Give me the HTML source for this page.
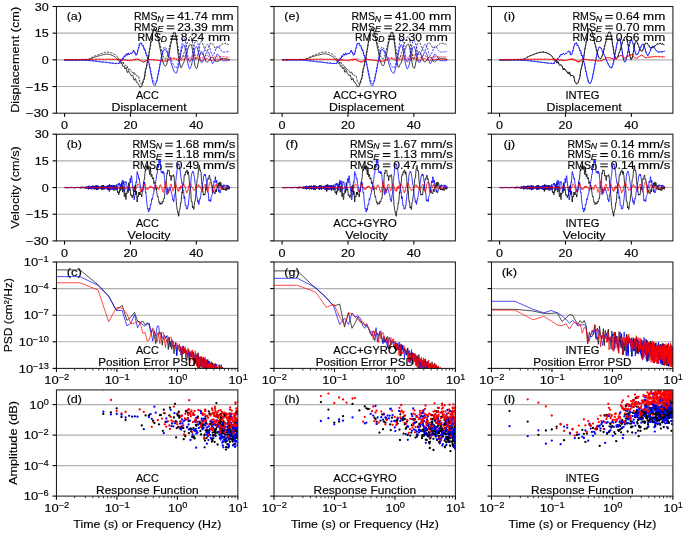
<!DOCTYPE html><html><head><meta charset="utf-8"><title>figure</title><style>html,body{margin:0;padding:0;background:#fff;}svg{display:block;filter:blur(0.3px);}text{font-family:"Liberation Sans",sans-serif;fill:#000;stroke:#000;stroke-width:0.15px;}</style></head><body>
<svg width="685" height="533" viewBox="0 0 685 533">
<rect width="685" height="533" fill="#fff"/>
<defs>
<clipPath id="clip00"><rect x="56.45" y="6.5" width="181.4" height="106.7"/></clipPath>
<clipPath id="clip01"><rect x="56.45" y="134.2" width="181.4" height="106.7"/></clipPath>
<clipPath id="clip02"><rect x="56.45" y="262" width="181.4" height="106.4"/></clipPath>
<clipPath id="clip03"><rect x="56.45" y="389.9" width="181.4" height="106.2"/></clipPath>
<clipPath id="clip10"><rect x="274" y="6.5" width="181.4" height="106.7"/></clipPath>
<clipPath id="clip11"><rect x="274" y="134.2" width="181.4" height="106.7"/></clipPath>
<clipPath id="clip12"><rect x="274" y="262" width="181.4" height="106.4"/></clipPath>
<clipPath id="clip13"><rect x="274" y="389.9" width="181.4" height="106.2"/></clipPath>
<clipPath id="clip20"><rect x="491.5" y="6.5" width="181.4" height="106.7"/></clipPath>
<clipPath id="clip21"><rect x="491.5" y="134.2" width="181.4" height="106.7"/></clipPath>
<clipPath id="clip22"><rect x="491.5" y="262" width="181.4" height="106.4"/></clipPath>
<clipPath id="clip23"><rect x="491.5" y="389.9" width="181.4" height="106.2"/></clipPath>
</defs>
<line x1="52.55" y1="6.5" x2="56.45" y2="6.5" stroke="#000" stroke-width="1.1"/>
<text x="48.7" y="10.6" text-anchor="end" font-size="11.5" textLength="14" lengthAdjust="spacingAndGlyphs">30</text>
<line x1="56.45" y1="33.17" x2="237.85" y2="33.17" stroke="#b0b0b0" stroke-width="1.1"/>
<line x1="52.55" y1="33.17" x2="56.45" y2="33.17" stroke="#000" stroke-width="1.1"/>
<text x="48.7" y="37.27" text-anchor="end" font-size="11.5" textLength="14" lengthAdjust="spacingAndGlyphs">15</text>
<line x1="56.45" y1="59.85" x2="237.85" y2="59.85" stroke="#b0b0b0" stroke-width="1.1"/>
<line x1="52.55" y1="59.85" x2="56.45" y2="59.85" stroke="#000" stroke-width="1.1"/>
<text x="48.7" y="63.95" text-anchor="end" font-size="11.5" textLength="7" lengthAdjust="spacingAndGlyphs">0</text>
<line x1="56.45" y1="86.53" x2="237.85" y2="86.53" stroke="#b0b0b0" stroke-width="1.1"/>
<line x1="52.55" y1="86.53" x2="56.45" y2="86.53" stroke="#000" stroke-width="1.1"/>
<text x="48.7" y="90.62" text-anchor="end" font-size="11.5" textLength="23.2" lengthAdjust="spacingAndGlyphs">−15</text>
<line x1="52.55" y1="113.2" x2="56.45" y2="113.2" stroke="#000" stroke-width="1.1"/>
<text x="48.7" y="117.3" text-anchor="end" font-size="11.5" textLength="23.2" lengthAdjust="spacingAndGlyphs">−30</text>
<line x1="64.55" y1="113.2" x2="64.55" y2="116.8" stroke="#000" stroke-width="1.1"/>
<text x="64.55" y="128.9" text-anchor="middle" font-size="11.5" textLength="7" lengthAdjust="spacingAndGlyphs">0</text>
<line x1="130.43" y1="113.2" x2="130.43" y2="116.8" stroke="#000" stroke-width="1.1"/>
<text x="130.43" y="128.9" text-anchor="middle" font-size="11.5" textLength="14" lengthAdjust="spacingAndGlyphs">20</text>
<line x1="196.31" y1="113.2" x2="196.31" y2="116.8" stroke="#000" stroke-width="1.1"/>
<text x="196.31" y="128.9" text-anchor="middle" font-size="11.5" textLength="14" lengthAdjust="spacingAndGlyphs">40</text>
<g clip-path="url(#clip00)">
<path d="M64.5,59.9 64.9,59.9 65.2,59.9 65.6,59.9 65.9,59.9 66.3,59.9 66.6,59.9 67.0,59.9 67.3,59.9 67.7,59.9 68.0,59.9 68.3,59.9 68.7,59.9 69.0,59.9 69.4,59.9 69.7,59.9 70.1,59.9 70.4,59.9 70.8,59.9 71.1,59.9 71.4,59.9 71.8,59.9 72.1,59.9 72.5,59.9 72.8,59.9 73.2,59.9 73.5,59.9 73.9,59.9 74.2,59.9 74.5,59.9 74.9,59.9 75.2,59.9 75.6,59.9 75.9,59.9 76.3,59.9 76.6,59.9 77.0,59.9 77.3,59.9 77.6,59.9 78.0,59.9 78.3,59.9 78.7,59.9 79.0,59.9 79.4,59.9 79.7,59.9 80.1,59.9 80.4,59.9 80.7,59.9 81.1,59.8 81.4,59.8 81.8,59.8 82.1,59.8 82.5,59.8 82.8,59.8 83.2,59.8 83.5,59.8 83.9,59.8 84.2,59.8 84.5,59.8 84.9,59.8 85.2,59.8 85.6,59.8 85.9,59.8 86.3,59.8 86.6,59.8 87.0,59.7 87.3,59.7 87.6,59.7 88.0,59.6 88.3,59.5 88.7,59.4 89.0,59.3 89.4,59.2 89.7,59.0 90.1,58.9 90.4,58.8 90.7,58.6 91.1,58.5 91.4,58.3 91.8,58.2 92.1,58.0 92.5,57.9 92.8,57.7 93.2,57.6 93.5,57.5 93.8,57.3 94.2,57.2 94.5,57.1 94.9,57.0 95.2,56.9 95.6,56.8 95.9,56.7 96.3,56.6 96.6,56.5 96.9,56.4 97.3,56.3 97.6,56.2 98.0,56.1 98.3,56.0 98.7,55.9 99.0,55.8 99.4,55.7 99.7,55.6 100.1,55.5 100.4,55.4 100.7,55.3 101.1,55.2 101.4,55.1 101.8,55.0 102.1,54.9 102.5,54.9 102.8,54.8 103.2,54.7 103.5,54.6 103.8,54.6 104.2,54.5 104.5,54.4 104.9,54.4 105.2,54.3 105.6,54.3 105.9,54.3 106.3,54.2 106.6,54.2 106.9,54.2 107.3,54.2 107.6,54.2 108.0,54.2 108.3,54.2 108.7,54.2 109.0,54.3 109.4,54.4 109.7,54.4 110.0,54.5 110.4,54.6 110.7,54.8 111.1,54.9 111.4,55.0 111.8,55.2 112.1,55.3 112.5,55.5 112.8,55.7 113.1,55.9 113.5,56.0 113.8,56.2 114.2,56.4 114.5,56.6 114.9,56.8 115.2,57.1 115.6,57.4 115.9,57.7 116.2,58.1 116.6,58.5 116.9,58.8 117.3,59.0 117.6,59.3 118.0,59.7 118.3,60.4 118.7,60.9 119.0,61.1 119.4,61.2 119.7,61.6 120.0,62.3 120.4,63.0 120.7,63.4 121.1,63.4 121.4,63.2 121.8,63.2 122.1,63.9 122.5,65.0 122.8,66.1 123.1,66.6 123.5,66.3 123.8,66.0 124.2,66.4 124.5,67.6 124.9,68.8 125.2,68.8 125.6,68.0 125.9,67.3 126.2,67.8 126.6,69.5 126.9,71.4 127.3,72.5 127.6,72.4 128.0,71.7 128.3,70.9 128.7,70.8 129.0,71.5 129.3,72.6 129.7,73.4 130.0,73.8 130.4,74.0 130.7,74.5 131.1,75.3 131.4,75.9 131.8,75.9 132.1,75.4 132.4,75.0 132.8,75.4 133.1,76.6 133.5,78.1 133.8,79.5 134.2,80.2 134.5,80.1 134.9,79.3 135.2,78.6 135.6,78.8 135.9,80.1 136.2,81.7 136.6,82.4 136.9,82.3 137.3,82.1 137.6,82.6 138.0,83.6 138.3,84.3 138.7,84.4 139.0,84.6 139.3,85.5 139.7,86.7 140.0,87.4 140.4,87.2 140.7,86.6 141.1,86.5 141.4,86.6 141.8,86.4 142.1,85.4 142.4,83.9 142.8,82.3 143.1,80.9 143.5,79.9 143.8,79.2 144.2,78.2 144.5,76.5 144.9,73.9 145.2,71.1 145.5,69.2 145.9,68.4 146.2,67.7 146.6,65.9 146.9,63.3 147.3,61.1 147.6,60.1 148.0,59.6 148.3,58.2 148.6,55.6 149.0,52.9 149.3,51.0 149.7,49.6 150.0,47.7 150.4,45.1 150.7,42.4 151.1,40.5 151.4,39.2 151.8,37.9 152.1,36.1 152.4,34.2 152.8,32.7 153.1,31.4 153.5,30.1 153.8,28.9 154.2,28.3 154.5,28.8 154.9,29.8 155.2,30.5 155.5,30.7 155.9,30.8 156.2,31.4 156.6,32.5 156.9,33.8 157.3,35.0 157.6,36.4 158.0,38.1 158.3,39.9 158.6,41.8 159.0,43.4 159.3,45.0 159.7,46.7 160.0,48.4 160.4,50.1 160.7,51.6 161.1,53.2 161.4,55.0 161.7,57.0 162.1,58.8 162.4,60.3 162.8,61.3 163.1,62.3 163.5,63.2 163.8,64.2 164.2,64.9 164.5,65.5 164.8,65.8 165.2,65.9 165.5,65.9 165.9,65.7 166.2,65.3 166.6,64.6 166.9,63.5 167.3,62.1 167.6,60.5 167.9,58.8 168.3,57.2 168.6,55.9 169.0,54.6 169.3,53.1 169.7,51.1 170.0,48.8 170.4,46.5 170.7,44.6 171.1,43.1 171.4,41.9 171.7,40.4 172.1,38.7 172.4,37.0 172.8,35.6 173.1,34.6 173.5,33.9 173.8,33.4 174.2,33.0 174.5,32.8 174.8,33.0 175.2,33.6 175.5,34.7 175.9,36.4 176.2,38.6 176.6,41.0 176.9,43.5 177.3,46.0 177.6,48.9 177.9,52.1 178.3,55.3 178.6,57.9 179.0,59.9 179.3,61.6 179.7,63.3 180.0,65.0 180.4,66.6 180.7,67.6 181.0,67.8 181.4,67.4 181.7,66.7 182.1,65.8 182.4,65.0 182.8,64.4 183.1,63.9 183.5,63.2 183.8,62.4 184.1,61.4 184.5,60.3 184.8,59.1 185.2,57.7 185.5,56.2 185.9,54.9 186.2,53.9 186.6,53.0 186.9,51.9 187.3,50.7 187.6,49.7 187.9,48.8 188.3,47.9 188.6,46.9 189.0,45.8 189.3,45.1 189.7,44.7 190.0,44.6 190.4,44.5 190.7,44.3 191.0,44.4 191.4,45.1 191.7,46.3 192.1,47.8 192.4,49.6 192.8,51.7 193.1,54.0 193.5,56.2 193.8,58.2 194.1,60.3 194.5,62.6 194.8,64.8 195.2,66.5 195.5,67.5 195.9,67.9 196.2,68.3 196.6,68.6 196.9,68.5 197.2,67.6 197.6,66.0 197.9,64.2 198.3,62.6 198.6,61.1 199.0,59.5 199.3,57.6 199.7,55.7 200.0,54.3 200.3,53.4 200.7,52.7 201.0,52.2 201.4,52.0 201.7,51.9 202.1,52.2 202.4,52.7 202.8,53.3 203.1,54.1 203.5,55.1 203.8,56.3 204.1,57.2 204.5,57.9 204.8,58.4 205.2,59.0 205.5,59.9 205.9,60.9 206.2,61.6 206.6,62.0 206.9,62.1 207.2,62.1 207.6,62.1 207.9,61.9 208.3,61.5 208.6,61.1 209.0,60.7 209.3,60.3 209.7,59.8 210.0,59.1 210.3,58.5 210.7,58.1 211.0,57.9 211.4,57.6 211.7,57.3 212.1,57.1 212.4,57.0 212.8,57.4 213.1,57.9 213.4,58.4 213.8,58.7 214.1,58.9 214.5,59.2 214.8,59.6 215.2,60.2 215.5,60.9 215.9,61.6 216.2,61.9 216.5,61.8 216.9,61.4 217.2,61.2 217.6,61.3 217.9,61.5 218.3,61.5 218.6,60.9 219.0,60.2 219.3,59.7 219.6,59.8 220.0,60.2 220.3,60.3 220.7,59.9 221.0,59.0 221.4,58.3 221.7,57.9 222.1,58.1 222.4,58.5 222.8,58.8 223.1,58.9 223.4,58.6 223.8,58.3 224.1,58.2 224.5,58.3 224.8,58.6 225.2,58.7 225.5,58.6 225.9,58.4 226.2,58.4 226.5,58.5 226.9,58.8 227.2,59.0 227.6,59.1 227.9,59.2 228.3,59.2 228.6,59.3 229.0,59.4 229.3,59.5 229.6,59.7" fill="none" stroke="#000000" stroke-width="0.8" stroke-linejoin="round"/>
<path d="M64.5,59.9 64.9,59.9 65.2,59.9 65.6,59.9 65.9,59.9 66.3,59.9 66.6,59.9 67.0,59.9 67.3,59.9 67.7,59.9 68.0,59.9 68.3,59.9 68.7,59.9 69.0,59.9 69.4,59.9 69.7,59.9 70.1,59.9 70.4,59.9 70.8,59.9 71.1,59.9 71.4,59.9 71.8,59.9 72.1,59.9 72.5,59.9 72.8,59.9 73.2,59.9 73.5,59.9 73.9,59.9 74.2,59.9 74.5,59.9 74.9,59.9 75.2,59.9 75.6,59.9 75.9,59.9 76.3,59.9 76.6,59.9 77.0,59.9 77.3,59.9 77.6,59.9 78.0,59.9 78.3,59.9 78.7,59.9 79.0,59.9 79.4,59.9 79.7,59.9 80.1,59.9 80.4,59.9 80.7,59.9 81.1,59.8 81.4,59.8 81.8,59.8 82.1,59.8 82.5,59.8 82.8,59.8 83.2,59.8 83.5,59.8 83.9,59.8 84.2,59.8 84.5,59.8 84.9,59.8 85.2,59.8 85.6,59.8 85.9,59.8 86.3,59.8 86.6,59.8 87.0,59.7 87.3,59.7 87.6,59.6 88.0,59.5 88.3,59.4 88.7,59.3 89.0,59.1 89.4,59.0 89.7,58.8 90.1,58.6 90.4,58.4 90.7,58.2 91.1,58.0 91.4,57.8 91.8,57.6 92.1,57.3 92.5,57.1 92.8,56.9 93.2,56.7 93.5,56.6 93.8,56.4 94.2,56.2 94.5,56.1 94.9,55.9 95.2,55.8 95.6,55.7 95.9,55.5 96.3,55.4 96.6,55.3 96.9,55.1 97.3,55.0 97.6,54.9 98.0,54.7 98.3,54.6 98.7,54.5 99.0,54.3 99.4,54.2 99.7,54.1 100.1,53.9 100.4,53.8 100.7,53.7 101.1,53.6 101.4,53.4 101.8,53.3 102.1,53.2 102.5,53.1 102.8,53.0 103.2,52.9 103.5,52.8 103.8,52.7 104.2,52.6 104.5,52.6 104.9,52.5 105.2,52.4 105.6,52.4 105.9,52.3 106.3,52.3 106.6,52.2 106.9,52.2 107.3,52.2 107.6,52.2 108.0,52.2 108.3,52.2 108.7,52.3 109.0,52.3 109.4,52.4 109.7,52.4 110.0,52.5 110.4,52.6 110.7,52.7 111.1,52.8 111.4,52.9 111.8,53.0 112.1,53.2 112.5,53.3 112.8,53.5 113.1,53.6 113.5,53.8 113.8,54.0 114.2,54.1 114.5,54.3 114.9,54.5 115.2,54.7 115.6,54.9 115.9,55.3 116.2,55.7 116.6,56.0 116.9,56.3 117.3,56.7 117.6,57.4 118.0,58.3 118.3,58.8 118.7,58.7 119.0,58.6 119.4,59.2 119.7,60.3 120.0,61.0 120.4,60.9 120.7,60.4 121.1,60.6 121.4,61.7 121.8,62.9 122.1,63.1 122.5,62.4 122.8,61.6 123.1,61.7 123.5,62.7 123.8,64.0 124.2,65.0 124.5,65.4 124.9,65.2 125.2,65.1 125.6,65.1 125.9,65.4 126.2,65.4 126.6,65.3 126.9,65.5 127.3,66.6 127.6,68.4 128.0,69.6 128.3,69.6 128.7,68.7 129.0,68.2 129.3,68.7 129.7,69.6 130.0,70.1 130.4,70.0 130.7,70.0 131.1,70.7 131.4,71.6 131.8,72.1 132.1,72.1 132.4,72.4 132.8,73.2 133.1,74.0 133.5,73.8 133.8,72.8 134.2,72.0 134.5,72.2 134.9,73.5 135.2,75.0 135.6,75.9 135.9,76.1 136.2,75.9 136.6,75.6 136.9,75.5 137.3,75.6 137.6,75.8 138.0,75.8 138.3,75.8 138.7,76.3 139.0,77.6 139.3,79.6 139.7,81.3 140.0,82.2 140.4,82.5 140.7,82.8 141.1,83.4 141.4,84.0 141.8,84.1 142.1,83.9 142.4,83.6 142.8,83.3 143.1,82.6 143.5,81.5 143.8,80.2 144.2,79.3 144.5,78.3 144.9,76.7 145.2,74.2 145.5,71.5 145.9,69.5 146.2,68.3 146.6,67.3 146.9,65.8 147.3,63.8 147.6,62.0 148.0,60.9 148.3,59.9 148.6,58.2 149.0,55.6 149.3,52.8 149.7,50.3 150.0,48.4 150.4,46.6 150.7,44.6 151.1,42.4 151.4,40.4 151.8,38.7 152.1,37.1 152.4,35.0 152.8,32.5 153.1,30.4 153.5,29.1 153.8,28.7 154.2,28.8 154.5,28.9 154.9,28.9 155.2,29.1 155.5,29.6 155.9,30.3 156.2,30.9 156.6,31.4 156.9,32.1 157.3,33.3 157.6,34.7 158.0,36.1 158.3,37.4 158.6,38.6 159.0,40.1 159.3,41.6 159.7,43.1 160.0,44.4 160.4,45.6 160.7,47.1 161.1,48.7 161.4,50.1 161.7,51.3 162.1,52.2 162.4,53.3 162.8,54.6 163.1,56.0 163.5,57.1 163.8,57.6 164.2,57.8 164.5,58.0 164.8,58.4 165.2,58.8 165.5,58.8 165.9,58.5 166.2,57.9 166.6,57.3 166.9,56.5 167.3,55.6 167.6,54.5 167.9,53.3 168.3,52.1 168.6,50.8 169.0,49.3 169.3,47.6 169.7,46.0 170.0,44.6 170.4,43.4 170.7,42.1 171.1,40.5 171.4,39.0 171.7,37.6 172.1,36.5 172.4,35.5 172.8,34.4 173.1,33.4 173.5,32.7 173.8,32.2 174.2,32.0 174.5,31.8 174.8,32.0 175.2,32.6 175.5,33.6 175.9,34.8 176.2,36.1 176.6,38.0 176.9,40.3 177.3,42.7 177.6,44.8 177.9,46.6 178.3,48.7 178.6,51.2 179.0,53.6 179.3,55.3 179.7,56.2 180.0,56.9 180.4,57.9 180.7,58.9 181.0,59.2 181.4,58.8 181.7,58.0 182.1,57.5 182.4,57.4 182.8,57.1 183.1,56.0 183.5,54.5 183.8,53.4 184.1,52.7 184.5,52.2 184.8,51.2 185.2,49.8 185.5,48.5 185.9,47.5 186.2,46.5 186.6,45.3 186.9,43.8 187.3,42.4 187.6,41.4 187.9,40.9 188.3,40.5 188.6,39.8 189.0,38.9 189.3,38.0 189.7,37.3 190.0,36.9 190.4,36.6 190.7,36.5 191.0,36.7 191.4,37.6 191.7,38.9 192.1,40.4 192.4,42.0 192.8,43.7 193.1,45.6 193.5,47.8 193.8,49.9 194.1,51.7 194.5,53.5 194.8,55.2 195.2,56.9 195.5,58.5 195.9,59.4 196.2,59.7 196.6,59.2 196.9,58.4 197.2,57.3 197.6,55.9 197.9,54.2 198.3,52.4 198.6,50.5 199.0,48.5 199.3,46.4 199.7,44.4 200.0,42.9 200.3,42.1 200.7,41.9 201.0,41.8 201.4,41.7 201.7,41.6 202.1,42.0 202.4,42.9 202.8,44.0 203.1,44.9 203.5,45.7 203.8,46.6 204.1,47.6 204.5,48.6 204.8,49.5 205.2,50.2 205.5,50.6 205.9,50.8 206.2,51.0 206.6,51.2 206.9,51.3 207.2,51.2 207.6,50.7 207.9,49.8 208.3,48.7 208.6,47.7 209.0,46.8 209.3,45.9 209.7,44.9 210.0,44.0 210.3,43.4 210.7,43.3 211.0,43.3 211.4,43.3 211.7,43.2 212.1,43.2 212.4,43.6 212.8,44.2 213.1,44.7 213.4,45.1 213.8,45.4 214.1,46.1 214.5,46.9 214.8,47.6 215.2,47.8 215.5,47.7 215.9,47.7 216.2,47.9 216.5,48.2 216.9,48.2 217.2,47.9 217.6,47.5 217.9,47.4 218.3,47.5 218.6,47.4 219.0,46.8 219.3,46.2 219.6,45.8 220.0,45.7 220.3,45.8 220.7,45.6 221.0,45.1 221.4,44.6 221.7,44.2 222.1,44.0 222.4,43.9 222.8,43.8 223.1,43.8 223.4,43.8 223.8,43.9 224.1,43.9 224.5,43.8 224.8,43.5 225.2,43.4 225.5,43.4 225.9,43.6 226.2,44.1 226.5,44.4 226.9,44.5 227.2,44.2 227.6,44.0 227.9,44.0 228.3,44.3 228.6,44.6 229.0,44.7 229.3,44.9 229.6,45.2" fill="none" stroke="#000000" stroke-width="0.8" stroke-linejoin="round" stroke-dasharray="2.2,1.2"/>
<path d="M64.5,59.9 64.9,59.9 65.2,59.9 65.6,59.9 65.9,59.9 66.3,59.9 66.6,59.9 67.0,59.9 67.3,59.9 67.7,59.9 68.0,59.9 68.3,59.9 68.7,59.9 69.0,59.9 69.4,59.9 69.7,59.9 70.1,59.9 70.4,59.9 70.8,59.9 71.1,59.9 71.4,59.9 71.8,59.9 72.1,59.9 72.5,59.9 72.8,59.9 73.2,59.9 73.5,59.9 73.9,59.9 74.2,59.9 74.5,59.9 74.9,59.9 75.2,59.9 75.6,59.9 75.9,59.9 76.3,59.9 76.6,59.9 77.0,59.9 77.3,59.9 77.6,59.9 78.0,59.9 78.3,59.9 78.7,59.9 79.0,59.9 79.4,59.9 79.7,59.9 80.1,59.9 80.4,59.9 80.7,59.9 81.1,59.9 81.4,59.9 81.8,59.9 82.1,59.9 82.5,59.9 82.8,59.9 83.2,59.9 83.5,59.9 83.9,60.0 84.2,60.0 84.5,60.0 84.9,60.1 85.2,60.1 85.6,60.1 85.9,60.2 86.3,60.2 86.6,60.2 87.0,60.3 87.3,60.3 87.6,60.4 88.0,60.4 88.3,60.5 88.7,60.5 89.0,60.5 89.4,60.6 89.7,60.6 90.1,60.7 90.4,60.7 90.7,60.7 91.1,60.8 91.4,60.8 91.8,60.8 92.1,60.9 92.5,60.9 92.8,60.9 93.2,61.0 93.5,61.0 93.8,61.1 94.2,61.1 94.5,61.1 94.9,61.2 95.2,61.2 95.6,61.2 95.9,61.3 96.3,61.3 96.6,61.4 96.9,61.4 97.3,61.4 97.6,61.5 98.0,61.5 98.3,61.6 98.7,61.6 99.0,61.7 99.4,61.7 99.7,61.7 100.1,61.8 100.4,61.8 100.7,61.9 101.1,61.9 101.4,61.9 101.8,62.0 102.1,62.0 102.5,62.1 102.8,62.1 103.2,62.1 103.5,62.2 103.8,62.2 104.2,62.2 104.5,62.3 104.9,62.3 105.2,62.4 105.6,62.4 105.9,62.4 106.3,62.5 106.6,62.5 106.9,62.6 107.3,62.6 107.6,62.6 108.0,62.7 108.3,62.7 108.7,62.8 109.0,62.8 109.4,62.9 109.7,62.9 110.0,63.0 110.4,63.0 110.7,63.0 111.1,63.1 111.4,63.1 111.8,63.2 112.1,63.2 112.5,63.2 112.8,63.3 113.1,63.3 113.5,63.3 113.8,63.4 114.2,63.4 114.5,63.4 114.9,63.5 115.2,63.5 115.6,63.5 115.9,63.5 116.2,63.6 116.6,63.7 116.9,63.6 117.3,63.5 117.6,63.5 118.0,63.5 118.3,63.4 118.7,63.3 119.0,63.3 119.4,63.1 119.7,62.4 120.0,61.9 120.4,61.7 120.7,61.1 121.1,60.3 121.4,60.1 121.8,60.7 122.1,60.3 122.5,58.7 122.8,57.8 123.1,58.5 123.5,58.8 123.8,57.4 124.2,55.8 124.5,55.8 124.9,56.6 125.2,56.4 125.6,55.3 125.9,54.2 126.2,53.8 126.6,54.2 126.9,55.1 127.3,55.4 127.6,54.3 128.0,52.9 128.3,53.0 128.7,54.3 129.0,54.9 129.3,54.3 129.7,53.9 130.0,53.9 130.4,53.5 130.7,53.1 131.1,53.4 131.4,54.0 131.8,53.5 132.1,52.5 132.4,52.3 132.8,52.5 133.1,51.5 133.5,50.1 133.8,50.3 134.2,51.9 134.5,52.6 134.9,52.2 135.2,52.7 135.6,54.4 135.9,55.4 136.2,54.8 136.6,54.2 136.9,54.2 137.3,53.4 137.6,51.1 138.0,49.2 138.3,48.7 138.7,48.3 139.0,46.6 139.3,44.6 139.7,43.7 140.0,43.6 140.4,43.3 140.7,42.9 141.1,43.0 141.4,43.6 141.8,44.3 142.1,45.1 142.4,45.7 142.8,45.8 143.1,45.4 143.5,46.0 143.8,47.9 144.2,49.7 144.5,50.1 144.9,49.5 145.2,49.8 145.5,51.5 145.9,53.7 146.2,54.8 146.6,54.9 146.9,55.3 147.3,57.1 147.6,59.4 148.0,60.8 148.3,61.1 148.6,61.7 149.0,63.4 149.3,65.5 149.7,67.3 150.0,68.9 150.4,70.8 150.7,72.9 151.1,74.6 151.4,76.0 151.8,77.7 152.1,79.5 152.4,81.2 152.8,82.6 153.1,83.8 153.5,84.7 153.8,85.1 154.2,85.3 154.5,85.6 154.9,86.0 155.2,85.7 155.5,84.7 155.9,83.5 156.2,82.6 156.6,81.9 156.9,80.9 157.3,79.3 157.6,77.4 158.0,75.7 158.3,74.3 158.6,72.7 159.0,70.9 159.3,68.9 159.7,67.0 160.0,65.2 160.4,63.4 160.7,61.7 161.1,60.0 161.4,58.3 161.7,56.7 162.1,55.2 162.4,53.9 162.8,52.7 163.1,51.5 163.5,50.7 163.8,50.4 164.2,50.0 164.5,49.3 164.8,49.0 165.2,49.3 165.5,50.1 165.9,50.6 166.2,51.0 166.6,51.6 166.9,52.5 167.3,53.2 167.6,53.8 167.9,54.5 168.3,55.5 168.6,56.3 169.0,56.9 169.3,57.5 169.7,58.6 170.0,59.8 170.4,60.8 170.7,61.7 171.1,62.8 171.4,64.0 171.7,65.1 172.1,66.0 172.4,67.1 172.8,68.1 173.1,69.0 173.5,69.9 173.8,70.8 174.2,71.6 174.5,72.0 174.8,72.4 175.2,72.7 175.5,73.0 175.9,73.3 176.2,73.3 176.6,72.9 176.9,71.9 177.3,70.6 177.6,69.4 177.9,68.3 178.3,67.0 178.6,65.5 179.0,63.7 179.3,61.8 179.7,59.8 180.0,57.8 180.4,56.0 180.7,54.4 181.0,52.8 181.4,51.0 181.7,49.5 182.1,48.2 182.4,47.1 182.8,46.0 183.1,45.2 183.5,44.8 183.8,44.6 184.1,44.9 184.5,45.8 184.8,47.0 185.2,48.3 185.5,49.6 185.9,51.3 186.2,53.4 186.6,55.6 186.9,57.7 187.3,59.8 187.6,61.8 187.9,63.6 188.3,65.1 188.6,66.4 189.0,67.6 189.3,68.5 189.7,68.9 190.0,68.7 190.4,68.1 190.7,67.3 191.0,66.4 191.4,65.3 191.7,64.0 192.1,62.4 192.4,60.6 192.8,58.6 193.1,56.8 193.5,55.3 193.8,54.1 194.1,52.6 194.5,50.8 194.8,49.0 195.2,47.9 195.5,47.4 195.9,47.0 196.2,46.5 196.6,46.5 196.9,47.2 197.2,48.0 197.6,48.9 197.9,50.0 198.3,51.5 198.6,53.1 199.0,54.6 199.3,56.2 199.7,57.8 200.0,59.2 200.3,60.3 200.7,61.4 201.0,62.1 201.4,62.3 201.7,62.1 202.1,62.3 202.4,62.4 202.8,61.9 203.1,60.7 203.5,59.9 203.8,59.5 204.1,58.9 204.5,57.7 204.8,56.6 205.2,56.0 205.5,55.3 205.9,54.5 206.2,53.7 206.6,53.0 206.9,52.4 207.2,51.9 207.6,51.8 207.9,52.1 208.3,52.3 208.6,52.6 209.0,53.3 209.3,54.3 209.7,55.2 210.0,56.4 210.3,57.9 210.7,59.4 211.0,60.3 211.4,60.8 211.7,61.6 212.1,62.8 212.4,63.6 212.8,63.5 213.1,63.2 213.4,62.8 213.8,62.3 214.1,61.5 214.5,60.7 214.8,59.9 215.2,58.7 215.5,57.4 215.9,56.7 216.2,56.4 216.5,55.7 216.9,54.6 217.2,54.1 217.6,54.3 217.9,54.8 218.3,55.2 218.6,55.5 219.0,55.8 219.3,56.0 219.6,56.4 220.0,57.2 220.3,58.2 220.7,58.7 221.0,58.9 221.4,59.3 221.7,60.0 222.1,60.3 222.4,60.4 222.8,60.6 223.1,60.8 223.4,60.9 223.8,60.7 224.1,60.7 224.5,60.8 224.8,60.7 225.2,60.6 225.5,60.6 225.9,60.7 226.2,60.8 226.5,60.8 226.9,60.8 227.2,60.5 227.6,60.1 227.9,60.0 228.3,60.4 228.6,60.7 229.0,60.6 229.3,60.1 229.6,59.6" fill="none" stroke="#0000ff" stroke-width="0.8" stroke-linejoin="round"/>
<path d="M64.5,59.9 64.9,59.9 65.2,59.9 65.6,59.9 65.9,59.9 66.3,59.9 66.6,59.9 67.0,59.9 67.3,59.9 67.7,59.9 68.0,59.9 68.3,59.9 68.7,59.9 69.0,59.9 69.4,59.9 69.7,59.9 70.1,59.9 70.4,59.9 70.8,59.9 71.1,59.9 71.4,59.9 71.8,59.9 72.1,59.9 72.5,59.9 72.8,59.9 73.2,59.9 73.5,59.9 73.9,59.9 74.2,59.9 74.5,59.9 74.9,59.9 75.2,59.9 75.6,59.9 75.9,59.9 76.3,59.9 76.6,59.9 77.0,59.9 77.3,59.9 77.6,59.9 78.0,59.9 78.3,59.9 78.7,59.9 79.0,59.9 79.4,59.9 79.7,59.9 80.1,59.9 80.4,59.9 80.7,59.9 81.1,59.9 81.4,59.9 81.8,59.9 82.1,59.9 82.5,59.9 82.8,59.9 83.2,59.9 83.5,59.9 83.9,59.9 84.2,60.0 84.5,60.0 84.9,60.0 85.2,60.0 85.6,60.1 85.9,60.1 86.3,60.1 86.6,60.2 87.0,60.2 87.3,60.2 87.6,60.3 88.0,60.3 88.3,60.3 88.7,60.4 89.0,60.4 89.4,60.4 89.7,60.5 90.1,60.5 90.4,60.5 90.7,60.5 91.1,60.6 91.4,60.6 91.8,60.6 92.1,60.7 92.5,60.7 92.8,60.7 93.2,60.8 93.5,60.8 93.8,60.8 94.2,60.9 94.5,60.9 94.9,61.0 95.2,61.0 95.6,61.0 95.9,61.1 96.3,61.1 96.6,61.2 96.9,61.2 97.3,61.2 97.6,61.3 98.0,61.3 98.3,61.4 98.7,61.4 99.0,61.4 99.4,61.5 99.7,61.5 100.1,61.6 100.4,61.6 100.7,61.7 101.1,61.7 101.4,61.7 101.8,61.8 102.1,61.8 102.5,61.9 102.8,61.9 103.2,61.9 103.5,62.0 103.8,62.0 104.2,62.1 104.5,62.1 104.9,62.1 105.2,62.2 105.6,62.2 105.9,62.3 106.3,62.3 106.6,62.3 106.9,62.4 107.3,62.4 107.6,62.5 108.0,62.5 108.3,62.6 108.7,62.6 109.0,62.7 109.4,62.7 109.7,62.8 110.0,62.8 110.4,62.9 110.7,62.9 111.1,62.9 111.4,63.0 111.8,63.0 112.1,63.1 112.5,63.1 112.8,63.2 113.1,63.2 113.5,63.2 113.8,63.3 114.2,63.3 114.5,63.3 114.9,63.4 115.2,63.4 115.6,63.4 115.9,63.5 116.2,63.4 116.6,63.4 116.9,63.5 117.3,63.7 117.6,63.5 118.0,63.1 118.3,63.1 118.7,63.6 119.0,63.7 119.4,63.0 119.7,62.1 120.0,61.4 120.4,61.1 120.7,61.1 121.1,61.3 121.4,61.1 121.8,60.3 122.1,59.1 122.5,58.5 122.8,58.6 123.1,58.4 123.5,57.8 123.8,57.3 124.2,57.2 124.5,56.9 124.9,56.1 125.2,55.2 125.6,54.6 125.9,54.4 126.2,54.6 126.6,54.9 126.9,55.0 127.3,54.5 127.6,53.8 128.0,53.5 128.3,53.6 128.7,54.0 129.0,54.4 129.3,54.5 129.7,54.1 130.0,53.5 130.4,53.3 130.7,53.7 131.1,54.0 131.4,53.6 131.8,53.0 132.1,52.7 132.4,52.4 132.8,51.8 133.1,51.4 133.5,51.4 133.8,51.5 134.2,51.1 134.5,51.1 134.9,52.1 135.2,53.8 135.6,54.8 135.9,54.9 136.2,54.8 136.6,54.7 136.9,53.9 137.3,52.5 137.6,51.4 138.0,50.4 138.3,48.9 138.7,47.2 139.0,46.0 139.3,45.3 139.7,44.3 140.0,43.2 140.4,43.1 140.7,43.5 141.1,43.4 141.4,42.9 141.8,43.7 142.1,45.3 142.4,46.1 142.8,45.7 143.1,45.7 143.5,46.6 143.8,47.5 144.2,48.2 144.5,49.7 144.9,51.0 145.2,50.8 145.5,50.2 145.9,51.8 146.2,54.8 146.6,56.0 146.9,55.3 147.3,55.5 147.6,57.8 148.0,60.0 148.3,60.6 148.6,61.1 149.0,62.5 149.3,64.0 149.7,65.2 150.0,66.9 150.4,69.3 150.7,71.0 151.1,71.8 151.4,73.3 151.8,75.6 152.1,77.3 152.4,77.9 152.8,78.8 153.1,80.8 153.5,82.4 153.8,82.8 154.2,82.6 154.5,83.1 154.9,83.6 155.2,83.5 155.5,82.8 155.9,82.2 156.2,81.5 156.6,80.5 156.9,79.3 157.3,77.9 157.6,76.2 158.0,74.5 158.3,73.0 158.6,71.5 159.0,69.7 159.3,67.6 159.7,65.5 160.0,63.6 160.4,61.8 160.7,60.0 161.1,58.3 161.4,56.6 161.7,54.8 162.1,53.0 162.4,51.7 162.8,50.8 163.1,49.7 163.5,48.6 163.8,47.7 164.2,47.1 164.5,46.9 164.8,47.2 165.2,47.6 165.5,47.8 165.9,47.9 166.2,48.5 166.6,49.5 166.9,50.4 167.3,51.1 167.6,51.8 167.9,52.7 168.3,53.3 168.6,53.7 169.0,54.5 169.3,55.5 169.7,56.2 170.0,56.7 170.4,57.4 170.7,58.6 171.1,59.7 171.4,60.3 171.7,61.0 172.1,61.8 172.4,62.6 172.8,63.3 173.1,64.2 173.5,65.2 173.8,65.8 174.2,65.9 174.5,66.3 174.8,67.1 175.2,67.6 175.5,67.6 175.9,67.6 176.2,67.9 176.6,67.9 176.9,67.2 177.3,66.2 177.6,65.3 177.9,64.3 178.3,63.0 178.6,61.4 179.0,59.6 179.3,57.8 179.7,55.9 180.0,53.9 180.4,52.1 180.7,50.3 181.0,48.5 181.4,46.7 181.7,44.9 182.1,43.2 182.4,41.9 182.8,40.8 183.1,39.8 183.5,39.1 183.8,38.8 184.1,38.7 184.5,38.8 184.8,39.4 185.2,40.5 185.5,42.2 185.9,44.1 186.2,46.1 186.6,48.2 186.9,50.2 187.3,52.2 187.6,54.3 187.9,56.5 188.3,58.5 188.6,59.9 189.0,61.0 189.3,61.8 189.7,62.1 190.0,61.9 190.4,61.5 190.7,61.0 191.0,60.0 191.4,58.5 191.7,57.1 192.1,55.9 192.4,54.5 192.8,52.5 193.1,50.4 193.5,48.7 193.8,47.4 194.1,46.1 194.5,44.6 194.8,43.1 195.2,41.8 195.5,41.0 195.9,40.6 196.2,40.4 196.6,40.4 196.9,40.7 197.2,41.5 197.6,42.6 197.9,43.6 198.3,44.8 198.6,46.2 199.0,47.7 199.3,49.1 199.7,50.4 200.0,51.7 200.3,52.8 200.7,53.8 201.0,54.5 201.4,55.0 201.7,54.8 202.1,54.4 202.4,54.2 202.8,54.1 203.1,53.5 203.5,52.5 203.8,51.7 204.1,51.1 204.5,50.2 204.8,49.0 205.2,48.1 205.5,47.6 205.9,47.0 206.2,46.0 206.6,45.2 206.9,44.9 207.2,44.7 207.6,44.2 207.9,43.9 208.3,44.3 208.6,45.1 209.0,45.8 209.3,46.7 209.7,47.7 210.0,48.7 210.3,49.6 210.7,51.0 211.0,52.5 211.4,53.4 211.7,53.9 212.1,54.5 212.4,55.3 212.8,55.7 213.1,55.4 213.4,54.7 213.8,54.1 214.1,53.4 214.5,52.5 214.8,51.8 215.2,51.0 215.5,49.9 215.9,48.4 216.2,47.4 216.5,47.1 216.9,46.8 217.2,46.5 217.6,46.3 217.9,46.5 218.3,46.8 218.6,47.0 219.0,47.3 219.3,47.8 219.6,48.3 220.0,48.8 220.3,49.5 220.7,50.1 221.0,50.6 221.4,50.8 221.7,51.1 222.1,51.5 222.4,51.8 222.8,52.0 223.1,52.2 223.4,52.2 223.8,52.0 224.1,51.9 224.5,52.0 224.8,52.0 225.2,51.9 225.5,51.9 225.9,52.1 226.2,52.1 226.5,51.9 226.9,51.8 227.2,51.9 227.6,51.8 227.9,51.5 228.3,51.4 228.6,51.6 229.0,51.7 229.3,51.4 229.6,51.0" fill="none" stroke="#0000ff" stroke-width="0.8" stroke-linejoin="round" stroke-dasharray="2.2,1.2"/>
<path d="M64.5,59.9 64.9,59.8 65.2,59.8 65.6,59.8 65.9,59.8 66.3,59.8 66.6,59.8 67.0,59.8 67.3,59.8 67.7,59.7 68.0,59.7 68.3,59.7 68.7,59.7 69.0,59.7 69.4,59.7 69.7,59.7 70.1,59.7 70.4,59.7 70.8,59.7 71.1,59.7 71.4,59.6 71.8,59.6 72.1,59.6 72.5,59.6 72.8,59.6 73.2,59.6 73.5,59.6 73.9,59.6 74.2,59.6 74.5,59.6 74.9,59.6 75.2,59.6 75.6,59.6 75.9,59.5 76.3,59.5 76.6,59.5 77.0,59.5 77.3,59.5 77.6,59.5 78.0,59.5 78.3,59.5 78.7,59.5 79.0,59.5 79.4,59.5 79.7,59.5 80.1,59.5 80.4,59.5 80.7,59.5 81.1,59.5 81.4,59.5 81.8,59.4 82.1,59.4 82.5,59.4 82.8,59.4 83.2,59.4 83.5,59.4 83.9,59.4 84.2,59.4 84.5,59.4 84.9,59.4 85.2,59.4 85.6,59.4 85.9,59.4 86.3,59.4 86.6,59.4 87.0,59.4 87.3,59.4 87.6,59.4 88.0,59.4 88.3,59.4 88.7,59.4 89.0,59.4 89.4,59.4 89.7,59.4 90.1,59.4 90.4,59.4 90.7,59.4 91.1,59.4 91.4,59.4 91.8,59.4 92.1,59.4 92.5,59.3 92.8,59.3 93.2,59.3 93.5,59.3 93.8,59.3 94.2,59.3 94.5,59.3 94.9,59.3 95.2,59.3 95.6,59.3 95.9,59.3 96.3,59.3 96.6,59.3 96.9,59.3 97.3,59.3 97.6,59.3 98.0,59.3 98.3,59.3 98.7,59.3 99.0,59.3 99.4,59.3 99.7,59.3 100.1,59.3 100.4,59.3 100.7,59.3 101.1,59.3 101.4,59.3 101.8,59.3 102.1,59.3 102.5,59.3 102.8,59.3 103.2,59.3 103.5,59.3 103.8,59.3 104.2,59.3 104.5,59.3 104.9,59.3 105.2,59.3 105.6,59.3 105.9,59.3 106.3,59.3 106.6,59.3 106.9,59.3 107.3,59.3 107.6,59.3 108.0,59.3 108.3,59.3 108.7,59.3 109.0,59.3 109.4,59.3 109.7,59.3 110.0,59.3 110.4,59.3 110.7,59.3 111.1,59.3 111.4,59.3 111.8,59.3 112.1,59.3 112.5,59.3 112.8,59.3 113.1,59.4 113.5,59.4 113.8,59.4 114.2,59.4 114.5,59.4 114.9,59.4 115.2,59.4 115.6,59.4 115.9,59.4 116.2,59.4 116.6,59.5 116.9,59.6 117.3,59.4 117.6,59.2 118.0,59.3 118.3,59.8 118.7,60.0 119.0,59.6 119.4,59.5 119.7,59.7 120.0,59.4 120.4,59.1 120.7,59.9 121.1,60.3 121.4,59.7 121.8,59.6 122.1,60.2 122.5,60.0 122.8,59.6 123.1,59.8 123.5,59.7 123.8,59.7 124.2,60.4 124.5,60.6 124.9,60.0 125.2,59.9 125.6,60.2 125.9,60.0 126.2,60.0 126.6,60.5 126.9,60.5 127.3,60.2 127.6,60.3 128.0,60.3 128.3,60.0 128.7,60.2 129.0,60.6 129.3,60.7 129.7,60.7 130.0,60.6 130.4,60.0 130.7,59.8 131.1,60.0 131.4,60.4 131.8,60.6 132.1,60.8 132.4,60.5 132.8,59.8 133.1,59.6 133.5,59.5 133.8,59.2 134.2,59.4 134.5,60.3 134.9,60.5 135.2,59.5 135.6,58.8 135.9,58.9 136.2,58.9 136.6,58.8 136.9,59.2 137.3,59.7 137.6,59.8 138.0,59.6 138.3,59.1 138.7,58.7 139.0,59.4 139.3,60.6 139.7,60.8 140.0,60.3 140.4,60.3 140.7,60.6 141.1,60.8 141.4,61.5 141.8,61.9 142.1,61.6 142.4,61.6 142.8,61.7 143.1,61.7 143.5,62.0 143.8,62.3 144.2,62.0 144.5,61.6 144.9,61.5 145.2,61.3 145.5,61.1 145.9,61.1 146.2,60.8 146.6,60.3 146.9,59.9 147.3,59.9 147.6,59.8 148.0,59.6 148.3,59.3 148.6,59.3 149.0,60.0 149.3,60.1 149.7,59.2 150.0,59.0 150.4,59.5 150.7,59.6 151.1,59.6 151.4,60.1 151.8,60.0 152.1,59.5 152.4,59.6 152.8,59.9 153.1,59.8 153.5,59.9 153.8,60.0 154.2,60.0 154.5,60.2 154.9,60.5 155.2,60.2 155.5,60.0 155.9,60.2 156.2,60.3 156.6,60.3 156.9,60.4 157.3,60.6 157.6,60.5 158.0,60.6 158.3,60.6 158.6,60.5 159.0,60.5 159.3,60.7 159.7,60.8 160.0,60.9 160.4,61.0 160.7,60.9 161.1,60.9 161.4,61.1 161.7,61.1 162.1,61.0 162.4,61.1 162.8,61.1 163.1,61.1 163.5,61.3 163.8,61.5 164.2,61.2 164.5,61.1 164.8,61.4 165.2,61.3 165.5,61.1 165.9,61.1 166.2,61.1 166.6,61.1 166.9,61.1 167.3,60.8 167.6,60.4 167.9,60.4 168.3,60.3 168.6,59.9 169.0,59.8 169.3,60.1 169.7,59.8 170.0,59.3 170.4,59.1 170.7,58.9 171.1,58.7 171.4,58.9 171.7,59.0 172.1,58.8 172.4,58.5 172.8,58.4 173.1,58.2 173.5,58.2 173.8,58.5 174.2,58.7 174.5,58.9 174.8,59.0 175.2,58.8 175.5,58.7 175.9,59.1 176.2,59.5 176.6,59.6 176.9,59.8 177.3,60.2 177.6,60.3 177.9,60.3 178.3,60.2 178.6,60.3 179.0,60.5 179.3,60.7 179.7,60.8 180.0,61.0 180.4,60.9 180.7,60.5 181.0,60.4 181.4,60.3 181.7,60.1 182.1,59.9 182.4,59.9 182.8,59.8 183.1,59.4 183.5,59.2 183.8,59.0 184.1,58.7 184.5,58.6 184.8,58.5 185.2,58.2 185.5,58.3 185.9,58.4 186.2,58.0 186.6,57.8 186.9,58.3 187.3,58.8 187.6,59.1 187.9,59.6 188.3,60.2 188.6,60.3 189.0,60.3 189.3,60.5 189.7,60.6 190.0,60.4 190.4,60.4 190.7,60.3 191.0,60.0 191.4,59.7 191.7,59.6 192.1,59.6 192.4,59.3 192.8,59.2 193.1,58.9 193.5,58.6 193.8,58.5 194.1,58.5 194.5,58.2 194.8,57.8 195.2,57.8 195.5,58.1 195.9,57.9 196.2,57.5 196.6,57.6 196.9,57.9 197.2,58.1 197.6,58.4 197.9,58.7 198.3,58.8 198.6,59.1 199.0,59.5 199.3,59.8 199.7,60.3 200.0,60.7 200.3,60.6 200.7,60.5 201.0,60.7 201.4,60.8 201.7,60.6 202.1,60.3 202.4,60.4 202.8,60.3 203.1,59.9 203.5,59.6 203.8,59.3 204.1,59.2 204.5,59.1 204.8,58.9 205.2,58.6 205.5,58.3 205.9,58.2 206.2,58.3 206.6,58.4 206.9,58.3 207.2,58.3 207.6,58.5 207.9,58.8 208.3,59.0 208.6,59.3 209.0,59.6 209.3,59.8 209.7,60.1 210.0,60.3 210.3,60.2 210.7,60.3 211.0,60.4 211.4,60.4 211.7,60.2 212.1,60.3 212.4,60.5 212.8,60.3 213.1,60.1 213.4,60.0 213.8,60.0 214.1,60.0 214.5,59.9 214.8,59.9 215.2,59.8 215.5,59.6 215.9,59.4 216.2,59.6 216.5,59.8 216.9,59.3 217.2,59.1 217.6,59.4 217.9,59.4 218.3,59.0 218.6,59.0 219.0,59.3 219.3,59.2 219.6,59.2 220.0,59.2 220.3,59.1 220.7,59.1 221.0,59.0 221.4,58.9 221.7,59.1 222.1,59.5 222.4,59.4 222.8,59.1 223.1,59.2 223.4,59.1 223.8,58.8 224.1,59.1 224.5,59.6 224.8,59.5 225.2,59.2 225.5,59.3 225.9,59.4 226.2,59.3 226.5,59.2 226.9,59.3 227.2,59.5 227.6,59.7 227.9,59.7 228.3,59.6 228.6,59.5 229.0,59.5 229.3,59.6 229.6,59.9" fill="none" stroke="#ff0000" stroke-width="0.8" stroke-linejoin="round"/>
<path d="M64.5,59.9 64.9,59.8 65.2,59.8 65.6,59.8 65.9,59.8 66.3,59.8 66.6,59.8 67.0,59.8 67.3,59.8 67.7,59.7 68.0,59.7 68.3,59.7 68.7,59.7 69.0,59.7 69.4,59.7 69.7,59.7 70.1,59.7 70.4,59.7 70.8,59.7 71.1,59.7 71.4,59.6 71.8,59.6 72.1,59.6 72.5,59.6 72.8,59.6 73.2,59.6 73.5,59.6 73.9,59.6 74.2,59.6 74.5,59.6 74.9,59.6 75.2,59.6 75.6,59.6 75.9,59.5 76.3,59.5 76.6,59.5 77.0,59.5 77.3,59.5 77.6,59.5 78.0,59.5 78.3,59.5 78.7,59.5 79.0,59.5 79.4,59.5 79.7,59.5 80.1,59.5 80.4,59.5 80.7,59.5 81.1,59.5 81.4,59.5 81.8,59.4 82.1,59.4 82.5,59.4 82.8,59.4 83.2,59.4 83.5,59.4 83.9,59.4 84.2,59.4 84.5,59.4 84.9,59.4 85.2,59.4 85.6,59.4 85.9,59.4 86.3,59.4 86.6,59.4 87.0,59.4 87.3,59.4 87.6,59.4 88.0,59.4 88.3,59.4 88.7,59.4 89.0,59.4 89.4,59.4 89.7,59.4 90.1,59.4 90.4,59.4 90.7,59.4 91.1,59.4 91.4,59.4 91.8,59.4 92.1,59.4 92.5,59.3 92.8,59.3 93.2,59.3 93.5,59.3 93.8,59.3 94.2,59.3 94.5,59.3 94.9,59.3 95.2,59.3 95.6,59.3 95.9,59.3 96.3,59.3 96.6,59.3 96.9,59.3 97.3,59.3 97.6,59.3 98.0,59.3 98.3,59.3 98.7,59.3 99.0,59.3 99.4,59.3 99.7,59.3 100.1,59.3 100.4,59.3 100.7,59.3 101.1,59.3 101.4,59.3 101.8,59.3 102.1,59.3 102.5,59.3 102.8,59.3 103.2,59.3 103.5,59.3 103.8,59.3 104.2,59.3 104.5,59.3 104.9,59.3 105.2,59.3 105.6,59.3 105.9,59.3 106.3,59.3 106.6,59.3 106.9,59.3 107.3,59.3 107.6,59.3 108.0,59.3 108.3,59.3 108.7,59.3 109.0,59.3 109.4,59.3 109.7,59.3 110.0,59.3 110.4,59.3 110.7,59.3 111.1,59.3 111.4,59.3 111.8,59.3 112.1,59.3 112.5,59.3 112.8,59.3 113.1,59.4 113.5,59.4 113.8,59.4 114.2,59.4 114.5,59.4 114.9,59.4 115.2,59.4 115.6,59.4 115.9,59.4 116.2,59.4 116.6,59.4 116.9,59.5 117.3,59.6 117.6,59.6 118.0,59.3 118.3,59.4 118.7,59.9 119.0,59.9 119.4,59.4 119.7,59.3 120.0,59.9 120.4,59.9 120.7,59.4 121.1,59.5 121.4,60.0 121.8,59.8 122.1,59.7 122.5,60.3 122.8,60.3 123.1,59.3 123.5,59.2 123.8,60.0 124.2,60.5 124.5,60.5 124.9,60.4 125.2,59.8 125.6,59.6 125.9,60.2 126.2,60.3 126.6,60.0 126.9,60.5 127.3,60.8 127.6,60.1 128.0,59.8 128.3,60.6 128.7,60.8 129.0,60.1 129.3,60.1 129.7,60.5 130.0,60.6 130.4,60.3 130.7,60.3 131.1,60.4 131.4,60.4 131.8,60.1 132.1,60.1 132.4,60.3 132.8,60.1 133.1,59.6 133.5,59.8 133.8,60.0 134.2,59.4 134.5,59.4 134.9,59.9 135.2,59.5 135.6,58.8 135.9,59.3 136.2,59.5 136.6,58.8 136.9,59.0 137.3,59.8 137.6,59.3 138.0,58.7 138.3,59.3 138.7,59.7 139.0,59.5 139.3,60.0 139.7,60.5 140.0,60.0 140.4,59.8 140.7,60.7 141.1,61.2 141.4,61.0 141.8,61.4 142.1,61.7 142.4,61.0 142.8,60.8 143.1,61.9 143.5,62.3 143.8,61.2 144.2,61.2 144.5,62.1 144.9,61.7 145.2,60.5 145.5,60.5 145.9,60.9 146.2,60.5 146.6,60.1 146.9,60.3 147.3,59.9 147.6,59.3 148.0,59.6 148.3,59.9 148.6,59.5 149.0,59.1 149.3,59.3 149.7,59.5 150.0,59.6 150.4,59.9 150.7,59.9 151.1,59.4 151.4,59.2 151.8,59.6 152.1,59.9 152.4,59.7 152.8,59.6 153.1,60.0 153.5,60.1 153.8,59.9 154.2,59.9 154.5,59.9 154.9,59.7 155.2,59.9 155.5,60.4 155.9,60.3 156.2,60.1 156.6,60.1 156.9,60.2 157.3,60.0 157.6,60.3 158.0,60.7 158.3,60.5 158.6,60.1 159.0,60.3 159.3,60.7 159.7,60.6 160.0,60.5 160.4,60.7 160.7,60.8 161.1,60.6 161.4,60.6 161.7,60.8 162.1,61.0 162.4,61.1 162.8,60.9 163.1,60.7 163.5,60.9 163.8,61.0 164.2,61.0 164.5,61.0 164.8,61.2 165.2,61.1 165.5,60.8 165.9,60.7 166.2,60.9 166.6,60.9 166.9,60.5 167.3,60.2 167.6,60.4 167.9,60.4 168.3,59.8 168.6,59.3 169.0,59.5 169.3,59.5 169.7,59.0 170.0,58.7 170.4,58.7 170.7,58.6 171.1,58.3 171.4,58.1 171.7,57.9 172.1,57.9 172.4,57.8 172.8,57.7 173.1,57.8 173.5,58.0 173.8,57.9 174.2,57.5 174.5,57.6 174.8,58.0 175.2,58.1 175.5,57.9 175.9,58.1 176.2,58.5 176.6,58.4 176.9,58.2 177.3,58.6 177.6,58.9 177.9,58.6 178.3,58.5 178.6,58.9 179.0,59.1 179.3,59.0 179.7,59.1 180.0,59.0 180.4,58.7 180.7,58.6 181.0,58.7 181.4,58.5 181.7,58.3 182.1,58.1 182.4,57.8 182.8,57.3 183.1,57.1 183.5,57.0 183.8,56.7 184.1,56.4 184.5,56.2 184.8,55.9 185.2,55.6 185.5,55.6 185.9,55.6 186.2,55.4 186.6,55.2 186.9,55.6 187.3,56.2 187.6,56.6 187.9,57.0 188.3,57.7 188.6,58.3 189.0,58.2 189.3,58.1 189.7,58.3 190.0,58.1 190.4,57.6 190.7,57.7 191.0,58.1 191.4,57.6 191.7,57.0 192.1,56.9 192.4,56.8 192.8,56.4 193.1,56.2 193.5,56.1 193.8,56.0 194.1,55.7 194.5,55.3 194.8,54.9 195.2,54.9 195.5,55.2 195.9,55.2 196.2,54.8 196.6,54.7 196.9,55.0 197.2,55.3 197.6,55.4 197.9,55.8 198.3,56.3 198.6,56.6 199.0,56.8 199.3,57.3 199.7,57.9 200.0,58.0 200.3,57.8 200.7,58.1 201.0,58.5 201.4,58.3 201.7,57.9 202.1,57.8 202.4,57.9 202.8,57.7 203.1,57.2 203.5,56.9 203.8,56.7 204.1,56.4 204.5,56.3 204.8,56.2 205.2,55.9 205.5,55.7 205.9,55.5 206.2,55.2 206.6,55.3 206.9,55.7 207.2,55.8 207.6,55.6 207.9,55.7 208.3,56.4 208.6,56.8 209.0,56.7 209.3,57.0 209.7,57.3 210.0,57.4 210.3,57.5 210.7,57.9 211.0,57.9 211.4,57.7 211.7,57.6 212.1,57.6 212.4,57.6 212.8,57.6 213.1,57.5 213.4,57.4 213.8,57.4 214.1,57.5 214.5,57.3 214.8,57.1 215.2,57.1 215.5,57.1 215.9,57.1 216.2,56.9 216.5,56.8 216.9,56.9 217.2,57.0 217.6,56.9 217.9,56.7 218.3,56.7 218.6,56.6 219.0,56.5 219.3,56.6 219.6,56.8 220.0,56.7 220.3,56.6 220.7,56.6 221.0,56.6 221.4,56.6 221.7,56.7 222.1,56.7 222.4,56.7 222.8,56.8 223.1,56.7 223.4,56.5 223.8,56.5 224.1,56.8 224.5,56.9 224.8,56.8 225.2,56.8 225.5,56.7 225.9,56.6 226.2,56.8 226.5,56.9 226.9,56.9 227.2,57.0 227.6,57.0 227.9,56.8 228.3,56.7 228.6,57.0 229.0,57.3 229.3,57.2 229.6,57.0" fill="none" stroke="#ff0000" stroke-width="0.8" stroke-linejoin="round" stroke-dasharray="2.2,1.2"/>
</g>
<rect x="56.45" y="6.5" width="181.4" height="106.7" fill="none" stroke="#1a1a1a" stroke-width="1.05"/>
<line x1="52.55" y1="134.2" x2="56.45" y2="134.2" stroke="#000" stroke-width="1.1"/>
<text x="48.7" y="138.3" text-anchor="end" font-size="11.5" textLength="14" lengthAdjust="spacingAndGlyphs">30</text>
<line x1="56.45" y1="160.88" x2="237.85" y2="160.88" stroke="#b0b0b0" stroke-width="1.1"/>
<line x1="52.55" y1="160.88" x2="56.45" y2="160.88" stroke="#000" stroke-width="1.1"/>
<text x="48.7" y="164.97" text-anchor="end" font-size="11.5" textLength="14" lengthAdjust="spacingAndGlyphs">15</text>
<line x1="56.45" y1="187.55" x2="237.85" y2="187.55" stroke="#b0b0b0" stroke-width="1.1"/>
<line x1="52.55" y1="187.55" x2="56.45" y2="187.55" stroke="#000" stroke-width="1.1"/>
<text x="48.7" y="191.65" text-anchor="end" font-size="11.5" textLength="7" lengthAdjust="spacingAndGlyphs">0</text>
<line x1="56.45" y1="214.22" x2="237.85" y2="214.22" stroke="#b0b0b0" stroke-width="1.1"/>
<line x1="52.55" y1="214.22" x2="56.45" y2="214.22" stroke="#000" stroke-width="1.1"/>
<text x="48.7" y="218.32" text-anchor="end" font-size="11.5" textLength="23.2" lengthAdjust="spacingAndGlyphs">−15</text>
<line x1="52.55" y1="240.9" x2="56.45" y2="240.9" stroke="#000" stroke-width="1.1"/>
<text x="48.7" y="245" text-anchor="end" font-size="11.5" textLength="23.2" lengthAdjust="spacingAndGlyphs">−30</text>
<line x1="64.55" y1="240.9" x2="64.55" y2="244.5" stroke="#000" stroke-width="1.1"/>
<text x="64.55" y="256.6" text-anchor="middle" font-size="11.5" textLength="7" lengthAdjust="spacingAndGlyphs">0</text>
<line x1="130.43" y1="240.9" x2="130.43" y2="244.5" stroke="#000" stroke-width="1.1"/>
<text x="130.43" y="256.6" text-anchor="middle" font-size="11.5" textLength="14" lengthAdjust="spacingAndGlyphs">20</text>
<line x1="196.31" y1="240.9" x2="196.31" y2="244.5" stroke="#000" stroke-width="1.1"/>
<text x="196.31" y="256.6" text-anchor="middle" font-size="11.5" textLength="14" lengthAdjust="spacingAndGlyphs">40</text>
<g clip-path="url(#clip01)">
<path d="M64.5,187.6 65.0,187.6 65.5,187.6 66.0,187.6 66.5,187.6 67.0,187.6 67.5,187.6 68.0,187.6 68.5,187.6 69.0,187.6 69.5,187.6 70.0,187.6 70.5,187.6 71.0,187.6 71.5,187.6 72.0,187.6 72.5,187.6 72.9,187.6 73.4,187.6 73.9,187.6 74.4,187.6 74.5,187.6 74.6,187.6 74.7,187.6 74.8,187.6 74.9,187.6 75.0,187.6 75.1,187.6 75.2,187.6 75.3,187.6 75.4,187.6 75.5,187.6 75.6,187.6 75.7,187.6 75.8,187.6 75.9,187.6 76.0,187.6 76.1,187.6 76.2,187.5 76.3,187.5 76.4,187.5 76.5,187.5 76.6,187.6 76.7,187.6 76.8,187.6 76.9,187.5 77.0,187.5 77.1,187.5 77.2,187.6 77.3,187.6 77.4,187.6 77.5,187.6 77.6,187.5 77.7,187.5 77.8,187.5 77.9,187.6 78.0,187.6 78.1,187.6 78.2,187.5 78.3,187.4 78.4,187.4 78.5,187.6 78.6,187.8 78.7,187.9 78.8,187.8 78.9,187.5 79.0,187.2 79.1,187.0 79.2,187.1 79.3,187.4 79.4,187.7 79.5,187.9 79.6,187.9 79.7,187.8 79.8,187.7 79.9,187.6 80.0,187.6 80.1,187.4 80.2,187.2 80.3,187.0 80.4,187.0 80.5,187.3 80.6,187.9 80.7,188.3 80.8,188.5 80.9,188.2 81.0,187.6 81.1,187.0 81.2,186.8 81.3,186.9 81.3,187.3 81.4,187.7 81.5,187.8 81.6,187.8 81.7,187.7 81.8,187.6 81.9,187.7 82.0,187.8 82.1,187.8 82.2,187.7 82.3,187.4 82.4,187.1 82.5,186.9 82.6,187.1 82.7,187.5 82.8,187.9 82.9,188.1 83.0,188.1 83.1,187.9 83.2,187.6 83.3,187.3 83.4,187.1 83.5,187.2 83.6,187.4 83.7,187.6 83.8,187.7 83.9,187.7 84.0,187.5 84.1,187.3 84.2,187.4 84.3,187.6 84.4,188.0 84.5,188.1 84.6,187.9 84.7,187.5 84.8,187.0 84.9,186.8 85.0,187.0 85.1,187.5 85.2,188.1 85.3,188.3 85.4,188.1 85.5,187.6 85.6,187.1 85.7,186.8 85.8,187.1 85.9,187.6 86.0,188.1 86.1,188.3 86.2,188.0 86.3,187.3 86.4,186.7 86.5,186.6 86.6,187.1 86.7,187.9 86.8,188.4 86.9,188.4 87.0,187.9 87.1,187.2 87.2,186.9 87.3,187.1 87.4,187.7 87.5,188.1 87.6,187.9 87.7,187.2 87.8,186.6 87.9,186.7 88.0,187.4 88.1,188.5 88.2,189.0 88.3,188.7 88.4,187.6 88.5,186.5 88.6,186.0 88.7,186.5 88.8,187.4 88.9,188.3 89.0,188.6 89.1,188.4 89.2,187.9 89.3,187.5 89.4,187.2 89.5,187.0 89.6,186.8 89.7,186.9 89.7,187.3 89.8,188.0 89.9,188.6 90.0,188.8 90.1,188.2 90.2,187.3 90.3,186.4 90.4,186.2 90.5,186.6 90.6,187.4 90.7,188.2 90.8,188.6 90.9,188.6 91.0,188.3 91.1,187.9 91.2,187.4 91.3,186.8 91.4,186.3 91.5,186.2 91.6,186.6 91.7,187.6 91.8,188.7 91.9,189.4 92.0,189.3 92.1,188.4 92.2,187.0 92.3,185.9 92.4,185.7 92.5,186.4 92.6,187.6 92.7,188.6 92.8,188.9 92.9,188.3 93.0,187.3 93.1,186.7 93.2,186.8 93.3,187.7 93.4,188.7 93.5,188.9 93.6,188.1 93.7,186.7 93.8,185.6 93.9,185.6 94.0,186.7 94.1,188.3 94.2,189.4 94.3,189.4 94.4,188.5 94.5,187.4 94.6,186.7 94.7,186.8 94.8,187.2 94.9,187.4 95.0,187.3 95.1,187.0 95.2,186.9 95.3,187.2 95.4,187.9 95.5,188.7 95.6,189.1 95.7,189.1 95.8,188.3 95.9,187.0 96.0,185.7 96.1,185.1 96.2,185.5 96.3,187.1 96.4,189.0 96.5,190.1 96.6,189.8 96.7,188.2 96.8,186.4 96.9,185.7 97.0,186.4 97.1,187.9 97.2,188.8 97.3,188.5 97.4,187.1 97.5,185.9 97.6,186.0 97.7,187.3 97.8,189.0 97.9,189.8 98.0,188.9 98.0,187.2 98.1,185.9 98.2,185.9 98.3,187.1 98.4,188.4 98.5,188.8 98.6,188.2 98.7,187.1 98.8,186.4 98.9,186.6 99.0,187.4 99.1,188.3 99.2,188.5 99.3,188.3 99.4,187.8 99.5,187.5 99.6,187.3 99.7,187.2 99.8,187.1 99.9,186.8 100.0,186.8 100.1,187.1 100.2,187.8 100.3,188.4 100.4,188.8 100.5,188.6 100.6,188.0 100.7,187.1 100.8,186.4 100.9,186.3 101.0,186.9 101.1,187.9 101.2,188.7 101.3,188.7 101.4,187.7 101.5,186.4 101.6,185.8 101.7,186.5 101.8,188.1 101.9,189.7 102.0,190.0 102.1,188.8 102.2,186.8 102.3,185.3 102.4,185.1 102.5,186.2 102.6,187.6 102.7,188.4 102.8,188.5 102.9,188.4 103.0,188.4 103.1,188.7 103.2,188.7 103.3,187.8 103.4,186.3 103.5,185.1 103.6,185.1 103.7,186.5 103.8,188.5 103.9,189.8 104.0,189.7 104.1,188.4 104.2,187.0 104.3,186.4 104.4,186.8 104.5,187.6 104.6,188.0 104.7,187.7 104.8,187.2 104.9,186.9 105.0,187.1 105.1,187.7 105.2,188.1 105.3,188.0 105.4,187.6 105.5,187.4 105.6,187.5 105.7,187.9 105.8,188.2 105.9,188.1 106.0,187.5 106.1,186.8 106.2,186.4 106.3,186.6 106.4,187.2 106.4,187.9 106.5,188.4 106.6,188.4 106.7,188.0 106.8,187.5 106.9,187.3 107.0,187.6 107.1,188.0 107.2,188.1 107.3,187.5 107.4,186.5 107.5,185.8 107.6,186.0 107.7,187.2 107.8,188.8 107.9,189.7 108.0,189.4 108.1,188.2 108.2,187.0 108.3,186.7 108.4,187.2 108.5,187.8 108.6,187.5 108.7,186.3 108.8,185.3 108.9,185.5 109.0,187.4 109.1,190.0 109.2,191.5 109.3,190.9 109.4,188.4 109.5,185.7 109.6,184.3 109.7,184.8 109.8,186.5 109.9,187.9 110.0,188.3 110.1,187.9 110.2,187.6 110.3,188.2 110.4,189.1 110.5,189.6 110.6,188.9 110.7,187.2 110.8,185.6 110.9,184.9 111.0,185.5 111.1,186.9 111.2,188.1 111.3,188.7 111.4,188.7 111.5,188.6 111.6,188.5 111.7,188.3 111.8,187.8 111.9,187.0 112.0,186.2 112.1,185.9 112.2,186.4 112.3,187.4 112.4,188.4 112.5,188.7 112.6,188.4 112.7,187.6 112.8,187.0 112.9,186.8 113.0,187.3 113.1,188.1 113.2,188.6 113.3,188.5 113.4,187.6 113.5,186.2 113.6,185.2 113.7,185.3 113.8,186.9 113.9,189.1 114.0,190.7 114.1,190.8 114.2,189.2 114.3,187.0 114.4,185.5 114.5,185.4 114.6,186.4 114.7,187.5 114.8,187.8 114.8,187.3 114.9,186.7 115.0,186.9 115.1,188.0 115.2,189.3 115.3,189.6 115.4,188.6 115.5,186.9 115.6,185.7 115.7,185.7 115.8,186.9 115.9,188.5 116.0,189.4 116.1,189.1 116.2,188.1 116.3,187.3 116.4,187.2 116.5,187.9 116.6,188.8 116.7,189.2 116.8,189.1 116.9,188.5 117.0,188.1 117.1,188.4 117.2,189.3 117.3,190.7 117.4,192.0 117.5,192.6 117.6,192.6 117.7,192.2 117.8,191.8 117.9,191.8 118.0,192.2 118.1,192.5 118.2,192.6 118.3,192.4 118.4,192.3 118.5,192.7 118.6,193.7 118.7,194.6 118.8,194.8 118.9,194.0 119.0,192.6 119.1,191.4 119.2,191.2 119.3,191.8 119.4,192.6 119.5,192.5 119.6,191.3 119.7,189.5 119.8,188.1 119.9,187.7 120.0,188.4 120.1,189.6 120.2,190.5 120.3,190.9 120.4,190.9 120.5,190.9 120.6,190.7 120.7,190.3 120.8,189.2 120.9,187.9 121.0,186.8 121.1,186.4 121.2,186.7 121.3,187.2 121.4,187.2 121.5,186.4 121.6,184.8 121.7,183.2 121.8,182.2 121.9,182.0 122.0,182.5 122.1,183.5 122.2,185.0 122.3,186.8 122.4,188.8 122.5,190.7 122.6,191.9 122.7,192.2 122.8,191.6 122.9,190.3 123.0,188.8 123.1,187.4 123.2,186.5 123.2,186.1 123.3,186.2 123.4,186.7 123.5,187.6 123.6,188.5 123.7,189.4 123.8,190.2 123.9,191.1 124.0,192.2 124.1,193.6 124.2,194.9 124.3,196.1 124.4,196.7 124.5,196.8 124.6,196.4 124.7,195.7 124.8,194.8 124.9,193.8 125.0,193.0 125.1,192.7 125.2,192.9 125.3,193.8 125.4,194.9 125.5,196.1 125.6,197.2 125.7,198.1 125.8,198.9 125.9,199.5 126.0,199.6 126.1,198.9 126.2,197.4 126.3,195.4 126.4,193.8 126.5,193.0 126.6,193.1 126.7,193.6 126.8,193.9 126.9,193.6 127.0,192.7 127.1,191.8 127.2,191.1 127.3,190.7 127.4,190.5 127.5,190.2 127.6,189.9 127.7,189.8 127.8,190.2 127.9,191.2 128.0,192.2 128.1,192.7 128.2,192.2 128.3,190.4 128.4,187.9 128.5,185.3 128.6,183.4 128.7,182.7 128.8,183.1 128.9,184.2 129.0,185.6 129.1,187.0 129.2,188.1 129.3,189.1 129.4,189.8 129.5,190.4 129.6,190.5 129.7,190.3 129.8,189.8 129.9,189.2 130.0,188.7 130.1,188.6 130.2,188.9 130.3,189.8 130.4,191.0 130.4,191.9 130.6,194.6 130.8,195.6 131.0,194.9 131.2,194.5 131.4,195.1 131.6,195.6 131.8,195.8 132.0,196.8 132.2,197.8 132.4,197.2 132.6,195.8 132.8,195.0 133.0,195.1 133.2,195.6 133.4,195.6 133.6,193.7 133.8,189.7 134.0,186.5 134.2,187.1 134.4,190.2 134.6,192.0 134.8,191.2 135.0,188.7 135.2,185.5 135.4,184.8 135.6,189.4 135.8,194.8 136.0,194.9 136.2,192.0 136.4,191.1 136.6,192.0 136.8,194.5 137.0,199.1 137.1,202.0 137.3,199.7 137.5,196.5 137.7,196.5 137.9,196.8 138.1,196.4 138.3,196.9 138.5,196.1 138.7,193.0 138.9,192.0 139.1,193.9 139.3,195.0 139.5,194.5 139.7,193.6 139.9,192.2 140.1,192.0 140.3,193.7 140.5,194.9 140.7,194.7 140.9,194.8 141.1,194.9 141.3,194.6 141.5,195.4 141.7,197.1 141.9,196.5 142.1,193.4 142.3,191.0 142.5,190.8 142.7,190.8 142.9,190.0 143.1,188.9 143.3,187.3 143.5,184.8 143.7,182.4 143.9,180.6 144.1,179.6 144.3,179.8 144.5,179.3 144.7,176.3 144.9,173.6 145.1,172.1 145.3,170.0 145.5,169.0 145.6,170.6 145.8,170.8 146.0,168.2 146.2,166.9 146.4,166.7 146.6,165.7 146.8,166.0 147.0,168.6 147.2,168.8 147.4,166.4 147.6,166.4 147.8,168.8 148.0,169.6 148.2,168.9 148.4,168.9 148.6,168.0 148.8,165.6 149.0,165.8 149.2,169.5 149.4,172.4 149.6,173.8 149.8,174.7 150.0,172.7 150.2,168.7 150.4,167.7 150.6,170.0 150.8,172.7 151.0,175.4 151.2,176.7 151.4,175.7 151.6,174.7 151.8,174.3 152.0,174.3 152.2,176.3 152.4,178.9 152.6,178.8 152.8,178.0 153.0,178.5 153.2,178.3 153.4,177.7 153.6,179.4 153.8,182.5 153.9,183.6 154.1,182.6 154.3,181.8 154.5,182.5 154.7,182.8 154.9,182.6 155.1,184.4 155.3,186.9 155.5,187.1 155.7,187.3 155.9,189.3 156.1,189.6 156.3,188.0 156.5,188.6 156.7,191.1 156.9,193.1 157.1,194.6 157.3,196.0 157.5,196.7 157.7,196.4 157.9,196.1 158.1,196.9 158.3,198.5 158.5,199.4 158.7,200.3 158.9,201.9 159.1,202.7 159.3,202.0 159.5,201.8 159.7,202.6 159.9,203.9 160.1,204.7 160.3,204.3 160.5,203.3 160.7,202.9 160.9,202.8 161.1,203.2 161.3,203.8 161.5,203.3 161.7,203.2 161.9,204.1 162.1,203.4 162.3,201.5 162.4,201.7 162.6,202.3 162.8,201.4 163.0,201.3 163.2,201.8 163.4,200.6 163.6,199.3 163.8,198.7 164.0,198.2 164.2,198.3 164.4,198.6 164.6,196.3 164.8,192.7 165.0,190.2 165.2,188.4 165.4,186.9 165.6,185.9 165.8,185.2 166.0,184.6 166.2,183.3 166.4,180.5 166.6,177.3 166.8,174.5 167.0,172.7 167.2,173.1 167.4,173.8 167.6,172.1 167.8,169.9 168.0,170.0 168.2,170.8 168.4,170.5 168.6,170.3 168.8,170.3 169.0,170.1 169.2,170.4 169.4,172.0 169.6,174.7 169.8,176.2 170.0,175.5 170.2,175.2 170.4,176.1 170.6,176.1 170.7,176.2 170.9,178.8 171.1,180.6 171.3,178.9 171.5,176.5 171.7,175.7 171.9,175.6 172.1,175.9 172.3,175.9 172.5,175.7 172.7,176.0 172.9,176.6 173.1,176.4 173.3,175.3 173.5,174.6 173.7,175.1 173.9,175.8 174.1,176.8 174.3,179.5 174.5,183.2 174.7,185.6 174.9,186.7 175.1,187.3 175.3,187.5 175.5,189.5 175.7,194.2 175.9,197.1 176.1,198.2 176.3,201.7 176.5,205.6 176.7,206.3 176.9,207.0 177.1,209.5 177.3,210.5 177.5,210.7 177.7,212.3 177.9,213.0 178.1,212.5 178.3,213.8 178.5,216.2 178.7,216.3 178.9,214.4 179.0,212.5 179.2,211.1 179.4,210.0 179.6,209.4 179.8,209.3 180.0,209.2 180.2,207.8 180.4,204.9 180.6,202.9 180.8,203.2 181.0,203.2 181.2,201.2 181.4,199.0 181.6,197.0 181.8,193.8 182.0,191.8 182.2,193.1 182.4,193.0 182.6,188.5 182.8,184.8 183.0,185.2 183.2,185.3 183.4,183.8 183.6,183.2 183.8,182.1 184.0,178.7 184.2,175.8 184.4,175.2 184.6,174.7 184.8,174.4 185.0,175.3 185.2,175.2 185.4,173.1 185.6,171.7 185.8,172.2 186.0,172.5 186.2,172.0 186.4,172.0 186.6,171.9 186.8,170.6 187.0,169.8 187.2,170.5 187.4,171.8 187.5,173.3 187.7,174.3 187.9,173.4 188.1,171.6 188.3,171.8 188.5,173.7 188.7,175.3 188.9,176.8 189.1,178.7 189.3,180.9 189.5,183.7 189.7,186.3 189.9,186.6 190.1,186.1 190.3,187.5 190.5,189.6 190.7,190.7 190.9,193.3 191.1,198.1 191.3,201.3 191.5,201.7 191.7,201.4 191.9,201.3 192.1,201.8 192.3,204.3 192.5,207.3 192.7,208.0 192.9,207.0 193.1,206.7 193.3,207.3 193.5,208.3 193.7,209.4 193.9,209.4 194.1,207.7 194.3,204.9 194.5,202.9 194.7,202.1 194.9,201.7 195.1,200.9 195.3,199.9 195.5,197.8 195.7,195.2 195.8,194.4 196.0,193.8 196.2,191.0 196.4,187.5 196.6,185.4 196.8,183.4 197.0,180.8 197.2,179.2 197.4,178.5 197.6,178.3 197.8,177.9 198.0,175.9 198.2,172.9 198.4,170.4 198.6,168.8 198.8,168.5 199.0,168.8 199.2,167.4 199.4,165.4 199.6,166.5 199.8,169.7 200.0,170.8 200.2,169.9 200.4,170.2 200.6,171.3 200.8,171.3 201.0,171.8 201.2,175.0 201.4,178.9 201.6,181.4 201.8,183.2 202.0,184.0 202.2,183.7 202.4,185.8 202.6,190.2 202.8,192.0 203.0,191.7 203.2,193.5 203.4,195.2 203.6,194.4 203.8,194.2 204.0,195.0 204.1,194.8 204.3,194.3 204.5,194.6 204.7,195.1 204.9,195.1 205.1,194.1 205.3,192.0 205.5,189.6 205.7,187.2 205.9,186.8 206.1,189.0 206.3,190.0 206.5,187.5 206.7,185.0 206.9,183.7 207.1,182.0 207.3,180.8 207.5,180.5 207.7,179.4 207.9,178.4 208.1,178.9 208.3,179.3 208.5,178.5 208.7,177.8 208.9,177.0 209.1,175.9 209.3,175.2 209.5,175.1 209.7,176.1 209.9,177.9 210.1,179.3 210.3,179.7 210.5,179.1 210.7,178.9 210.9,180.6 211.1,182.5 211.3,182.5 211.5,182.7 211.7,184.4 211.9,185.2 212.1,184.9 212.3,185.4 212.5,186.8 212.6,189.7 212.8,192.6 213.0,192.3 213.2,190.3 213.4,190.4 213.6,191.3 213.8,191.2 214.0,191.7 214.2,193.0 214.4,193.4 214.6,193.3 214.8,193.7 215.0,194.0 215.2,193.5 215.4,192.3 215.6,190.9 215.8,189.7 216.0,189.1 216.2,190.2 216.4,191.8 216.6,191.1 216.8,189.1 217.0,188.0 217.2,187.1 217.4,186.8 217.6,187.6 217.8,186.8 218.0,185.0 218.2,184.8 218.4,184.4 218.6,183.0 218.8,184.5 219.0,186.4 219.2,184.5 219.4,182.2 219.6,182.3 219.8,181.9 220.0,182.5 220.2,185.5 220.4,186.3 220.6,183.7 220.8,182.5 220.9,183.2 221.1,183.4 221.3,184.4 221.5,186.7 221.7,187.7 221.9,186.9 222.1,186.7 222.3,186.9 222.5,185.8 222.7,185.8 222.9,188.5 223.1,190.0 223.3,188.6 223.5,188.3 223.7,189.5 223.9,189.3 224.1,188.9 224.3,189.5 224.5,189.1 224.7,188.5 224.9,189.5 225.1,190.1 225.3,189.9 225.5,190.4 225.7,190.0 225.9,187.7 226.1,186.9 226.3,188.5 226.5,190.0 226.7,190.5 226.9,190.4 227.1,189.6 227.3,188.4 227.5,188.1 227.7,189.0 227.9,189.2 228.1,188.0 228.3,187.8 228.5,188.8 228.7,188.4 228.9,187.5 229.1,188.5 229.2,189.3 229.4,187.9 229.6,186.5" fill="none" stroke="#000000" stroke-width="0.8" stroke-linejoin="round"/>
<path d="M64.5,187.6 65.0,187.6 65.5,187.6 66.0,187.6 66.5,187.6 67.0,187.6 67.5,187.6 68.0,187.6 68.5,187.6 69.0,187.6 69.5,187.6 70.0,187.6 70.5,187.6 71.0,187.6 71.5,187.6 72.0,187.6 72.5,187.6 72.9,187.6 73.4,187.6 73.9,187.6 74.4,187.6 74.5,187.6 74.6,187.6 74.7,187.6 74.8,187.6 74.9,187.6 75.0,187.6 75.1,187.6 75.2,187.6 75.3,187.6 75.4,187.6 75.5,187.6 75.6,187.6 75.7,187.6 75.8,187.6 75.9,187.6 76.0,187.6 76.1,187.6 76.2,187.5 76.3,187.5 76.4,187.5 76.5,187.5 76.6,187.6 76.7,187.6 76.8,187.6 76.9,187.6 77.0,187.5 77.1,187.5 77.2,187.5 77.3,187.5 77.4,187.5 77.5,187.5 77.6,187.5 77.7,187.5 77.8,187.6 77.9,187.7 78.0,187.8 78.1,187.7 78.2,187.5 78.3,187.3 78.4,187.3 78.5,187.3 78.6,187.5 78.7,187.7 78.8,187.7 78.9,187.7 79.0,187.7 79.1,187.6 79.2,187.6 79.3,187.6 79.4,187.5 79.5,187.4 79.6,187.2 79.7,187.2 79.8,187.4 79.9,187.7 80.0,187.9 80.1,188.0 80.2,187.9 80.3,187.7 80.4,187.4 80.5,187.2 80.6,187.2 80.7,187.3 80.8,187.4 80.9,187.6 81.0,187.7 81.1,187.8 81.2,187.8 81.3,187.7 81.3,187.6 81.4,187.5 81.5,187.5 81.6,187.4 81.7,187.4 81.8,187.4 81.9,187.4 82.0,187.5 82.1,187.6 82.2,187.7 82.3,187.7 82.4,187.7 82.5,187.6 82.6,187.5 82.7,187.5 82.8,187.6 82.9,187.7 83.0,187.6 83.1,187.4 83.2,187.1 83.3,187.0 83.4,187.2 83.5,187.6 83.6,188.0 83.7,188.2 83.8,188.1 83.9,187.7 84.0,187.4 84.1,187.2 84.2,187.1 84.3,187.2 84.4,187.3 84.5,187.4 84.6,187.6 84.7,187.7 84.8,187.9 84.9,187.9 85.0,187.8 85.1,187.6 85.2,187.4 85.3,187.4 85.4,187.4 85.5,187.5 85.6,187.5 85.7,187.3 85.8,187.1 85.9,187.2 86.0,187.5 86.1,188.0 86.2,188.4 86.3,188.3 86.4,187.9 86.5,187.3 86.6,186.8 86.7,186.7 86.8,187.1 86.9,187.5 87.0,187.9 87.1,188.0 87.2,187.8 87.3,187.5 87.4,187.4 87.5,187.5 87.6,187.7 87.7,188.0 87.8,188.1 87.9,187.9 88.0,187.4 88.1,186.8 88.2,186.3 88.3,186.3 88.4,186.9 88.5,188.0 88.6,189.0 88.7,189.5 88.8,189.0 88.9,187.9 89.0,186.5 89.1,185.7 89.2,185.8 89.3,186.7 89.4,187.8 89.5,188.5 89.6,188.6 89.7,188.3 89.7,187.8 89.8,187.7 89.9,187.7 90.0,187.7 90.1,187.4 90.2,186.8 90.3,186.5 90.4,186.6 90.5,187.3 90.6,188.1 90.7,188.7 90.8,188.6 90.9,188.0 91.0,187.4 91.1,187.2 91.2,187.2 91.3,187.4 91.4,187.4 91.5,187.1 91.6,186.8 91.7,187.0 91.8,187.7 91.9,188.6 92.0,189.1 92.1,188.8 92.2,187.8 92.3,186.6 92.4,185.9 92.5,186.1 92.6,187.1 92.7,188.2 92.8,188.9 92.9,188.8 93.0,188.0 93.1,187.0 93.2,186.5 93.3,186.7 93.4,187.5 93.5,188.2 93.6,188.5 93.7,188.1 93.8,187.2 93.9,186.4 94.0,186.3 94.1,187.0 94.2,188.1 94.3,189.0 94.4,189.0 94.5,188.2 94.6,187.1 94.7,186.3 94.8,186.4 94.9,187.0 95.0,187.8 95.1,188.0 95.2,187.7 95.3,187.4 95.4,187.4 95.5,188.1 95.6,188.7 95.7,188.7 95.8,187.8 95.9,186.4 96.0,185.5 96.1,185.8 96.2,187.2 96.3,188.7 96.4,189.5 96.5,188.9 96.6,187.7 96.7,186.8 96.8,186.7 96.9,187.4 97.0,188.0 97.1,187.9 97.2,187.1 97.3,186.3 97.4,186.3 97.5,187.5 97.6,188.9 97.7,189.6 97.8,189.0 97.9,187.5 98.0,186.1 98.0,185.7 98.1,186.5 98.2,187.8 98.3,188.7 98.4,188.6 98.5,187.9 98.6,187.1 98.7,186.9 98.8,187.2 98.9,187.7 99.0,187.8 99.1,187.7 99.2,187.5 99.3,187.5 99.4,187.8 99.5,187.9 99.6,187.7 99.7,187.2 99.8,186.8 99.9,186.9 100.0,187.4 100.1,188.0 100.2,188.2 100.3,187.9 100.4,187.5 100.5,187.4 100.6,187.7 100.7,188.0 100.8,188.0 100.9,187.4 101.0,186.5 101.1,186.0 101.2,186.5 101.3,187.7 101.4,189.0 101.5,189.5 101.6,189.1 101.7,187.8 101.8,186.6 101.9,185.9 102.0,186.1 102.1,186.8 102.2,187.6 102.3,188.2 102.4,188.6 102.5,188.6 102.6,188.3 102.7,187.7 102.8,187.0 102.9,186.6 103.0,186.6 103.1,187.3 103.2,188.0 103.3,188.5 103.4,188.2 103.5,187.4 103.6,186.7 103.7,186.6 103.8,187.4 103.9,188.3 104.0,188.8 104.1,188.4 104.2,187.4 104.3,186.6 104.4,186.4 104.5,187.0 104.6,187.9 104.7,188.3 104.8,188.0 104.9,187.3 105.0,186.9 105.1,187.2 105.2,188.0 105.3,188.7 105.4,188.7 105.5,187.8 105.6,186.6 105.7,185.9 105.8,186.1 105.9,187.2 106.0,188.3 106.1,188.9 106.2,188.7 106.3,188.1 106.4,187.6 106.4,187.4 106.5,187.4 106.6,187.3 106.7,186.8 106.8,186.3 106.9,186.2 107.0,186.8 107.1,188.1 107.2,189.4 107.3,189.9 107.4,189.4 107.5,188.0 107.6,186.4 107.7,185.3 107.8,185.1 107.9,185.8 108.0,187.1 108.1,188.6 108.2,189.6 108.3,189.8 108.4,189.3 108.5,188.2 108.6,186.9 108.7,185.9 108.8,185.7 108.9,186.1 109.0,187.0 109.1,187.8 109.2,188.2 109.3,188.4 109.4,188.5 109.5,188.7 109.6,188.7 109.7,188.1 109.8,187.0 109.9,185.8 110.0,185.2 110.1,185.8 110.2,187.5 110.3,189.3 110.4,190.1 110.5,189.3 110.6,187.5 110.7,185.9 110.8,185.7 110.9,186.9 111.0,188.5 111.1,189.2 111.2,188.4 111.3,186.7 111.4,185.6 111.5,186.0 111.6,187.7 111.7,189.4 111.8,189.8 111.9,188.5 112.0,186.5 112.1,185.4 112.2,185.9 112.3,187.7 112.4,189.4 112.5,189.7 112.6,188.4 112.7,186.4 112.8,185.2 112.9,185.6 113.0,187.2 113.1,188.8 113.2,189.3 113.3,188.7 113.4,187.6 113.5,187.0 113.6,187.1 113.7,187.6 113.8,187.9 113.9,187.7 114.0,187.1 114.1,186.7 114.2,187.0 114.3,187.7 114.4,188.4 114.5,188.6 114.6,188.1 114.7,187.2 114.8,186.4 114.8,186.2 114.9,186.6 115.0,187.4 115.1,188.3 115.2,188.8 115.3,188.7 115.4,188.0 115.5,187.0 115.6,186.4 115.7,186.5 115.8,187.6 115.9,189.2 116.0,190.2 116.1,190.0 116.2,188.4 116.3,186.2 116.4,184.6 116.5,184.4 116.6,185.5 116.7,187.0 116.8,187.9 116.9,187.7 117.0,186.9 117.1,186.3 117.2,186.8 117.3,188.2 117.4,189.6 117.5,190.1 117.6,189.3 117.7,187.5 117.8,185.6 117.9,184.5 118.0,184.2 118.1,184.5 118.2,184.8 118.3,184.6 118.4,184.0 118.5,183.4 118.6,183.0 118.7,183.2 118.8,183.8 118.9,184.6 119.0,185.2 119.1,185.3 119.2,185.0 119.3,184.3 119.4,183.6 119.5,183.2 119.6,183.2 119.7,183.9 119.8,184.8 119.9,185.7 120.0,186.5 120.1,186.9 120.2,187.0 120.3,186.6 120.4,185.9 120.5,185.0 120.6,184.3 120.7,184.3 120.8,185.1 120.9,186.7 121.0,188.3 121.1,189.4 121.2,189.7 121.3,189.3 121.4,188.5 121.5,187.9 121.6,187.4 121.7,186.9 121.8,186.1 121.9,184.7 122.0,183.1 122.1,181.6 122.2,180.6 122.3,180.1 122.4,180.0 122.5,180.1 122.6,180.1 122.7,180.3 122.8,180.8 122.9,181.6 123.0,182.7 123.1,183.8 123.2,184.5 123.2,184.6 123.3,184.0 123.4,182.8 123.5,181.6 123.6,180.8 123.7,181.1 123.8,182.4 123.9,184.5 124.0,186.9 124.1,188.9 124.2,190.3 124.3,191.3 124.4,192.0 124.5,192.2 124.6,191.7 124.7,190.3 124.8,188.1 124.9,185.5 125.0,183.3 125.1,181.9 125.2,181.5 125.3,181.7 125.4,182.0 125.5,182.0 125.6,181.9 125.7,181.9 125.8,182.2 125.9,182.5 126.0,182.6 126.1,182.3 126.2,182.0 126.3,181.9 126.4,182.4 126.5,183.3 126.6,184.3 126.7,185.1 126.8,185.6 126.9,186.0 127.0,186.5 127.1,187.3 127.2,188.1 127.3,188.7 127.4,189.0 127.5,189.1 127.6,189.4 127.7,190.0 127.8,190.7 127.9,191.0 128.0,190.7 128.1,189.9 128.2,188.9 128.3,188.1 128.4,187.8 128.5,187.8 128.6,187.8 128.7,187.9 128.8,187.9 128.9,188.1 129.0,188.4 129.1,188.6 129.2,188.3 129.3,187.4 129.4,186.1 129.5,184.6 129.6,183.4 129.7,182.5 129.8,181.7 129.9,180.7 130.0,179.7 130.1,178.7 130.2,178.4 130.3,178.9 130.4,180.3 130.4,181.3 130.6,183.1 130.8,181.5 131.0,178.7 131.2,176.9 131.4,175.7 131.6,175.7 131.8,177.9 132.0,180.5 132.2,182.0 132.4,183.4 132.6,186.0 132.8,188.8 133.0,190.3 133.2,190.3 133.4,190.0 133.6,191.5 133.8,195.3 134.0,198.9 134.2,199.9 134.4,199.1 134.6,197.5 134.8,195.8 135.0,195.1 135.2,194.8 135.4,192.8 135.6,188.8 135.8,184.7 136.0,181.8 136.2,181.6 136.4,182.7 136.6,181.5 136.8,177.5 137.0,173.6 137.1,171.6 137.3,171.8 137.5,173.6 137.7,174.5 137.9,173.9 138.1,174.1 138.3,175.6 138.5,177.1 138.7,178.6 138.9,179.1 139.1,178.1 139.3,178.0 139.5,179.8 139.7,181.9 139.9,183.7 140.1,184.7 140.3,184.7 140.5,185.5 140.7,187.8 140.9,188.5 141.1,188.3 141.3,190.2 141.5,191.6 141.7,190.5 141.9,190.1 142.1,190.8 142.3,190.4 142.5,190.5 142.7,191.5 142.9,190.1 143.1,187.2 143.3,185.6 143.5,183.9 143.7,182.4 143.9,183.3 144.1,184.5 144.3,183.3 144.5,181.9 144.7,182.6 144.9,184.3 145.1,186.9 145.3,190.2 145.5,192.4 145.6,192.6 145.8,192.0 146.0,192.8 146.2,195.7 146.4,198.7 146.6,200.8 146.8,202.7 147.0,204.2 147.2,205.4 147.4,207.4 147.6,208.8 147.8,208.2 148.0,208.3 148.2,210.4 148.4,212.0 148.6,212.0 148.8,211.7 149.0,210.3 149.2,208.3 149.4,208.5 149.6,210.1 149.8,210.2 150.0,208.7 150.2,206.8 150.4,205.0 150.6,204.1 150.8,204.3 151.0,204.6 151.2,204.1 151.4,202.4 151.6,199.9 151.8,198.5 152.0,199.0 152.2,199.6 152.4,198.9 152.6,197.8 152.8,196.8 153.0,195.5 153.2,194.1 153.4,194.0 153.6,194.2 153.8,192.6 153.9,190.4 154.1,190.3 154.3,190.7 154.5,189.3 154.7,188.0 154.9,187.6 155.1,186.2 155.3,184.3 155.5,183.3 155.7,181.7 155.9,179.9 156.1,179.5 156.3,178.4 156.5,175.7 156.7,174.3 156.9,174.5 157.1,173.9 157.3,171.9 157.5,169.5 157.7,167.0 157.9,164.9 158.1,164.8 158.3,166.5 158.5,167.5 158.7,165.0 158.9,160.7 159.1,159.4 159.3,161.2 159.5,162.7 159.7,163.3 159.9,162.9 160.1,160.8 160.3,160.4 160.5,163.7 160.7,167.3 160.9,169.3 161.1,171.5 161.3,172.5 161.5,171.9 161.7,172.3 161.9,172.8 162.1,171.8 162.3,171.1 162.4,171.6 162.6,172.0 162.8,173.0 163.0,173.8 163.2,172.4 163.4,171.5 163.6,172.7 163.8,173.0 164.0,172.8 164.2,175.0 164.4,177.3 164.6,178.5 164.8,181.1 165.0,184.3 165.2,185.2 165.4,185.1 165.6,185.7 165.8,185.9 166.0,186.0 166.2,187.9 166.4,190.6 166.6,192.7 166.8,193.9 167.0,194.8 167.2,194.5 167.4,191.8 167.6,188.5 167.8,188.0 168.0,189.8 168.2,191.3 168.4,192.4 168.6,193.0 168.8,191.6 169.0,189.5 169.2,189.1 169.4,189.6 169.6,189.6 169.8,189.1 170.0,188.0 170.2,187.6 170.4,188.8 170.6,190.2 170.7,190.4 170.9,190.4 171.1,191.1 171.3,192.2 171.5,193.2 171.7,193.6 171.9,193.8 172.1,194.9 172.3,196.4 172.5,197.6 172.7,199.3 172.9,200.1 173.1,199.5 173.3,199.7 173.5,201.3 173.7,201.9 173.9,200.9 174.1,198.7 174.3,195.9 174.5,194.5 174.7,194.4 174.9,194.0 175.1,193.3 175.3,192.1 175.5,187.8 175.7,182.6 175.9,180.2 176.1,178.7 176.3,176.4 176.5,175.6 176.7,175.0 176.9,171.8 177.1,168.6 177.3,167.8 177.5,166.5 177.7,164.4 177.9,163.5 178.1,163.5 178.3,163.9 178.5,164.8 178.7,164.8 178.9,163.8 179.0,164.0 179.2,165.9 179.4,168.0 179.6,169.5 179.8,169.9 180.0,169.5 180.2,170.0 180.4,171.5 180.6,173.7 180.8,176.2 181.0,177.9 181.2,178.4 181.4,179.7 181.6,182.0 181.8,183.2 182.0,182.8 182.2,182.8 182.4,185.1 182.6,188.7 182.8,190.5 183.0,190.0 183.2,189.9 183.4,190.6 183.6,191.4 183.8,194.1 184.0,197.9 184.2,198.9 184.4,197.1 184.6,196.4 184.8,198.3 185.0,201.7 185.2,204.7 185.4,205.6 185.6,205.1 185.8,205.0 186.0,205.3 186.2,206.3 186.4,208.2 186.6,209.2 186.8,209.1 187.0,208.9 187.2,208.3 187.4,207.9 187.5,208.6 187.7,208.0 187.9,205.7 188.1,205.3 188.3,205.6 188.5,202.8 188.7,199.9 188.9,199.5 189.1,197.7 189.3,194.8 189.5,194.0 189.7,192.8 189.9,189.4 190.1,186.9 190.3,185.7 190.5,184.2 190.7,182.8 190.9,181.4 191.1,178.9 191.3,176.2 191.5,174.5 191.7,173.6 191.9,173.6 192.1,173.3 192.3,172.0 192.5,171.7 192.7,172.3 192.9,171.8 193.1,171.2 193.3,171.9 193.5,172.3 193.7,173.1 193.9,175.2 194.1,176.4 194.3,176.5 194.5,177.8 194.7,179.8 194.9,181.3 195.1,183.2 195.3,184.7 195.5,185.1 195.7,185.9 195.8,187.9 196.0,189.9 196.2,192.1 196.4,194.1 196.6,195.4 196.8,196.3 197.0,197.1 197.2,197.7 197.4,199.0 197.6,201.0 197.8,202.3 198.0,202.4 198.2,201.4 198.4,200.7 198.6,202.3 198.8,204.5 199.0,204.1 199.2,202.6 199.4,201.7 199.6,200.0 199.8,198.6 200.0,199.1 200.2,199.0 200.4,197.2 200.6,196.2 200.8,195.6 201.0,193.6 201.2,191.9 201.4,191.1 201.6,189.8 201.8,188.6 202.0,187.3 202.2,184.9 202.4,183.0 202.6,182.5 202.8,182.5 203.0,182.1 203.2,180.5 203.4,178.0 203.6,176.4 203.8,176.5 204.0,176.0 204.1,174.9 204.3,174.4 204.5,174.1 204.7,174.2 204.9,175.6 205.1,175.8 205.3,174.4 205.5,174.4 205.7,176.2 205.9,177.3 206.1,178.1 206.3,180.0 206.5,181.7 206.7,182.4 206.9,183.4 207.1,185.9 207.3,188.9 207.5,190.3 207.7,190.7 207.9,191.9 208.1,192.8 208.3,192.9 208.5,195.2 208.7,199.2 208.9,201.0 209.1,201.1 209.3,200.9 209.5,199.9 209.7,199.5 209.9,200.6 210.1,200.9 210.3,200.3 210.5,201.2 210.7,201.7 210.9,200.0 211.1,197.8 211.3,196.4 211.5,195.8 211.7,195.7 211.9,195.3 212.1,194.5 212.3,193.7 212.5,191.4 212.6,188.4 212.8,187.8 213.0,188.2 213.2,187.2 213.4,186.7 213.6,186.2 213.8,183.2 214.0,180.9 214.2,181.5 214.4,181.7 214.6,181.5 214.8,182.6 215.0,180.9 215.2,176.8 215.4,176.7 215.6,179.6 215.8,180.7 216.0,181.5 216.2,182.9 216.4,182.0 216.6,180.2 216.8,180.7 217.0,182.5 217.2,184.5 217.4,186.3 217.6,186.6 217.8,185.9 218.0,185.9 218.2,186.9 218.4,189.3 218.6,192.0 218.8,192.2 219.0,190.5 219.2,189.7 219.4,189.6 219.6,190.0 219.8,191.8 220.0,193.1 220.2,192.4 220.4,191.7 220.6,191.4 220.8,190.5 220.9,189.7 221.1,189.3 221.3,188.6 221.5,188.2 221.7,188.5 221.9,188.7 222.1,188.6 222.3,187.9 222.5,186.7 222.7,185.8 222.9,185.5 223.1,185.4 223.3,186.0 223.5,186.7 223.7,185.6 223.9,184.6 224.1,185.4 224.3,186.2 224.5,185.7 224.7,185.4 224.9,185.7 225.1,185.8 225.3,185.8 225.5,185.6 225.7,185.5 225.9,185.4 226.1,185.4 226.3,185.8 226.5,186.5 226.7,185.7 226.9,184.9 227.1,186.4 227.3,187.6 227.5,186.2 227.7,185.4 227.9,185.8 228.1,185.3 228.3,185.8 228.5,188.2 228.7,188.4 228.9,186.6 229.1,186.3 229.2,187.1 229.4,187.3 229.6,187.6" fill="none" stroke="#0000ff" stroke-width="0.8" stroke-linejoin="round"/>
<path d="M64.5,187.2 65.0,187.5 65.5,187.7 66.0,187.9 66.5,188.0 67.0,188.0 67.5,187.9 68.0,187.7 68.5,187.5 69.0,187.4 69.5,187.4 70.0,187.3 70.5,187.3 71.0,187.3 71.5,187.3 72.0,187.4 72.5,187.5 72.9,187.6 73.4,187.8 73.9,187.9 74.4,187.9 74.5,187.9 74.6,187.9 74.7,187.9 74.8,187.9 74.9,187.9 75.0,187.8 75.1,187.8 75.2,187.8 75.3,187.7 75.4,187.7 75.5,187.7 75.6,187.6 75.7,187.6 75.8,187.5 75.9,187.5 76.0,187.4 76.1,187.4 76.2,187.3 76.3,187.3 76.4,187.3 76.5,187.2 76.6,187.2 76.7,187.1 76.8,187.1 76.9,187.1 77.0,187.1 77.1,187.1 77.2,187.1 77.3,187.1 77.4,187.1 77.5,187.2 77.6,187.2 77.7,187.2 77.8,187.2 77.9,187.2 78.0,187.3 78.1,187.4 78.2,187.5 78.3,187.5 78.4,187.5 78.5,187.5 78.6,187.6 78.7,187.6 78.8,187.7 78.9,187.8 79.0,187.9 79.1,187.9 79.2,187.9 79.3,188.0 79.4,188.0 79.5,188.1 79.6,188.1 79.7,188.1 79.8,188.1 79.9,188.1 80.0,188.1 80.1,188.1 80.2,188.1 80.3,188.0 80.4,187.9 80.5,187.9 80.6,187.9 80.7,187.9 80.8,187.8 80.9,187.8 81.0,187.6 81.1,187.5 81.2,187.5 81.3,187.4 81.3,187.5 81.4,187.5 81.5,187.4 81.6,187.3 81.7,187.2 81.8,187.1 81.9,187.0 82.0,186.9 82.1,186.9 82.2,187.0 82.3,187.1 82.4,187.2 82.5,187.2 82.6,187.0 82.7,186.8 82.8,186.7 82.9,186.8 83.0,187.0 83.1,187.2 83.2,187.4 83.3,187.4 83.4,187.3 83.5,187.2 83.6,187.2 83.7,187.3 83.8,187.4 83.9,187.6 84.0,187.6 84.1,187.6 84.2,187.6 84.3,187.7 84.4,187.9 84.5,188.0 84.6,188.0 84.7,187.9 84.8,187.7 84.9,187.7 85.0,187.8 85.1,188.1 85.2,188.3 85.3,188.4 85.4,188.3 85.5,188.1 85.6,187.9 85.7,187.9 85.8,187.9 85.9,188.0 86.0,187.9 86.1,187.9 86.2,187.8 86.3,187.9 86.4,188.1 86.5,188.2 86.6,188.1 86.7,187.9 86.8,187.6 86.9,187.3 87.0,187.3 87.1,187.3 87.2,187.5 87.3,187.6 87.4,187.6 87.5,187.6 87.6,187.5 87.7,187.5 87.8,187.4 87.9,187.3 88.0,187.1 88.1,186.9 88.2,186.9 88.3,187.0 88.4,187.2 88.5,187.3 88.6,187.3 88.7,187.2 88.8,187.1 88.9,187.1 89.0,187.1 89.1,187.1 89.2,187.1 89.3,187.0 89.4,187.0 89.5,187.1 89.6,187.2 89.7,187.4 89.7,187.5 89.8,187.5 89.9,187.4 90.0,187.4 90.1,187.3 90.2,187.4 90.3,187.4 90.4,187.5 90.5,187.6 90.6,187.7 90.7,187.7 90.8,187.8 90.9,187.8 91.0,187.8 91.1,187.8 91.2,187.9 91.3,187.9 91.4,187.8 91.5,187.7 91.6,187.7 91.7,187.8 91.8,188.1 91.9,188.4 92.0,188.5 92.1,188.2 92.2,187.8 92.3,187.5 92.4,187.5 92.5,187.8 92.6,188.2 92.7,188.2 92.8,188.0 92.9,187.6 93.0,187.4 93.1,187.6 93.2,188.0 93.3,188.3 93.4,188.2 93.5,187.6 93.6,187.0 93.7,186.7 93.8,187.0 93.9,187.4 94.0,187.8 94.1,187.8 94.2,187.5 94.3,187.2 94.4,187.1 94.5,187.2 94.6,187.2 94.7,187.2 94.8,187.1 94.9,187.0 95.0,187.0 95.1,187.2 95.2,187.3 95.3,187.3 95.4,187.1 95.5,187.1 95.6,187.2 95.7,187.4 95.8,187.5 95.9,187.5 96.0,187.3 96.1,187.1 96.2,187.2 96.3,187.5 96.4,187.7 96.5,187.8 96.6,187.5 96.7,187.3 96.8,187.2 96.9,187.5 97.0,187.9 97.1,188.2 97.2,188.1 97.3,187.8 97.4,187.5 97.5,187.5 97.6,187.8 97.7,187.9 97.8,187.8 97.9,187.5 98.0,187.3 98.0,187.5 98.1,187.9 98.2,188.3 98.3,188.4 98.4,188.1 98.5,187.6 98.6,187.3 98.7,187.3 98.8,187.6 98.9,187.7 99.0,187.7 99.1,187.4 99.2,187.3 99.3,187.5 99.4,187.8 99.5,188.2 99.6,188.1 99.7,187.8 99.8,187.3 99.9,187.0 100.0,187.1 100.1,187.5 100.2,187.8 100.3,187.8 100.4,187.6 100.5,187.3 100.6,187.2 100.7,187.4 100.8,187.7 100.9,188.0 101.0,188.1 101.1,187.9 101.2,187.5 101.3,187.1 101.4,187.0 101.5,187.0 101.6,187.3 101.7,187.6 101.8,187.8 101.9,187.8 102.0,187.7 102.1,187.6 102.2,187.6 102.3,187.6 102.4,187.6 102.5,187.4 102.6,187.1 102.7,186.8 102.8,186.8 102.9,187.1 103.0,187.5 103.1,187.8 103.2,187.8 103.3,187.5 103.4,187.3 103.5,187.2 103.6,187.3 103.7,187.4 103.8,187.3 103.9,187.1 104.0,186.9 104.1,187.0 104.2,187.4 104.3,187.8 104.4,188.0 104.5,187.9 104.6,187.5 104.7,187.2 104.8,187.3 104.9,187.6 105.0,188.0 105.1,188.1 105.2,187.9 105.3,187.6 105.4,187.5 105.5,187.6 105.6,187.8 105.7,188.0 105.8,188.0 105.9,188.0 106.0,188.0 106.1,188.2 106.2,188.3 106.3,188.2 106.4,187.9 106.4,187.6 106.5,187.4 106.6,187.5 106.7,187.9 106.8,188.2 106.9,188.2 107.0,187.9 107.1,187.5 107.2,187.4 107.3,187.5 107.4,187.7 107.5,187.8 107.6,187.7 107.7,187.4 107.8,187.1 107.9,187.0 108.0,187.0 108.1,187.1 108.2,187.2 108.3,187.3 108.4,187.4 108.5,187.5 108.6,187.4 108.7,187.2 108.8,186.9 108.9,186.7 109.0,186.8 109.1,187.2 109.2,187.5 109.3,187.5 109.4,187.2 109.5,186.9 109.6,186.8 109.7,187.2 109.8,187.7 109.9,188.0 110.0,187.8 110.1,187.4 110.2,187.0 110.3,187.1 110.4,187.7 110.5,188.3 110.6,188.4 110.7,188.0 110.8,187.2 110.9,186.8 111.0,187.0 111.1,187.9 111.2,188.8 111.3,189.2 111.4,188.8 111.5,187.9 111.6,187.2 111.7,187.1 111.8,187.5 111.9,188.1 112.0,188.4 112.1,188.3 112.2,187.9 112.3,187.6 112.4,187.6 112.5,187.8 112.6,188.0 112.7,188.1 112.8,187.8 112.9,187.5 113.0,187.3 113.1,187.2 113.2,187.2 113.3,187.2 113.4,187.3 113.5,187.3 113.6,187.3 113.7,187.3 113.8,187.3 113.9,187.3 114.0,187.2 114.1,187.2 114.2,187.1 114.3,187.1 114.4,187.0 114.5,187.0 114.6,187.0 114.7,187.2 114.8,187.4 114.8,187.5 114.9,187.5 115.0,187.3 115.1,187.2 115.2,187.2 115.3,187.5 115.4,187.9 115.5,188.2 115.6,188.0 115.7,187.5 115.8,187.0 115.9,186.8 116.0,187.1 116.1,187.7 116.2,188.3 116.3,188.4 116.4,188.1 116.5,187.7 116.6,187.5 116.7,187.6 116.8,187.8 116.9,187.9 117.0,187.6 117.1,187.1 117.2,186.8 117.3,187.0 117.4,187.5 117.5,188.1 117.6,188.3 117.7,188.1 117.8,187.6 117.9,187.2 118.0,187.1 118.1,187.3 118.2,187.5 118.3,187.5 118.4,187.3 118.5,187.1 118.6,187.3 118.7,187.7 118.8,188.2 118.9,188.4 119.0,188.2 119.1,187.7 119.2,187.3 119.3,187.3 119.4,187.6 119.5,187.9 119.6,188.1 119.7,188.1 119.8,187.9 119.9,187.8 120.0,187.9 120.1,188.1 120.2,188.2 120.3,188.1 120.4,188.0 120.5,187.8 120.6,187.8 120.7,187.9 120.8,187.9 120.9,187.8 121.0,187.5 121.1,187.2 121.2,187.0 121.3,187.2 121.4,187.4 121.5,187.6 121.6,187.6 121.7,187.4 121.8,187.0 121.9,186.6 122.0,186.5 122.1,186.5 122.2,186.5 122.3,186.6 122.4,186.7 122.5,186.6 122.6,186.6 122.7,186.6 122.8,186.7 122.9,186.8 123.0,186.9 123.1,186.9 123.2,186.7 123.2,186.5 123.3,186.5 123.4,186.7 123.5,187.1 123.6,187.5 123.7,187.8 123.8,187.9 123.9,187.7 124.0,187.6 124.1,187.5 124.2,187.7 124.3,188.0 124.4,188.3 124.5,188.5 124.6,188.6 124.7,188.6 124.8,188.7 124.9,188.7 125.0,188.7 125.1,188.6 125.2,188.5 125.3,188.6 125.4,188.8 125.5,189.1 125.6,189.3 125.7,189.2 125.8,188.8 125.9,188.4 126.0,188.1 126.1,188.1 126.2,188.3 126.3,188.5 126.4,188.5 126.5,188.3 126.6,187.9 126.7,187.6 126.8,187.5 126.9,187.6 127.0,187.8 127.1,187.7 127.2,187.5 127.3,187.1 127.4,186.7 127.5,186.6 127.6,186.7 127.7,186.9 127.8,187.1 127.9,187.1 128.0,187.0 128.1,186.7 128.2,186.5 128.3,186.4 128.4,186.4 128.5,186.6 128.6,186.8 128.7,186.9 128.8,186.9 128.9,186.8 129.0,186.7 129.1,186.8 129.2,187.0 129.3,187.1 129.4,187.2 129.5,187.2 129.6,187.1 129.7,187.1 129.8,187.2 129.9,187.4 130.0,187.6 130.1,187.6 130.2,187.6 130.3,187.4 130.4,187.3 130.4,187.4 130.6,187.7 130.8,187.7 131.0,187.3 131.2,187.5 131.4,187.7 131.6,187.3 131.8,187.1 132.0,187.4 132.2,187.3 132.4,186.9 132.6,187.1 132.8,187.3 133.0,187.0 133.2,187.2 133.4,187.8 133.6,187.9 133.8,187.9 134.0,188.3 134.2,188.5 134.4,188.7 134.6,189.4 134.8,189.5 135.0,189.1 135.2,189.4 135.4,190.0 135.6,189.9 135.8,189.4 136.0,188.7 136.2,188.0 136.4,187.8 136.6,188.1 136.8,187.7 137.0,186.9 137.1,186.2 137.3,185.3 137.5,184.2 137.7,183.8 137.9,184.0 138.1,184.0 138.3,184.0 138.5,184.2 138.7,184.6 138.9,185.0 139.1,185.4 139.3,186.1 139.5,186.9 139.7,187.3 139.9,187.7 140.1,188.8 140.3,190.2 140.5,191.4 140.7,192.1 140.9,192.1 141.1,191.3 141.3,190.7 141.5,190.9 141.7,191.4 141.9,191.3 142.1,190.5 142.3,189.3 142.5,188.3 142.7,187.6 142.9,187.2 143.1,186.8 143.3,185.9 143.5,185.0 143.7,184.3 143.9,183.9 144.1,184.2 144.3,185.1 144.5,185.1 144.7,184.2 144.9,184.4 145.1,185.5 145.3,186.2 145.5,186.8 145.6,187.5 145.8,187.6 146.0,187.4 146.2,188.0 146.4,188.9 146.6,189.4 146.8,189.4 147.0,188.8 147.2,188.6 147.4,189.3 147.6,189.8 147.8,189.5 148.0,188.8 148.2,188.0 148.4,187.8 148.6,188.4 148.8,188.7 149.0,188.1 149.2,187.5 149.4,186.9 149.6,186.4 149.8,187.2 150.0,188.0 150.2,187.4 150.4,186.5 150.6,186.2 150.8,185.9 151.0,186.0 151.2,187.0 151.4,187.1 151.6,186.5 151.8,186.9 152.0,187.5 152.2,187.6 152.4,187.9 152.6,187.9 152.8,187.1 153.0,187.2 153.2,188.3 153.4,189.1 153.6,189.5 153.8,189.3 153.9,188.5 154.1,188.0 154.3,188.0 154.5,187.7 154.7,187.2 154.9,187.3 155.1,187.5 155.3,187.3 155.5,187.2 155.7,186.8 155.9,186.2 156.1,185.6 156.3,185.6 156.5,186.3 156.7,187.5 156.9,187.9 157.1,187.5 157.3,187.7 157.5,188.5 157.7,188.6 157.9,188.4 158.1,188.4 158.3,188.4 158.5,188.8 158.7,189.6 158.9,189.6 159.1,188.6 159.3,187.3 159.5,186.1 159.7,185.5 159.9,185.9 160.1,186.3 160.3,185.8 160.5,184.9 160.7,184.7 160.9,185.3 161.1,185.9 161.3,186.3 161.5,186.7 161.7,187.2 161.9,187.6 162.1,188.5 162.3,190.1 162.4,191.3 162.6,191.5 162.8,191.7 163.0,192.3 163.2,192.3 163.4,191.3 163.6,190.4 163.8,189.6 164.0,188.5 164.2,188.0 164.4,188.1 164.6,187.3 164.8,185.4 165.0,183.5 165.2,181.9 165.4,180.9 165.6,181.4 165.8,182.7 166.0,183.3 166.2,183.2 166.4,183.4 166.6,184.2 166.8,185.7 167.0,187.2 167.2,188.2 167.4,188.9 167.6,190.1 167.8,191.6 168.0,192.9 168.2,193.5 168.4,193.0 168.6,191.6 168.8,190.5 169.0,190.5 169.2,190.8 169.4,190.5 169.6,189.3 169.8,187.5 170.0,185.9 170.2,185.2 170.4,185.0 170.6,184.6 170.7,184.1 170.9,184.0 171.1,184.2 171.3,185.0 171.5,186.5 171.7,187.7 171.9,187.9 172.1,187.6 172.3,187.6 172.5,188.1 172.7,189.4 172.9,190.8 173.1,191.1 173.3,190.6 173.5,189.8 173.7,189.1 173.9,188.4 174.1,187.8 174.3,186.7 174.5,185.6 174.7,185.3 174.9,185.2 175.1,184.8 175.3,184.7 175.5,184.6 175.7,183.9 175.9,183.6 176.1,184.6 176.3,185.9 176.5,186.6 176.7,186.8 176.9,186.9 177.1,187.8 177.3,189.5 177.5,190.6 177.7,190.7 177.9,190.3 178.1,189.7 178.3,189.5 178.5,190.4 178.7,191.4 178.9,191.3 179.0,189.7 179.2,188.0 179.4,187.5 179.6,188.5 179.8,189.5 180.0,189.3 180.2,188.0 180.4,186.5 180.6,185.8 180.8,186.7 181.0,188.3 181.2,188.6 181.4,187.6 181.6,186.5 181.8,185.9 182.0,185.8 182.2,186.3 182.4,186.6 182.6,186.4 182.8,185.9 183.0,185.2 183.2,184.6 183.4,184.1 183.6,183.8 183.8,183.7 184.0,184.2 184.2,185.1 184.4,186.0 184.6,186.5 184.8,186.6 185.0,186.3 185.2,186.5 185.4,187.9 185.6,189.5 185.8,190.5 186.0,190.8 186.2,191.4 186.4,192.2 186.6,192.9 186.8,193.1 187.0,192.5 187.2,191.2 187.4,190.3 187.5,190.4 187.7,191.0 187.9,191.2 188.1,190.1 188.3,187.9 188.5,186.2 188.7,185.8 188.9,186.0 189.1,185.8 189.3,184.9 189.5,183.7 189.7,183.2 189.9,183.7 190.1,184.3 190.3,184.3 190.5,184.4 190.7,184.1 190.9,183.6 191.1,184.4 191.3,185.9 191.5,186.5 191.7,186.6 191.9,186.8 192.1,186.9 192.3,187.3 192.5,188.1 192.7,188.7 192.9,189.0 193.1,189.1 193.3,189.0 193.5,189.5 193.7,190.4 193.9,190.5 194.1,190.0 194.3,189.9 194.5,189.6 194.7,189.2 194.9,189.4 195.1,189.8 195.3,189.6 195.5,189.6 195.7,189.6 195.8,188.8 196.0,187.8 196.2,187.0 196.4,186.2 196.6,186.4 196.8,187.2 197.0,187.3 197.2,187.0 197.4,187.0 197.6,186.3 197.8,185.5 198.0,185.4 198.2,185.2 198.4,184.6 198.6,185.2 198.8,186.4 199.0,187.0 199.2,186.9 199.4,186.6 199.6,186.0 199.8,185.8 200.0,186.1 200.2,186.4 200.4,187.0 200.6,187.9 200.8,188.5 201.0,188.7 201.2,189.0 201.4,189.2 201.6,189.0 201.8,188.9 202.0,189.1 202.2,189.7 202.4,190.4 202.6,190.3 202.8,189.6 203.0,189.0 203.2,188.7 203.4,188.3 203.6,187.4 203.8,186.7 204.0,186.4 204.1,186.1 204.3,185.7 204.5,185.5 204.7,185.1 204.9,184.5 205.1,184.0 205.3,184.1 205.5,184.5 205.7,185.8 205.9,187.6 206.1,188.7 206.3,189.0 206.5,189.3 206.7,189.6 206.9,189.9 207.1,190.8 207.3,191.8 207.5,192.2 207.7,192.4 207.9,192.2 208.1,191.3 208.3,190.4 208.5,189.7 208.7,188.3 208.9,186.2 209.1,184.9 209.3,184.2 209.5,183.5 209.7,183.2 209.9,183.2 210.1,182.7 210.3,182.0 210.5,181.7 210.7,181.9 210.9,182.6 211.1,183.6 211.3,184.7 211.5,186.2 211.7,187.8 211.9,189.3 212.1,190.6 212.3,191.7 212.5,191.8 212.6,191.4 212.8,191.6 213.0,192.4 213.2,192.8 213.4,192.6 213.6,192.0 213.8,191.3 214.0,190.5 214.2,189.7 214.4,188.5 214.6,187.0 214.8,186.0 215.0,185.7 215.2,185.9 215.4,186.3 215.6,186.0 215.8,185.1 216.0,184.2 216.2,184.1 216.4,184.8 216.6,186.0 216.8,186.7 217.0,186.9 217.2,186.9 217.4,186.8 217.6,186.8 217.8,186.9 218.0,187.0 218.2,186.9 218.4,187.0 218.6,187.6 218.8,188.0 219.0,188.0 219.2,187.7 219.4,187.0 219.6,186.4 219.8,186.6 220.0,187.5 220.2,188.4 220.4,188.8 220.6,188.5 220.8,188.2 220.9,188.8 221.1,189.3 221.3,189.1 221.5,188.8 221.7,188.7 221.9,188.7 222.1,188.9 222.3,189.1 222.5,188.6 222.7,188.0 222.9,187.6 223.1,187.2 223.3,187.0 223.5,187.0 223.7,186.6 223.9,186.1 224.1,186.0 224.3,186.3 224.5,186.5 224.7,186.7 224.9,186.8 225.1,186.8 225.3,187.1 225.5,187.4 225.7,187.5 225.9,187.8 226.1,188.0 226.3,188.1 226.5,188.2 226.7,188.4 226.9,188.2 227.1,187.9 227.3,187.8 227.5,187.8 227.7,187.6 227.9,187.5 228.1,187.3 228.3,187.0 228.5,186.9 228.7,186.8 228.9,186.9 229.1,187.1 229.2,187.1 229.4,187.1 229.6,187.1" fill="none" stroke="#ff0000" stroke-width="0.8" stroke-linejoin="round"/>
</g>
<rect x="56.45" y="134.2" width="181.4" height="106.7" fill="none" stroke="#1a1a1a" stroke-width="1.05"/>
<line x1="52.55" y1="262" x2="56.45" y2="262" stroke="#000" stroke-width="1.1"/>
<text x="48.8" y="266.1" text-anchor="end" font-size="11.5" textLength="25.1" lengthAdjust="spacingAndGlyphs">10<tspan font-size="8.28" dy="-4">−1</tspan></text>
<line x1="56.45" y1="288.6" x2="237.85" y2="288.6" stroke="#b0b0b0" stroke-width="1.1"/>
<line x1="52.55" y1="288.6" x2="56.45" y2="288.6" stroke="#000" stroke-width="1.1"/>
<text x="48.8" y="292.7" text-anchor="end" font-size="11.5" textLength="25.1" lengthAdjust="spacingAndGlyphs">10<tspan font-size="8.28" dy="-4">−4</tspan></text>
<line x1="56.45" y1="315.2" x2="237.85" y2="315.2" stroke="#b0b0b0" stroke-width="1.1"/>
<line x1="52.55" y1="315.2" x2="56.45" y2="315.2" stroke="#000" stroke-width="1.1"/>
<text x="48.8" y="319.3" text-anchor="end" font-size="11.5" textLength="25.1" lengthAdjust="spacingAndGlyphs">10<tspan font-size="8.28" dy="-4">−7</tspan></text>
<line x1="56.45" y1="341.8" x2="237.85" y2="341.8" stroke="#b0b0b0" stroke-width="1.1"/>
<line x1="52.55" y1="341.8" x2="56.45" y2="341.8" stroke="#000" stroke-width="1.1"/>
<text x="48.8" y="345.9" text-anchor="end" font-size="11.5" textLength="30" lengthAdjust="spacingAndGlyphs">10<tspan font-size="8.28" dy="-4">−10</tspan></text>
<line x1="52.55" y1="368.4" x2="56.45" y2="368.4" stroke="#000" stroke-width="1.1"/>
<text x="48.8" y="372.5" text-anchor="end" font-size="11.5" textLength="30" lengthAdjust="spacingAndGlyphs">10<tspan font-size="8.28" dy="-4">−13</tspan></text>
<line x1="56.45" y1="368.4" x2="56.45" y2="372" stroke="#000" stroke-width="1.1"/>
<text x="56.75" y="384.4" text-anchor="middle" font-size="11.5" textLength="25.1" lengthAdjust="spacingAndGlyphs">10<tspan font-size="8.28" dy="-4">−2</tspan></text>
<line x1="74.65" y1="368.4" x2="74.65" y2="370.5" stroke="#000" stroke-width="0.8"/>
<line x1="85.3" y1="368.4" x2="85.3" y2="370.5" stroke="#000" stroke-width="0.8"/>
<line x1="92.85" y1="368.4" x2="92.85" y2="370.5" stroke="#000" stroke-width="0.8"/>
<line x1="98.71" y1="368.4" x2="98.71" y2="370.5" stroke="#000" stroke-width="0.8"/>
<line x1="103.5" y1="368.4" x2="103.5" y2="370.5" stroke="#000" stroke-width="0.8"/>
<line x1="107.55" y1="368.4" x2="107.55" y2="370.5" stroke="#000" stroke-width="0.8"/>
<line x1="111.06" y1="368.4" x2="111.06" y2="370.5" stroke="#000" stroke-width="0.8"/>
<line x1="114.15" y1="368.4" x2="114.15" y2="370.5" stroke="#000" stroke-width="0.8"/>
<line x1="116.92" y1="368.4" x2="116.92" y2="372" stroke="#000" stroke-width="1.1"/>
<text x="117.22" y="384.4" text-anchor="middle" font-size="11.5" textLength="25.1" lengthAdjust="spacingAndGlyphs">10<tspan font-size="8.28" dy="-4">−1</tspan></text>
<line x1="135.12" y1="368.4" x2="135.12" y2="370.5" stroke="#000" stroke-width="0.8"/>
<line x1="145.77" y1="368.4" x2="145.77" y2="370.5" stroke="#000" stroke-width="0.8"/>
<line x1="153.32" y1="368.4" x2="153.32" y2="370.5" stroke="#000" stroke-width="0.8"/>
<line x1="159.18" y1="368.4" x2="159.18" y2="370.5" stroke="#000" stroke-width="0.8"/>
<line x1="163.97" y1="368.4" x2="163.97" y2="370.5" stroke="#000" stroke-width="0.8"/>
<line x1="168.02" y1="368.4" x2="168.02" y2="370.5" stroke="#000" stroke-width="0.8"/>
<line x1="171.52" y1="368.4" x2="171.52" y2="370.5" stroke="#000" stroke-width="0.8"/>
<line x1="174.62" y1="368.4" x2="174.62" y2="370.5" stroke="#000" stroke-width="0.8"/>
<line x1="177.38" y1="368.4" x2="177.38" y2="372" stroke="#000" stroke-width="1.1"/>
<text x="177.68" y="384.4" text-anchor="middle" font-size="11.5" textLength="19.2" lengthAdjust="spacingAndGlyphs">10<tspan font-size="8.28" dy="-4">0</tspan></text>
<line x1="195.59" y1="368.4" x2="195.59" y2="370.5" stroke="#000" stroke-width="0.8"/>
<line x1="206.23" y1="368.4" x2="206.23" y2="370.5" stroke="#000" stroke-width="0.8"/>
<line x1="213.79" y1="368.4" x2="213.79" y2="370.5" stroke="#000" stroke-width="0.8"/>
<line x1="219.65" y1="368.4" x2="219.65" y2="370.5" stroke="#000" stroke-width="0.8"/>
<line x1="224.44" y1="368.4" x2="224.44" y2="370.5" stroke="#000" stroke-width="0.8"/>
<line x1="228.48" y1="368.4" x2="228.48" y2="370.5" stroke="#000" stroke-width="0.8"/>
<line x1="231.99" y1="368.4" x2="231.99" y2="370.5" stroke="#000" stroke-width="0.8"/>
<line x1="235.08" y1="368.4" x2="235.08" y2="370.5" stroke="#000" stroke-width="0.8"/>
<line x1="237.85" y1="368.4" x2="237.85" y2="372" stroke="#000" stroke-width="1.1"/>
<text x="238.15" y="384.4" text-anchor="middle" font-size="11.5" textLength="19.2" lengthAdjust="spacingAndGlyphs">10<tspan font-size="8.28" dy="-4">1</tspan></text>
<g clip-path="url(#clip02)">
<path d="M26.5,269.9 79.9,269.9 98.1,284.8 108.7,295.9 116.3,310.0 122.2,305.3 126.9,320.3 131.0,317.0 134.5,312.3 137.6,321.2 140.4,322.2 142.9,321.2 145.1,325.0 147.2,322.7 149.2,325.8 151.0,332.5 152.7,329.7 154.3,336.0 155.8,343.6 157.2,334.0 158.6,332.3 159.8,333.3 161.1,332.4 162.2,345.3 163.3,337.7 164.4,339.4 165.4,338.3 166.4,336.2 167.4,339.0 168.3,349.6 169.2,337.4 170.1,347.2 170.9,341.4 171.7,349.3 172.5,344.5 173.3,346.8 174.0,353.7 174.7,347.1 175.4,342.4 176.1,349.8 176.8,355.6 177.4,349.4 178.0,348.2 178.7,347.9 179.3,349.8 179.9,351.6 180.4,347.0 181.0,348.2 181.5,354.1 182.1,358.7 182.6,351.4 183.1,345.8 183.7,348.6 184.2,353.1 184.6,348.3 185.1,352.7 185.6,349.6 186.1,359.8 186.5,361.3 187.0,358.2 187.4,354.4 187.8,352.3 188.3,349.5 188.7,350.9 189.1,360.9 189.5,360.9 189.9,351.8 190.3,351.7 190.7,355.5 191.1,353.3 191.5,356.9 191.8,354.2 192.2,357.0 192.6,354.1 192.9,354.6 193.3,352.0 193.6,360.2 194.0,365.5 194.3,358.0 194.6,363.1 195.0,358.7 195.3,354.8 195.6,362.5 195.9,355.3 196.2,361.9 196.6,356.0 196.9,355.6 197.2,353.6 197.5,356.5 197.8,367.7 198.1,352.7 198.3,363.5 198.6,360.2 198.9,356.3 199.2,358.9 199.5,360.5 199.8,368.9 200.0,360.7 200.3,362.4 200.6,357.5 200.8,366.5 201.1,358.1 201.3,356.6 201.6,362.9 201.9,366.1 202.1,360.3 202.4,359.1 202.6,360.2 202.8,365.7 203.1,367.3 203.3,358.6 203.6,357.4 203.8,371.4 204.0,361.2 204.3,358.9 204.5,368.2 204.7,364.6 204.9,361.2 205.2,363.6 205.4,368.7 205.6,371.0 205.8,359.6 206.0,361.2 206.3,367.9 206.5,366.3 206.7,364.8 206.9,360.2 207.1,362.5 207.3,365.3 207.5,362.5 207.7,373.8 207.9,359.6 208.1,365.4 208.3,368.0 208.5,368.1 208.7,364.0 208.9,373.0 209.1,365.4 209.3,365.4 209.5,361.2 209.7,367.8 209.8,374.9 210.0,374.4 210.2,362.9 210.4,365.7 210.6,370.0 210.8,363.8 210.9,373.6 211.1,366.0 211.3,361.7 211.5,375.8 211.6,371.2 211.8,366.9 212.0,364.0 212.2,363.7 212.3,367.0 212.5,371.0 212.7,362.7 212.8,366.4 213.0,371.2 213.2,375.4 213.3,374.0 213.5,366.7 213.7,376.7 213.8,377.0 214.0,377.1 214.1,365.6 214.3,370.9 214.4,364.1 214.6,366.6 214.8,367.7 214.9,369.0 215.1,365.9 215.2,368.3 215.4,366.0 215.5,370.7 215.7,371.3 215.8,368.9 216.0,377.4 216.1,372.6 216.3,370.4 216.4,370.4 216.5,366.6 216.7,367.5 216.8,370.0 217.0,367.4 217.1,373.1 217.3,374.0 217.4,369.4 217.5,366.8 217.7,368.6 217.8,372.8 218.0,368.1 218.1,370.0 218.2,373.7 218.4,370.5 218.5,368.2 218.6,376.0 218.8,370.4 218.9,379.6 219.0,369.7 219.2,364.5 219.3,374.2 219.4,370.9 219.5,371.9 219.7,372.9 219.8,371.7 219.9,371.1 220.1,366.5 220.2,370.7 220.3,371.5 220.4,368.4 220.6,368.1 220.7,370.5 220.8,374.4 220.9,370.7 221.0,375.9 221.2,371.2 221.3,380.9 221.4,372.4 221.5,376.4 221.6,377.8 221.8,368.6 221.9,370.6 222.0,378.4 222.1,370.3 222.2,378.7 222.4,375.3 222.5,367.2 222.6,373.6 222.7,372.8 222.8,381.7 222.9,380.7 223.0,380.0 223.1,371.7 223.3,375.7 223.4,372.9 223.5,373.3 223.6,370.7 223.7,374.1 223.8,371.4 223.9,375.4 224.0,368.3 224.1,367.9 224.2,376.3 224.4,375.2 224.5,373.9 224.6,374.7 224.7,376.2 224.8,371.6 224.9,375.2 225.0,371.9 225.1,371.7 225.2,377.6 225.3,371.0 225.4,370.9 225.5,376.6 225.6,375.4 225.7,373.1 225.8,372.3 225.9,372.3 226.0,383.4 226.1,376.1 226.2,374.6 226.3,379.5 226.4,377.5 226.5,376.8 226.6,377.9 226.7,377.5 226.8,378.1 226.9,375.8 227.0,372.6 227.1,376.9 227.2,372.4 227.3,371.9 227.4,375.4 227.5,380.3 227.6,373.3 227.7,380.4 227.8,373.4 227.9,381.0 228.0,384.4 228.0,374.5 228.1,369.0 228.2,372.4 228.3,373.6 228.4,374.1 228.5,377.9 228.6,373.9 228.7,372.2 228.8,372.0 228.9,371.8 229.0,374.4 229.1,374.1 229.1,378.4 229.2,385.1 229.3,385.2 229.4,378.2 229.5,385.3 229.6,373.7 229.7,379.1 229.8,375.2 229.8,383.1 229.9,373.7 230.0,385.5 230.1,375.5 230.2,376.4 230.3,378.9 230.4,375.4 230.4,377.9 230.5,374.5 230.6,374.1 230.7,380.1 230.8,374.8 230.9,376.0 231.0,380.9 231.0,375.3 231.1,375.3 231.2,373.9 231.3,377.6 231.4,378.5 231.4,377.4 231.5,382.9 231.6,377.0 231.7,377.2 231.8,385.3 231.9,379.8 231.9,380.4 232.0,375.2 232.1,386.7 232.2,378.5 232.3,375.6 232.3,378.5 232.4,379.5 232.5,386.4 232.6,373.9 232.6,378.4 232.7,375.7 232.8,381.5 232.9,378.8 233.0,379.4 233.0,381.0 233.1,377.6 233.2,372.9 233.3,376.3 233.3,386.0 233.4,376.2 233.5,375.9 233.6,380.9 233.6,383.4 233.7,384.6 233.8,376.3 233.9,380.9 233.9,377.9 234.0,382.4 234.1,381.9 234.2,374.7 234.2,387.8 234.3,374.2 234.4,379.0 234.5,374.7 234.5,388.0 234.6,377.4 234.7,384.5 234.8,381.8 234.8,375.0 234.9,378.7 235.0,380.7 235.0,377.4 235.1,375.4 235.2,378.0 235.3,376.8 235.3,381.4 235.4,388.4 235.5,378.1 235.5,383.7 235.6,381.7 235.7,385.3 235.7,377.5 235.8,378.1 235.9,379.5 235.9,381.4 236.0,386.4 236.1,376.2 236.2,377.7 236.2,382.9 236.3,382.5 236.4,383.4 236.4,379.9 236.5,380.2 236.6,378.1 236.6,378.0 236.7,379.1 236.8,378.8 236.8,389.2 236.9,380.5 237.0,381.6 237.0,389.3 237.1,377.3 237.2,378.9 237.2,386.4 237.3,381.4 237.4,382.9 237.4,380.5 237.5,383.1 237.6,383.9 237.6,383.9 237.7,378.2 237.7,380.2 237.8,382.6 237.9,384.4" fill="none" stroke="#000000" stroke-width="0.7" stroke-linejoin="round"/>
<path d="M26.5,276.6 79.9,276.6 98.1,285.4 108.7,296.5 116.3,310.5 122.2,310.5 126.9,326.0 131.0,323.0 134.5,314.7 137.6,327.8 140.4,322.2 142.9,325.0 145.1,326.4 147.2,324.0 149.2,323.1 151.0,331.6 152.7,341.0 154.3,331.6 155.8,336.2 157.2,326.0 158.6,326.0 159.8,334.4 161.1,334.2 162.2,337.3 163.3,337.5 164.4,335.1 165.4,338.1 166.4,336.0 167.4,335.7 168.3,337.4 169.2,340.3 170.1,344.7 170.9,344.9 171.7,339.5 172.5,340.0 173.3,345.2 174.0,346.9 174.7,345.3 175.4,344.8 176.1,344.6 176.8,355.5 177.4,345.2 178.0,347.2 178.7,345.8 179.3,345.0 179.9,347.3 180.4,348.0 181.0,355.1 181.5,349.5 182.1,346.4 182.6,347.5 183.1,354.0 183.7,348.8 184.2,351.8 184.6,351.2 185.1,350.7 185.6,349.6 186.1,353.0 186.5,351.1 187.0,355.7 187.4,355.7 187.8,357.4 188.3,353.0 188.7,354.6 189.1,352.6 189.5,357.7 189.9,351.9 190.3,352.0 190.7,356.2 191.1,356.5 191.5,355.0 191.8,355.5 192.2,352.5 192.6,355.5 192.9,351.9 193.3,353.6 193.6,359.0 194.0,359.3 194.3,359.8 194.6,357.6 195.0,353.7 195.3,357.6 195.6,357.3 195.9,356.3 196.2,356.9 196.6,359.9 196.9,356.9 197.2,366.2 197.5,361.2 197.8,359.9 198.1,359.5 198.3,355.6 198.6,368.1 198.9,357.2 199.2,359.9 199.5,362.9 199.8,362.9 200.0,365.6 200.3,363.1 200.6,362.9 200.8,356.9 201.1,361.2 201.3,363.3 201.6,360.7 201.9,363.8 202.1,367.4 202.4,360.2 202.6,361.9 202.8,362.9 203.1,363.2 203.3,360.5 203.6,363.2 203.8,371.4 204.0,358.1 204.3,359.8 204.5,365.0 204.7,364.1 204.9,362.9 205.2,364.1 205.4,364.3 205.6,365.4 205.8,365.0 206.0,372.8 206.3,366.0 206.5,361.3 206.7,366.0 206.9,361.1 207.1,359.7 207.3,370.1 207.5,372.1 207.7,367.2 207.9,368.9 208.1,374.0 208.3,361.0 208.5,365.2 208.7,365.9 208.9,367.8 209.1,363.2 209.3,364.7 209.5,370.1 209.7,374.4 209.8,367.5 210.0,369.5 210.2,363.4 210.4,369.6 210.6,368.9 210.8,366.6 210.9,370.2 211.1,370.0 211.3,363.5 211.5,375.8 211.6,371.3 211.8,365.5 212.0,371.0 212.2,367.3 212.3,364.9 212.5,376.3 212.7,367.7 212.8,366.3 213.0,375.5 213.2,368.5 213.3,364.0 213.5,375.3 213.7,368.1 213.8,376.5 214.0,370.5 214.1,365.2 214.3,365.4 214.4,371.0 214.6,374.8 214.8,371.8 214.9,370.4 215.1,366.7 215.2,374.7 215.4,370.6 215.5,370.3 215.7,363.7 215.8,372.2 216.0,375.3 216.1,374.2 216.3,368.2 216.4,371.2 216.5,367.1 216.7,364.0 216.8,369.7 217.0,370.4 217.1,368.3 217.3,368.4 217.4,368.6 217.5,367.8 217.7,378.1 217.8,370.2 218.0,378.5 218.1,368.8 218.2,377.0 218.4,373.4 218.5,369.4 218.6,368.1 218.8,370.4 218.9,374.4 219.0,370.1 219.2,368.6 219.3,378.1 219.4,372.0 219.5,376.8 219.7,372.6 219.8,375.8 219.9,373.7 220.1,371.9 220.2,380.3 220.3,374.5 220.4,369.1 220.6,377.1 220.7,368.9 220.8,373.1 220.9,373.2 221.0,380.3 221.2,364.6 221.3,374.1 221.4,376.0 221.5,376.5 221.6,369.9 221.8,370.8 221.9,370.1 222.0,370.3 222.1,372.2 222.2,372.4 222.4,370.4 222.5,369.6 222.6,379.8 222.7,376.1 222.8,368.8 222.9,374.1 223.0,377.2 223.1,376.2 223.3,368.9 223.4,380.0 223.5,369.4 223.6,371.5 223.7,375.1 223.8,373.3 223.9,380.3 224.0,371.9 224.1,371.9 224.2,382.4 224.4,373.7 224.5,381.6 224.6,375.1 224.7,370.8 224.8,368.9 224.9,374.3 225.0,382.8 225.1,371.9 225.2,372.8 225.3,372.4 225.4,372.5 225.5,374.7 225.6,371.4 225.7,370.9 225.8,368.8 225.9,373.2 226.0,380.3 226.1,373.7 226.2,376.1 226.3,371.5 226.4,373.4 226.5,375.0 226.6,377.9 226.7,374.1 226.8,374.7 226.9,383.2 227.0,374.7 227.1,376.2 227.2,372.4 227.3,375.9 227.4,373.9 227.5,375.1 227.6,379.5 227.7,375.4 227.8,372.8 227.9,372.4 228.0,373.1 228.0,382.3 228.1,375.9 228.2,376.7 228.3,373.7 228.4,373.0 228.5,377.8 228.6,378.8 228.7,376.6 228.8,371.4 228.9,380.0 229.0,373.8 229.1,376.0 229.1,375.5 229.2,372.9 229.3,372.7 229.4,376.3 229.5,370.6 229.6,377.1 229.7,382.7 229.8,371.6 229.8,379.8 229.9,373.8 230.0,375.1 230.1,371.9 230.2,370.9 230.3,382.5 230.4,385.7 230.4,380.4 230.5,376.2 230.6,385.9 230.7,384.2 230.8,376.1 230.9,380.9 231.0,375.4 231.0,381.2 231.1,374.0 231.2,381.2 231.3,377.5 231.4,375.4 231.4,372.9 231.5,386.4 231.6,381.0 231.7,376.8 231.8,375.0 231.9,375.9 231.9,378.8 232.0,372.1 232.1,382.5 232.2,379.0 232.3,378.3 232.3,377.4 232.4,379.9 232.5,380.9 232.6,379.7 232.6,378.3 232.7,383.9 232.8,375.8 232.9,378.2 233.0,387.1 233.0,374.8 233.1,382.3 233.2,387.3 233.3,379.9 233.3,377.9 233.4,382.6 233.5,376.5 233.6,384.5 233.6,380.4 233.7,377.4 233.8,387.6 233.9,386.5 233.9,372.4 234.0,378.7 234.1,384.0 234.2,379.3 234.2,380.2 234.3,380.5 234.4,377.9 234.5,387.9 234.5,376.6 234.6,381.6 234.7,383.4 234.8,373.6 234.8,388.1 234.9,379.7 235.0,382.8 235.0,383.4 235.1,381.3 235.2,374.4 235.3,378.2 235.3,382.5 235.4,375.8 235.5,378.3 235.5,388.5 235.6,377.0 235.7,380.2 235.7,387.7 235.8,376.8 235.9,377.1 235.9,374.3 236.0,381.9 236.1,382.9 236.2,383.6 236.2,381.4 236.3,385.3 236.4,384.2 236.4,379.7 236.5,387.0 236.6,377.4 236.6,384.7 236.7,379.7 236.8,380.6 236.8,373.7 236.9,381.9 237.0,381.7 237.0,380.2 237.1,384.6 237.2,385.3 237.2,381.6 237.3,380.1 237.4,384.9 237.4,388.1 237.5,377.9 237.6,382.0 237.6,379.2 237.7,387.4 237.7,389.7 237.8,389.7 237.9,382.6" fill="none" stroke="#0000ff" stroke-width="0.7" stroke-linejoin="round"/>
<path d="M26.5,282.8 79.9,282.8 98.1,290.0 108.7,321.8 116.3,307.7 122.2,308.1 126.9,313.8 131.0,324.0 134.5,323.1 137.6,321.7 140.4,323.1 142.9,333.4 145.1,332.5 147.2,341.0 149.2,340.0 151.0,332.5 152.7,327.8 154.3,330.6 155.8,339.0 157.2,341.8 158.6,333.3 159.8,343.6 161.1,332.5 162.2,333.1 163.3,332.5 164.4,338.4 165.4,347.6 166.4,339.5 167.4,343.0 168.3,338.1 169.2,338.7 170.1,337.8 170.9,336.9 171.7,339.4 172.5,345.0 173.3,341.1 174.0,349.2 174.7,345.4 175.4,346.6 176.1,343.9 176.8,342.9 177.4,345.5 178.0,349.6 178.7,348.5 179.3,343.7 179.9,347.8 180.4,346.3 181.0,353.1 181.5,355.8 182.1,355.5 182.6,347.9 183.1,347.9 183.7,353.8 184.2,348.2 184.6,352.6 185.1,346.5 185.6,356.9 186.1,349.8 186.5,352.0 187.0,354.9 187.4,357.3 187.8,347.8 188.3,350.5 188.7,353.0 189.1,350.0 189.5,355.6 189.9,363.2 190.3,358.7 190.7,352.1 191.1,352.8 191.5,355.7 191.8,350.3 192.2,360.4 192.6,349.9 192.9,355.6 193.3,353.7 193.6,362.7 194.0,365.5 194.3,357.6 194.6,358.0 195.0,357.5 195.3,350.8 195.6,359.3 195.9,358.3 196.2,355.8 196.6,366.0 196.9,355.9 197.2,357.5 197.5,362.6 197.8,361.0 198.1,354.2 198.3,357.5 198.6,368.2 198.9,358.6 199.2,365.0 199.5,357.8 199.8,359.4 200.0,357.8 200.3,357.3 200.6,356.5 200.8,365.8 201.1,363.7 201.3,360.9 201.6,360.4 201.9,356.6 202.1,370.3 202.4,358.2 202.6,362.0 202.8,364.0 203.1,362.3 203.3,364.2 203.6,367.4 203.8,368.8 204.0,363.9 204.3,371.7 204.5,360.5 204.7,362.2 204.9,356.9 205.2,357.5 205.4,360.0 205.6,367.1 205.8,372.7 206.0,362.3 206.3,361.5 206.5,360.5 206.7,359.5 206.9,367.2 207.1,361.9 207.3,371.4 207.5,365.0 207.7,368.7 207.9,366.1 208.1,368.6 208.3,373.1 208.5,363.4 208.7,366.5 208.9,369.7 209.1,363.8 209.3,374.7 209.5,361.4 209.7,364.3 209.8,364.7 210.0,364.2 210.2,363.2 210.4,371.0 210.6,368.3 210.8,364.0 210.9,374.9 211.1,371.1 211.3,362.6 211.5,365.7 211.6,375.4 211.8,364.6 212.0,373.0 212.2,372.0 212.3,365.8 212.5,369.5 212.7,376.4 212.8,364.6 213.0,371.4 213.2,373.2 213.3,365.4 213.5,368.6 213.7,369.1 213.8,372.1 214.0,367.6 214.1,373.4 214.3,369.7 214.4,370.4 214.6,368.6 214.8,371.3 214.9,366.4 215.1,363.0 215.2,370.9 215.4,367.0 215.5,369.0 215.7,366.6 215.8,367.4 216.0,376.9 216.1,368.2 216.3,369.2 216.4,372.0 216.5,366.9 216.7,365.4 216.8,367.6 217.0,367.4 217.1,369.9 217.3,370.6 217.4,369.5 217.5,368.1 217.7,378.1 217.8,368.7 218.0,369.1 218.1,371.7 218.2,370.3 218.4,368.4 218.5,375.8 218.6,370.8 218.8,367.8 218.9,366.7 219.0,365.8 219.2,377.0 219.3,370.8 219.4,372.2 219.5,368.3 219.7,366.8 219.8,371.7 219.9,376.5 220.1,372.4 220.2,377.1 220.3,368.6 220.4,375.5 220.6,371.1 220.7,370.1 220.8,375.8 220.9,365.6 221.0,370.7 221.2,368.4 221.3,374.0 221.4,374.8 221.5,368.9 221.6,369.7 221.8,367.0 221.9,374.1 222.0,374.9 222.1,370.3 222.2,375.3 222.4,376.0 222.5,374.4 222.6,371.1 222.7,379.5 222.8,373.2 222.9,374.1 223.0,373.2 223.1,380.0 223.3,377.4 223.4,368.6 223.5,369.2 223.6,381.0 223.7,372.4 223.8,368.1 223.9,371.4 224.0,374.9 224.1,374.3 224.2,377.0 224.4,369.7 224.5,380.0 224.6,373.7 224.7,373.0 224.8,380.7 224.9,373.1 225.0,375.1 225.1,371.9 225.2,375.3 225.3,373.4 225.4,369.8 225.5,372.2 225.6,371.1 225.7,370.5 225.8,371.8 225.9,373.3 226.0,374.9 226.1,371.8 226.2,370.8 226.3,375.1 226.4,371.1 226.5,376.1 226.6,375.9 226.7,377.9 226.8,382.2 226.9,374.1 227.0,372.8 227.1,378.0 227.2,369.5 227.3,378.1 227.4,382.6 227.5,371.9 227.6,384.2 227.7,377.0 227.8,377.7 227.9,376.7 228.0,380.1 228.0,370.6 228.1,374.3 228.2,375.8 228.3,377.5 228.4,374.3 228.5,384.7 228.6,376.3 228.7,375.0 228.8,377.7 228.9,377.9 229.0,374.0 229.1,377.3 229.1,374.4 229.2,370.7 229.3,375.9 229.4,377.5 229.5,374.3 229.6,371.8 229.7,373.8 229.8,378.4 229.8,374.1 229.9,375.2 230.0,379.8 230.1,372.4 230.2,374.6 230.3,377.5 230.4,373.5 230.4,378.4 230.5,380.0 230.6,378.0 230.7,377.5 230.8,375.8 230.9,381.4 231.0,374.6 231.0,373.8 231.1,374.0 231.2,377.9 231.3,376.0 231.4,377.1 231.4,378.4 231.5,386.4 231.6,371.8 231.7,375.8 231.8,383.4 231.9,382.6 231.9,378.8 232.0,377.3 232.1,373.5 232.2,378.9 232.3,379.2 232.3,379.2 232.4,377.0 232.5,375.8 232.6,375.2 232.6,383.7 232.7,373.2 232.8,384.5 232.9,383.3 233.0,376.4 233.0,378.3 233.1,384.6 233.2,382.3 233.3,387.3 233.3,386.4 233.4,374.6 233.5,376.4 233.6,386.4 233.6,380.9 233.7,376.8 233.8,378.7 233.9,373.0 233.9,375.5 234.0,381.7 234.1,386.8 234.2,379.2 234.2,376.6 234.3,374.1 234.4,376.9 234.5,377.0 234.5,385.7 234.6,378.3 234.7,381.3 234.8,380.6 234.8,373.8 234.9,380.0 235.0,388.2 235.0,375.4 235.1,379.7 235.2,381.8 235.3,378.1 235.3,384.9 235.4,376.5 235.5,385.9 235.5,385.7 235.6,377.1 235.7,377.5 235.7,378.6 235.8,379.7 235.9,376.0 235.9,376.6 236.0,380.4 236.1,375.6 236.2,378.8 236.2,382.5 236.3,379.4 236.4,378.2 236.4,381.3 236.5,386.2 236.6,377.9 236.6,383.8 236.7,380.3 236.8,381.3 236.8,376.7 236.9,382.1 237.0,384.9 237.0,383.9 237.1,380.1 237.2,376.8 237.2,379.0 237.3,382.6 237.4,389.2 237.4,383.6 237.5,389.6 237.6,381.0 237.6,377.1 237.7,380.3 237.7,382.1 237.8,375.9 237.9,376.6" fill="none" stroke="#ff0000" stroke-width="0.7" stroke-linejoin="round"/>
</g>
<rect x="56.45" y="262" width="181.4" height="106.4" fill="none" stroke="#1a1a1a" stroke-width="1.05"/>
<line x1="56.45" y1="404.6" x2="237.85" y2="404.6" stroke="#b0b0b0" stroke-width="1.1"/>
<line x1="52.55" y1="404.6" x2="56.45" y2="404.6" stroke="#000" stroke-width="1.1"/>
<text x="48.8" y="408.7" text-anchor="end" font-size="11.5" textLength="19.2" lengthAdjust="spacingAndGlyphs">10<tspan font-size="8.28" dy="-4">0</tspan></text>
<line x1="56.45" y1="435.1" x2="237.85" y2="435.1" stroke="#b0b0b0" stroke-width="1.1"/>
<line x1="52.55" y1="435.1" x2="56.45" y2="435.1" stroke="#000" stroke-width="1.1"/>
<text x="48.8" y="439.2" text-anchor="end" font-size="11.5" textLength="25.1" lengthAdjust="spacingAndGlyphs">10<tspan font-size="8.28" dy="-4">−2</tspan></text>
<line x1="56.45" y1="465.6" x2="237.85" y2="465.6" stroke="#b0b0b0" stroke-width="1.1"/>
<line x1="52.55" y1="465.6" x2="56.45" y2="465.6" stroke="#000" stroke-width="1.1"/>
<text x="48.8" y="469.7" text-anchor="end" font-size="11.5" textLength="25.1" lengthAdjust="spacingAndGlyphs">10<tspan font-size="8.28" dy="-4">−4</tspan></text>
<line x1="52.55" y1="496.1" x2="56.45" y2="496.1" stroke="#000" stroke-width="1.1"/>
<text x="48.8" y="500.2" text-anchor="end" font-size="11.5" textLength="25.1" lengthAdjust="spacingAndGlyphs">10<tspan font-size="8.28" dy="-4">−6</tspan></text>
<line x1="56.45" y1="496.1" x2="56.45" y2="499.7" stroke="#000" stroke-width="1.1"/>
<text x="56.75" y="512.1" text-anchor="middle" font-size="11.5" textLength="25.1" lengthAdjust="spacingAndGlyphs">10<tspan font-size="8.28" dy="-4">−2</tspan></text>
<line x1="74.65" y1="496.1" x2="74.65" y2="498.2" stroke="#000" stroke-width="0.8"/>
<line x1="85.3" y1="496.1" x2="85.3" y2="498.2" stroke="#000" stroke-width="0.8"/>
<line x1="92.85" y1="496.1" x2="92.85" y2="498.2" stroke="#000" stroke-width="0.8"/>
<line x1="98.71" y1="496.1" x2="98.71" y2="498.2" stroke="#000" stroke-width="0.8"/>
<line x1="103.5" y1="496.1" x2="103.5" y2="498.2" stroke="#000" stroke-width="0.8"/>
<line x1="107.55" y1="496.1" x2="107.55" y2="498.2" stroke="#000" stroke-width="0.8"/>
<line x1="111.06" y1="496.1" x2="111.06" y2="498.2" stroke="#000" stroke-width="0.8"/>
<line x1="114.15" y1="496.1" x2="114.15" y2="498.2" stroke="#000" stroke-width="0.8"/>
<line x1="116.92" y1="496.1" x2="116.92" y2="499.7" stroke="#000" stroke-width="1.1"/>
<text x="117.22" y="512.1" text-anchor="middle" font-size="11.5" textLength="25.1" lengthAdjust="spacingAndGlyphs">10<tspan font-size="8.28" dy="-4">−1</tspan></text>
<line x1="135.12" y1="496.1" x2="135.12" y2="498.2" stroke="#000" stroke-width="0.8"/>
<line x1="145.77" y1="496.1" x2="145.77" y2="498.2" stroke="#000" stroke-width="0.8"/>
<line x1="153.32" y1="496.1" x2="153.32" y2="498.2" stroke="#000" stroke-width="0.8"/>
<line x1="159.18" y1="496.1" x2="159.18" y2="498.2" stroke="#000" stroke-width="0.8"/>
<line x1="163.97" y1="496.1" x2="163.97" y2="498.2" stroke="#000" stroke-width="0.8"/>
<line x1="168.02" y1="496.1" x2="168.02" y2="498.2" stroke="#000" stroke-width="0.8"/>
<line x1="171.52" y1="496.1" x2="171.52" y2="498.2" stroke="#000" stroke-width="0.8"/>
<line x1="174.62" y1="496.1" x2="174.62" y2="498.2" stroke="#000" stroke-width="0.8"/>
<line x1="177.38" y1="496.1" x2="177.38" y2="499.7" stroke="#000" stroke-width="1.1"/>
<text x="177.68" y="512.1" text-anchor="middle" font-size="11.5" textLength="19.2" lengthAdjust="spacingAndGlyphs">10<tspan font-size="8.28" dy="-4">0</tspan></text>
<line x1="195.59" y1="496.1" x2="195.59" y2="498.2" stroke="#000" stroke-width="0.8"/>
<line x1="206.23" y1="496.1" x2="206.23" y2="498.2" stroke="#000" stroke-width="0.8"/>
<line x1="213.79" y1="496.1" x2="213.79" y2="498.2" stroke="#000" stroke-width="0.8"/>
<line x1="219.65" y1="496.1" x2="219.65" y2="498.2" stroke="#000" stroke-width="0.8"/>
<line x1="224.44" y1="496.1" x2="224.44" y2="498.2" stroke="#000" stroke-width="0.8"/>
<line x1="228.48" y1="496.1" x2="228.48" y2="498.2" stroke="#000" stroke-width="0.8"/>
<line x1="231.99" y1="496.1" x2="231.99" y2="498.2" stroke="#000" stroke-width="0.8"/>
<line x1="235.08" y1="496.1" x2="235.08" y2="498.2" stroke="#000" stroke-width="0.8"/>
<line x1="237.85" y1="496.1" x2="237.85" y2="499.7" stroke="#000" stroke-width="1.1"/>
<text x="238.15" y="512.1" text-anchor="middle" font-size="11.5" textLength="19.2" lengthAdjust="spacingAndGlyphs">10<tspan font-size="8.28" dy="-4">1</tspan></text>
<g clip-path="url(#clip03)">
<path d="M110.9 412.3h0M116.7 408.3h0M121.5 417.0h0M141.8 425.4h0M145.6 415.4h0M159.0 424.4h0M163.8 409.7h0M165.5 421.9h0M176.1 437.4h0M177.2 413.8h0M179.2 417.7h0M182.4 427.5h0M183.3 428.0h0M187.9 412.8h0M191.1 431.4h0M194.1 430.3h0M195.9 424.8h0M196.2 420.7h0M197.9 416.7h0M199.8 422.8h0M204.3 438.7h0M206.6 438.1h0M208.6 430.6h0M208.9 411.4h0M211.9 441.6h0M212.0 439.1h0M212.5 440.2h0M215.4 431.2h0M216.2 416.5h0M216.8 427.1h0M216.9 414.6h0M217.2 416.4h0M217.3 424.8h0M219.2 422.6h0M219.9 414.7h0M220.0 424.0h0M221.3 427.2h0M221.5 433.6h0M222.2 424.7h0M223.2 433.3h0M223.6 425.2h0M223.6 428.7h0M224.2 439.4h0M224.8 426.7h0M225.1 431.5h0M226.2 438.5h0M227.5 430.5h0M227.7 422.9h0M228.6 439.7h0M228.7 445.7h0M229.6 426.4h0M230.2 428.3h0M230.5 431.2h0M233.2 430.1h0M233.3 425.2h0M234.0 428.7h0M234.4 427.4h0M234.7 437.6h0M234.9 428.1h0M235.4 420.4h0M236.4 437.7h0M236.7 424.5h0M236.8 436.2h0M237.0 437.0h0M237.4 428.1h0M237.5 422.4h0" stroke="#000000" stroke-width="2.3" stroke-linecap="round"/>
<path d="M116.7 413.9h0M125.6 417.5h0M151.8 418.8h0M166.3 418.5h0M170.7 409.8h0M171.4 426.1h0M172.0 423.5h0M176.1 421.4h0M178.7 415.5h0M180.7 421.6h0M181.1 429.4h0M182.4 423.5h0M183.7 421.2h0M186.0 410.8h0M188.6 424.5h0M191.5 429.6h0M192.6 434.3h0M194.6 421.5h0M195.4 421.8h0M199.3 421.6h0M201.1 413.0h0M201.9 421.5h0M202.1 427.7h0M202.7 420.5h0M205.5 416.3h0M205.9 422.4h0M206.4 432.2h0M206.6 432.2h0M208.9 426.4h0M209.0 433.0h0M210.0 434.9h0M211.7 429.7h0M211.9 423.4h0M212.4 427.2h0M213.5 438.1h0M213.6 428.4h0M215.1 435.2h0M217.2 420.7h0M219.9 438.2h0M220.6 432.8h0M221.2 431.2h0M221.3 434.5h0M222.7 431.6h0M223.0 436.9h0M223.7 430.5h0M224.3 433.6h0M224.8 440.8h0M225.0 434.1h0M226.9 440.9h0M227.2 434.8h0M228.2 428.5h0M228.6 430.5h0M229.2 438.9h0M229.3 438.3h0M229.6 431.8h0M229.8 432.0h0M230.4 433.6h0M231.4 425.0h0M231.4 426.9h0M232.2 433.3h0M233.1 425.9h0M234.6 430.5h0M235.0 446.8h0M235.2 444.0h0M235.4 435.7h0M235.5 415.0h0M236.2 428.8h0M237.0 422.4h0M237.4 436.1h0M237.7 427.4h0" stroke="#0000ff" stroke-width="2.3" stroke-linecap="round"/>
<path d="M103.3 389.3h0M125.6 412.0h0M157.9 420.2h0M162.0 418.6h0M169.3 425.4h0M170.0 429.0h0M176.7 422.1h0M178.7 412.6h0M181.6 415.3h0M186.0 419.5h0M188.6 409.4h0M191.1 411.6h0M191.5 410.6h0M192.1 432.1h0M192.9 422.0h0M197.4 422.2h0M200.2 410.6h0M201.9 412.9h0M202.3 414.0h0M202.5 423.3h0M202.7 413.3h0M203.3 424.2h0M203.5 427.5h0M203.7 425.1h0M204.6 419.7h0M204.8 414.3h0M205.5 411.1h0M205.9 420.1h0M206.1 420.6h0M207.4 415.9h0M207.6 424.2h0M210.1 421.3h0M210.4 415.6h0M211.0 421.9h0M211.4 424.9h0M211.6 413.9h0M211.9 424.0h0M212.5 430.3h0M213.5 423.2h0M214.0 415.4h0M215.0 406.9h0M216.5 412.6h0M216.8 421.2h0M216.9 421.6h0M217.5 412.6h0M217.6 416.0h0M218.2 417.9h0M218.4 410.8h0M218.7 422.4h0M219.3 422.5h0M219.9 430.9h0M220.0 429.2h0M220.2 428.1h0M221.7 411.9h0M222.2 412.6h0M222.5 418.9h0M223.5 421.4h0M224.0 430.3h0M225.1 414.0h0M225.5 424.0h0M226.4 417.7h0M226.5 413.5h0M227.7 420.1h0M228.1 419.9h0M228.5 424.9h0M228.6 425.8h0M229.3 413.8h0M229.6 422.6h0M229.8 417.8h0M230.4 414.6h0M230.5 419.4h0M230.8 436.3h0M231.1 419.2h0M231.2 426.7h0M231.7 413.6h0M231.8 410.6h0M232.4 424.9h0M232.5 419.3h0M232.7 425.9h0M233.2 421.6h0M234.6 417.3h0M235.0 416.6h0M235.1 414.2h0M236.3 408.5h0M236.6 410.8h0M236.7 413.4h0M236.8 425.7h0M237.1 432.1h0M237.4 413.5h0" stroke="#ff0000" stroke-width="2.3" stroke-linecap="round"/>
<path d="M125.6 420.0h0M154.4 423.0h0M173.9 417.5h0M175.0 403.8h0M175.6 421.4h0M179.7 416.5h0M183.7 439.2h0M184.9 435.5h0M185.3 436.3h0M186.0 411.5h0M187.1 427.0h0M188.6 421.0h0M188.9 433.1h0M193.8 436.3h0M194.6 438.4h0M201.7 424.4h0M201.9 425.6h0M202.3 425.2h0M202.9 428.4h0M204.4 435.5h0M204.6 447.3h0M204.8 434.3h0M208.1 432.9h0M208.4 430.9h0M210.1 424.0h0M210.4 428.8h0M211.4 438.7h0M212.7 432.6h0M212.8 435.6h0M213.1 435.7h0M213.4 434.9h0M213.6 424.7h0M214.5 430.0h0M214.8 431.9h0M215.5 433.2h0M215.6 436.0h0M217.5 432.5h0M217.6 444.5h0M219.4 422.4h0M220.8 419.7h0M221.1 421.8h0M221.2 428.1h0M221.4 417.4h0M221.7 428.6h0M222.6 430.5h0M222.7 426.7h0M224.0 414.6h0M224.4 414.5h0M224.4 430.8h0M224.7 436.7h0M225.0 416.0h0M225.4 434.4h0M225.5 432.4h0M227.1 430.1h0M227.4 432.5h0M227.6 437.1h0M227.9 428.3h0M228.1 447.6h0M228.5 422.4h0M228.9 427.4h0M229.1 428.3h0M229.4 434.7h0M230.6 424.9h0M231.4 432.3h0M231.9 430.5h0M232.3 436.8h0M232.8 441.5h0M232.9 426.9h0M233.7 426.9h0M234.5 431.5h0M234.6 423.7h0M234.7 423.2h0M235.1 428.6h0M235.5 428.4h0M235.6 434.1h0M236.5 430.9h0M236.6 435.8h0M236.6 421.3h0M236.8 434.2h0M237.1 431.0h0M237.3 413.3h0M237.7 436.3h0" stroke="#000000" stroke-width="2.3" stroke-linecap="round"/>
<path d="M110.9 414.3h0M129.1 415.8h0M134.9 416.4h0M137.5 416.7h0M161.0 414.9h0M167.1 421.7h0M174.4 413.2h0M175.0 423.3h0M180.2 423.5h0M182.0 419.5h0M184.9 420.1h0M188.9 429.6h0M189.9 420.7h0M191.8 429.4h0M192.1 436.6h0M194.9 430.0h0M195.2 431.0h0M195.9 428.8h0M196.4 433.5h0M200.9 411.2h0M201.7 418.7h0M202.5 429.2h0M203.9 418.7h0M204.6 424.5h0M206.1 422.8h0M207.6 433.9h0M207.9 436.2h0M208.4 440.1h0M209.3 431.4h0M210.1 429.1h0M211.4 421.0h0M211.6 421.9h0M216.4 420.5h0M216.8 426.0h0M218.0 426.8h0M218.7 424.1h0M219.1 425.8h0M219.6 435.1h0M220.7 439.5h0M220.9 437.0h0M222.2 437.8h0M222.8 445.4h0M222.9 441.3h0M223.3 441.7h0M223.4 447.3h0M223.8 437.2h0M224.0 428.0h0M225.2 432.5h0M225.9 430.6h0M228.2 431.8h0M228.7 444.5h0M229.4 429.0h0M229.6 439.3h0M230.3 420.6h0M230.7 434.8h0M230.8 417.0h0M231.0 431.7h0M231.0 435.7h0M231.2 422.8h0M232.3 438.9h0M232.7 429.9h0M233.0 428.9h0M233.4 431.3h0M234.1 429.3h0M234.7 440.0h0M234.7 437.7h0M234.9 440.5h0M235.1 439.0h0M235.3 436.4h0M235.4 441.3h0M236.2 430.5h0M236.6 441.1h0M236.8 424.3h0M237.3 431.7h0M237.3 437.2h0M237.4 436.4h0" stroke="#0000ff" stroke-width="2.3" stroke-linecap="round"/>
<path d="M116.7 411.2h0M121.5 413.4h0M139.7 409.4h0M150.4 414.2h0M153.1 421.5h0M171.4 420.5h0M173.3 421.7h0M177.2 424.2h0M184.1 434.5h0M187.5 410.4h0M188.9 409.4h0M189.6 413.0h0M190.8 416.2h0M192.6 414.6h0M193.2 412.9h0M195.2 420.9h0M195.4 419.8h0M195.7 418.4h0M197.9 418.2h0M201.5 420.7h0M202.9 414.9h0M203.9 421.6h0M205.2 411.1h0M206.6 429.7h0M207.1 415.9h0M208.2 434.2h0M209.5 413.1h0M211.7 419.8h0M213.4 412.8h0M213.6 419.4h0M214.3 414.3h0M214.6 412.9h0M215.1 408.8h0M215.5 423.9h0M215.6 420.8h0M215.8 421.2h0M216.7 426.1h0M218.3 420.8h0M218.5 416.2h0M219.2 415.1h0M220.8 414.7h0M222.9 420.8h0M223.1 416.4h0M223.4 422.8h0M224.4 426.1h0M225.0 432.6h0M225.3 426.8h0M226.4 415.7h0M226.8 414.3h0M227.2 418.0h0M227.3 418.8h0M228.2 427.6h0M228.7 437.8h0M228.9 421.1h0M229.0 416.9h0M229.1 421.8h0M229.4 423.1h0M229.8 413.1h0M230.0 409.7h0M230.3 419.8h0M230.5 425.4h0M230.7 431.1h0M231.5 414.4h0M231.9 418.9h0M232.3 425.2h0M232.7 426.5h0M232.8 421.3h0M232.8 426.5h0M232.9 432.9h0M233.4 430.6h0M233.7 427.3h0M233.8 426.6h0M234.2 415.8h0M234.4 415.2h0M234.7 418.8h0M235.2 415.8h0M235.3 402.6h0M235.5 403.8h0M235.9 425.5h0M236.1 421.9h0M236.2 412.0h0M236.8 430.5h0" stroke="#ff0000" stroke-width="2.3" stroke-linecap="round"/>
<path d="M103.3 413.9h0M132.2 416.6h0M148.9 415.5h0M153.1 420.6h0M160.0 415.2h0M162.9 430.8h0M164.7 413.3h0M169.3 415.4h0M170.0 407.7h0M176.7 428.1h0M177.7 415.5h0M178.2 426.9h0M178.7 411.7h0M180.2 428.0h0M181.1 427.7h0M184.5 431.6h0M189.9 428.9h0M190.5 428.5h0M190.8 428.8h0M192.4 437.0h0M193.5 428.2h0M194.3 438.1h0M196.4 425.7h0M196.9 424.6h0M200.0 423.3h0M200.4 431.0h0M201.1 434.5h0M201.3 425.1h0M202.7 425.6h0M205.0 440.6h0M205.4 418.4h0M205.7 430.4h0M205.9 423.3h0M207.4 430.3h0M209.5 413.9h0M214.4 432.2h0M214.6 441.9h0M215.3 431.1h0M216.0 429.3h0M216.1 428.9h0M216.4 403.1h0M218.3 432.0h0M220.1 427.7h0M220.2 420.0h0M220.5 417.5h0M220.7 433.3h0M220.9 414.2h0M221.6 424.9h0M222.3 433.0h0M223.8 422.0h0M223.9 423.2h0M224.6 428.8h0M225.7 442.0h0M225.9 449.6h0M226.1 447.2h0M227.3 444.2h0M228.0 434.3h0M229.2 425.5h0M229.3 417.8h0M229.8 432.0h0M229.8 428.8h0M229.9 441.8h0M230.0 431.8h0M230.1 431.5h0M230.3 436.4h0M230.3 431.4h0M231.2 439.0h0M231.6 435.0h0M232.5 440.5h0M232.8 428.3h0M233.1 439.2h0M233.4 427.9h0M233.8 430.6h0M233.8 444.3h0M234.4 432.0h0M236.1 430.1h0M236.2 422.6h0M236.9 434.9h0M236.9 438.1h0M237.1 431.9h0M237.2 419.9h0M237.3 411.9h0M237.6 427.1h0" stroke="#000000" stroke-width="2.3" stroke-linecap="round"/>
<path d="M103.3 411.7h0M121.5 414.7h0M143.8 429.2h0M148.9 417.1h0M150.4 414.1h0M154.4 406.7h0M155.7 412.7h0M163.8 433.2h0M173.3 426.4h0M179.7 428.4h0M181.6 426.4h0M187.1 427.4h0M187.9 418.8h0M190.5 440.0h0M193.8 414.9h0M196.2 447.7h0M196.7 431.2h0M196.9 417.6h0M197.4 432.8h0M198.6 424.4h0M198.9 427.9h0M203.5 427.9h0M205.4 425.3h0M206.8 427.6h0M206.9 443.7h0M207.1 434.9h0M207.3 427.4h0M208.1 433.2h0M210.6 429.4h0M210.8 437.9h0M212.0 422.4h0M212.3 426.2h0M213.4 422.0h0M215.3 424.8h0M217.9 424.3h0M218.8 432.4h0M219.7 434.4h0M220.8 432.3h0M221.4 426.9h0M221.5 425.4h0M221.9 436.5h0M222.3 442.6h0M222.4 423.0h0M223.6 428.5h0M225.3 430.8h0M225.7 439.0h0M227.1 426.8h0M227.6 424.0h0M228.3 431.2h0M228.8 446.8h0M228.8 438.3h0M229.0 432.2h0M230.1 436.2h0M230.5 415.8h0M230.9 414.2h0M231.9 417.8h0M232.5 432.0h0M232.6 431.6h0M232.9 445.4h0M233.3 426.9h0M233.5 429.1h0M233.7 435.7h0M233.8 427.7h0M234.0 437.5h0M234.3 434.8h0M234.6 426.6h0M235.0 441.4h0M235.1 446.5h0M235.6 429.0h0M235.7 426.3h0M235.7 436.3h0M236.4 423.2h0M236.4 433.5h0M236.7 429.2h0M236.8 429.0h0M236.9 427.8h0M237.5 445.4h0M237.5 442.4h0M237.8 427.5h0" stroke="#0000ff" stroke-width="2.3" stroke-linecap="round"/>
<path d="M110.9 400.0h0M143.8 411.9h0M151.8 426.8h0M163.8 412.9h0M164.7 424.3h0M166.3 426.7h0M167.8 421.2h0M170.7 416.9h0M173.9 406.6h0M179.7 427.1h0M180.2 421.6h0M180.7 416.8h0M182.0 415.8h0M183.3 425.4h0M184.9 418.5h0M185.3 413.8h0M187.9 417.8h0M188.2 415.0h0M189.2 400.2h0M190.2 413.3h0M190.5 414.0h0M194.3 414.8h0M194.6 410.9h0M198.4 410.0h0M200.6 426.6h0M201.1 424.7h0M204.1 438.0h0M205.0 409.6h0M208.1 417.8h0M208.4 435.0h0M208.7 435.1h0M211.1 428.4h0M211.3 429.3h0M212.0 408.4h0M212.4 410.2h0M212.8 428.3h0M213.0 412.9h0M214.1 422.0h0M214.5 416.2h0M215.4 410.9h0M215.9 421.6h0M216.6 415.3h0M217.3 421.5h0M217.9 416.8h0M218.1 415.2h0M219.1 424.4h0M219.8 425.5h0M220.3 432.5h0M220.4 427.3h0M220.5 410.2h0M221.0 415.5h0M221.4 419.4h0M221.6 426.9h0M222.1 420.1h0M223.2 413.6h0M223.7 417.7h0M223.8 428.2h0M224.2 412.7h0M225.0 423.0h0M225.5 431.3h0M228.0 424.5h0M228.4 417.7h0M228.5 436.3h0M228.8 422.7h0M228.8 421.8h0M229.3 414.6h0M229.7 415.1h0M230.2 407.4h0M230.7 427.1h0M231.0 417.9h0M232.6 417.4h0M233.2 430.3h0M233.8 432.9h0M233.9 421.3h0M234.0 426.0h0M234.1 424.1h0M234.3 413.8h0M234.4 420.3h0M234.5 420.5h0M235.0 420.7h0M235.4 412.8h0M235.6 417.6h0M235.7 418.8h0M235.8 420.6h0M236.1 425.8h0M236.3 418.6h0M236.4 418.8h0M237.3 424.3h0M237.7 401.8h0M237.8 408.6h0M237.8 413.9h0" stroke="#ff0000" stroke-width="2.3" stroke-linecap="round"/>
</g>
<rect x="56.45" y="389.9" width="181.4" height="106.2" fill="none" stroke="#1a1a1a" stroke-width="1.05"/>
<line x1="270.1" y1="6.5" x2="274" y2="6.5" stroke="#000" stroke-width="1.1"/>
<line x1="274" y1="33.17" x2="455.4" y2="33.17" stroke="#b0b0b0" stroke-width="1.1"/>
<line x1="270.1" y1="33.17" x2="274" y2="33.17" stroke="#000" stroke-width="1.1"/>
<line x1="274" y1="59.85" x2="455.4" y2="59.85" stroke="#b0b0b0" stroke-width="1.1"/>
<line x1="270.1" y1="59.85" x2="274" y2="59.85" stroke="#000" stroke-width="1.1"/>
<line x1="274" y1="86.53" x2="455.4" y2="86.53" stroke="#b0b0b0" stroke-width="1.1"/>
<line x1="270.1" y1="86.53" x2="274" y2="86.53" stroke="#000" stroke-width="1.1"/>
<line x1="270.1" y1="113.2" x2="274" y2="113.2" stroke="#000" stroke-width="1.1"/>
<line x1="282.1" y1="113.2" x2="282.1" y2="116.8" stroke="#000" stroke-width="1.1"/>
<text x="282.1" y="128.9" text-anchor="middle" font-size="11.5" textLength="7" lengthAdjust="spacingAndGlyphs">0</text>
<line x1="347.98" y1="113.2" x2="347.98" y2="116.8" stroke="#000" stroke-width="1.1"/>
<text x="347.98" y="128.9" text-anchor="middle" font-size="11.5" textLength="14" lengthAdjust="spacingAndGlyphs">20</text>
<line x1="413.86" y1="113.2" x2="413.86" y2="116.8" stroke="#000" stroke-width="1.1"/>
<text x="413.86" y="128.9" text-anchor="middle" font-size="11.5" textLength="14" lengthAdjust="spacingAndGlyphs">40</text>
<g clip-path="url(#clip10)">
<path d="M282.1,59.6 282.4,59.6 282.8,59.6 283.1,59.6 283.5,59.6 283.8,59.6 284.2,59.6 284.5,59.6 284.9,59.6 285.2,59.6 285.5,59.6 285.9,59.6 286.2,59.6 286.6,59.6 286.9,59.6 287.3,59.6 287.6,59.6 288.0,59.6 288.3,59.6 288.6,59.6 289.0,59.6 289.3,59.6 289.7,59.6 290.0,59.6 290.4,59.6 290.7,59.6 291.1,59.6 291.4,59.6 291.8,59.6 292.1,59.6 292.4,59.6 292.8,59.6 293.1,59.6 293.5,59.6 293.8,59.6 294.2,59.6 294.5,59.6 294.9,59.6 295.2,59.6 295.5,59.6 295.9,59.6 296.2,59.6 296.6,59.6 296.9,59.6 297.3,59.6 297.6,59.6 298.0,59.6 298.3,59.6 298.6,59.6 299.0,59.6 299.3,59.6 299.7,59.6 300.0,59.6 300.4,59.6 300.7,59.6 301.1,59.6 301.4,59.6 301.7,59.6 302.1,59.5 302.4,59.5 302.8,59.5 303.1,59.5 303.5,59.5 303.8,59.5 304.2,59.5 304.5,59.5 304.8,59.4 305.2,59.4 305.5,59.3 305.9,59.2 306.2,59.1 306.6,59.0 306.9,58.9 307.3,58.8 307.6,58.6 307.9,58.5 308.3,58.4 308.6,58.2 309.0,58.1 309.3,57.9 309.7,57.8 310.0,57.6 310.4,57.5 310.7,57.3 311.1,57.2 311.4,57.1 311.7,56.9 312.1,56.8 312.4,56.7 312.8,56.6 313.1,56.5 313.5,56.4 313.8,56.3 314.2,56.2 314.5,56.1 314.8,56.0 315.2,55.9 315.5,55.8 315.9,55.7 316.2,55.6 316.6,55.5 316.9,55.4 317.3,55.3 317.6,55.2 317.9,55.1 318.3,55.0 318.6,54.9 319.0,54.8 319.3,54.8 319.7,54.7 320.0,54.6 320.4,54.5 320.7,54.4 321.0,54.4 321.4,54.3 321.7,54.2 322.1,54.2 322.4,54.1 322.8,54.1 323.1,54.0 323.5,54.0 323.8,54.0 324.1,53.9 324.5,53.9 324.8,53.9 325.2,53.9 325.5,53.9 325.9,53.9 326.2,54.0 326.6,54.0 326.9,54.1 327.3,54.2 327.6,54.3 327.9,54.4 328.3,54.5 328.6,54.6 329.0,54.8 329.3,54.9 329.7,55.1 330.0,55.2 330.4,55.4 330.7,55.6 331.0,55.8 331.4,56.0 331.7,56.1 332.1,56.3 332.4,56.5 332.8,56.8 333.1,57.1 333.5,57.4 333.8,57.8 334.1,58.2 334.5,58.6 334.8,58.8 335.2,59.0 335.5,59.5 335.9,60.1 336.2,60.6 336.6,60.8 336.9,60.9 337.2,61.3 337.6,62.0 337.9,62.8 338.3,63.2 338.6,63.1 339.0,62.9 339.3,63.0 339.7,63.6 340.0,64.7 340.3,65.9 340.7,66.4 341.0,66.1 341.4,65.7 341.7,66.1 342.1,67.4 342.4,68.5 342.8,68.6 343.1,67.7 343.5,67.1 343.8,67.6 344.1,69.2 344.5,71.1 344.8,72.2 345.2,72.2 345.5,71.4 345.9,70.7 346.2,70.5 346.6,71.2 346.9,72.3 347.2,73.2 347.6,73.6 347.9,73.7 348.3,74.2 348.6,75.0 349.0,75.7 349.3,75.7 349.7,75.1 350.0,74.8 350.3,75.1 350.7,76.3 351.0,77.8 351.4,79.2 351.7,80.0 352.1,79.9 352.4,79.1 352.8,78.3 353.1,78.5 353.4,79.9 353.8,81.4 354.1,82.2 354.5,82.0 354.8,81.8 355.2,82.4 355.5,83.4 355.9,84.0 356.2,84.1 356.5,84.4 356.9,85.3 357.2,86.5 357.6,87.1 357.9,86.9 358.3,86.4 358.6,86.2 359.0,86.3 359.3,86.1 359.6,85.2 360.0,83.6 360.3,82.0 360.7,80.7 361.0,79.7 361.4,78.9 361.7,77.9 362.1,76.2 362.4,73.6 362.8,70.8 363.1,68.9 363.4,68.1 363.8,67.4 364.1,65.7 364.5,63.1 364.8,60.8 365.2,59.8 365.5,59.3 365.9,57.9 366.2,55.3 366.5,52.6 366.9,50.7 367.2,49.3 367.6,47.5 367.9,44.8 368.3,42.1 368.6,40.2 369.0,38.9 369.3,37.6 369.6,35.8 370.0,33.9 370.3,32.4 370.7,31.1 371.0,29.8 371.4,28.6 371.7,28.1 372.1,28.6 372.4,29.6 372.7,30.3 373.1,30.4 373.4,30.5 373.8,31.1 374.1,32.2 374.5,33.5 374.8,34.8 375.2,36.1 375.5,37.8 375.8,39.7 376.2,41.5 376.5,43.1 376.9,44.7 377.2,46.4 377.6,48.2 377.9,49.8 378.3,51.3 378.6,52.9 379.0,54.7 379.3,56.7 379.6,58.6 380.0,60.0 380.3,61.1 380.7,62.0 381.0,63.0 381.4,63.9 381.7,64.7 382.1,65.2 382.4,65.5 382.7,65.6 383.1,65.6 383.4,65.5 383.8,65.1 384.1,64.4 384.5,63.3 384.8,61.8 385.2,60.2 385.5,58.5 385.8,57.0 386.2,55.6 386.5,54.3 386.9,52.8 387.2,50.9 387.6,48.6 387.9,46.2 388.3,44.3 388.6,42.9 388.9,41.6 389.3,40.2 389.6,38.4 390.0,36.7 390.3,35.3 390.7,34.4 391.0,33.7 391.4,33.1 391.7,32.7 392.0,32.5 392.4,32.7 392.7,33.3 393.1,34.4 393.4,36.1 393.8,38.3 394.1,40.8 394.5,43.2 394.8,45.7 395.2,48.6 395.5,51.9 395.8,55.0 396.2,57.7 396.5,59.6 396.9,61.3 397.2,63.0 397.6,64.8 397.9,66.4 398.3,67.4 398.6,67.5 398.9,67.2 399.3,66.4 399.6,65.5 400.0,64.7 400.3,64.1 400.7,63.6 401.0,63.0 401.4,62.1 401.7,61.1 402.0,60.1 402.4,58.8 402.7,57.4 403.1,55.9 403.4,54.7 403.8,53.6 404.1,52.7 404.5,51.6 404.8,50.5 405.1,49.4 405.5,48.5 405.8,47.6 406.2,46.6 406.5,45.6 406.9,44.8 407.2,44.5 407.6,44.4 407.9,44.3 408.2,44.1 408.6,44.2 408.9,44.9 409.3,46.1 409.6,47.6 410.0,49.4 410.3,51.5 410.7,53.7 411.0,55.9 411.3,58.0 411.7,60.1 412.0,62.3 412.4,64.5 412.7,66.2 413.1,67.2 413.4,67.7 413.8,68.0 414.1,68.3 414.5,68.2 414.8,67.3 415.1,65.7 415.5,63.9 415.8,62.3 416.2,60.9 416.5,59.2 416.9,57.3 417.2,55.5 417.6,54.0 417.9,53.1 418.2,52.5 418.6,52.0 418.9,51.7 419.3,51.7 419.6,51.9 420.0,52.4 420.3,53.0 420.7,53.8 421.0,54.8 421.3,56.0 421.7,57.0 422.0,57.7 422.4,58.1 422.7,58.7 423.1,59.6 423.4,60.6 423.8,61.4 424.1,61.7 424.4,61.8 424.8,61.8 425.1,61.8 425.5,61.6 425.8,61.3 426.2,60.8 426.5,60.4 426.9,60.0 427.2,59.5 427.5,58.9 427.9,58.2 428.2,57.8 428.6,57.6 428.9,57.4 429.3,57.1 429.6,56.8 430.0,56.8 430.3,57.1 430.7,57.6 431.0,58.1 431.3,58.4 431.7,58.6 432.0,58.9 432.4,59.4 432.7,60.0 433.1,60.7 433.4,61.3 433.8,61.6 434.1,61.5 434.4,61.1 434.8,60.9 435.1,61.0 435.5,61.3 435.8,61.2 436.2,60.7 436.5,59.9 436.9,59.4 437.2,59.5 437.5,59.9 437.9,60.1 438.2,59.6 438.6,58.8 438.9,58.0 439.3,57.7 439.6,57.8 440.0,58.2 440.3,58.6 440.6,58.6 441.0,58.4 441.3,58.1 441.7,57.9 442.0,58.1 442.4,58.3 442.7,58.4 443.1,58.3 443.4,58.1 443.7,58.1 444.1,58.2 444.4,58.5 444.8,58.7 445.1,58.8 445.5,58.9 445.8,58.9 446.2,59.0 446.5,59.1 446.9,59.3 447.2,59.4" fill="none" stroke="#000000" stroke-width="0.8" stroke-linejoin="round"/>
<path d="M282.1,59.7 282.4,59.7 282.8,59.7 283.1,59.7 283.5,59.7 283.8,59.7 284.2,59.7 284.5,59.7 284.9,59.7 285.2,59.7 285.5,59.7 285.9,59.7 286.2,59.7 286.6,59.7 286.9,59.7 287.3,59.7 287.6,59.7 288.0,59.7 288.3,59.7 288.6,59.7 289.0,59.7 289.3,59.7 289.7,59.7 290.0,59.7 290.4,59.7 290.7,59.7 291.1,59.7 291.4,59.7 291.8,59.7 292.1,59.7 292.4,59.7 292.8,59.7 293.1,59.7 293.5,59.7 293.8,59.7 294.2,59.7 294.5,59.7 294.9,59.7 295.2,59.7 295.5,59.7 295.9,59.7 296.2,59.7 296.6,59.7 296.9,59.7 297.3,59.7 297.6,59.7 298.0,59.7 298.3,59.7 298.6,59.7 299.0,59.7 299.3,59.7 299.7,59.7 300.0,59.7 300.4,59.7 300.7,59.7 301.1,59.7 301.4,59.6 301.7,59.6 302.1,59.6 302.4,59.6 302.8,59.6 303.1,59.6 303.5,59.6 303.8,59.6 304.2,59.6 304.5,59.6 304.8,59.5 305.2,59.4 305.5,59.3 305.9,59.2 306.2,59.1 306.6,58.9 306.9,58.8 307.3,58.6 307.6,58.4 307.9,58.2 308.3,58.0 308.6,57.8 309.0,57.6 309.3,57.4 309.7,57.2 310.0,57.0 310.4,56.8 310.7,56.6 311.1,56.4 311.4,56.2 311.7,56.0 312.1,55.9 312.4,55.8 312.8,55.6 313.1,55.5 313.5,55.4 313.8,55.2 314.2,55.1 314.5,55.0 314.8,54.8 315.2,54.7 315.5,54.6 315.9,54.4 316.2,54.3 316.6,54.1 316.9,54.0 317.3,53.9 317.6,53.8 317.9,53.6 318.3,53.5 318.6,53.4 319.0,53.3 319.3,53.1 319.7,53.0 320.0,52.9 320.4,52.8 320.7,52.7 321.0,52.6 321.4,52.5 321.7,52.5 322.1,52.4 322.4,52.3 322.8,52.2 323.1,52.2 323.5,52.1 323.8,52.1 324.1,52.1 324.5,52.0 324.8,52.0 325.2,52.0 325.5,52.0 325.9,52.0 326.2,52.1 326.6,52.1 326.9,52.2 327.3,52.2 327.6,52.3 327.9,52.4 328.3,52.5 328.6,52.6 329.0,52.7 329.3,52.9 329.7,53.0 330.0,53.1 330.4,53.3 330.7,53.4 331.0,53.6 331.4,53.8 331.7,53.9 332.1,54.1 332.4,54.3 332.8,54.5 333.1,54.8 333.5,55.1 333.8,55.5 334.1,55.9 334.5,56.1 334.8,56.5 335.2,57.2 335.5,58.1 335.9,58.6 336.2,58.5 336.6,58.5 336.9,59.0 337.2,60.1 337.6,60.8 337.9,60.7 338.3,60.2 338.6,60.5 339.0,61.5 339.3,62.7 339.7,62.9 340.0,62.2 340.3,61.5 340.7,61.5 341.0,62.5 341.4,63.8 341.7,64.8 342.1,65.2 342.4,65.1 342.8,64.9 343.1,65.0 343.5,65.2 343.8,65.2 344.1,65.1 344.5,65.3 344.8,66.4 345.2,68.2 345.5,69.5 345.9,69.5 346.2,68.6 346.6,68.0 346.9,68.5 347.2,69.4 347.6,69.9 347.9,69.8 348.3,69.9 348.6,70.5 349.0,71.4 349.3,71.9 349.7,71.9 350.0,72.2 350.3,73.0 350.7,73.8 351.0,73.6 351.4,72.6 351.7,71.8 352.1,72.0 352.4,73.3 352.8,74.8 353.1,75.7 353.4,76.0 353.8,75.7 354.1,75.4 354.5,75.3 354.8,75.4 355.2,75.6 355.5,75.6 355.9,75.6 356.2,76.1 356.5,77.5 356.9,79.4 357.2,81.2 357.6,82.0 357.9,82.3 358.3,82.6 358.6,83.2 359.0,83.8 359.3,83.9 359.6,83.7 360.0,83.4 360.3,83.1 360.7,82.4 361.0,81.3 361.4,80.0 361.7,79.1 362.1,78.1 362.4,76.5 362.8,74.0 363.1,71.3 363.4,69.3 363.8,68.1 364.1,67.1 364.5,65.6 364.8,63.6 365.2,61.9 365.5,60.7 365.9,59.7 366.2,58.0 366.5,55.4 366.9,52.6 367.2,50.2 367.6,48.3 367.9,46.5 368.3,44.4 368.6,42.2 369.0,40.2 369.3,38.6 369.6,36.9 370.0,34.8 370.3,32.4 370.7,30.2 371.0,28.9 371.4,28.5 371.7,28.6 372.1,28.7 372.4,28.7 372.7,28.9 373.1,29.4 373.4,30.1 373.8,30.7 374.1,31.2 374.5,32.0 374.8,33.1 375.2,34.5 375.5,35.9 375.8,37.2 376.2,38.5 376.5,39.9 376.9,41.4 377.2,42.9 377.6,44.2 377.9,45.5 378.3,46.9 378.6,48.5 379.0,50.0 379.3,51.1 379.6,52.1 380.0,53.1 380.3,54.5 380.7,55.9 381.0,56.9 381.4,57.4 381.7,57.6 382.1,57.8 382.4,58.2 382.7,58.6 383.1,58.7 383.4,58.3 383.8,57.7 384.1,57.1 384.5,56.3 384.8,55.4 385.2,54.3 385.5,53.1 385.8,51.9 386.2,50.6 386.5,49.1 386.9,47.5 387.2,45.8 387.6,44.4 387.9,43.2 388.3,41.9 388.6,40.4 388.9,38.8 389.3,37.5 389.6,36.3 390.0,35.3 390.3,34.2 390.7,33.2 391.0,32.5 391.4,32.0 391.7,31.8 392.0,31.6 392.4,31.8 392.7,32.5 393.1,33.4 393.4,34.6 393.8,36.0 394.1,37.8 394.5,40.2 394.8,42.6 395.2,44.6 395.5,46.4 395.8,48.5 396.2,51.0 396.5,53.4 396.9,55.1 397.2,56.0 397.6,56.7 397.9,57.7 398.3,58.7 398.6,59.1 398.9,58.6 399.3,57.8 399.6,57.4 400.0,57.2 400.3,56.9 400.7,55.8 401.0,54.4 401.4,53.2 401.7,52.5 402.0,52.0 402.4,51.0 402.7,49.7 403.1,48.3 403.4,47.3 403.8,46.4 404.1,45.2 404.5,43.6 404.8,42.2 405.1,41.2 405.5,40.7 405.8,40.3 406.2,39.6 406.5,38.7 406.9,37.8 407.2,37.1 407.6,36.7 407.9,36.4 408.2,36.3 408.6,36.6 408.9,37.4 409.3,38.7 409.6,40.2 410.0,41.8 410.3,43.5 410.7,45.5 411.0,47.6 411.3,49.7 411.7,51.6 412.0,53.3 412.4,55.0 412.7,56.7 413.1,58.3 413.4,59.3 413.8,59.5 414.1,59.1 414.5,58.2 414.8,57.1 415.1,55.7 415.5,54.0 415.8,52.2 416.2,50.3 416.5,48.3 416.9,46.2 417.2,44.2 417.6,42.7 417.9,42.0 418.2,41.7 418.6,41.7 418.9,41.5 419.3,41.4 419.6,41.9 420.0,42.8 420.3,43.8 420.7,44.8 421.0,45.6 421.3,46.4 421.7,47.4 422.0,48.4 422.4,49.3 422.7,50.0 423.1,50.4 423.4,50.7 423.8,50.9 424.1,51.0 424.4,51.2 424.8,51.1 425.1,50.5 425.5,49.6 425.8,48.5 426.2,47.5 426.5,46.6 426.9,45.7 427.2,44.7 427.5,43.8 427.9,43.3 428.2,43.1 428.6,43.2 428.9,43.2 429.3,43.0 429.6,43.0 430.0,43.4 430.3,44.0 430.7,44.5 431.0,44.9 431.3,45.3 431.7,45.9 432.0,46.8 432.4,47.4 432.7,47.6 433.1,47.5 433.4,47.5 433.8,47.7 434.1,48.0 434.4,48.0 434.8,47.7 435.1,47.3 435.5,47.3 435.8,47.3 436.2,47.2 436.5,46.7 436.9,46.0 437.2,45.6 437.5,45.5 437.9,45.6 438.2,45.4 438.6,44.9 438.9,44.4 439.3,44.0 439.6,43.9 440.0,43.8 440.3,43.7 440.6,43.6 441.0,43.6 441.3,43.7 441.7,43.7 442.0,43.6 442.4,43.4 442.7,43.2 443.1,43.2 443.4,43.4 443.7,43.9 444.1,44.3 444.4,44.3 444.8,44.0 445.1,43.8 445.5,43.8 445.8,44.1 446.2,44.4 446.5,44.6 446.9,44.7 447.2,45.0" fill="none" stroke="#000000" stroke-width="0.8" stroke-linejoin="round" stroke-dasharray="2.2,1.2"/>
<path d="M282.1,59.9 282.4,59.9 282.8,59.9 283.1,59.9 283.5,59.9 283.8,59.9 284.2,59.9 284.5,59.9 284.9,59.9 285.2,59.9 285.5,59.9 285.9,59.9 286.2,59.9 286.6,59.9 286.9,59.9 287.3,59.9 287.6,59.9 288.0,59.9 288.3,59.9 288.6,59.9 289.0,59.9 289.3,59.9 289.7,59.9 290.0,59.9 290.4,59.9 290.7,59.9 291.1,59.9 291.4,59.9 291.8,59.9 292.1,59.9 292.4,59.9 292.8,59.9 293.1,59.9 293.5,59.9 293.8,59.9 294.2,59.9 294.5,59.9 294.9,59.9 295.2,59.9 295.5,59.9 295.9,59.9 296.2,59.9 296.6,59.9 296.9,59.9 297.3,59.9 297.6,59.9 298.0,59.9 298.3,59.9 298.6,59.9 299.0,59.9 299.3,59.9 299.7,59.9 300.0,59.9 300.4,59.9 300.7,59.9 301.1,59.9 301.4,60.0 301.7,60.0 302.1,60.0 302.4,60.1 302.8,60.1 303.1,60.1 303.5,60.2 303.8,60.2 304.2,60.2 304.5,60.3 304.8,60.3 305.2,60.4 305.5,60.4 305.9,60.5 306.2,60.5 306.6,60.5 306.9,60.6 307.3,60.6 307.6,60.7 307.9,60.7 308.3,60.7 308.6,60.8 309.0,60.8 309.3,60.8 309.7,60.9 310.0,60.9 310.4,60.9 310.7,61.0 311.1,61.0 311.4,61.1 311.7,61.1 312.1,61.1 312.4,61.2 312.8,61.2 313.1,61.2 313.5,61.3 313.8,61.3 314.2,61.4 314.5,61.4 314.8,61.4 315.2,61.5 315.5,61.5 315.9,61.6 316.2,61.6 316.6,61.7 316.9,61.7 317.3,61.7 317.6,61.8 317.9,61.8 318.3,61.9 318.6,61.9 319.0,61.9 319.3,62.0 319.7,62.0 320.0,62.1 320.4,62.1 320.7,62.1 321.0,62.2 321.4,62.2 321.7,62.2 322.1,62.3 322.4,62.3 322.8,62.4 323.1,62.4 323.5,62.4 323.8,62.5 324.1,62.5 324.5,62.6 324.8,62.6 325.2,62.6 325.5,62.7 325.9,62.7 326.2,62.8 326.6,62.8 326.9,62.9 327.3,62.9 327.6,63.0 327.9,63.0 328.3,63.0 328.6,63.1 329.0,63.1 329.3,63.2 329.7,63.2 330.0,63.2 330.4,63.3 330.7,63.3 331.0,63.3 331.4,63.4 331.7,63.4 332.1,63.4 332.4,63.5 332.8,63.5 333.1,63.5 333.5,63.5 333.8,63.6 334.1,63.7 334.5,63.6 334.8,63.5 335.2,63.5 335.5,63.5 335.9,63.4 336.2,63.3 336.6,63.3 336.9,63.1 337.2,62.4 337.6,61.9 337.9,61.7 338.3,61.1 338.6,60.3 339.0,60.1 339.3,60.7 339.7,60.3 340.0,58.7 340.3,57.8 340.7,58.5 341.0,58.8 341.4,57.4 341.7,55.8 342.1,55.8 342.4,56.6 342.8,56.4 343.1,55.3 343.5,54.2 343.8,53.8 344.1,54.2 344.5,55.1 344.8,55.4 345.2,54.3 345.5,52.9 345.9,53.0 346.2,54.3 346.6,54.9 346.9,54.3 347.2,53.9 347.6,53.9 347.9,53.5 348.3,53.1 348.6,53.4 349.0,54.0 349.3,53.5 349.7,52.5 350.0,52.3 350.3,52.5 350.7,51.5 351.0,50.1 351.4,50.3 351.7,51.9 352.1,52.6 352.4,52.2 352.8,52.7 353.1,54.4 353.4,55.4 353.8,54.8 354.1,54.2 354.5,54.2 354.8,53.4 355.2,51.1 355.5,49.2 355.9,48.7 356.2,48.3 356.5,46.6 356.9,44.6 357.2,43.7 357.6,43.6 357.9,43.3 358.3,42.9 358.6,43.0 359.0,43.6 359.3,44.3 359.6,45.1 360.0,45.7 360.3,45.8 360.7,45.4 361.0,46.0 361.4,47.9 361.7,49.7 362.1,50.1 362.4,49.5 362.8,49.8 363.1,51.5 363.4,53.7 363.8,54.8 364.1,54.9 364.5,55.3 364.8,57.1 365.2,59.4 365.5,60.8 365.9,61.1 366.2,61.7 366.5,63.4 366.9,65.5 367.2,67.3 367.6,68.9 367.9,70.8 368.3,72.9 368.6,74.6 369.0,76.0 369.3,77.7 369.6,79.5 370.0,81.2 370.3,82.6 370.7,83.8 371.0,84.7 371.4,85.1 371.7,85.3 372.1,85.6 372.4,86.0 372.7,85.7 373.1,84.7 373.4,83.5 373.8,82.6 374.1,81.9 374.5,80.9 374.8,79.3 375.2,77.4 375.5,75.7 375.8,74.3 376.2,72.7 376.5,70.9 376.9,68.9 377.2,67.0 377.6,65.2 377.9,63.4 378.3,61.7 378.6,60.0 379.0,58.3 379.3,56.7 379.6,55.2 380.0,53.9 380.3,52.7 380.7,51.5 381.0,50.7 381.4,50.4 381.7,50.0 382.1,49.3 382.4,49.0 382.7,49.3 383.1,50.1 383.4,50.6 383.8,51.0 384.1,51.6 384.5,52.5 384.8,53.2 385.2,53.8 385.5,54.5 385.8,55.5 386.2,56.3 386.5,56.9 386.9,57.5 387.2,58.6 387.6,59.8 387.9,60.8 388.3,61.7 388.6,62.8 388.9,64.0 389.3,65.1 389.6,66.0 390.0,67.1 390.3,68.1 390.7,69.0 391.0,69.9 391.4,70.8 391.7,71.6 392.0,72.0 392.4,72.4 392.7,72.7 393.1,73.0 393.4,73.3 393.8,73.3 394.1,72.9 394.5,71.9 394.8,70.6 395.2,69.4 395.5,68.3 395.8,67.0 396.2,65.5 396.5,63.7 396.9,61.8 397.2,59.8 397.6,57.8 397.9,56.0 398.3,54.4 398.6,52.8 398.9,51.0 399.3,49.5 399.6,48.2 400.0,47.1 400.3,46.0 400.7,45.2 401.0,44.8 401.4,44.6 401.7,44.9 402.0,45.8 402.4,47.0 402.7,48.3 403.1,49.6 403.4,51.3 403.8,53.4 404.1,55.6 404.5,57.7 404.8,59.8 405.1,61.8 405.5,63.6 405.8,65.1 406.2,66.4 406.5,67.6 406.9,68.5 407.2,68.9 407.6,68.7 407.9,68.1 408.2,67.3 408.6,66.4 408.9,65.3 409.3,64.0 409.6,62.4 410.0,60.6 410.3,58.6 410.7,56.8 411.0,55.3 411.3,54.1 411.7,52.6 412.0,50.8 412.4,49.0 412.7,47.9 413.1,47.4 413.4,47.0 413.8,46.5 414.1,46.5 414.5,47.2 414.8,48.0 415.1,48.9 415.5,50.0 415.8,51.5 416.2,53.1 416.5,54.6 416.9,56.2 417.2,57.8 417.6,59.2 417.9,60.3 418.2,61.4 418.6,62.1 418.9,62.3 419.3,62.1 419.6,62.3 420.0,62.4 420.3,61.9 420.7,60.7 421.0,59.9 421.3,59.5 421.7,58.9 422.0,57.7 422.4,56.6 422.7,56.0 423.1,55.3 423.4,54.5 423.8,53.7 424.1,53.0 424.4,52.4 424.8,51.9 425.1,51.8 425.5,52.1 425.8,52.3 426.2,52.6 426.5,53.3 426.9,54.3 427.2,55.2 427.5,56.4 427.9,57.9 428.2,59.4 428.6,60.3 428.9,60.8 429.3,61.6 429.6,62.8 430.0,63.6 430.3,63.5 430.7,63.2 431.0,62.8 431.3,62.3 431.7,61.5 432.0,60.7 432.4,59.9 432.7,58.7 433.1,57.4 433.4,56.7 433.8,56.4 434.1,55.7 434.4,54.6 434.8,54.1 435.1,54.3 435.5,54.8 435.8,55.2 436.2,55.5 436.5,55.8 436.9,56.0 437.2,56.4 437.5,57.2 437.9,58.2 438.2,58.7 438.6,58.9 438.9,59.3 439.3,60.0 439.6,60.3 440.0,60.4 440.3,60.6 440.6,60.8 441.0,60.9 441.3,60.7 441.7,60.7 442.0,60.8 442.4,60.7 442.7,60.6 443.1,60.6 443.4,60.7 443.7,60.8 444.1,60.8 444.4,60.8 444.8,60.5 445.1,60.1 445.5,60.0 445.8,60.4 446.2,60.7 446.5,60.6 446.9,60.1 447.2,59.6" fill="none" stroke="#0000ff" stroke-width="0.8" stroke-linejoin="round"/>
<path d="M282.1,59.9 282.4,59.9 282.8,59.9 283.1,59.9 283.5,59.9 283.8,59.9 284.2,59.9 284.5,59.9 284.9,59.9 285.2,59.9 285.5,59.9 285.9,59.9 286.2,59.9 286.6,59.9 286.9,59.9 287.3,59.9 287.6,59.9 288.0,59.9 288.3,59.9 288.6,59.9 289.0,59.9 289.3,59.9 289.7,59.9 290.0,59.9 290.4,59.9 290.7,59.9 291.1,59.9 291.4,59.9 291.8,59.9 292.1,59.9 292.4,59.9 292.8,59.9 293.1,59.9 293.5,59.9 293.8,59.9 294.2,59.9 294.5,59.9 294.9,59.9 295.2,59.9 295.5,59.9 295.9,59.9 296.2,59.9 296.6,59.9 296.9,59.9 297.3,59.9 297.6,59.9 298.0,59.9 298.3,59.9 298.6,59.9 299.0,59.9 299.3,59.9 299.7,59.9 300.0,59.9 300.4,59.9 300.7,59.9 301.1,59.9 301.4,59.9 301.7,60.0 302.1,60.0 302.4,60.0 302.8,60.0 303.1,60.1 303.5,60.1 303.8,60.1 304.2,60.2 304.5,60.2 304.8,60.2 305.2,60.3 305.5,60.3 305.9,60.3 306.2,60.4 306.6,60.4 306.9,60.4 307.3,60.5 307.6,60.5 307.9,60.5 308.3,60.5 308.6,60.6 309.0,60.6 309.3,60.6 309.7,60.7 310.0,60.7 310.4,60.7 310.7,60.8 311.1,60.8 311.4,60.8 311.7,60.9 312.1,60.9 312.4,61.0 312.8,61.0 313.1,61.0 313.5,61.1 313.8,61.1 314.2,61.2 314.5,61.2 314.8,61.2 315.2,61.3 315.5,61.3 315.9,61.4 316.2,61.4 316.6,61.4 316.9,61.5 317.3,61.5 317.6,61.6 317.9,61.6 318.3,61.7 318.6,61.7 319.0,61.7 319.3,61.8 319.7,61.8 320.0,61.9 320.4,61.9 320.7,61.9 321.0,62.0 321.4,62.0 321.7,62.1 322.1,62.1 322.4,62.1 322.8,62.2 323.1,62.2 323.5,62.3 323.8,62.3 324.1,62.3 324.5,62.4 324.8,62.4 325.2,62.5 325.5,62.5 325.9,62.6 326.2,62.6 326.6,62.7 326.9,62.7 327.3,62.8 327.6,62.8 327.9,62.9 328.3,62.9 328.6,62.9 329.0,63.0 329.3,63.0 329.7,63.1 330.0,63.1 330.4,63.2 330.7,63.2 331.0,63.2 331.4,63.3 331.7,63.3 332.1,63.3 332.4,63.4 332.8,63.4 333.1,63.4 333.5,63.5 333.8,63.4 334.1,63.4 334.5,63.5 334.8,63.7 335.2,63.5 335.5,63.1 335.9,63.1 336.2,63.6 336.6,63.7 336.9,63.0 337.2,62.1 337.6,61.4 337.9,61.1 338.3,61.1 338.6,61.3 339.0,61.1 339.3,60.3 339.7,59.1 340.0,58.5 340.3,58.6 340.7,58.4 341.0,57.8 341.4,57.3 341.7,57.2 342.1,56.9 342.4,56.1 342.8,55.2 343.1,54.6 343.5,54.4 343.8,54.6 344.1,54.9 344.5,55.0 344.8,54.5 345.2,53.8 345.5,53.5 345.9,53.6 346.2,54.0 346.6,54.4 346.9,54.5 347.2,54.1 347.6,53.5 347.9,53.3 348.3,53.7 348.6,54.0 349.0,53.6 349.3,53.0 349.7,52.7 350.0,52.4 350.3,51.8 350.7,51.4 351.0,51.4 351.4,51.5 351.7,51.1 352.1,51.1 352.4,52.1 352.8,53.8 353.1,54.8 353.4,54.9 353.8,54.8 354.1,54.7 354.5,53.9 354.8,52.5 355.2,51.4 355.5,50.4 355.9,48.9 356.2,47.2 356.5,46.0 356.9,45.3 357.2,44.3 357.6,43.2 357.9,43.1 358.3,43.5 358.6,43.4 359.0,42.9 359.3,43.7 359.6,45.3 360.0,46.1 360.3,45.7 360.7,45.7 361.0,46.6 361.4,47.5 361.7,48.2 362.1,49.7 362.4,51.0 362.8,50.8 363.1,50.2 363.4,51.8 363.8,54.8 364.1,56.0 364.5,55.3 364.8,55.5 365.2,57.8 365.5,60.0 365.9,60.6 366.2,61.1 366.5,62.5 366.9,64.0 367.2,65.2 367.6,66.9 367.9,69.3 368.3,71.0 368.6,71.8 369.0,73.3 369.3,75.6 369.6,77.3 370.0,77.9 370.3,78.8 370.7,80.8 371.0,82.4 371.4,82.8 371.7,82.6 372.1,83.1 372.4,83.6 372.7,83.5 373.1,82.8 373.4,82.2 373.8,81.5 374.1,80.5 374.5,79.3 374.8,77.9 375.2,76.2 375.5,74.5 375.8,73.0 376.2,71.5 376.5,69.7 376.9,67.6 377.2,65.5 377.6,63.6 377.9,61.8 378.3,60.0 378.6,58.3 379.0,56.6 379.3,54.8 379.6,53.0 380.0,51.7 380.3,50.8 380.7,49.7 381.0,48.6 381.4,47.7 381.7,47.1 382.1,46.9 382.4,47.2 382.7,47.6 383.1,47.8 383.4,47.9 383.8,48.5 384.1,49.5 384.5,50.4 384.8,51.1 385.2,51.8 385.5,52.7 385.8,53.3 386.2,53.7 386.5,54.5 386.9,55.5 387.2,56.2 387.6,56.7 387.9,57.4 388.3,58.6 388.6,59.7 388.9,60.3 389.3,61.0 389.6,61.8 390.0,62.6 390.3,63.3 390.7,64.2 391.0,65.2 391.4,65.8 391.7,65.9 392.0,66.3 392.4,67.1 392.7,67.6 393.1,67.6 393.4,67.6 393.8,67.9 394.1,67.9 394.5,67.2 394.8,66.2 395.2,65.3 395.5,64.3 395.8,63.0 396.2,61.4 396.5,59.6 396.9,57.8 397.2,55.9 397.6,53.9 397.9,52.1 398.3,50.3 398.6,48.5 398.9,46.7 399.3,44.9 399.6,43.2 400.0,41.9 400.3,40.8 400.7,39.8 401.0,39.1 401.4,38.8 401.7,38.7 402.0,38.8 402.4,39.4 402.7,40.5 403.1,42.2 403.4,44.1 403.8,46.1 404.1,48.2 404.5,50.2 404.8,52.2 405.1,54.3 405.5,56.5 405.8,58.5 406.2,59.9 406.5,61.0 406.9,61.8 407.2,62.1 407.6,61.9 407.9,61.5 408.2,61.0 408.6,60.0 408.9,58.5 409.3,57.1 409.6,55.9 410.0,54.5 410.3,52.5 410.7,50.4 411.0,48.7 411.3,47.4 411.7,46.1 412.0,44.6 412.4,43.1 412.7,41.8 413.1,41.0 413.4,40.6 413.8,40.4 414.1,40.4 414.5,40.7 414.8,41.5 415.1,42.6 415.5,43.6 415.8,44.8 416.2,46.2 416.5,47.7 416.9,49.1 417.2,50.4 417.6,51.7 417.9,52.8 418.2,53.8 418.6,54.5 418.9,55.0 419.3,54.8 419.6,54.4 420.0,54.2 420.3,54.1 420.7,53.5 421.0,52.5 421.3,51.7 421.7,51.1 422.0,50.2 422.4,49.0 422.7,48.1 423.1,47.6 423.4,47.0 423.8,46.0 424.1,45.2 424.4,44.9 424.8,44.7 425.1,44.2 425.5,43.9 425.8,44.3 426.2,45.1 426.5,45.8 426.9,46.7 427.2,47.7 427.5,48.7 427.9,49.6 428.2,51.0 428.6,52.5 428.9,53.4 429.3,53.9 429.6,54.5 430.0,55.3 430.3,55.7 430.7,55.4 431.0,54.7 431.3,54.1 431.7,53.4 432.0,52.5 432.4,51.8 432.7,51.0 433.1,49.9 433.4,48.4 433.8,47.4 434.1,47.1 434.4,46.8 434.8,46.5 435.1,46.3 435.5,46.5 435.8,46.8 436.2,47.0 436.5,47.3 436.9,47.8 437.2,48.3 437.5,48.8 437.9,49.5 438.2,50.1 438.6,50.6 438.9,50.8 439.3,51.1 439.6,51.5 440.0,51.8 440.3,52.0 440.6,52.2 441.0,52.2 441.3,52.0 441.7,51.9 442.0,52.0 442.4,52.0 442.7,51.9 443.1,51.9 443.4,52.1 443.7,52.1 444.1,51.9 444.4,51.8 444.8,51.9 445.1,51.8 445.5,51.5 445.8,51.4 446.2,51.6 446.5,51.7 446.9,51.4 447.2,51.0" fill="none" stroke="#0000ff" stroke-width="0.8" stroke-linejoin="round" stroke-dasharray="2.2,1.2"/>
<path d="M282.1,59.9 282.4,59.8 282.8,59.8 283.1,59.8 283.5,59.8 283.8,59.8 284.2,59.8 284.5,59.8 284.9,59.8 285.2,59.7 285.5,59.7 285.9,59.7 286.2,59.7 286.6,59.7 286.9,59.7 287.3,59.7 287.6,59.7 288.0,59.7 288.3,59.7 288.6,59.7 289.0,59.6 289.3,59.6 289.7,59.6 290.0,59.6 290.4,59.6 290.7,59.6 291.1,59.6 291.4,59.6 291.8,59.6 292.1,59.6 292.4,59.6 292.8,59.6 293.1,59.6 293.5,59.5 293.8,59.5 294.2,59.5 294.5,59.5 294.9,59.5 295.2,59.5 295.5,59.5 295.9,59.5 296.2,59.5 296.6,59.5 296.9,59.5 297.3,59.5 297.6,59.5 298.0,59.5 298.3,59.5 298.6,59.5 299.0,59.5 299.3,59.4 299.7,59.4 300.0,59.4 300.4,59.4 300.7,59.4 301.1,59.4 301.4,59.4 301.7,59.4 302.1,59.4 302.4,59.4 302.8,59.4 303.1,59.4 303.5,59.4 303.8,59.4 304.2,59.4 304.5,59.4 304.8,59.4 305.2,59.4 305.5,59.4 305.9,59.4 306.2,59.4 306.6,59.4 306.9,59.4 307.3,59.4 307.6,59.4 307.9,59.4 308.3,59.4 308.6,59.4 309.0,59.4 309.3,59.4 309.7,59.4 310.0,59.3 310.4,59.3 310.7,59.3 311.1,59.3 311.4,59.3 311.7,59.3 312.1,59.3 312.4,59.3 312.8,59.3 313.1,59.3 313.5,59.3 313.8,59.3 314.2,59.3 314.5,59.3 314.8,59.3 315.2,59.3 315.5,59.3 315.9,59.3 316.2,59.3 316.6,59.3 316.9,59.3 317.3,59.3 317.6,59.3 317.9,59.3 318.3,59.3 318.6,59.3 319.0,59.3 319.3,59.3 319.7,59.3 320.0,59.3 320.4,59.3 320.7,59.3 321.0,59.3 321.4,59.3 321.7,59.3 322.1,59.3 322.4,59.3 322.8,59.3 323.1,59.3 323.5,59.3 323.8,59.3 324.1,59.3 324.5,59.3 324.8,59.3 325.2,59.3 325.5,59.3 325.9,59.3 326.2,59.3 326.6,59.3 326.9,59.3 327.3,59.3 327.6,59.3 327.9,59.3 328.3,59.3 328.6,59.3 329.0,59.3 329.3,59.3 329.7,59.3 330.0,59.3 330.4,59.3 330.7,59.4 331.0,59.4 331.4,59.4 331.7,59.4 332.1,59.4 332.4,59.4 332.8,59.4 333.1,59.4 333.5,59.4 333.8,59.4 334.1,59.5 334.5,59.6 334.8,59.4 335.2,59.2 335.5,59.3 335.9,59.8 336.2,60.0 336.6,59.6 336.9,59.5 337.2,59.7 337.6,59.4 337.9,59.1 338.3,59.9 338.6,60.3 339.0,59.7 339.3,59.6 339.7,60.2 340.0,60.0 340.3,59.6 340.7,59.8 341.0,59.7 341.4,59.7 341.7,60.4 342.1,60.6 342.4,60.0 342.8,59.9 343.1,60.2 343.5,60.0 343.8,60.0 344.1,60.5 344.5,60.5 344.8,60.2 345.2,60.3 345.5,60.3 345.9,60.0 346.2,60.2 346.6,60.6 346.9,60.7 347.2,60.7 347.6,60.6 347.9,60.0 348.3,59.8 348.6,60.0 349.0,60.4 349.3,60.6 349.7,60.8 350.0,60.5 350.3,59.8 350.7,59.6 351.0,59.5 351.4,59.2 351.7,59.4 352.1,60.3 352.4,60.5 352.8,59.5 353.1,58.8 353.4,58.9 353.8,58.9 354.1,58.8 354.5,59.2 354.8,59.7 355.2,59.8 355.5,59.6 355.9,59.1 356.2,58.7 356.5,59.4 356.9,60.6 357.2,60.8 357.6,60.3 357.9,60.3 358.3,60.6 358.6,60.8 359.0,61.5 359.3,61.9 359.6,61.6 360.0,61.6 360.3,61.7 360.7,61.7 361.0,62.0 361.4,62.3 361.7,62.0 362.1,61.6 362.4,61.5 362.8,61.3 363.1,61.1 363.4,61.1 363.8,60.8 364.1,60.3 364.5,59.9 364.8,59.9 365.2,59.8 365.5,59.6 365.9,59.3 366.2,59.3 366.5,60.0 366.9,60.1 367.2,59.2 367.6,59.0 367.9,59.5 368.3,59.6 368.6,59.6 369.0,60.1 369.3,60.0 369.6,59.5 370.0,59.6 370.3,59.9 370.7,59.8 371.0,59.9 371.4,60.0 371.7,60.0 372.1,60.2 372.4,60.5 372.7,60.2 373.1,60.0 373.4,60.2 373.8,60.3 374.1,60.3 374.5,60.4 374.8,60.6 375.2,60.5 375.5,60.6 375.8,60.6 376.2,60.5 376.5,60.5 376.9,60.7 377.2,60.8 377.6,60.9 377.9,61.0 378.3,60.9 378.6,60.9 379.0,61.1 379.3,61.1 379.6,61.0 380.0,61.1 380.3,61.1 380.7,61.1 381.0,61.3 381.4,61.5 381.7,61.2 382.1,61.1 382.4,61.4 382.7,61.3 383.1,61.1 383.4,61.1 383.8,61.1 384.1,61.1 384.5,61.1 384.8,60.8 385.2,60.4 385.5,60.4 385.8,60.3 386.2,59.9 386.5,59.8 386.9,60.1 387.2,59.8 387.6,59.3 387.9,59.1 388.3,58.9 388.6,58.7 388.9,58.9 389.3,59.0 389.6,58.8 390.0,58.5 390.3,58.4 390.7,58.2 391.0,58.2 391.4,58.5 391.7,58.7 392.0,58.9 392.4,59.0 392.7,58.8 393.1,58.7 393.4,59.1 393.8,59.5 394.1,59.6 394.5,59.8 394.8,60.2 395.2,60.3 395.5,60.3 395.8,60.2 396.2,60.3 396.5,60.5 396.9,60.7 397.2,60.8 397.6,61.0 397.9,60.9 398.3,60.5 398.6,60.4 398.9,60.3 399.3,60.1 399.6,59.9 400.0,59.9 400.3,59.8 400.7,59.4 401.0,59.2 401.4,59.0 401.7,58.7 402.0,58.6 402.4,58.5 402.7,58.2 403.1,58.3 403.4,58.4 403.8,58.0 404.1,57.8 404.5,58.3 404.8,58.8 405.1,59.1 405.5,59.6 405.8,60.2 406.2,60.3 406.5,60.3 406.9,60.5 407.2,60.6 407.6,60.4 407.9,60.4 408.2,60.3 408.6,60.0 408.9,59.7 409.3,59.6 409.6,59.6 410.0,59.3 410.3,59.2 410.7,58.9 411.0,58.6 411.3,58.5 411.7,58.5 412.0,58.2 412.4,57.8 412.7,57.8 413.1,58.1 413.4,57.9 413.8,57.5 414.1,57.6 414.5,57.9 414.8,58.1 415.1,58.4 415.5,58.7 415.8,58.8 416.2,59.1 416.5,59.5 416.9,59.8 417.2,60.3 417.6,60.7 417.9,60.6 418.2,60.5 418.6,60.7 418.9,60.8 419.3,60.6 419.6,60.3 420.0,60.4 420.3,60.3 420.7,59.9 421.0,59.6 421.3,59.3 421.7,59.2 422.0,59.1 422.4,58.9 422.7,58.6 423.1,58.3 423.4,58.2 423.8,58.3 424.1,58.4 424.4,58.3 424.8,58.3 425.1,58.5 425.5,58.8 425.8,59.0 426.2,59.3 426.5,59.6 426.9,59.8 427.2,60.1 427.5,60.3 427.9,60.2 428.2,60.3 428.6,60.4 428.9,60.4 429.3,60.2 429.6,60.3 430.0,60.5 430.3,60.3 430.7,60.1 431.0,60.0 431.3,60.0 431.7,60.0 432.0,59.9 432.4,59.9 432.7,59.8 433.1,59.6 433.4,59.4 433.8,59.6 434.1,59.8 434.4,59.3 434.8,59.1 435.1,59.4 435.5,59.4 435.8,59.0 436.2,59.0 436.5,59.3 436.9,59.2 437.2,59.2 437.5,59.2 437.9,59.1 438.2,59.1 438.6,59.0 438.9,58.9 439.3,59.1 439.6,59.5 440.0,59.4 440.3,59.1 440.6,59.2 441.0,59.1 441.3,58.8 441.7,59.1 442.0,59.6 442.4,59.5 442.7,59.2 443.1,59.3 443.4,59.4 443.7,59.3 444.1,59.2 444.4,59.3 444.8,59.5 445.1,59.7 445.5,59.7 445.8,59.6 446.2,59.5 446.5,59.5 446.9,59.6 447.2,59.9" fill="none" stroke="#ff0000" stroke-width="0.8" stroke-linejoin="round"/>
<path d="M282.1,59.9 282.4,59.8 282.8,59.8 283.1,59.8 283.5,59.8 283.8,59.8 284.2,59.8 284.5,59.8 284.9,59.8 285.2,59.7 285.5,59.7 285.9,59.7 286.2,59.7 286.6,59.7 286.9,59.7 287.3,59.7 287.6,59.7 288.0,59.7 288.3,59.7 288.6,59.7 289.0,59.6 289.3,59.6 289.7,59.6 290.0,59.6 290.4,59.6 290.7,59.6 291.1,59.6 291.4,59.6 291.8,59.6 292.1,59.6 292.4,59.6 292.8,59.6 293.1,59.6 293.5,59.5 293.8,59.5 294.2,59.5 294.5,59.5 294.9,59.5 295.2,59.5 295.5,59.5 295.9,59.5 296.2,59.5 296.6,59.5 296.9,59.5 297.3,59.5 297.6,59.5 298.0,59.5 298.3,59.5 298.6,59.5 299.0,59.5 299.3,59.4 299.7,59.4 300.0,59.4 300.4,59.4 300.7,59.4 301.1,59.4 301.4,59.4 301.7,59.4 302.1,59.4 302.4,59.4 302.8,59.4 303.1,59.4 303.5,59.4 303.8,59.4 304.2,59.4 304.5,59.4 304.8,59.4 305.2,59.4 305.5,59.4 305.9,59.4 306.2,59.4 306.6,59.4 306.9,59.4 307.3,59.4 307.6,59.4 307.9,59.4 308.3,59.4 308.6,59.4 309.0,59.4 309.3,59.4 309.7,59.4 310.0,59.3 310.4,59.3 310.7,59.3 311.1,59.3 311.4,59.3 311.7,59.3 312.1,59.3 312.4,59.3 312.8,59.3 313.1,59.3 313.5,59.3 313.8,59.3 314.2,59.3 314.5,59.3 314.8,59.3 315.2,59.3 315.5,59.3 315.9,59.3 316.2,59.3 316.6,59.3 316.9,59.3 317.3,59.3 317.6,59.3 317.9,59.3 318.3,59.3 318.6,59.3 319.0,59.3 319.3,59.3 319.7,59.3 320.0,59.3 320.4,59.3 320.7,59.3 321.0,59.3 321.4,59.3 321.7,59.3 322.1,59.3 322.4,59.3 322.8,59.3 323.1,59.3 323.5,59.3 323.8,59.3 324.1,59.3 324.5,59.3 324.8,59.3 325.2,59.3 325.5,59.3 325.9,59.3 326.2,59.3 326.6,59.3 326.9,59.3 327.3,59.3 327.6,59.3 327.9,59.3 328.3,59.3 328.6,59.3 329.0,59.3 329.3,59.3 329.7,59.3 330.0,59.3 330.4,59.3 330.7,59.4 331.0,59.4 331.4,59.4 331.7,59.4 332.1,59.4 332.4,59.4 332.8,59.4 333.1,59.4 333.5,59.4 333.8,59.4 334.1,59.4 334.5,59.5 334.8,59.6 335.2,59.6 335.5,59.3 335.9,59.4 336.2,59.9 336.6,59.9 336.9,59.4 337.2,59.3 337.6,59.9 337.9,59.9 338.3,59.4 338.6,59.5 339.0,60.0 339.3,59.8 339.7,59.7 340.0,60.3 340.3,60.3 340.7,59.3 341.0,59.2 341.4,60.0 341.7,60.5 342.1,60.5 342.4,60.4 342.8,59.8 343.1,59.6 343.5,60.2 343.8,60.3 344.1,60.0 344.5,60.5 344.8,60.8 345.2,60.1 345.5,59.8 345.9,60.6 346.2,60.8 346.6,60.1 346.9,60.1 347.2,60.5 347.6,60.6 347.9,60.3 348.3,60.3 348.6,60.4 349.0,60.4 349.3,60.1 349.7,60.1 350.0,60.3 350.3,60.1 350.7,59.6 351.0,59.8 351.4,60.0 351.7,59.4 352.1,59.4 352.4,59.9 352.8,59.5 353.1,58.8 353.4,59.3 353.8,59.5 354.1,58.8 354.5,59.0 354.8,59.8 355.2,59.3 355.5,58.7 355.9,59.3 356.2,59.7 356.5,59.5 356.9,60.0 357.2,60.5 357.6,60.0 357.9,59.8 358.3,60.7 358.6,61.2 359.0,61.0 359.3,61.4 359.6,61.7 360.0,61.0 360.3,60.8 360.7,61.9 361.0,62.3 361.4,61.2 361.7,61.2 362.1,62.1 362.4,61.7 362.8,60.5 363.1,60.5 363.4,60.9 363.8,60.5 364.1,60.1 364.5,60.3 364.8,59.9 365.2,59.3 365.5,59.6 365.9,59.9 366.2,59.5 366.5,59.1 366.9,59.3 367.2,59.5 367.6,59.6 367.9,59.9 368.3,59.9 368.6,59.4 369.0,59.2 369.3,59.6 369.6,59.9 370.0,59.7 370.3,59.6 370.7,60.0 371.0,60.1 371.4,59.9 371.7,59.9 372.1,59.9 372.4,59.7 372.7,59.9 373.1,60.4 373.4,60.3 373.8,60.1 374.1,60.1 374.5,60.2 374.8,60.0 375.2,60.3 375.5,60.7 375.8,60.5 376.2,60.1 376.5,60.3 376.9,60.7 377.2,60.6 377.6,60.5 377.9,60.7 378.3,60.8 378.6,60.6 379.0,60.6 379.3,60.8 379.6,61.0 380.0,61.1 380.3,60.9 380.7,60.7 381.0,60.9 381.4,61.0 381.7,61.0 382.1,61.0 382.4,61.2 382.7,61.1 383.1,60.8 383.4,60.7 383.8,60.9 384.1,60.9 384.5,60.5 384.8,60.2 385.2,60.4 385.5,60.4 385.8,59.8 386.2,59.3 386.5,59.5 386.9,59.5 387.2,59.0 387.6,58.7 387.9,58.7 388.3,58.6 388.6,58.3 388.9,58.1 389.3,57.9 389.6,57.9 390.0,57.8 390.3,57.7 390.7,57.8 391.0,58.0 391.4,57.9 391.7,57.5 392.0,57.6 392.4,58.0 392.7,58.1 393.1,57.9 393.4,58.1 393.8,58.5 394.1,58.4 394.5,58.2 394.8,58.6 395.2,58.9 395.5,58.6 395.8,58.5 396.2,58.9 396.5,59.1 396.9,59.0 397.2,59.1 397.6,59.0 397.9,58.7 398.3,58.6 398.6,58.7 398.9,58.5 399.3,58.3 399.6,58.1 400.0,57.8 400.3,57.3 400.7,57.1 401.0,57.0 401.4,56.7 401.7,56.4 402.0,56.2 402.4,55.9 402.7,55.6 403.1,55.6 403.4,55.6 403.8,55.4 404.1,55.2 404.5,55.6 404.8,56.2 405.1,56.6 405.5,57.0 405.8,57.7 406.2,58.3 406.5,58.2 406.9,58.1 407.2,58.3 407.6,58.1 407.9,57.6 408.2,57.7 408.6,58.1 408.9,57.6 409.3,57.0 409.6,56.9 410.0,56.8 410.3,56.4 410.7,56.2 411.0,56.1 411.3,56.0 411.7,55.7 412.0,55.3 412.4,54.9 412.7,54.9 413.1,55.2 413.4,55.2 413.8,54.8 414.1,54.7 414.5,55.0 414.8,55.3 415.1,55.4 415.5,55.8 415.8,56.3 416.2,56.6 416.5,56.8 416.9,57.3 417.2,57.9 417.6,58.0 417.9,57.8 418.2,58.1 418.6,58.5 418.9,58.3 419.3,57.9 419.6,57.8 420.0,57.9 420.3,57.7 420.7,57.2 421.0,56.9 421.3,56.7 421.7,56.4 422.0,56.3 422.4,56.2 422.7,55.9 423.1,55.7 423.4,55.5 423.8,55.2 424.1,55.3 424.4,55.7 424.8,55.8 425.1,55.6 425.5,55.7 425.8,56.4 426.2,56.8 426.5,56.7 426.9,57.0 427.2,57.3 427.5,57.4 427.9,57.5 428.2,57.9 428.6,57.9 428.9,57.7 429.3,57.6 429.6,57.6 430.0,57.6 430.3,57.6 430.7,57.5 431.0,57.4 431.3,57.4 431.7,57.5 432.0,57.3 432.4,57.1 432.7,57.1 433.1,57.1 433.4,57.1 433.8,56.9 434.1,56.8 434.4,56.9 434.8,57.0 435.1,56.9 435.5,56.7 435.8,56.7 436.2,56.6 436.5,56.5 436.9,56.6 437.2,56.8 437.5,56.7 437.9,56.6 438.2,56.6 438.6,56.6 438.9,56.6 439.3,56.7 439.6,56.7 440.0,56.7 440.3,56.8 440.6,56.7 441.0,56.5 441.3,56.5 441.7,56.8 442.0,56.9 442.4,56.8 442.7,56.8 443.1,56.7 443.4,56.6 443.7,56.8 444.1,56.9 444.4,56.9 444.8,57.0 445.1,57.0 445.5,56.8 445.8,56.7 446.2,57.0 446.5,57.3 446.9,57.2 447.2,57.0" fill="none" stroke="#ff0000" stroke-width="0.8" stroke-linejoin="round" stroke-dasharray="2.2,1.2"/>
</g>
<rect x="274" y="6.5" width="181.4" height="106.7" fill="none" stroke="#1a1a1a" stroke-width="1.05"/>
<line x1="270.1" y1="134.2" x2="274" y2="134.2" stroke="#000" stroke-width="1.1"/>
<line x1="274" y1="160.88" x2="455.4" y2="160.88" stroke="#b0b0b0" stroke-width="1.1"/>
<line x1="270.1" y1="160.88" x2="274" y2="160.88" stroke="#000" stroke-width="1.1"/>
<line x1="274" y1="187.55" x2="455.4" y2="187.55" stroke="#b0b0b0" stroke-width="1.1"/>
<line x1="270.1" y1="187.55" x2="274" y2="187.55" stroke="#000" stroke-width="1.1"/>
<line x1="274" y1="214.22" x2="455.4" y2="214.22" stroke="#b0b0b0" stroke-width="1.1"/>
<line x1="270.1" y1="214.22" x2="274" y2="214.22" stroke="#000" stroke-width="1.1"/>
<line x1="270.1" y1="240.9" x2="274" y2="240.9" stroke="#000" stroke-width="1.1"/>
<line x1="282.1" y1="240.9" x2="282.1" y2="244.5" stroke="#000" stroke-width="1.1"/>
<text x="282.1" y="256.6" text-anchor="middle" font-size="11.5" textLength="7" lengthAdjust="spacingAndGlyphs">0</text>
<line x1="347.98" y1="240.9" x2="347.98" y2="244.5" stroke="#000" stroke-width="1.1"/>
<text x="347.98" y="256.6" text-anchor="middle" font-size="11.5" textLength="14" lengthAdjust="spacingAndGlyphs">20</text>
<line x1="413.86" y1="240.9" x2="413.86" y2="244.5" stroke="#000" stroke-width="1.1"/>
<text x="413.86" y="256.6" text-anchor="middle" font-size="11.5" textLength="14" lengthAdjust="spacingAndGlyphs">40</text>
<g clip-path="url(#clip11)">
<path d="M282.1,187.6 282.6,187.6 283.1,187.6 283.6,187.6 284.1,187.6 284.6,187.6 285.1,187.6 285.6,187.6 286.1,187.6 286.5,187.6 287.0,187.6 287.5,187.6 288.0,187.6 288.5,187.6 289.0,187.6 289.5,187.6 290.0,187.6 290.5,187.6 291.0,187.6 291.5,187.6 292.0,187.6 292.1,187.6 292.2,187.6 292.3,187.6 292.4,187.6 292.5,187.6 292.6,187.6 292.7,187.6 292.8,187.6 292.9,187.6 293.0,187.6 293.1,187.6 293.2,187.6 293.3,187.6 293.4,187.6 293.5,187.6 293.6,187.6 293.7,187.6 293.8,187.5 293.9,187.5 294.0,187.5 294.1,187.5 294.2,187.6 294.3,187.6 294.4,187.6 294.5,187.5 294.6,187.5 294.7,187.5 294.7,187.6 294.8,187.6 294.9,187.6 295.0,187.6 295.1,187.5 295.2,187.5 295.3,187.5 295.4,187.6 295.5,187.6 295.6,187.6 295.7,187.5 295.8,187.4 295.9,187.4 296.0,187.6 296.1,187.8 296.2,187.9 296.3,187.8 296.4,187.5 296.5,187.2 296.6,187.0 296.7,187.1 296.8,187.4 296.9,187.7 297.0,187.9 297.1,187.9 297.2,187.8 297.3,187.7 297.4,187.6 297.5,187.6 297.6,187.4 297.7,187.2 297.8,187.0 297.9,187.0 298.0,187.3 298.1,187.9 298.2,188.3 298.3,188.5 298.4,188.2 298.5,187.6 298.6,187.0 298.7,186.8 298.8,186.9 298.9,187.3 299.0,187.7 299.1,187.8 299.2,187.8 299.3,187.7 299.4,187.6 299.5,187.7 299.6,187.8 299.7,187.8 299.8,187.7 299.9,187.4 300.0,187.1 300.1,186.9 300.2,187.1 300.3,187.5 300.4,187.9 300.5,188.1 300.6,188.1 300.7,187.9 300.8,187.6 300.9,187.3 301.0,187.1 301.1,187.2 301.2,187.4 301.3,187.6 301.4,187.7 301.5,187.7 301.6,187.5 301.7,187.3 301.8,187.4 301.9,187.6 302.0,188.0 302.1,188.1 302.2,187.9 302.3,187.5 302.4,187.0 302.5,186.8 302.6,187.0 302.7,187.5 302.8,188.1 302.9,188.3 303.0,188.1 303.0,187.6 303.1,187.1 303.2,186.8 303.3,187.1 303.4,187.6 303.5,188.1 303.6,188.3 303.7,188.0 303.8,187.3 303.9,186.7 304.0,186.6 304.1,187.1 304.2,187.9 304.3,188.4 304.4,188.4 304.5,187.9 304.6,187.2 304.7,186.9 304.8,187.1 304.9,187.7 305.0,188.1 305.1,187.9 305.2,187.2 305.3,186.6 305.4,186.7 305.5,187.4 305.6,188.5 305.7,189.0 305.8,188.7 305.9,187.6 306.0,186.5 306.1,186.0 306.2,186.5 306.3,187.4 306.4,188.3 306.5,188.6 306.6,188.4 306.7,187.9 306.8,187.5 306.9,187.2 307.0,187.0 307.1,186.8 307.2,186.9 307.3,187.3 307.4,188.0 307.5,188.6 307.6,188.8 307.7,188.2 307.8,187.3 307.9,186.4 308.0,186.2 308.1,186.6 308.2,187.4 308.3,188.2 308.4,188.6 308.5,188.6 308.6,188.3 308.7,187.9 308.8,187.4 308.9,186.8 309.0,186.3 309.1,186.2 309.2,186.6 309.3,187.6 309.4,188.7 309.5,189.4 309.6,189.3 309.7,188.4 309.8,187.0 309.9,185.9 310.0,185.7 310.1,186.4 310.2,187.6 310.3,188.6 310.4,188.9 310.5,188.3 310.6,187.3 310.7,186.7 310.8,186.8 310.9,187.7 311.0,188.7 311.1,188.9 311.2,188.1 311.3,186.7 311.4,185.6 311.4,185.6 311.5,186.7 311.6,188.3 311.7,189.4 311.8,189.4 311.9,188.5 312.0,187.4 312.1,186.7 312.2,186.8 312.3,187.2 312.4,187.4 312.5,187.3 312.6,187.0 312.7,186.9 312.8,187.2 312.9,187.9 313.0,188.7 313.1,189.1 313.2,189.1 313.3,188.3 313.4,187.0 313.5,185.7 313.6,185.1 313.7,185.5 313.8,187.1 313.9,189.0 314.0,190.1 314.1,189.8 314.2,188.2 314.3,186.4 314.4,185.7 314.5,186.4 314.6,187.9 314.7,188.8 314.8,188.5 314.9,187.1 315.0,185.9 315.1,186.0 315.2,187.3 315.3,189.0 315.4,189.8 315.5,188.9 315.6,187.2 315.7,185.9 315.8,185.9 315.9,187.1 316.0,188.4 316.1,188.8 316.2,188.2 316.3,187.1 316.4,186.4 316.5,186.6 316.6,187.4 316.7,188.3 316.8,188.5 316.9,188.3 317.0,187.8 317.1,187.5 317.2,187.3 317.3,187.2 317.4,187.1 317.5,186.8 317.6,186.8 317.7,187.1 317.8,187.8 317.9,188.4 318.0,188.8 318.1,188.6 318.2,188.0 318.3,187.1 318.4,186.4 318.5,186.3 318.6,186.9 318.7,187.9 318.8,188.7 318.9,188.7 319.0,187.7 319.1,186.4 319.2,185.8 319.3,186.5 319.4,188.1 319.5,189.7 319.6,190.0 319.7,188.8 319.8,186.8 319.8,185.3 319.9,185.1 320.0,186.2 320.1,187.6 320.2,188.4 320.3,188.5 320.4,188.4 320.5,188.4 320.6,188.7 320.7,188.7 320.8,187.8 320.9,186.3 321.0,185.1 321.1,185.1 321.2,186.5 321.3,188.5 321.4,189.8 321.5,189.7 321.6,188.4 321.7,187.0 321.8,186.4 321.9,186.8 322.0,187.6 322.1,188.0 322.2,187.7 322.3,187.2 322.4,186.9 322.5,187.1 322.6,187.7 322.7,188.1 322.8,188.0 322.9,187.6 323.0,187.4 323.1,187.5 323.2,187.9 323.3,188.2 323.4,188.1 323.5,187.5 323.6,186.8 323.7,186.4 323.8,186.6 323.9,187.2 324.0,187.9 324.1,188.4 324.2,188.4 324.3,188.0 324.4,187.5 324.5,187.3 324.6,187.6 324.7,188.0 324.8,188.1 324.9,187.5 325.0,186.5 325.1,185.8 325.2,186.0 325.3,187.2 325.4,188.8 325.5,189.7 325.6,189.4 325.7,188.2 325.8,187.0 325.9,186.7 326.0,187.2 326.1,187.8 326.2,187.5 326.3,186.3 326.4,185.3 326.5,185.5 326.6,187.4 326.7,190.0 326.8,191.5 326.9,190.9 327.0,188.4 327.1,185.7 327.2,184.3 327.3,184.8 327.4,186.5 327.5,187.9 327.6,188.3 327.7,187.9 327.8,187.6 327.9,188.2 328.0,189.1 328.1,189.6 328.2,188.9 328.2,187.2 328.3,185.6 328.4,184.9 328.5,185.5 328.6,186.9 328.7,188.1 328.8,188.7 328.9,188.7 329.0,188.6 329.1,188.5 329.2,188.3 329.3,187.8 329.4,187.0 329.5,186.2 329.6,185.9 329.7,186.4 329.8,187.4 329.9,188.4 330.0,188.7 330.1,188.4 330.2,187.6 330.3,187.0 330.4,186.8 330.5,187.3 330.6,188.1 330.7,188.6 330.8,188.5 330.9,187.6 331.0,186.2 331.1,185.2 331.2,185.3 331.3,186.9 331.4,189.1 331.5,190.7 331.6,190.8 331.7,189.2 331.8,187.0 331.9,185.5 332.0,185.4 332.1,186.4 332.2,187.5 332.3,187.8 332.4,187.3 332.5,186.7 332.6,186.9 332.7,188.0 332.8,189.3 332.9,189.6 333.0,188.6 333.1,186.9 333.2,185.7 333.3,185.7 333.4,186.9 333.5,188.5 333.6,189.4 333.7,189.1 333.8,188.1 333.9,187.3 334.0,187.2 334.1,187.9 334.2,188.8 334.3,189.2 334.4,189.1 334.5,188.5 334.6,188.1 334.7,188.4 334.8,189.3 334.9,190.7 335.0,192.0 335.1,192.6 335.2,192.6 335.3,192.2 335.4,191.8 335.5,191.8 335.6,192.2 335.7,192.5 335.8,192.6 335.9,192.4 336.0,192.3 336.1,192.7 336.2,193.7 336.3,194.6 336.4,194.8 336.5,194.0 336.5,192.6 336.6,191.4 336.7,191.2 336.8,191.8 336.9,192.6 337.0,192.5 337.1,191.3 337.2,189.5 337.3,188.1 337.4,187.7 337.5,188.4 337.6,189.6 337.7,190.5 337.8,190.9 337.9,190.9 338.0,190.9 338.1,190.7 338.2,190.3 338.3,189.2 338.4,187.9 338.5,186.8 338.6,186.4 338.7,186.7 338.8,187.2 338.9,187.2 339.0,186.4 339.1,184.8 339.2,183.2 339.3,182.2 339.4,182.0 339.5,182.5 339.6,183.5 339.7,185.0 339.8,186.8 339.9,188.8 340.0,190.7 340.1,191.9 340.2,192.2 340.3,191.6 340.4,190.3 340.5,188.8 340.6,187.4 340.7,186.5 340.8,186.1 340.9,186.2 341.0,186.7 341.1,187.6 341.2,188.5 341.3,189.4 341.4,190.2 341.5,191.1 341.6,192.2 341.7,193.6 341.8,194.9 341.9,196.1 342.0,196.7 342.1,196.8 342.2,196.4 342.3,195.7 342.4,194.8 342.5,193.8 342.6,193.0 342.7,192.7 342.8,192.9 342.9,193.8 343.0,194.9 343.1,196.1 343.2,197.2 343.3,198.1 343.4,198.9 343.5,199.5 343.6,199.6 343.7,198.9 343.8,197.4 343.9,195.4 344.0,193.8 344.1,193.0 344.2,193.1 344.3,193.6 344.4,193.9 344.5,193.6 344.6,192.7 344.7,191.8 344.8,191.1 344.9,190.7 344.9,190.5 345.0,190.2 345.1,189.9 345.2,189.8 345.3,190.2 345.4,191.2 345.5,192.2 345.6,192.7 345.7,192.2 345.8,190.4 345.9,187.9 346.0,185.3 346.1,183.4 346.2,182.7 346.3,183.1 346.4,184.2 346.5,185.6 346.6,187.0 346.7,188.1 346.8,189.1 346.9,189.8 347.0,190.4 347.1,190.5 347.2,190.3 347.3,189.8 347.4,189.2 347.5,188.7 347.6,188.6 347.7,188.9 347.8,189.8 347.9,191.0 348.0,191.9 348.2,194.6 348.4,195.6 348.6,194.9 348.8,194.5 349.0,195.1 349.2,195.6 349.4,195.8 349.6,196.8 349.8,197.8 350.0,197.2 350.2,195.8 350.4,195.0 350.5,195.1 350.7,195.6 350.9,195.6 351.1,193.7 351.3,189.7 351.5,186.5 351.7,187.1 351.9,190.2 352.1,192.0 352.3,191.2 352.5,188.7 352.7,185.5 352.9,184.8 353.1,189.4 353.3,194.8 353.5,194.9 353.7,192.0 353.9,191.1 354.1,192.0 354.3,194.5 354.5,199.1 354.7,202.0 354.9,199.7 355.1,196.5 355.3,196.5 355.5,196.8 355.7,196.4 355.9,196.9 356.1,196.1 356.3,193.0 356.5,192.0 356.7,193.9 356.9,195.0 357.1,194.5 357.3,193.6 357.5,192.2 357.7,192.0 357.9,193.7 358.1,194.9 358.3,194.7 358.5,194.8 358.7,194.9 358.9,194.6 359.0,195.4 359.2,197.1 359.4,196.5 359.6,193.4 359.8,191.0 360.0,190.8 360.2,190.8 360.4,190.0 360.6,188.9 360.8,187.3 361.0,184.8 361.2,182.4 361.4,180.6 361.6,179.6 361.8,179.8 362.0,179.3 362.2,176.3 362.4,173.6 362.6,172.1 362.8,170.0 363.0,169.0 363.2,170.6 363.4,170.8 363.6,168.2 363.8,166.9 364.0,166.7 364.2,165.7 364.4,166.0 364.6,168.6 364.8,168.8 365.0,166.4 365.2,166.4 365.4,168.8 365.6,169.6 365.8,168.9 366.0,168.9 366.2,168.0 366.4,165.6 366.6,165.8 366.8,169.5 367.0,172.4 367.2,173.8 367.3,174.7 367.5,172.7 367.7,168.7 367.9,167.7 368.1,170.0 368.3,172.7 368.5,175.4 368.7,176.7 368.9,175.7 369.1,174.7 369.3,174.3 369.5,174.3 369.7,176.3 369.9,178.9 370.1,178.8 370.3,178.0 370.5,178.5 370.7,178.3 370.9,177.7 371.1,179.4 371.3,182.5 371.5,183.6 371.7,182.6 371.9,181.8 372.1,182.5 372.3,182.8 372.5,182.6 372.7,184.4 372.9,186.9 373.1,187.1 373.3,187.3 373.5,189.3 373.7,189.6 373.9,188.0 374.1,188.6 374.3,191.1 374.5,193.1 374.7,194.6 374.9,196.0 375.1,196.7 375.3,196.4 375.5,196.1 375.6,196.9 375.8,198.5 376.0,199.4 376.2,200.3 376.4,201.9 376.6,202.7 376.8,202.0 377.0,201.8 377.2,202.6 377.4,203.9 377.6,204.7 377.8,204.3 378.0,203.3 378.2,202.9 378.4,202.8 378.6,203.2 378.8,203.8 379.0,203.3 379.2,203.2 379.4,204.1 379.6,203.4 379.8,201.5 380.0,201.7 380.2,202.3 380.4,201.4 380.6,201.3 380.8,201.8 381.0,200.6 381.2,199.3 381.4,198.7 381.6,198.2 381.8,198.3 382.0,198.6 382.2,196.3 382.4,192.7 382.6,190.2 382.8,188.4 383.0,186.9 383.2,185.9 383.4,185.2 383.6,184.6 383.8,183.3 384.0,180.5 384.1,177.3 384.3,174.5 384.5,172.7 384.7,173.1 384.9,173.8 385.1,172.1 385.3,169.9 385.5,170.0 385.7,170.8 385.9,170.5 386.1,170.3 386.3,170.3 386.5,170.1 386.7,170.4 386.9,172.0 387.1,174.7 387.3,176.2 387.5,175.5 387.7,175.2 387.9,176.1 388.1,176.1 388.3,176.2 388.5,178.8 388.7,180.6 388.9,178.9 389.1,176.5 389.3,175.7 389.5,175.6 389.7,175.9 389.9,175.9 390.1,175.7 390.3,176.0 390.5,176.6 390.7,176.4 390.9,175.3 391.1,174.6 391.3,175.1 391.5,175.8 391.7,176.8 391.9,179.5 392.1,183.2 392.3,185.6 392.4,186.7 392.6,187.3 392.8,187.5 393.0,189.5 393.2,194.2 393.4,197.1 393.6,198.2 393.8,201.7 394.0,205.6 394.2,206.3 394.4,207.0 394.6,209.5 394.8,210.5 395.0,210.7 395.2,212.3 395.4,213.0 395.6,212.5 395.8,213.8 396.0,216.2 396.2,216.3 396.4,214.4 396.6,212.5 396.8,211.1 397.0,210.0 397.2,209.4 397.4,209.3 397.6,209.2 397.8,207.8 398.0,204.9 398.2,202.9 398.4,203.2 398.6,203.2 398.8,201.2 399.0,199.0 399.2,197.0 399.4,193.8 399.6,191.8 399.8,193.1 400.0,193.0 400.2,188.5 400.4,184.8 400.6,185.2 400.7,185.3 400.9,183.8 401.1,183.2 401.3,182.1 401.5,178.7 401.7,175.8 401.9,175.2 402.1,174.7 402.3,174.4 402.5,175.3 402.7,175.2 402.9,173.1 403.1,171.7 403.3,172.2 403.5,172.5 403.7,172.0 403.9,172.0 404.1,171.9 404.3,170.6 404.5,169.8 404.7,170.5 404.9,171.8 405.1,173.3 405.3,174.3 405.5,173.4 405.7,171.6 405.9,171.8 406.1,173.7 406.3,175.3 406.5,176.8 406.7,178.7 406.9,180.9 407.1,183.7 407.3,186.3 407.5,186.6 407.7,186.1 407.9,187.5 408.1,189.6 408.3,190.7 408.5,193.3 408.7,198.1 408.9,201.3 409.1,201.7 409.2,201.4 409.4,201.3 409.6,201.8 409.8,204.3 410.0,207.3 410.2,208.0 410.4,207.0 410.6,206.7 410.8,207.3 411.0,208.3 411.2,209.4 411.4,209.4 411.6,207.7 411.8,204.9 412.0,202.9 412.2,202.1 412.4,201.7 412.6,200.9 412.8,199.9 413.0,197.8 413.2,195.2 413.4,194.4 413.6,193.8 413.8,191.0 414.0,187.5 414.2,185.4 414.4,183.4 414.6,180.8 414.8,179.2 415.0,178.5 415.2,178.3 415.4,177.9 415.6,175.9 415.8,172.9 416.0,170.4 416.2,168.8 416.4,168.5 416.6,168.8 416.8,167.4 417.0,165.4 417.2,166.5 417.4,169.7 417.5,170.8 417.7,169.9 417.9,170.2 418.1,171.3 418.3,171.3 418.5,171.8 418.7,175.0 418.9,178.9 419.1,181.4 419.3,183.2 419.5,184.0 419.7,183.7 419.9,185.8 420.1,190.2 420.3,192.0 420.5,191.7 420.7,193.5 420.9,195.2 421.1,194.4 421.3,194.2 421.5,195.0 421.7,194.8 421.9,194.3 422.1,194.6 422.3,195.1 422.5,195.1 422.7,194.1 422.9,192.0 423.1,189.6 423.3,187.2 423.5,186.8 423.7,189.0 423.9,190.0 424.1,187.5 424.3,185.0 424.5,183.7 424.7,182.0 424.9,180.8 425.1,180.5 425.3,179.4 425.5,178.4 425.7,178.9 425.9,179.3 426.0,178.5 426.2,177.8 426.4,177.0 426.6,175.9 426.8,175.2 427.0,175.1 427.2,176.1 427.4,177.9 427.6,179.3 427.8,179.7 428.0,179.1 428.2,178.9 428.4,180.6 428.6,182.5 428.8,182.5 429.0,182.7 429.2,184.4 429.4,185.2 429.6,184.9 429.8,185.4 430.0,186.8 430.2,189.7 430.4,192.6 430.6,192.3 430.8,190.3 431.0,190.4 431.2,191.3 431.4,191.2 431.6,191.7 431.8,193.0 432.0,193.4 432.2,193.3 432.4,193.7 432.6,194.0 432.8,193.5 433.0,192.3 433.2,190.9 433.4,189.7 433.6,189.1 433.8,190.2 434.0,191.8 434.2,191.1 434.3,189.1 434.5,188.0 434.7,187.1 434.9,186.8 435.1,187.6 435.3,186.8 435.5,185.0 435.7,184.8 435.9,184.4 436.1,183.0 436.3,184.5 436.5,186.4 436.7,184.5 436.9,182.2 437.1,182.3 437.3,181.9 437.5,182.5 437.7,185.5 437.9,186.3 438.1,183.7 438.3,182.5 438.5,183.2 438.7,183.4 438.9,184.4 439.1,186.7 439.3,187.7 439.5,186.9 439.7,186.7 439.9,186.9 440.1,185.8 440.3,185.8 440.5,188.5 440.7,190.0 440.9,188.6 441.1,188.3 441.3,189.5 441.5,189.3 441.7,188.9 441.9,189.5 442.1,189.1 442.3,188.5 442.5,189.5 442.6,190.1 442.8,189.9 443.0,190.4 443.2,190.0 443.4,187.7 443.6,186.9 443.8,188.5 444.0,190.0 444.2,190.5 444.4,190.4 444.6,189.6 444.8,188.4 445.0,188.1 445.2,189.0 445.4,189.2 445.6,188.0 445.8,187.8 446.0,188.8 446.2,188.4 446.4,187.5 446.6,188.5 446.8,189.3 447.0,187.9 447.2,186.5" fill="none" stroke="#000000" stroke-width="0.8" stroke-linejoin="round"/>
<path d="M282.1,187.6 282.6,187.6 283.1,187.6 283.6,187.6 284.1,187.6 284.6,187.6 285.1,187.6 285.6,187.6 286.1,187.6 286.5,187.6 287.0,187.6 287.5,187.6 288.0,187.6 288.5,187.6 289.0,187.6 289.5,187.6 290.0,187.6 290.5,187.6 291.0,187.6 291.5,187.6 292.0,187.6 292.1,187.6 292.2,187.6 292.3,187.6 292.4,187.6 292.5,187.6 292.6,187.6 292.7,187.6 292.8,187.6 292.9,187.6 293.0,187.6 293.1,187.6 293.2,187.6 293.3,187.6 293.4,187.6 293.5,187.6 293.6,187.6 293.7,187.6 293.8,187.5 293.9,187.5 294.0,187.5 294.1,187.5 294.2,187.6 294.3,187.6 294.4,187.6 294.5,187.6 294.6,187.5 294.7,187.5 294.7,187.5 294.8,187.5 294.9,187.5 295.0,187.5 295.1,187.5 295.2,187.5 295.3,187.6 295.4,187.7 295.5,187.8 295.6,187.7 295.7,187.5 295.8,187.3 295.9,187.3 296.0,187.3 296.1,187.5 296.2,187.7 296.3,187.7 296.4,187.7 296.5,187.7 296.6,187.6 296.7,187.6 296.8,187.6 296.9,187.5 297.0,187.4 297.1,187.2 297.2,187.2 297.3,187.4 297.4,187.7 297.5,187.9 297.6,188.0 297.7,187.9 297.8,187.7 297.9,187.4 298.0,187.2 298.1,187.2 298.2,187.3 298.3,187.4 298.4,187.6 298.5,187.7 298.6,187.8 298.7,187.8 298.8,187.7 298.9,187.6 299.0,187.5 299.1,187.5 299.2,187.4 299.3,187.4 299.4,187.4 299.5,187.4 299.6,187.5 299.7,187.6 299.8,187.7 299.9,187.7 300.0,187.7 300.1,187.6 300.2,187.5 300.3,187.5 300.4,187.6 300.5,187.7 300.6,187.6 300.7,187.4 300.8,187.1 300.9,187.0 301.0,187.2 301.1,187.6 301.2,188.0 301.3,188.2 301.4,188.1 301.5,187.7 301.6,187.4 301.7,187.2 301.8,187.1 301.9,187.2 302.0,187.3 302.1,187.4 302.2,187.6 302.3,187.7 302.4,187.9 302.5,187.9 302.6,187.8 302.7,187.6 302.8,187.4 302.9,187.4 303.0,187.4 303.0,187.5 303.1,187.5 303.2,187.3 303.3,187.1 303.4,187.2 303.5,187.5 303.6,188.0 303.7,188.4 303.8,188.3 303.9,187.9 304.0,187.3 304.1,186.8 304.2,186.7 304.3,187.1 304.4,187.5 304.5,187.9 304.6,188.0 304.7,187.8 304.8,187.5 304.9,187.4 305.0,187.5 305.1,187.7 305.2,188.0 305.3,188.1 305.4,187.9 305.5,187.4 305.6,186.8 305.7,186.3 305.8,186.3 305.9,186.9 306.0,188.0 306.1,189.0 306.2,189.5 306.3,189.0 306.4,187.9 306.5,186.5 306.6,185.7 306.7,185.8 306.8,186.7 306.9,187.8 307.0,188.5 307.1,188.6 307.2,188.3 307.3,187.8 307.4,187.7 307.5,187.7 307.6,187.7 307.7,187.4 307.8,186.8 307.9,186.5 308.0,186.6 308.1,187.3 308.2,188.1 308.3,188.7 308.4,188.6 308.5,188.0 308.6,187.4 308.7,187.2 308.8,187.2 308.9,187.4 309.0,187.4 309.1,187.1 309.2,186.8 309.3,187.0 309.4,187.7 309.5,188.6 309.6,189.1 309.7,188.8 309.8,187.8 309.9,186.6 310.0,185.9 310.1,186.1 310.2,187.1 310.3,188.2 310.4,188.9 310.5,188.8 310.6,188.0 310.7,187.0 310.8,186.5 310.9,186.7 311.0,187.5 311.1,188.2 311.2,188.5 311.3,188.1 311.4,187.2 311.4,186.4 311.5,186.3 311.6,187.0 311.7,188.1 311.8,189.0 311.9,189.0 312.0,188.2 312.1,187.1 312.2,186.3 312.3,186.4 312.4,187.0 312.5,187.8 312.6,188.0 312.7,187.7 312.8,187.4 312.9,187.4 313.0,188.1 313.1,188.7 313.2,188.7 313.3,187.8 313.4,186.4 313.5,185.5 313.6,185.8 313.7,187.2 313.8,188.7 313.9,189.5 314.0,188.9 314.1,187.7 314.2,186.8 314.3,186.7 314.4,187.4 314.5,188.0 314.6,187.9 314.7,187.1 314.8,186.3 314.9,186.3 315.0,187.5 315.1,188.9 315.2,189.6 315.3,189.0 315.4,187.5 315.5,186.1 315.6,185.7 315.7,186.5 315.8,187.8 315.9,188.7 316.0,188.6 316.1,187.9 316.2,187.1 316.3,186.9 316.4,187.2 316.5,187.7 316.6,187.8 316.7,187.7 316.8,187.5 316.9,187.5 317.0,187.8 317.1,187.9 317.2,187.7 317.3,187.2 317.4,186.8 317.5,186.9 317.6,187.4 317.7,188.0 317.8,188.2 317.9,187.9 318.0,187.5 318.1,187.4 318.2,187.7 318.3,188.0 318.4,188.0 318.5,187.4 318.6,186.5 318.7,186.0 318.8,186.5 318.9,187.7 319.0,189.0 319.1,189.5 319.2,189.1 319.3,187.8 319.4,186.6 319.5,185.9 319.6,186.1 319.7,186.8 319.8,187.6 319.8,188.2 319.9,188.6 320.0,188.6 320.1,188.3 320.2,187.7 320.3,187.0 320.4,186.6 320.5,186.6 320.6,187.3 320.7,188.0 320.8,188.5 320.9,188.2 321.0,187.4 321.1,186.7 321.2,186.6 321.3,187.4 321.4,188.3 321.5,188.8 321.6,188.4 321.7,187.4 321.8,186.6 321.9,186.4 322.0,187.0 322.1,187.9 322.2,188.3 322.3,188.0 322.4,187.3 322.5,186.9 322.6,187.2 322.7,188.0 322.8,188.7 322.9,188.7 323.0,187.8 323.1,186.6 323.2,185.9 323.3,186.1 323.4,187.2 323.5,188.3 323.6,188.9 323.7,188.7 323.8,188.1 323.9,187.6 324.0,187.4 324.1,187.4 324.2,187.3 324.3,186.8 324.4,186.3 324.5,186.2 324.6,186.8 324.7,188.1 324.8,189.4 324.9,189.9 325.0,189.4 325.1,188.0 325.2,186.4 325.3,185.3 325.4,185.1 325.5,185.8 325.6,187.1 325.7,188.6 325.8,189.6 325.9,189.8 326.0,189.3 326.1,188.2 326.2,186.9 326.3,185.9 326.4,185.7 326.5,186.1 326.6,187.0 326.7,187.8 326.8,188.2 326.9,188.4 327.0,188.5 327.1,188.7 327.2,188.7 327.3,188.1 327.4,187.0 327.5,185.8 327.6,185.2 327.7,185.8 327.8,187.5 327.9,189.3 328.0,190.1 328.1,189.3 328.2,187.5 328.2,185.9 328.3,185.7 328.4,186.9 328.5,188.5 328.6,189.2 328.7,188.4 328.8,186.7 328.9,185.6 329.0,186.0 329.1,187.7 329.2,189.4 329.3,189.8 329.4,188.5 329.5,186.5 329.6,185.4 329.7,185.9 329.8,187.7 329.9,189.4 330.0,189.7 330.1,188.4 330.2,186.4 330.3,185.2 330.4,185.6 330.5,187.2 330.6,188.8 330.7,189.3 330.8,188.7 330.9,187.6 331.0,187.0 331.1,187.1 331.2,187.6 331.3,187.9 331.4,187.7 331.5,187.1 331.6,186.7 331.7,187.0 331.8,187.7 331.9,188.4 332.0,188.6 332.1,188.1 332.2,187.2 332.3,186.4 332.4,186.2 332.5,186.6 332.6,187.4 332.7,188.3 332.8,188.8 332.9,188.7 333.0,188.0 333.1,187.0 333.2,186.4 333.3,186.5 333.4,187.6 333.5,189.2 333.6,190.2 333.7,190.0 333.8,188.4 333.9,186.2 334.0,184.6 334.1,184.4 334.2,185.5 334.3,187.0 334.4,187.9 334.5,187.7 334.6,186.9 334.7,186.3 334.8,186.8 334.9,188.2 335.0,189.6 335.1,190.1 335.2,189.3 335.3,187.5 335.4,185.6 335.5,184.5 335.6,184.2 335.7,184.5 335.8,184.8 335.9,184.6 336.0,184.0 336.1,183.4 336.2,183.0 336.3,183.2 336.4,183.8 336.5,184.6 336.5,185.2 336.6,185.3 336.7,185.0 336.8,184.3 336.9,183.6 337.0,183.2 337.1,183.2 337.2,183.9 337.3,184.8 337.4,185.7 337.5,186.5 337.6,186.9 337.7,187.0 337.8,186.6 337.9,185.9 338.0,185.0 338.1,184.3 338.2,184.3 338.3,185.1 338.4,186.7 338.5,188.3 338.6,189.4 338.7,189.7 338.8,189.3 338.9,188.5 339.0,187.9 339.1,187.4 339.2,186.9 339.3,186.1 339.4,184.7 339.5,183.1 339.6,181.6 339.7,180.6 339.8,180.1 339.9,180.0 340.0,180.1 340.1,180.1 340.2,180.3 340.3,180.8 340.4,181.6 340.5,182.7 340.6,183.8 340.7,184.5 340.8,184.6 340.9,184.0 341.0,182.8 341.1,181.6 341.2,180.8 341.3,181.1 341.4,182.4 341.5,184.5 341.6,186.9 341.7,188.9 341.8,190.3 341.9,191.3 342.0,192.0 342.1,192.2 342.2,191.7 342.3,190.3 342.4,188.1 342.5,185.5 342.6,183.3 342.7,181.9 342.8,181.5 342.9,181.7 343.0,182.0 343.1,182.0 343.2,181.9 343.3,181.9 343.4,182.2 343.5,182.5 343.6,182.6 343.7,182.3 343.8,182.0 343.9,181.9 344.0,182.4 344.1,183.3 344.2,184.3 344.3,185.1 344.4,185.6 344.5,186.0 344.6,186.5 344.7,187.3 344.8,188.1 344.9,188.7 344.9,189.0 345.0,189.1 345.1,189.4 345.2,190.0 345.3,190.7 345.4,191.0 345.5,190.7 345.6,189.9 345.7,188.9 345.8,188.1 345.9,187.8 346.0,187.8 346.1,187.8 346.2,187.9 346.3,187.9 346.4,188.1 346.5,188.4 346.6,188.6 346.7,188.3 346.8,187.4 346.9,186.1 347.0,184.6 347.1,183.4 347.2,182.5 347.3,181.7 347.4,180.7 347.5,179.7 347.6,178.7 347.7,178.4 347.8,178.9 347.9,180.3 348.0,181.3 348.2,183.1 348.4,181.5 348.6,178.7 348.8,176.9 349.0,175.7 349.2,175.7 349.4,177.9 349.6,180.5 349.8,182.0 350.0,183.4 350.2,186.0 350.4,188.8 350.5,190.3 350.7,190.3 350.9,190.0 351.1,191.5 351.3,195.3 351.5,198.9 351.7,199.9 351.9,199.1 352.1,197.5 352.3,195.8 352.5,195.1 352.7,194.8 352.9,192.8 353.1,188.8 353.3,184.7 353.5,181.8 353.7,181.6 353.9,182.7 354.1,181.5 354.3,177.5 354.5,173.6 354.7,171.6 354.9,171.8 355.1,173.6 355.3,174.5 355.5,173.9 355.7,174.1 355.9,175.6 356.1,177.1 356.3,178.6 356.5,179.1 356.7,178.1 356.9,178.0 357.1,179.8 357.3,181.9 357.5,183.7 357.7,184.7 357.9,184.7 358.1,185.5 358.3,187.8 358.5,188.5 358.7,188.3 358.9,190.2 359.0,191.6 359.2,190.5 359.4,190.1 359.6,190.8 359.8,190.4 360.0,190.5 360.2,191.5 360.4,190.1 360.6,187.2 360.8,185.6 361.0,183.9 361.2,182.4 361.4,183.3 361.6,184.5 361.8,183.3 362.0,181.9 362.2,182.6 362.4,184.3 362.6,186.9 362.8,190.2 363.0,192.4 363.2,192.6 363.4,192.0 363.6,192.8 363.8,195.7 364.0,198.7 364.2,200.8 364.4,202.7 364.6,204.2 364.8,205.4 365.0,207.4 365.2,208.8 365.4,208.2 365.6,208.3 365.8,210.4 366.0,212.0 366.2,212.0 366.4,211.7 366.6,210.3 366.8,208.3 367.0,208.5 367.2,210.1 367.3,210.2 367.5,208.7 367.7,206.8 367.9,205.0 368.1,204.1 368.3,204.3 368.5,204.6 368.7,204.1 368.9,202.4 369.1,199.9 369.3,198.5 369.5,199.0 369.7,199.6 369.9,198.9 370.1,197.8 370.3,196.8 370.5,195.5 370.7,194.1 370.9,194.0 371.1,194.2 371.3,192.6 371.5,190.4 371.7,190.3 371.9,190.7 372.1,189.3 372.3,188.0 372.5,187.6 372.7,186.2 372.9,184.3 373.1,183.3 373.3,181.7 373.5,179.9 373.7,179.5 373.9,178.4 374.1,175.7 374.3,174.3 374.5,174.5 374.7,173.9 374.9,171.9 375.1,169.5 375.3,167.0 375.5,164.9 375.6,164.8 375.8,166.5 376.0,167.5 376.2,165.0 376.4,160.7 376.6,159.4 376.8,161.2 377.0,162.7 377.2,163.3 377.4,162.9 377.6,160.8 377.8,160.4 378.0,163.7 378.2,167.3 378.4,169.3 378.6,171.5 378.8,172.5 379.0,171.9 379.2,172.3 379.4,172.8 379.6,171.8 379.8,171.1 380.0,171.6 380.2,172.0 380.4,173.0 380.6,173.8 380.8,172.4 381.0,171.5 381.2,172.7 381.4,173.0 381.6,172.8 381.8,175.0 382.0,177.3 382.2,178.5 382.4,181.1 382.6,184.3 382.8,185.2 383.0,185.1 383.2,185.7 383.4,185.9 383.6,186.0 383.8,187.9 384.0,190.6 384.1,192.7 384.3,193.9 384.5,194.8 384.7,194.5 384.9,191.8 385.1,188.5 385.3,188.0 385.5,189.8 385.7,191.3 385.9,192.4 386.1,193.0 386.3,191.6 386.5,189.5 386.7,189.1 386.9,189.6 387.1,189.6 387.3,189.1 387.5,188.0 387.7,187.6 387.9,188.8 388.1,190.2 388.3,190.4 388.5,190.4 388.7,191.1 388.9,192.2 389.1,193.2 389.3,193.6 389.5,193.8 389.7,194.9 389.9,196.4 390.1,197.6 390.3,199.3 390.5,200.1 390.7,199.5 390.9,199.7 391.1,201.3 391.3,201.9 391.5,200.9 391.7,198.7 391.9,195.9 392.1,194.5 392.3,194.4 392.4,194.0 392.6,193.3 392.8,192.1 393.0,187.8 393.2,182.6 393.4,180.2 393.6,178.7 393.8,176.4 394.0,175.6 394.2,175.0 394.4,171.8 394.6,168.6 394.8,167.8 395.0,166.5 395.2,164.4 395.4,163.5 395.6,163.5 395.8,163.9 396.0,164.8 396.2,164.8 396.4,163.8 396.6,164.0 396.8,165.9 397.0,168.0 397.2,169.5 397.4,169.9 397.6,169.5 397.8,170.0 398.0,171.5 398.2,173.7 398.4,176.2 398.6,177.9 398.8,178.4 399.0,179.7 399.2,182.0 399.4,183.2 399.6,182.8 399.8,182.8 400.0,185.1 400.2,188.7 400.4,190.5 400.6,190.0 400.7,189.9 400.9,190.6 401.1,191.4 401.3,194.1 401.5,197.9 401.7,198.9 401.9,197.1 402.1,196.4 402.3,198.3 402.5,201.7 402.7,204.7 402.9,205.6 403.1,205.1 403.3,205.0 403.5,205.3 403.7,206.3 403.9,208.2 404.1,209.2 404.3,209.1 404.5,208.9 404.7,208.3 404.9,207.9 405.1,208.6 405.3,208.0 405.5,205.7 405.7,205.3 405.9,205.6 406.1,202.8 406.3,199.9 406.5,199.5 406.7,197.7 406.9,194.8 407.1,194.0 407.3,192.8 407.5,189.4 407.7,186.9 407.9,185.7 408.1,184.2 408.3,182.8 408.5,181.4 408.7,178.9 408.9,176.2 409.1,174.5 409.2,173.6 409.4,173.6 409.6,173.3 409.8,172.0 410.0,171.7 410.2,172.3 410.4,171.8 410.6,171.2 410.8,171.9 411.0,172.3 411.2,173.1 411.4,175.2 411.6,176.4 411.8,176.5 412.0,177.8 412.2,179.8 412.4,181.3 412.6,183.2 412.8,184.7 413.0,185.1 413.2,185.9 413.4,187.9 413.6,189.9 413.8,192.1 414.0,194.1 414.2,195.4 414.4,196.3 414.6,197.1 414.8,197.7 415.0,199.0 415.2,201.0 415.4,202.3 415.6,202.4 415.8,201.4 416.0,200.7 416.2,202.3 416.4,204.5 416.6,204.1 416.8,202.6 417.0,201.7 417.2,200.0 417.4,198.6 417.5,199.1 417.7,199.0 417.9,197.2 418.1,196.2 418.3,195.6 418.5,193.6 418.7,191.9 418.9,191.1 419.1,189.8 419.3,188.6 419.5,187.3 419.7,184.9 419.9,183.0 420.1,182.5 420.3,182.5 420.5,182.1 420.7,180.5 420.9,178.0 421.1,176.4 421.3,176.5 421.5,176.0 421.7,174.9 421.9,174.4 422.1,174.1 422.3,174.2 422.5,175.6 422.7,175.8 422.9,174.4 423.1,174.4 423.3,176.2 423.5,177.3 423.7,178.1 423.9,180.0 424.1,181.7 424.3,182.4 424.5,183.4 424.7,185.9 424.9,188.9 425.1,190.3 425.3,190.7 425.5,191.9 425.7,192.8 425.9,192.9 426.0,195.2 426.2,199.2 426.4,201.0 426.6,201.1 426.8,200.9 427.0,199.9 427.2,199.5 427.4,200.6 427.6,200.9 427.8,200.3 428.0,201.2 428.2,201.7 428.4,200.0 428.6,197.8 428.8,196.4 429.0,195.8 429.2,195.7 429.4,195.3 429.6,194.5 429.8,193.7 430.0,191.4 430.2,188.4 430.4,187.8 430.6,188.2 430.8,187.2 431.0,186.7 431.2,186.2 431.4,183.2 431.6,180.9 431.8,181.5 432.0,181.7 432.2,181.5 432.4,182.6 432.6,180.9 432.8,176.8 433.0,176.7 433.2,179.6 433.4,180.7 433.6,181.5 433.8,182.9 434.0,182.0 434.2,180.2 434.3,180.7 434.5,182.5 434.7,184.5 434.9,186.3 435.1,186.6 435.3,185.9 435.5,185.9 435.7,186.9 435.9,189.3 436.1,192.0 436.3,192.2 436.5,190.5 436.7,189.7 436.9,189.6 437.1,190.0 437.3,191.8 437.5,193.1 437.7,192.4 437.9,191.7 438.1,191.4 438.3,190.5 438.5,189.7 438.7,189.3 438.9,188.6 439.1,188.2 439.3,188.5 439.5,188.7 439.7,188.6 439.9,187.9 440.1,186.7 440.3,185.8 440.5,185.5 440.7,185.4 440.9,186.0 441.1,186.7 441.3,185.6 441.5,184.6 441.7,185.4 441.9,186.2 442.1,185.7 442.3,185.4 442.5,185.7 442.6,185.8 442.8,185.8 443.0,185.6 443.2,185.5 443.4,185.4 443.6,185.4 443.8,185.8 444.0,186.5 444.2,185.7 444.4,184.9 444.6,186.4 444.8,187.6 445.0,186.2 445.2,185.4 445.4,185.8 445.6,185.3 445.8,185.8 446.0,188.2 446.2,188.4 446.4,186.6 446.6,186.3 446.8,187.1 447.0,187.3 447.2,187.6" fill="none" stroke="#0000ff" stroke-width="0.8" stroke-linejoin="round"/>
<path d="M282.1,187.2 282.6,187.5 283.1,187.7 283.6,187.9 284.1,188.0 284.6,188.0 285.1,187.9 285.6,187.7 286.1,187.5 286.5,187.4 287.0,187.4 287.5,187.3 288.0,187.3 288.5,187.3 289.0,187.3 289.5,187.4 290.0,187.5 290.5,187.6 291.0,187.8 291.5,187.9 292.0,187.9 292.1,187.9 292.2,187.9 292.3,187.9 292.4,187.9 292.5,187.9 292.6,187.8 292.7,187.8 292.8,187.8 292.9,187.7 293.0,187.7 293.1,187.7 293.2,187.6 293.3,187.6 293.4,187.5 293.5,187.5 293.6,187.4 293.7,187.4 293.8,187.3 293.9,187.3 294.0,187.3 294.1,187.2 294.2,187.2 294.3,187.1 294.4,187.1 294.5,187.1 294.6,187.1 294.7,187.1 294.7,187.1 294.8,187.1 294.9,187.1 295.0,187.2 295.1,187.2 295.2,187.2 295.3,187.2 295.4,187.2 295.5,187.3 295.6,187.4 295.7,187.5 295.8,187.5 295.9,187.5 296.0,187.5 296.1,187.6 296.2,187.6 296.3,187.7 296.4,187.8 296.5,187.9 296.6,187.9 296.7,187.9 296.8,188.0 296.9,188.0 297.0,188.1 297.1,188.1 297.2,188.1 297.3,188.1 297.4,188.1 297.5,188.1 297.6,188.1 297.7,188.1 297.8,188.0 297.9,187.9 298.0,187.9 298.1,187.9 298.2,187.9 298.3,187.8 298.4,187.8 298.5,187.6 298.6,187.5 298.7,187.5 298.8,187.4 298.9,187.5 299.0,187.5 299.1,187.4 299.2,187.3 299.3,187.2 299.4,187.1 299.5,187.0 299.6,186.9 299.7,186.9 299.8,187.0 299.9,187.1 300.0,187.2 300.1,187.2 300.2,187.0 300.3,186.8 300.4,186.7 300.5,186.8 300.6,187.0 300.7,187.2 300.8,187.4 300.9,187.4 301.0,187.3 301.1,187.2 301.2,187.2 301.3,187.3 301.4,187.4 301.5,187.6 301.6,187.6 301.7,187.6 301.8,187.6 301.9,187.7 302.0,187.9 302.1,188.0 302.2,188.0 302.3,187.9 302.4,187.7 302.5,187.7 302.6,187.8 302.7,188.1 302.8,188.3 302.9,188.4 303.0,188.3 303.0,188.1 303.1,187.9 303.2,187.9 303.3,187.9 303.4,188.0 303.5,187.9 303.6,187.9 303.7,187.8 303.8,187.9 303.9,188.1 304.0,188.2 304.1,188.1 304.2,187.9 304.3,187.6 304.4,187.3 304.5,187.3 304.6,187.3 304.7,187.5 304.8,187.6 304.9,187.6 305.0,187.6 305.1,187.5 305.2,187.5 305.3,187.4 305.4,187.3 305.5,187.1 305.6,186.9 305.7,186.9 305.8,187.0 305.9,187.2 306.0,187.3 306.1,187.3 306.2,187.2 306.3,187.1 306.4,187.1 306.5,187.1 306.6,187.1 306.7,187.1 306.8,187.0 306.9,187.0 307.0,187.1 307.1,187.2 307.2,187.4 307.3,187.5 307.4,187.5 307.5,187.4 307.6,187.4 307.7,187.3 307.8,187.4 307.9,187.4 308.0,187.5 308.1,187.6 308.2,187.7 308.3,187.7 308.4,187.8 308.5,187.8 308.6,187.8 308.7,187.8 308.8,187.9 308.9,187.9 309.0,187.8 309.1,187.7 309.2,187.7 309.3,187.8 309.4,188.1 309.5,188.4 309.6,188.5 309.7,188.2 309.8,187.8 309.9,187.5 310.0,187.5 310.1,187.8 310.2,188.2 310.3,188.2 310.4,188.0 310.5,187.6 310.6,187.4 310.7,187.6 310.8,188.0 310.9,188.3 311.0,188.2 311.1,187.6 311.2,187.0 311.3,186.7 311.4,187.0 311.4,187.4 311.5,187.8 311.6,187.8 311.7,187.5 311.8,187.2 311.9,187.1 312.0,187.2 312.1,187.2 312.2,187.2 312.3,187.1 312.4,187.0 312.5,187.0 312.6,187.2 312.7,187.3 312.8,187.3 312.9,187.1 313.0,187.1 313.1,187.2 313.2,187.4 313.3,187.5 313.4,187.5 313.5,187.3 313.6,187.1 313.7,187.2 313.8,187.5 313.9,187.7 314.0,187.8 314.1,187.5 314.2,187.3 314.3,187.2 314.4,187.5 314.5,187.9 314.6,188.2 314.7,188.1 314.8,187.8 314.9,187.5 315.0,187.5 315.1,187.8 315.2,187.9 315.3,187.8 315.4,187.5 315.5,187.3 315.6,187.5 315.7,187.9 315.8,188.3 315.9,188.4 316.0,188.1 316.1,187.6 316.2,187.3 316.3,187.3 316.4,187.6 316.5,187.7 316.6,187.7 316.7,187.4 316.8,187.3 316.9,187.5 317.0,187.8 317.1,188.2 317.2,188.1 317.3,187.8 317.4,187.3 317.5,187.0 317.6,187.1 317.7,187.5 317.8,187.8 317.9,187.8 318.0,187.6 318.1,187.3 318.2,187.2 318.3,187.4 318.4,187.7 318.5,188.0 318.6,188.1 318.7,187.9 318.8,187.5 318.9,187.1 319.0,187.0 319.1,187.0 319.2,187.3 319.3,187.6 319.4,187.8 319.5,187.8 319.6,187.7 319.7,187.6 319.8,187.6 319.8,187.6 319.9,187.6 320.0,187.4 320.1,187.1 320.2,186.8 320.3,186.8 320.4,187.1 320.5,187.5 320.6,187.8 320.7,187.8 320.8,187.5 320.9,187.3 321.0,187.2 321.1,187.3 321.2,187.4 321.3,187.3 321.4,187.1 321.5,186.9 321.6,187.0 321.7,187.4 321.8,187.8 321.9,188.0 322.0,187.9 322.1,187.5 322.2,187.2 322.3,187.3 322.4,187.6 322.5,188.0 322.6,188.1 322.7,187.9 322.8,187.6 322.9,187.5 323.0,187.6 323.1,187.8 323.2,188.0 323.3,188.0 323.4,188.0 323.5,188.0 323.6,188.2 323.7,188.3 323.8,188.2 323.9,187.9 324.0,187.6 324.1,187.4 324.2,187.5 324.3,187.9 324.4,188.2 324.5,188.2 324.6,187.9 324.7,187.5 324.8,187.4 324.9,187.5 325.0,187.7 325.1,187.8 325.2,187.7 325.3,187.4 325.4,187.1 325.5,187.0 325.6,187.0 325.7,187.1 325.8,187.2 325.9,187.3 326.0,187.4 326.1,187.5 326.2,187.4 326.3,187.2 326.4,186.9 326.5,186.7 326.6,186.8 326.7,187.2 326.8,187.5 326.9,187.5 327.0,187.2 327.1,186.9 327.2,186.8 327.3,187.2 327.4,187.7 327.5,188.0 327.6,187.8 327.7,187.4 327.8,187.0 327.9,187.1 328.0,187.7 328.1,188.3 328.2,188.4 328.2,188.0 328.3,187.2 328.4,186.8 328.5,187.0 328.6,187.9 328.7,188.8 328.8,189.2 328.9,188.8 329.0,187.9 329.1,187.2 329.2,187.1 329.3,187.5 329.4,188.1 329.5,188.4 329.6,188.3 329.7,187.9 329.8,187.6 329.9,187.6 330.0,187.8 330.1,188.0 330.2,188.1 330.3,187.8 330.4,187.5 330.5,187.3 330.6,187.2 330.7,187.2 330.8,187.2 330.9,187.3 331.0,187.3 331.1,187.3 331.2,187.3 331.3,187.3 331.4,187.3 331.5,187.2 331.6,187.2 331.7,187.1 331.8,187.1 331.9,187.0 332.0,187.0 332.1,187.0 332.2,187.2 332.3,187.4 332.4,187.5 332.5,187.5 332.6,187.3 332.7,187.2 332.8,187.2 332.9,187.5 333.0,187.9 333.1,188.2 333.2,188.0 333.3,187.5 333.4,187.0 333.5,186.8 333.6,187.1 333.7,187.7 333.8,188.3 333.9,188.4 334.0,188.1 334.1,187.7 334.2,187.5 334.3,187.6 334.4,187.8 334.5,187.9 334.6,187.6 334.7,187.1 334.8,186.8 334.9,187.0 335.0,187.5 335.1,188.1 335.2,188.3 335.3,188.1 335.4,187.6 335.5,187.2 335.6,187.1 335.7,187.3 335.8,187.5 335.9,187.5 336.0,187.3 336.1,187.1 336.2,187.3 336.3,187.7 336.4,188.2 336.5,188.4 336.5,188.2 336.6,187.7 336.7,187.3 336.8,187.3 336.9,187.6 337.0,187.9 337.1,188.1 337.2,188.1 337.3,187.9 337.4,187.8 337.5,187.9 337.6,188.1 337.7,188.2 337.8,188.1 337.9,188.0 338.0,187.8 338.1,187.8 338.2,187.9 338.3,187.9 338.4,187.8 338.5,187.5 338.6,187.2 338.7,187.0 338.8,187.2 338.9,187.4 339.0,187.6 339.1,187.6 339.2,187.4 339.3,187.0 339.4,186.6 339.5,186.5 339.6,186.5 339.7,186.5 339.8,186.6 339.9,186.7 340.0,186.6 340.1,186.6 340.2,186.6 340.3,186.7 340.4,186.8 340.5,186.9 340.6,186.9 340.7,186.7 340.8,186.5 340.9,186.5 341.0,186.7 341.1,187.1 341.2,187.5 341.3,187.8 341.4,187.9 341.5,187.7 341.6,187.6 341.7,187.5 341.8,187.7 341.9,188.0 342.0,188.3 342.1,188.5 342.2,188.6 342.3,188.6 342.4,188.7 342.5,188.7 342.6,188.7 342.7,188.6 342.8,188.5 342.9,188.6 343.0,188.8 343.1,189.1 343.2,189.3 343.3,189.2 343.4,188.8 343.5,188.4 343.6,188.1 343.7,188.1 343.8,188.3 343.9,188.5 344.0,188.5 344.1,188.3 344.2,187.9 344.3,187.6 344.4,187.5 344.5,187.6 344.6,187.8 344.7,187.7 344.8,187.5 344.9,187.1 344.9,186.7 345.0,186.6 345.1,186.7 345.2,186.9 345.3,187.1 345.4,187.1 345.5,187.0 345.6,186.7 345.7,186.5 345.8,186.4 345.9,186.4 346.0,186.6 346.1,186.8 346.2,186.9 346.3,186.9 346.4,186.8 346.5,186.7 346.6,186.8 346.7,187.0 346.8,187.1 346.9,187.2 347.0,187.2 347.1,187.1 347.2,187.1 347.3,187.2 347.4,187.4 347.5,187.6 347.6,187.6 347.7,187.6 347.8,187.4 347.9,187.3 348.0,187.4 348.2,187.7 348.4,187.7 348.6,187.3 348.8,187.5 349.0,187.7 349.2,187.3 349.4,187.1 349.6,187.4 349.8,187.3 350.0,186.9 350.2,187.1 350.4,187.3 350.5,187.0 350.7,187.2 350.9,187.8 351.1,187.9 351.3,187.9 351.5,188.3 351.7,188.5 351.9,188.7 352.1,189.4 352.3,189.5 352.5,189.1 352.7,189.4 352.9,190.0 353.1,189.9 353.3,189.4 353.5,188.7 353.7,188.0 353.9,187.8 354.1,188.1 354.3,187.7 354.5,186.9 354.7,186.2 354.9,185.3 355.1,184.2 355.3,183.8 355.5,184.0 355.7,184.0 355.9,184.0 356.1,184.2 356.3,184.6 356.5,185.0 356.7,185.4 356.9,186.1 357.1,186.9 357.3,187.3 357.5,187.7 357.7,188.8 357.9,190.2 358.1,191.4 358.3,192.1 358.5,192.1 358.7,191.3 358.9,190.7 359.0,190.9 359.2,191.4 359.4,191.3 359.6,190.5 359.8,189.3 360.0,188.3 360.2,187.6 360.4,187.2 360.6,186.8 360.8,185.9 361.0,185.0 361.2,184.3 361.4,183.9 361.6,184.2 361.8,185.1 362.0,185.1 362.2,184.2 362.4,184.4 362.6,185.5 362.8,186.2 363.0,186.8 363.2,187.5 363.4,187.6 363.6,187.4 363.8,188.0 364.0,188.9 364.2,189.4 364.4,189.4 364.6,188.8 364.8,188.6 365.0,189.3 365.2,189.8 365.4,189.5 365.6,188.8 365.8,188.0 366.0,187.8 366.2,188.4 366.4,188.7 366.6,188.1 366.8,187.5 367.0,186.9 367.2,186.4 367.3,187.2 367.5,188.0 367.7,187.4 367.9,186.5 368.1,186.2 368.3,185.9 368.5,186.0 368.7,187.0 368.9,187.1 369.1,186.5 369.3,186.9 369.5,187.5 369.7,187.6 369.9,187.9 370.1,187.9 370.3,187.1 370.5,187.2 370.7,188.3 370.9,189.1 371.1,189.5 371.3,189.3 371.5,188.5 371.7,188.0 371.9,188.0 372.1,187.7 372.3,187.2 372.5,187.3 372.7,187.5 372.9,187.3 373.1,187.2 373.3,186.8 373.5,186.2 373.7,185.6 373.9,185.6 374.1,186.3 374.3,187.5 374.5,187.9 374.7,187.5 374.9,187.7 375.1,188.5 375.3,188.6 375.5,188.4 375.6,188.4 375.8,188.4 376.0,188.8 376.2,189.6 376.4,189.6 376.6,188.6 376.8,187.3 377.0,186.1 377.2,185.5 377.4,185.9 377.6,186.3 377.8,185.8 378.0,184.9 378.2,184.7 378.4,185.3 378.6,185.9 378.8,186.3 379.0,186.7 379.2,187.2 379.4,187.6 379.6,188.5 379.8,190.1 380.0,191.3 380.2,191.5 380.4,191.7 380.6,192.3 380.8,192.3 381.0,191.3 381.2,190.4 381.4,189.6 381.6,188.5 381.8,188.0 382.0,188.1 382.2,187.3 382.4,185.4 382.6,183.5 382.8,181.9 383.0,180.9 383.2,181.4 383.4,182.7 383.6,183.3 383.8,183.2 384.0,183.4 384.1,184.2 384.3,185.7 384.5,187.2 384.7,188.2 384.9,188.9 385.1,190.1 385.3,191.6 385.5,192.9 385.7,193.5 385.9,193.0 386.1,191.6 386.3,190.5 386.5,190.5 386.7,190.8 386.9,190.5 387.1,189.3 387.3,187.5 387.5,185.9 387.7,185.2 387.9,185.0 388.1,184.6 388.3,184.1 388.5,184.0 388.7,184.2 388.9,185.0 389.1,186.5 389.3,187.7 389.5,187.9 389.7,187.6 389.9,187.6 390.1,188.1 390.3,189.4 390.5,190.8 390.7,191.1 390.9,190.6 391.1,189.8 391.3,189.1 391.5,188.4 391.7,187.8 391.9,186.7 392.1,185.6 392.3,185.3 392.4,185.2 392.6,184.8 392.8,184.7 393.0,184.6 393.2,183.9 393.4,183.6 393.6,184.6 393.8,185.9 394.0,186.6 394.2,186.8 394.4,186.9 394.6,187.8 394.8,189.5 395.0,190.6 395.2,190.7 395.4,190.3 395.6,189.7 395.8,189.5 396.0,190.4 396.2,191.4 396.4,191.3 396.6,189.7 396.8,188.0 397.0,187.5 397.2,188.5 397.4,189.5 397.6,189.3 397.8,188.0 398.0,186.5 398.2,185.8 398.4,186.7 398.6,188.3 398.8,188.6 399.0,187.6 399.2,186.5 399.4,185.9 399.6,185.8 399.8,186.3 400.0,186.6 400.2,186.4 400.4,185.9 400.6,185.2 400.7,184.6 400.9,184.1 401.1,183.8 401.3,183.7 401.5,184.2 401.7,185.1 401.9,186.0 402.1,186.5 402.3,186.6 402.5,186.3 402.7,186.5 402.9,187.9 403.1,189.5 403.3,190.5 403.5,190.8 403.7,191.4 403.9,192.2 404.1,192.9 404.3,193.1 404.5,192.5 404.7,191.2 404.9,190.3 405.1,190.4 405.3,191.0 405.5,191.2 405.7,190.1 405.9,187.9 406.1,186.2 406.3,185.8 406.5,186.0 406.7,185.8 406.9,184.9 407.1,183.7 407.3,183.2 407.5,183.7 407.7,184.3 407.9,184.3 408.1,184.4 408.3,184.1 408.5,183.6 408.7,184.4 408.9,185.9 409.1,186.5 409.2,186.6 409.4,186.8 409.6,186.9 409.8,187.3 410.0,188.1 410.2,188.7 410.4,189.0 410.6,189.1 410.8,189.0 411.0,189.5 411.2,190.4 411.4,190.5 411.6,190.0 411.8,189.9 412.0,189.6 412.2,189.2 412.4,189.4 412.6,189.8 412.8,189.6 413.0,189.6 413.2,189.6 413.4,188.8 413.6,187.8 413.8,187.0 414.0,186.2 414.2,186.4 414.4,187.2 414.6,187.3 414.8,187.0 415.0,187.0 415.2,186.3 415.4,185.5 415.6,185.4 415.8,185.2 416.0,184.6 416.2,185.2 416.4,186.4 416.6,187.0 416.8,186.9 417.0,186.6 417.2,186.0 417.4,185.8 417.5,186.1 417.7,186.4 417.9,187.0 418.1,187.9 418.3,188.5 418.5,188.7 418.7,189.0 418.9,189.2 419.1,189.0 419.3,188.9 419.5,189.1 419.7,189.7 419.9,190.4 420.1,190.3 420.3,189.6 420.5,189.0 420.7,188.7 420.9,188.3 421.1,187.4 421.3,186.7 421.5,186.4 421.7,186.1 421.9,185.7 422.1,185.5 422.3,185.1 422.5,184.5 422.7,184.0 422.9,184.1 423.1,184.5 423.3,185.8 423.5,187.6 423.7,188.7 423.9,189.0 424.1,189.3 424.3,189.6 424.5,189.9 424.7,190.8 424.9,191.8 425.1,192.2 425.3,192.4 425.5,192.2 425.7,191.3 425.9,190.4 426.0,189.7 426.2,188.3 426.4,186.2 426.6,184.9 426.8,184.2 427.0,183.5 427.2,183.2 427.4,183.2 427.6,182.7 427.8,182.0 428.0,181.7 428.2,181.9 428.4,182.6 428.6,183.6 428.8,184.7 429.0,186.2 429.2,187.8 429.4,189.3 429.6,190.6 429.8,191.7 430.0,191.8 430.2,191.4 430.4,191.6 430.6,192.4 430.8,192.8 431.0,192.6 431.2,192.0 431.4,191.3 431.6,190.5 431.8,189.7 432.0,188.5 432.2,187.0 432.4,186.0 432.6,185.7 432.8,185.9 433.0,186.3 433.2,186.0 433.4,185.1 433.6,184.2 433.8,184.1 434.0,184.8 434.2,186.0 434.3,186.7 434.5,186.9 434.7,186.9 434.9,186.8 435.1,186.8 435.3,186.9 435.5,187.0 435.7,186.9 435.9,187.0 436.1,187.6 436.3,188.0 436.5,188.0 436.7,187.7 436.9,187.0 437.1,186.4 437.3,186.6 437.5,187.5 437.7,188.4 437.9,188.8 438.1,188.5 438.3,188.2 438.5,188.8 438.7,189.3 438.9,189.1 439.1,188.8 439.3,188.7 439.5,188.7 439.7,188.9 439.9,189.1 440.1,188.6 440.3,188.0 440.5,187.6 440.7,187.2 440.9,187.0 441.1,187.0 441.3,186.6 441.5,186.1 441.7,186.0 441.9,186.3 442.1,186.5 442.3,186.7 442.5,186.8 442.6,186.8 442.8,187.1 443.0,187.4 443.2,187.5 443.4,187.8 443.6,188.0 443.8,188.1 444.0,188.2 444.2,188.4 444.4,188.2 444.6,187.9 444.8,187.8 445.0,187.8 445.2,187.6 445.4,187.5 445.6,187.3 445.8,187.0 446.0,186.9 446.2,186.8 446.4,186.9 446.6,187.1 446.8,187.1 447.0,187.1 447.2,187.1" fill="none" stroke="#ff0000" stroke-width="0.8" stroke-linejoin="round"/>
</g>
<rect x="274" y="134.2" width="181.4" height="106.7" fill="none" stroke="#1a1a1a" stroke-width="1.05"/>
<line x1="270.1" y1="262" x2="274" y2="262" stroke="#000" stroke-width="1.1"/>
<line x1="274" y1="288.6" x2="455.4" y2="288.6" stroke="#b0b0b0" stroke-width="1.1"/>
<line x1="270.1" y1="288.6" x2="274" y2="288.6" stroke="#000" stroke-width="1.1"/>
<line x1="274" y1="315.2" x2="455.4" y2="315.2" stroke="#b0b0b0" stroke-width="1.1"/>
<line x1="270.1" y1="315.2" x2="274" y2="315.2" stroke="#000" stroke-width="1.1"/>
<line x1="274" y1="341.8" x2="455.4" y2="341.8" stroke="#b0b0b0" stroke-width="1.1"/>
<line x1="270.1" y1="341.8" x2="274" y2="341.8" stroke="#000" stroke-width="1.1"/>
<line x1="270.1" y1="368.4" x2="274" y2="368.4" stroke="#000" stroke-width="1.1"/>
<line x1="274" y1="368.4" x2="274" y2="372" stroke="#000" stroke-width="1.1"/>
<text x="274.3" y="384.4" text-anchor="middle" font-size="11.5" textLength="25.1" lengthAdjust="spacingAndGlyphs">10<tspan font-size="8.28" dy="-4">−2</tspan></text>
<line x1="292.2" y1="368.4" x2="292.2" y2="370.5" stroke="#000" stroke-width="0.8"/>
<line x1="302.85" y1="368.4" x2="302.85" y2="370.5" stroke="#000" stroke-width="0.8"/>
<line x1="310.4" y1="368.4" x2="310.4" y2="370.5" stroke="#000" stroke-width="0.8"/>
<line x1="316.26" y1="368.4" x2="316.26" y2="370.5" stroke="#000" stroke-width="0.8"/>
<line x1="321.05" y1="368.4" x2="321.05" y2="370.5" stroke="#000" stroke-width="0.8"/>
<line x1="325.1" y1="368.4" x2="325.1" y2="370.5" stroke="#000" stroke-width="0.8"/>
<line x1="328.61" y1="368.4" x2="328.61" y2="370.5" stroke="#000" stroke-width="0.8"/>
<line x1="331.7" y1="368.4" x2="331.7" y2="370.5" stroke="#000" stroke-width="0.8"/>
<line x1="334.47" y1="368.4" x2="334.47" y2="372" stroke="#000" stroke-width="1.1"/>
<text x="334.77" y="384.4" text-anchor="middle" font-size="11.5" textLength="25.1" lengthAdjust="spacingAndGlyphs">10<tspan font-size="8.28" dy="-4">−1</tspan></text>
<line x1="352.67" y1="368.4" x2="352.67" y2="370.5" stroke="#000" stroke-width="0.8"/>
<line x1="363.32" y1="368.4" x2="363.32" y2="370.5" stroke="#000" stroke-width="0.8"/>
<line x1="370.87" y1="368.4" x2="370.87" y2="370.5" stroke="#000" stroke-width="0.8"/>
<line x1="376.73" y1="368.4" x2="376.73" y2="370.5" stroke="#000" stroke-width="0.8"/>
<line x1="381.52" y1="368.4" x2="381.52" y2="370.5" stroke="#000" stroke-width="0.8"/>
<line x1="385.57" y1="368.4" x2="385.57" y2="370.5" stroke="#000" stroke-width="0.8"/>
<line x1="389.07" y1="368.4" x2="389.07" y2="370.5" stroke="#000" stroke-width="0.8"/>
<line x1="392.17" y1="368.4" x2="392.17" y2="370.5" stroke="#000" stroke-width="0.8"/>
<line x1="394.93" y1="368.4" x2="394.93" y2="372" stroke="#000" stroke-width="1.1"/>
<text x="395.23" y="384.4" text-anchor="middle" font-size="11.5" textLength="19.2" lengthAdjust="spacingAndGlyphs">10<tspan font-size="8.28" dy="-4">0</tspan></text>
<line x1="413.14" y1="368.4" x2="413.14" y2="370.5" stroke="#000" stroke-width="0.8"/>
<line x1="423.78" y1="368.4" x2="423.78" y2="370.5" stroke="#000" stroke-width="0.8"/>
<line x1="431.34" y1="368.4" x2="431.34" y2="370.5" stroke="#000" stroke-width="0.8"/>
<line x1="437.2" y1="368.4" x2="437.2" y2="370.5" stroke="#000" stroke-width="0.8"/>
<line x1="441.99" y1="368.4" x2="441.99" y2="370.5" stroke="#000" stroke-width="0.8"/>
<line x1="446.03" y1="368.4" x2="446.03" y2="370.5" stroke="#000" stroke-width="0.8"/>
<line x1="449.54" y1="368.4" x2="449.54" y2="370.5" stroke="#000" stroke-width="0.8"/>
<line x1="452.63" y1="368.4" x2="452.63" y2="370.5" stroke="#000" stroke-width="0.8"/>
<line x1="455.4" y1="368.4" x2="455.4" y2="372" stroke="#000" stroke-width="1.1"/>
<text x="455.7" y="384.4" text-anchor="middle" font-size="11.5" textLength="19.2" lengthAdjust="spacingAndGlyphs">10<tspan font-size="8.28" dy="-4">1</tspan></text>
<g clip-path="url(#clip12)">
<path d="M244.0,270.9 297.4,270.9 315.6,288.2 326.3,297.7 333.8,306.0 339.7,304.1 344.5,327.1 348.5,313.0 352.0,328.3 355.1,323.2 357.9,316.9 360.4,321.4 362.7,323.6 364.8,325.0 366.7,325.8 368.6,328.5 370.2,331.2 371.8,336.1 373.3,335.3 374.8,340.6 376.1,333.8 377.4,333.1 378.6,335.4 379.8,332.1 380.9,333.5 382.0,338.0 383.0,342.4 384.0,335.9 384.9,342.5 385.9,339.8 386.8,336.9 387.6,343.4 388.5,348.8 389.3,345.3 390.0,348.9 390.8,342.3 391.5,341.0 392.3,340.5 393.0,341.3 393.6,346.6 394.3,345.4 395.0,349.1 395.6,342.6 396.2,350.9 396.8,343.7 397.4,344.6 398.0,350.2 398.5,347.5 399.1,349.8 399.6,345.2 400.2,356.2 400.7,345.4 401.2,355.6 401.7,344.3 402.2,349.8 402.7,345.1 403.1,347.1 403.6,351.0 404.1,350.1 404.5,348.2 405.0,352.2 405.4,352.2 405.8,351.9 406.2,351.0 406.7,354.6 407.1,352.9 407.5,349.5 407.9,348.5 408.2,354.7 408.6,353.5 409.0,354.1 409.4,354.1 409.7,356.2 410.1,357.6 410.5,353.2 410.8,353.2 411.2,353.9 411.5,357.0 411.8,358.8 412.2,352.9 412.5,358.0 412.8,364.2 413.2,353.3 413.5,354.3 413.8,356.2 414.1,353.6 414.4,354.7 414.7,359.9 415.0,355.8 415.3,357.6 415.6,357.8 415.9,358.7 416.2,361.2 416.5,364.7 416.7,356.3 417.0,364.5 417.3,359.4 417.6,355.8 417.8,363.7 418.1,368.2 418.4,368.4 418.6,367.9 418.9,354.5 419.1,361.7 419.4,360.9 419.7,369.2 419.9,364.0 420.1,359.6 420.4,364.2 420.6,365.3 420.9,359.6 421.1,366.6 421.3,360.5 421.6,361.4 421.8,359.6 422.0,366.5 422.3,365.2 422.5,366.7 422.7,370.8 422.9,370.1 423.2,361.7 423.4,363.7 423.6,360.8 423.8,364.7 424.0,363.5 424.2,366.3 424.4,360.7 424.6,360.4 424.9,369.1 425.1,361.4 425.3,358.8 425.5,368.4 425.7,364.0 425.9,362.0 426.1,365.6 426.3,365.8 426.4,373.2 426.6,365.4 426.8,361.8 427.0,365.3 427.2,363.9 427.4,363.7 427.6,373.8 427.8,367.1 427.9,367.8 428.1,366.9 428.3,365.2 428.5,368.4 428.7,364.9 428.8,367.2 429.0,365.7 429.2,363.3 429.4,369.4 429.5,368.5 429.7,372.4 429.9,366.9 430.1,370.0 430.2,368.1 430.4,363.0 430.6,371.5 430.7,364.0 430.9,364.7 431.0,364.6 431.2,372.0 431.4,367.7 431.5,368.9 431.7,369.4 431.8,373.5 432.0,361.8 432.2,365.3 432.3,365.9 432.5,371.1 432.6,368.6 432.8,368.7 432.9,370.4 433.1,369.4 433.2,365.1 433.4,365.3 433.5,375.0 433.7,369.1 433.8,369.8 434.0,372.1 434.1,367.6 434.2,372.8 434.4,372.3 434.5,366.4 434.7,373.3 434.8,365.2 435.0,368.3 435.1,368.5 435.2,365.7 435.4,369.5 435.5,366.6 435.6,376.5 435.8,366.2 435.9,376.0 436.0,371.6 436.2,364.9 436.3,371.6 436.4,367.0 436.6,369.8 436.7,366.7 436.8,367.6 437.0,378.9 437.1,368.8 437.2,371.6 437.4,371.4 437.5,371.5 437.6,369.6 437.7,371.5 437.9,366.7 438.0,368.6 438.1,366.9 438.2,370.2 438.4,372.2 438.5,368.1 438.6,376.9 438.7,371.8 438.8,367.4 439.0,369.6 439.1,372.9 439.2,371.6 439.3,370.6 439.4,368.2 439.6,369.4 439.7,371.7 439.8,369.2 439.9,377.3 440.0,380.5 440.1,372.2 440.2,371.2 440.4,379.1 440.5,377.7 440.6,372.4 440.7,368.5 440.8,368.6 440.9,372.7 441.0,372.8 441.1,374.3 441.3,380.0 441.4,373.5 441.5,368.7 441.6,376.8 441.7,377.7 441.8,372.1 441.9,379.7 442.0,372.9 442.1,375.4 442.2,372.4 442.3,379.3 442.4,371.5 442.5,376.1 442.6,374.4 442.7,379.2 442.9,381.1 443.0,370.3 443.1,372.8 443.2,370.7 443.3,375.4 443.4,373.0 443.5,370.8 443.6,371.4 443.7,378.8 443.8,371.3 443.9,376.3 444.0,373.6 444.1,373.2 444.2,370.7 444.3,370.6 444.4,376.6 444.5,374.4 444.6,375.0 444.6,373.1 444.7,372.4 444.8,374.4 444.9,372.0 445.0,381.7 445.1,376.7 445.2,380.2 445.3,375.1 445.4,383.4 445.5,371.3 445.6,374.2 445.7,380.6 445.8,376.8 445.9,376.3 446.0,379.0 446.1,374.1 446.2,376.3 446.2,378.2 446.3,372.6 446.4,378.3 446.5,374.0 446.6,372.8 446.7,377.8 446.8,380.0 446.9,373.7 447.0,378.2 447.0,374.7 447.1,383.1 447.2,379.6 447.3,375.7 447.4,384.6 447.5,375.2 447.6,375.5 447.7,370.7 447.7,378.2 447.8,383.5 447.9,384.9 448.0,375.7 448.1,377.8 448.2,372.9 448.3,372.3 448.3,380.6 448.4,374.6 448.5,381.1 448.6,385.3 448.7,378.3 448.8,378.3 448.8,375.5 448.9,376.5 449.0,383.0 449.1,376.3 449.2,376.7 449.2,385.6 449.3,377.6 449.4,385.7 449.5,374.4 449.6,380.7 449.6,378.2 449.7,380.6 449.8,380.1 449.9,376.2 450.0,373.2 450.0,375.3 450.1,378.0 450.2,381.5 450.3,375.4 450.4,379.6 450.4,380.1 450.5,385.9 450.6,385.6 450.7,377.6 450.7,381.5 450.8,380.7 450.9,374.8 451.0,384.4 451.0,381.4 451.1,374.5 451.2,374.9 451.3,376.7 451.3,386.9 451.4,384.4 451.5,381.6 451.6,372.0 451.6,383.1 451.7,378.4 451.8,380.4 451.9,375.5 451.9,385.8 452.0,378.1 452.1,379.1 452.2,375.9 452.2,375.5 452.3,379.4 452.4,387.5 452.4,376.2 452.5,386.3 452.6,379.9 452.7,386.9 452.7,376.5 452.8,387.7 452.9,379.9 452.9,385.3 453.0,376.9 453.1,375.0 453.2,387.9 453.2,378.0 453.3,381.0 453.4,376.3 453.4,385.3 453.5,378.3 453.6,375.2 453.6,377.4 453.7,382.5 453.8,379.6 453.8,380.3 453.9,380.7 454.0,379.6 454.0,386.1 454.1,379.9 454.2,377.7 454.2,388.6 454.3,378.1 454.4,377.6 454.4,379.1 454.5,379.5 454.6,386.6 454.6,384.6 454.7,383.5 454.8,384.7 454.8,379.8 454.9,382.9 455.0,376.2 455.0,375.4 455.1,384.5 455.2,385.5 455.2,381.5 455.3,383.9 455.4,379.3 455.4,386.5" fill="none" stroke="#000000" stroke-width="0.7" stroke-linejoin="round"/>
<path d="M244.0,278.3 297.4,278.3 315.6,287.5 326.3,297.7 333.8,306.7 339.7,324.5 344.5,318.1 348.5,324.5 352.0,313.0 355.1,316.9 357.9,315.9 360.4,318.1 362.7,325.8 364.8,328.3 366.7,324.5 368.6,328.3 370.2,333.6 371.8,334.9 373.3,330.7 374.8,335.9 376.1,327.7 377.4,341.8 378.6,337.0 379.8,332.2 380.9,330.8 382.0,340.4 383.0,343.8 384.0,340.3 384.9,342.1 385.9,338.7 386.8,344.3 387.6,347.8 388.5,338.6 389.3,337.2 390.0,341.8 390.8,339.7 391.5,344.7 392.3,342.5 393.0,342.6 393.6,341.8 394.3,343.1 395.0,343.0 395.6,350.6 396.2,343.4 396.8,343.9 397.4,343.1 398.0,349.7 398.5,345.1 399.1,342.0 399.6,346.5 400.2,343.7 400.7,348.7 401.2,346.9 401.7,349.1 402.2,350.1 402.7,345.5 403.1,352.5 403.6,350.3 404.1,353.4 404.5,359.2 405.0,348.8 405.4,349.6 405.8,350.1 406.2,354.0 406.7,355.4 407.1,353.8 407.5,347.9 407.9,351.2 408.2,351.3 408.6,350.9 409.0,362.2 409.4,350.6 409.7,362.7 410.1,357.5 410.5,358.2 410.8,362.5 411.2,363.6 411.5,349.5 411.8,357.8 412.2,352.1 412.5,355.9 412.8,360.2 413.2,357.1 413.5,357.8 413.8,356.7 414.1,359.0 414.4,360.9 414.7,360.3 415.0,354.3 415.3,356.7 415.6,359.3 415.9,362.7 416.2,360.7 416.5,364.5 416.7,356.4 417.0,357.1 417.3,360.9 417.6,358.3 417.8,361.1 418.1,364.1 418.4,358.8 418.6,361.1 418.9,359.6 419.1,357.9 419.4,362.0 419.7,367.2 419.9,364.7 420.1,363.6 420.4,368.1 420.6,360.9 420.9,363.4 421.1,367.7 421.3,359.7 421.6,362.8 421.8,366.3 422.0,365.6 422.3,370.5 422.5,364.7 422.7,365.8 422.9,359.9 423.2,361.4 423.4,366.2 423.6,365.9 423.8,363.1 424.0,363.6 424.2,371.9 424.4,367.8 424.6,365.6 424.9,363.2 425.1,367.6 425.3,370.3 425.5,364.3 425.7,367.4 425.9,360.8 426.1,370.6 426.3,367.4 426.4,363.0 426.6,372.4 426.8,368.5 427.0,363.9 427.2,366.4 427.4,370.1 427.6,364.5 427.8,360.9 427.9,362.2 428.1,367.4 428.3,367.6 428.5,365.7 428.7,367.5 428.8,369.1 429.0,368.7 429.2,374.3 429.4,364.9 429.5,365.4 429.7,369.0 429.9,365.9 430.1,370.6 430.2,375.0 430.4,364.3 430.6,368.8 430.7,364.4 430.9,369.2 431.0,365.5 431.2,366.2 431.4,367.5 431.5,365.1 431.7,371.4 431.8,368.2 432.0,375.5 432.2,373.7 432.3,367.8 432.5,366.8 432.6,365.3 432.8,371.4 432.9,370.3 433.1,372.6 433.2,369.8 433.4,377.1 433.5,367.7 433.7,370.9 433.8,370.2 434.0,364.2 434.1,374.1 434.2,370.0 434.4,377.6 434.5,373.4 434.7,363.1 434.8,372.1 435.0,372.6 435.1,373.1 435.2,372.9 435.4,378.1 435.5,368.5 435.6,371.9 435.8,366.5 435.9,372.8 436.0,367.7 436.2,378.5 436.3,368.9 436.4,368.1 436.6,371.9 436.7,371.2 436.8,369.8 437.0,371.9 437.1,367.4 437.2,373.5 437.4,370.2 437.5,378.3 437.6,371.6 437.7,372.3 437.9,375.4 438.0,371.2 438.1,372.8 438.2,366.4 438.4,373.9 438.5,369.4 438.6,376.2 438.7,372.0 438.8,379.9 439.0,368.4 439.1,369.4 439.2,369.4 439.3,380.1 439.4,372.3 439.6,372.2 439.7,375.1 439.8,377.5 439.9,371.0 440.0,375.3 440.1,379.6 440.2,370.3 440.4,373.3 440.5,374.1 440.6,373.5 440.7,376.2 440.8,380.9 440.9,371.2 441.0,368.0 441.1,380.7 441.3,380.9 441.4,378.3 441.5,368.6 441.6,370.4 441.7,376.6 441.8,372.4 441.9,371.2 442.0,370.5 442.1,373.9 442.2,373.0 442.3,370.3 442.4,378.8 442.5,376.4 442.6,376.0 442.7,374.4 442.9,370.2 443.0,382.0 443.1,375.4 443.2,378.1 443.3,375.7 443.4,380.3 443.5,380.2 443.6,372.1 443.7,380.6 443.8,372.6 443.9,369.4 444.0,373.4 444.1,373.3 444.2,375.2 444.3,381.5 444.4,382.2 444.5,376.2 444.6,379.8 444.6,374.1 444.7,368.3 444.8,371.8 444.9,372.3 445.0,379.9 445.1,373.0 445.2,372.8 445.3,383.3 445.4,375.7 445.5,379.9 445.6,372.6 445.7,376.6 445.8,372.1 445.9,380.8 446.0,370.9 446.1,377.9 446.2,372.2 446.2,375.4 446.3,370.8 446.4,373.5 446.5,376.5 446.6,379.9 446.7,374.5 446.8,379.7 446.9,372.1 447.0,378.8 447.0,372.4 447.1,381.2 447.2,384.5 447.3,372.5 447.4,377.0 447.5,374.9 447.6,376.0 447.7,375.0 447.7,375.7 447.8,373.5 447.9,376.7 448.0,371.7 448.1,376.5 448.2,377.2 448.3,377.3 448.3,372.2 448.4,376.4 448.5,378.5 448.6,374.2 448.7,380.3 448.8,372.5 448.8,376.3 448.9,375.7 449.0,379.9 449.1,380.5 449.2,382.0 449.2,382.5 449.3,375.5 449.4,385.7 449.5,377.6 449.6,377.1 449.6,376.9 449.7,377.6 449.8,376.0 449.9,372.4 450.0,377.9 450.0,381.3 450.1,379.6 450.2,374.2 450.3,380.1 450.4,380.0 450.4,377.8 450.5,381.5 450.6,386.4 450.7,381.6 450.7,377.5 450.8,378.3 450.9,380.2 451.0,375.9 451.0,386.1 451.1,374.1 451.2,378.0 451.3,375.3 451.3,376.0 451.4,375.2 451.5,383.7 451.6,380.3 451.6,378.2 451.7,382.6 451.8,380.6 451.9,378.6 451.9,374.7 452.0,381.2 452.1,378.6 452.2,380.4 452.2,385.4 452.3,377.6 452.4,375.4 452.4,377.3 452.5,373.4 452.6,379.1 452.7,384.4 452.7,382.2 452.8,375.3 452.9,376.1 452.9,381.3 453.0,381.6 453.1,380.3 453.2,379.2 453.2,378.5 453.3,377.8 453.4,383.0 453.4,377.2 453.5,379.0 453.6,384.4 453.6,388.1 453.7,378.0 453.8,377.7 453.8,381.0 453.9,382.2 454.0,377.1 454.0,376.2 454.1,382.6 454.2,377.0 454.2,378.5 454.3,374.6 454.4,387.5 454.4,382.0 454.5,382.1 454.6,385.2 454.6,378.5 454.7,379.7 454.8,381.1 454.8,384.9 454.9,377.0 455.0,385.5 455.0,386.0 455.1,382.9 455.2,379.5 455.2,379.1 455.3,378.1 455.4,389.2 455.4,382.7" fill="none" stroke="#0000ff" stroke-width="0.7" stroke-linejoin="round"/>
<path d="M244.0,285.3 297.4,285.3 315.6,292.0 326.3,307.3 333.8,304.1 339.7,316.9 344.5,324.5 348.5,312.5 352.0,314.3 355.1,316.9 357.9,319.2 360.4,322.6 362.7,321.4 364.8,325.0 366.7,323.6 368.6,328.3 370.2,332.4 371.8,331.1 373.3,339.5 374.8,331.0 376.1,331.7 377.4,333.8 378.6,342.5 379.8,331.2 380.9,338.8 382.0,333.5 383.0,332.2 384.0,336.3 384.9,339.7 385.9,341.6 386.8,339.3 387.6,336.2 388.5,343.0 389.3,345.1 390.0,347.0 390.8,337.6 391.5,338.8 392.3,339.1 393.0,341.9 393.6,338.8 394.3,343.5 395.0,345.9 395.6,341.0 396.2,350.1 396.8,343.9 397.4,350.1 398.0,344.8 398.5,354.5 399.1,355.6 399.6,346.7 400.2,353.9 400.7,344.9 401.2,347.6 401.7,352.3 402.2,354.0 402.7,352.7 403.1,353.3 403.6,350.5 404.1,346.4 404.5,346.4 405.0,350.0 405.4,354.3 405.8,352.1 406.2,350.4 406.7,350.0 407.1,350.3 407.5,353.5 407.9,358.5 408.2,352.8 408.6,361.9 409.0,354.2 409.4,362.4 409.7,351.3 410.1,360.8 410.5,357.2 410.8,359.3 411.2,355.4 411.5,355.4 411.8,355.8 412.2,356.4 412.5,353.0 412.8,358.9 413.2,355.0 413.5,355.9 413.8,355.1 414.1,357.9 414.4,361.9 414.7,356.7 415.0,353.3 415.3,365.6 415.6,365.3 415.9,354.9 416.2,359.6 416.5,366.6 416.7,360.7 417.0,355.5 417.3,358.5 417.6,361.2 417.8,368.0 418.1,360.3 418.4,358.2 418.6,362.1 418.9,360.3 419.1,358.8 419.4,367.1 419.7,364.5 419.9,368.8 420.1,359.5 420.4,358.8 420.6,361.6 420.9,360.1 421.1,362.4 421.3,357.0 421.6,365.0 421.8,367.0 422.0,360.1 422.3,361.5 422.5,360.9 422.7,366.1 422.9,362.6 423.2,361.8 423.4,357.7 423.6,365.8 423.8,365.8 424.0,371.7 424.2,364.0 424.4,359.0 424.6,362.5 424.9,367.1 425.1,366.7 425.3,364.3 425.5,363.9 425.7,363.1 425.9,372.7 426.1,363.4 426.3,362.5 426.4,363.4 426.6,363.8 426.8,362.5 427.0,363.6 427.2,365.3 427.4,364.2 427.6,365.9 427.8,365.6 427.9,363.2 428.1,374.1 428.3,364.1 428.5,367.3 428.7,360.1 428.8,371.1 429.0,374.7 429.2,365.3 429.4,371.5 429.5,368.3 429.7,367.4 429.9,366.2 430.1,372.7 430.2,373.4 430.4,363.4 430.6,369.8 430.7,365.0 430.9,365.5 431.0,370.8 431.2,364.2 431.4,368.8 431.5,366.9 431.7,370.4 431.8,369.2 432.0,371.5 432.2,366.3 432.3,367.0 432.5,368.4 432.6,366.6 432.8,364.1 432.9,372.6 433.1,365.9 433.2,377.0 433.4,368.6 433.5,368.0 433.7,376.7 433.8,369.0 434.0,366.2 434.1,369.9 434.2,372.9 434.4,362.9 434.5,367.7 434.7,368.7 434.8,371.6 435.0,364.3 435.1,366.1 435.2,372.8 435.4,371.7 435.5,369.6 435.6,377.0 435.8,374.1 435.9,372.7 436.0,373.0 436.2,367.6 436.3,364.7 436.4,372.1 436.6,374.2 436.7,367.4 436.8,368.5 437.0,370.0 437.1,370.7 437.2,375.4 437.4,373.3 437.5,373.1 437.6,369.7 437.7,379.3 437.9,369.5 438.0,373.1 438.1,368.1 438.2,368.2 438.4,369.9 438.5,366.2 438.6,371.0 438.7,369.5 438.8,373.4 439.0,368.6 439.1,371.3 439.2,373.5 439.3,380.1 439.4,377.0 439.6,374.4 439.7,375.4 439.8,369.6 439.9,371.0 440.0,375.3 440.1,377.9 440.2,367.2 440.4,379.2 440.5,375.2 440.6,368.7 440.7,367.8 440.8,378.2 440.9,376.0 441.0,381.0 441.1,377.9 441.3,376.3 441.4,374.0 441.5,372.7 441.6,381.3 441.7,373.8 441.8,373.0 441.9,375.0 442.0,372.7 442.1,380.6 442.2,376.6 442.3,372.8 442.4,379.2 442.5,381.2 442.6,374.8 442.7,377.1 442.9,374.3 443.0,374.7 443.1,373.0 443.2,373.6 443.3,373.3 443.4,374.6 443.5,373.8 443.6,375.9 443.7,369.5 443.8,373.0 443.9,382.5 444.0,377.4 444.1,373.5 444.2,374.6 444.3,373.5 444.4,373.2 444.5,372.2 444.6,371.2 444.6,377.5 444.7,376.7 444.8,373.7 444.9,376.2 445.0,373.6 445.1,375.6 445.2,371.5 445.3,376.1 445.4,371.9 445.5,375.0 445.6,374.7 445.7,377.7 445.8,371.0 445.9,372.0 446.0,374.9 446.1,372.4 446.2,380.6 446.2,376.5 446.3,381.6 446.4,375.1 446.5,375.7 446.6,371.9 446.7,377.9 446.8,373.7 446.9,374.3 447.0,373.3 447.0,378.0 447.1,377.7 447.2,375.0 447.3,375.8 447.4,378.8 447.5,382.9 447.6,384.3 447.7,373.0 447.7,373.7 447.8,378.1 447.9,380.6 448.0,378.3 448.1,380.8 448.2,378.0 448.3,374.6 448.3,378.9 448.4,382.5 448.5,377.5 448.6,377.7 448.7,375.2 448.8,379.5 448.8,377.0 448.9,376.6 449.0,382.8 449.1,382.5 449.2,372.8 449.2,375.4 449.3,372.7 449.4,374.7 449.5,381.6 449.6,382.1 449.6,374.3 449.7,377.8 449.8,378.1 449.9,380.6 450.0,382.0 450.0,376.3 450.1,375.4 450.2,383.2 450.3,377.8 450.4,374.5 450.4,375.2 450.5,377.6 450.6,377.0 450.7,377.7 450.7,378.4 450.8,375.9 450.9,381.7 451.0,382.1 451.0,379.7 451.1,377.4 451.2,380.0 451.3,383.0 451.3,376.5 451.4,379.7 451.5,379.0 451.6,384.5 451.6,379.6 451.7,380.8 451.8,372.6 451.9,385.0 451.9,378.0 452.0,373.8 452.1,381.6 452.2,385.0 452.2,376.2 452.3,383.8 452.4,380.2 452.4,381.8 452.5,385.5 452.6,385.3 452.7,380.9 452.7,380.7 452.8,387.7 452.9,376.2 452.9,378.2 453.0,379.1 453.1,379.6 453.2,380.7 453.2,377.3 453.3,382.6 453.4,377.9 453.4,377.2 453.5,378.2 453.6,380.4 453.6,383.3 453.7,375.4 453.8,382.1 453.8,386.5 453.9,382.5 454.0,375.0 454.0,388.4 454.1,380.5 454.2,386.6 454.2,378.8 454.3,384.0 454.4,379.9 454.4,381.6 454.5,380.8 454.6,380.9 454.6,376.0 454.7,378.4 454.8,388.9 454.8,379.9 454.9,384.7 455.0,382.8 455.0,383.0 455.1,388.7 455.2,376.8 455.2,379.9 455.3,387.7 455.4,382.7 455.4,385.4" fill="none" stroke="#ff0000" stroke-width="0.7" stroke-linejoin="round"/>
</g>
<rect x="274" y="262" width="181.4" height="106.4" fill="none" stroke="#1a1a1a" stroke-width="1.05"/>
<line x1="274" y1="404.6" x2="455.4" y2="404.6" stroke="#b0b0b0" stroke-width="1.1"/>
<line x1="270.1" y1="404.6" x2="274" y2="404.6" stroke="#000" stroke-width="1.1"/>
<line x1="274" y1="435.1" x2="455.4" y2="435.1" stroke="#b0b0b0" stroke-width="1.1"/>
<line x1="270.1" y1="435.1" x2="274" y2="435.1" stroke="#000" stroke-width="1.1"/>
<line x1="274" y1="465.6" x2="455.4" y2="465.6" stroke="#b0b0b0" stroke-width="1.1"/>
<line x1="270.1" y1="465.6" x2="274" y2="465.6" stroke="#000" stroke-width="1.1"/>
<line x1="270.1" y1="496.1" x2="274" y2="496.1" stroke="#000" stroke-width="1.1"/>
<line x1="274" y1="496.1" x2="274" y2="499.7" stroke="#000" stroke-width="1.1"/>
<text x="274.3" y="512.1" text-anchor="middle" font-size="11.5" textLength="25.1" lengthAdjust="spacingAndGlyphs">10<tspan font-size="8.28" dy="-4">−2</tspan></text>
<line x1="292.2" y1="496.1" x2="292.2" y2="498.2" stroke="#000" stroke-width="0.8"/>
<line x1="302.85" y1="496.1" x2="302.85" y2="498.2" stroke="#000" stroke-width="0.8"/>
<line x1="310.4" y1="496.1" x2="310.4" y2="498.2" stroke="#000" stroke-width="0.8"/>
<line x1="316.26" y1="496.1" x2="316.26" y2="498.2" stroke="#000" stroke-width="0.8"/>
<line x1="321.05" y1="496.1" x2="321.05" y2="498.2" stroke="#000" stroke-width="0.8"/>
<line x1="325.1" y1="496.1" x2="325.1" y2="498.2" stroke="#000" stroke-width="0.8"/>
<line x1="328.61" y1="496.1" x2="328.61" y2="498.2" stroke="#000" stroke-width="0.8"/>
<line x1="331.7" y1="496.1" x2="331.7" y2="498.2" stroke="#000" stroke-width="0.8"/>
<line x1="334.47" y1="496.1" x2="334.47" y2="499.7" stroke="#000" stroke-width="1.1"/>
<text x="334.77" y="512.1" text-anchor="middle" font-size="11.5" textLength="25.1" lengthAdjust="spacingAndGlyphs">10<tspan font-size="8.28" dy="-4">−1</tspan></text>
<line x1="352.67" y1="496.1" x2="352.67" y2="498.2" stroke="#000" stroke-width="0.8"/>
<line x1="363.32" y1="496.1" x2="363.32" y2="498.2" stroke="#000" stroke-width="0.8"/>
<line x1="370.87" y1="496.1" x2="370.87" y2="498.2" stroke="#000" stroke-width="0.8"/>
<line x1="376.73" y1="496.1" x2="376.73" y2="498.2" stroke="#000" stroke-width="0.8"/>
<line x1="381.52" y1="496.1" x2="381.52" y2="498.2" stroke="#000" stroke-width="0.8"/>
<line x1="385.57" y1="496.1" x2="385.57" y2="498.2" stroke="#000" stroke-width="0.8"/>
<line x1="389.07" y1="496.1" x2="389.07" y2="498.2" stroke="#000" stroke-width="0.8"/>
<line x1="392.17" y1="496.1" x2="392.17" y2="498.2" stroke="#000" stroke-width="0.8"/>
<line x1="394.93" y1="496.1" x2="394.93" y2="499.7" stroke="#000" stroke-width="1.1"/>
<text x="395.23" y="512.1" text-anchor="middle" font-size="11.5" textLength="19.2" lengthAdjust="spacingAndGlyphs">10<tspan font-size="8.28" dy="-4">0</tspan></text>
<line x1="413.14" y1="496.1" x2="413.14" y2="498.2" stroke="#000" stroke-width="0.8"/>
<line x1="423.78" y1="496.1" x2="423.78" y2="498.2" stroke="#000" stroke-width="0.8"/>
<line x1="431.34" y1="496.1" x2="431.34" y2="498.2" stroke="#000" stroke-width="0.8"/>
<line x1="437.2" y1="496.1" x2="437.2" y2="498.2" stroke="#000" stroke-width="0.8"/>
<line x1="441.99" y1="496.1" x2="441.99" y2="498.2" stroke="#000" stroke-width="0.8"/>
<line x1="446.03" y1="496.1" x2="446.03" y2="498.2" stroke="#000" stroke-width="0.8"/>
<line x1="449.54" y1="496.1" x2="449.54" y2="498.2" stroke="#000" stroke-width="0.8"/>
<line x1="452.63" y1="496.1" x2="452.63" y2="498.2" stroke="#000" stroke-width="0.8"/>
<line x1="455.4" y1="496.1" x2="455.4" y2="499.7" stroke="#000" stroke-width="1.1"/>
<text x="455.7" y="512.1" text-anchor="middle" font-size="11.5" textLength="19.2" lengthAdjust="spacingAndGlyphs">10<tspan font-size="8.28" dy="-4">1</tspan></text>
<g clip-path="url(#clip13)">
<path d="M343.1 416.2h0M352.5 403.9h0M359.4 410.4h0M374.4 417.6h0M383.0 429.2h0M383.9 421.5h0M385.4 422.7h0M397.3 420.0h0M400.0 440.0h0M400.8 418.6h0M403.6 433.6h0M405.8 428.8h0M411.9 425.2h0M415.5 437.6h0M416.4 422.0h0M416.9 436.7h0M417.1 434.4h0M420.1 426.4h0M422.0 438.2h0M422.7 424.3h0M425.5 432.6h0M425.6 427.7h0M426.1 433.2h0M426.4 422.1h0M426.7 440.0h0M428.0 436.3h0M429.0 442.1h0M429.3 427.6h0M429.4 432.9h0M431.3 422.3h0M432.2 421.4h0M433.1 430.7h0M433.3 431.6h0M433.7 431.0h0M434.6 426.7h0M435.3 435.1h0M435.4 431.9h0M435.6 436.5h0M436.6 419.0h0M437.0 411.6h0M437.3 433.6h0M438.5 420.3h0M438.8 432.6h0M439.2 442.0h0M440.8 426.3h0M441.3 428.4h0M441.6 416.8h0M441.9 434.7h0M442.0 434.8h0M442.3 428.2h0M443.9 432.6h0M444.6 440.7h0M446.8 439.5h0M448.0 433.5h0M448.1 436.8h0M448.2 433.7h0M449.0 427.4h0M449.4 427.0h0M450.0 445.7h0M450.4 437.8h0M450.5 451.2h0M450.5 435.0h0M450.7 432.4h0M450.8 426.8h0M451.3 436.2h0M451.5 425.8h0M451.6 416.9h0M451.8 426.6h0M453.8 429.1h0M453.9 433.0h0M454.0 434.0h0M454.2 430.9h0M454.4 436.7h0M455.0 429.2h0M455.2 417.5h0" stroke="#000000" stroke-width="2.3" stroke-linecap="round"/>
<path d="M334.3 424.3h0M343.1 420.7h0M352.5 417.4h0M385.4 417.4h0M386.9 419.3h0M390.2 409.1h0M392.6 415.1h0M394.8 427.4h0M399.1 410.9h0M405.1 415.6h0M405.8 434.2h0M411.6 414.0h0M414.0 429.4h0M415.7 430.3h0M416.6 416.2h0M419.0 432.4h0M419.2 429.9h0M421.4 422.1h0M424.0 421.0h0M424.3 428.6h0M424.6 434.0h0M425.0 432.6h0M425.8 442.8h0M426.6 435.2h0M427.1 419.8h0M427.7 423.1h0M429.4 434.7h0M430.5 429.2h0M431.8 434.9h0M431.9 431.1h0M432.1 425.0h0M432.7 431.7h0M434.0 433.8h0M435.0 420.9h0M435.4 427.3h0M436.0 430.3h0M436.7 436.0h0M438.0 418.2h0M438.4 431.5h0M438.5 424.2h0M438.7 423.3h0M438.9 438.8h0M439.8 438.5h0M440.7 440.2h0M442.6 434.9h0M444.2 432.8h0M444.4 424.9h0M445.1 428.1h0M445.2 439.0h0M445.3 430.4h0M445.7 431.1h0M445.9 437.9h0M446.8 414.1h0M447.1 426.1h0M447.5 410.0h0M448.4 423.7h0M448.6 426.5h0M449.1 431.5h0M449.4 422.0h0M451.6 420.4h0M451.7 427.1h0M451.9 437.6h0M453.3 429.2h0M453.7 438.7h0M454.2 440.4h0M454.5 424.1h0M454.6 427.2h0M455.0 441.0h0M455.2 448.7h0" stroke="#0000ff" stroke-width="2.3" stroke-linecap="round"/>
<path d="M320.9 396.1h0M328.4 393.6h0M334.3 403.0h0M346.6 402.7h0M372.0 411.2h0M378.6 422.7h0M381.3 411.6h0M392.0 410.7h0M397.7 417.6h0M399.5 407.8h0M400.4 417.3h0M400.8 411.7h0M405.1 423.5h0M405.4 419.1h0M406.1 423.7h0M410.2 418.8h0M411.9 419.0h0M413.0 423.9h0M413.5 425.2h0M413.7 423.1h0M414.5 410.5h0M416.6 417.2h0M418.0 426.4h0M418.2 426.8h0M420.3 412.8h0M421.0 430.8h0M424.1 426.6h0M424.5 426.7h0M425.1 408.8h0M425.3 417.2h0M428.1 429.1h0M428.3 429.2h0M429.1 413.7h0M429.3 423.2h0M429.5 428.7h0M431.6 434.3h0M432.3 418.8h0M432.4 423.2h0M434.0 417.1h0M434.6 416.4h0M435.3 414.2h0M435.4 418.7h0M436.9 416.2h0M437.2 427.1h0M438.1 423.4h0M438.6 414.6h0M438.9 407.9h0M439.1 437.6h0M439.5 428.7h0M441.0 430.9h0M441.3 431.8h0M441.6 422.8h0M441.6 428.0h0M441.9 411.7h0M442.2 408.7h0M442.8 407.6h0M443.0 415.0h0M443.4 411.6h0M444.5 418.6h0M444.9 417.1h0M445.2 433.3h0M445.6 416.3h0M445.8 421.7h0M446.0 417.6h0M446.3 419.6h0M446.5 417.7h0M447.0 424.5h0M447.5 425.1h0M447.7 417.8h0M448.0 419.4h0M448.5 418.4h0M449.2 409.4h0M449.2 418.4h0M449.5 422.1h0M449.6 404.7h0M449.7 425.9h0M450.6 423.3h0M451.0 426.4h0M451.3 414.6h0M451.6 424.0h0M451.9 412.9h0M452.2 416.7h0M452.6 413.9h0M452.9 408.5h0M453.0 411.4h0M453.4 404.4h0M453.5 411.1h0M453.6 418.1h0M453.7 422.2h0M453.9 411.9h0M454.0 424.9h0M454.2 421.9h0M454.3 417.2h0M454.5 420.4h0M454.9 410.7h0M455.1 417.1h0M455.2 408.7h0M455.3 408.8h0M455.4 419.6h0" stroke="#ff0000" stroke-width="2.3" stroke-linecap="round"/>
<path d="M320.9 402.1h0M328.4 409.6h0M334.3 422.6h0M380.5 420.7h0M382.2 414.4h0M390.8 430.1h0M395.8 420.9h0M396.3 420.9h0M396.8 421.9h0M399.5 429.7h0M400.4 414.3h0M403.2 417.2h0M404.3 419.0h0M407.1 421.6h0M410.2 435.6h0M411.3 432.6h0M414.5 422.6h0M417.3 435.0h0M421.2 416.2h0M421.8 431.2h0M422.5 435.1h0M424.1 431.8h0M425.3 430.7h0M426.0 433.6h0M426.3 428.4h0M426.9 430.2h0M428.8 432.2h0M429.5 443.5h0M429.8 448.0h0M430.0 442.0h0M431.2 435.3h0M431.7 418.9h0M431.8 425.0h0M432.3 423.1h0M432.4 430.8h0M433.4 438.8h0M433.5 450.0h0M433.9 425.4h0M434.1 425.9h0M434.5 419.8h0M434.8 429.3h0M435.0 434.3h0M437.1 440.0h0M438.4 423.4h0M439.0 431.4h0M439.0 436.0h0M439.7 443.3h0M440.0 423.4h0M441.0 430.8h0M441.6 430.8h0M442.2 428.9h0M445.5 428.2h0M445.6 422.5h0M445.7 424.8h0M445.8 428.6h0M446.5 437.0h0M446.9 429.6h0M447.5 436.8h0M448.2 440.9h0M448.3 438.5h0M448.6 431.7h0M448.7 437.2h0M449.8 438.4h0M450.1 428.8h0M450.2 435.0h0M451.2 441.6h0M451.8 427.7h0M453.7 430.3h0M454.1 441.2h0M454.2 433.3h0M454.3 430.8h0M454.7 433.5h0M455.1 437.0h0" stroke="#000000" stroke-width="2.3" stroke-linecap="round"/>
<path d="M320.9 421.0h0M328.4 418.2h0M364.8 423.4h0M373.2 415.6h0M375.5 406.0h0M376.6 424.0h0M377.6 417.5h0M381.3 417.2h0M383.0 419.7h0M387.6 415.6h0M390.8 408.6h0M395.3 431.1h0M397.7 418.6h0M402.4 419.0h0M407.4 426.2h0M411.9 430.7h0M413.5 419.4h0M414.7 423.0h0M415.0 419.2h0M416.9 431.7h0M418.4 427.3h0M418.8 429.8h0M419.9 424.8h0M421.8 413.3h0M422.9 423.3h0M423.1 412.7h0M423.4 426.1h0M423.8 430.2h0M424.5 415.3h0M424.8 432.6h0M427.2 424.5h0M427.8 416.3h0M428.7 436.5h0M429.3 436.0h0M430.9 435.3h0M431.2 429.4h0M431.6 426.4h0M432.2 424.6h0M432.4 433.5h0M432.6 428.2h0M435.3 428.5h0M435.6 426.7h0M436.2 422.7h0M437.3 427.4h0M437.5 432.8h0M437.8 430.7h0M439.2 428.8h0M439.7 442.3h0M439.9 428.6h0M441.0 435.1h0M441.2 438.9h0M441.7 424.7h0M443.2 436.5h0M444.7 423.3h0M446.1 429.8h0M446.3 445.0h0M446.6 433.9h0M448.2 430.4h0M449.0 442.1h0M449.5 420.7h0M449.9 411.2h0M450.0 429.6h0M450.6 422.2h0M450.8 437.2h0M451.1 429.6h0M451.5 430.3h0M451.6 423.4h0M452.0 433.1h0M452.3 419.7h0M452.8 431.6h0M453.3 444.7h0M453.7 445.1h0M453.8 438.1h0M454.2 436.7h0M454.4 428.8h0" stroke="#0000ff" stroke-width="2.3" stroke-linecap="round"/>
<path d="M352.5 398.5h0M355.0 398.1h0M369.4 408.8h0M373.2 406.5h0M376.6 410.6h0M383.9 413.7h0M385.4 424.4h0M386.1 419.2h0M386.9 420.0h0M395.3 421.3h0M401.2 405.0h0M401.7 410.6h0M403.6 411.8h0M404.7 422.9h0M408.7 432.9h0M409.9 429.1h0M412.4 427.6h0M413.2 413.6h0M415.0 432.3h0M419.2 427.6h0M420.6 422.9h0M420.8 430.7h0M421.6 419.9h0M422.5 410.9h0M422.7 421.4h0M424.3 418.2h0M426.3 414.9h0M426.7 421.2h0M426.9 425.0h0M427.8 421.1h0M428.4 428.9h0M429.8 438.7h0M430.2 428.2h0M430.9 419.2h0M431.3 425.5h0M432.6 415.2h0M434.1 416.5h0M434.4 418.9h0M435.5 414.4h0M436.4 430.2h0M436.6 418.5h0M437.1 423.1h0M437.9 407.8h0M438.4 421.1h0M438.5 416.2h0M438.7 424.7h0M440.0 424.9h0M440.4 420.7h0M442.0 403.6h0M442.2 405.1h0M442.3 413.0h0M442.4 413.1h0M442.5 417.0h0M444.6 424.9h0M444.6 417.4h0M444.8 417.1h0M445.3 428.0h0M446.2 415.3h0M447.0 417.6h0M447.2 418.8h0M447.6 416.9h0M448.2 423.7h0M448.4 418.2h0M448.4 413.0h0M448.9 419.1h0M449.0 429.6h0M449.1 430.4h0M450.5 421.3h0M450.5 414.1h0M450.7 430.4h0M450.7 417.6h0M450.9 427.9h0M451.4 418.6h0M451.6 422.5h0M451.8 417.3h0M452.3 423.2h0M452.3 416.3h0M453.2 417.3h0M453.2 415.8h0M454.2 422.6h0M454.5 420.8h0M454.6 407.6h0M454.8 426.7h0" stroke="#ff0000" stroke-width="2.3" stroke-linecap="round"/>
<path d="M339.1 421.6h0M364.8 406.4h0M366.4 408.3h0M367.9 409.0h0M375.5 419.0h0M376.6 421.7h0M379.5 432.6h0M390.2 424.4h0M392.0 417.7h0M397.7 423.6h0M402.8 420.3h0M404.7 424.3h0M406.4 427.6h0M407.8 435.1h0M413.5 419.6h0M419.2 424.1h0M420.5 430.4h0M422.2 436.2h0M422.9 429.6h0M423.4 435.6h0M424.0 435.7h0M424.3 434.6h0M425.8 439.7h0M427.4 434.1h0M428.4 435.5h0M428.7 425.4h0M429.7 428.5h0M430.4 438.2h0M430.9 431.6h0M431.4 424.6h0M431.6 415.2h0M432.6 419.1h0M432.9 433.3h0M434.4 429.2h0M435.1 429.2h0M435.8 433.7h0M436.4 411.5h0M436.5 431.8h0M436.8 422.9h0M438.1 425.8h0M438.9 433.2h0M440.3 427.9h0M440.4 430.7h0M440.5 424.9h0M441.1 430.6h0M441.5 416.9h0M442.2 436.5h0M442.8 429.9h0M442.9 430.5h0M444.1 433.4h0M444.4 424.3h0M444.5 420.2h0M444.9 446.7h0M444.9 447.3h0M445.0 419.9h0M445.3 434.2h0M445.4 425.1h0M445.9 431.6h0M446.0 442.1h0M446.7 442.3h0M447.7 438.9h0M447.7 438.9h0M448.8 421.3h0M448.9 423.2h0M449.1 420.5h0M449.2 419.0h0M449.3 434.2h0M449.4 432.5h0M449.5 441.2h0M449.6 441.8h0M450.3 432.0h0M450.9 428.4h0M451.1 434.8h0M452.4 441.6h0M452.5 444.0h0M452.8 445.9h0M452.9 435.1h0M452.9 437.3h0M453.1 440.0h0M453.4 437.0h0M453.4 438.6h0M454.4 441.2h0M454.8 426.9h0M454.9 443.1h0M455.4 424.3h0" stroke="#000000" stroke-width="2.3" stroke-linecap="round"/>
<path d="M339.1 419.5h0M366.4 422.6h0M370.7 413.9h0M383.9 414.6h0M386.1 417.8h0M388.9 418.4h0M389.6 415.7h0M391.4 421.4h0M394.2 420.9h0M400.4 420.9h0M407.8 439.8h0M408.1 426.7h0M412.2 416.1h0M413.2 408.5h0M417.5 435.4h0M418.0 426.9h0M419.7 418.0h0M420.3 431.1h0M422.2 416.5h0M422.4 424.8h0M423.3 416.6h0M423.6 410.4h0M424.1 427.8h0M426.3 433.2h0M426.4 429.0h0M427.4 425.7h0M428.4 425.8h0M428.5 425.2h0M431.0 427.2h0M432.3 427.3h0M433.1 425.3h0M433.2 434.6h0M434.3 428.8h0M436.6 427.3h0M436.8 439.1h0M436.9 432.9h0M437.0 430.9h0M437.9 421.7h0M439.3 421.5h0M440.5 440.8h0M441.5 437.6h0M441.8 434.1h0M442.1 432.6h0M442.2 445.6h0M442.8 432.0h0M442.9 444.1h0M445.4 430.5h0M445.8 428.1h0M446.7 421.1h0M447.0 423.8h0M447.4 418.6h0M448.4 419.2h0M448.5 432.3h0M449.2 435.9h0M449.6 426.0h0M450.1 436.8h0M450.3 429.6h0M450.5 431.5h0M450.9 436.0h0M451.8 434.3h0M452.2 423.1h0M452.3 432.8h0M452.4 435.6h0M452.8 424.1h0M452.9 418.4h0M453.9 447.2h0M454.0 437.9h0M454.0 446.1h0M454.1 439.3h0M454.3 438.6h0M454.7 431.8h0M454.8 429.4h0M454.8 440.9h0M455.0 447.4h0M455.1 447.0h0M455.2 437.9h0M455.4 438.3h0" stroke="#0000ff" stroke-width="2.3" stroke-linecap="round"/>
<path d="M339.1 397.5h0M343.1 399.4h0M363.1 421.6h0M364.8 416.8h0M374.4 421.2h0M375.5 412.5h0M392.6 424.8h0M394.8 416.9h0M396.3 425.0h0M396.8 422.8h0M403.2 412.7h0M404.3 415.7h0M407.4 420.2h0M414.2 420.3h0M415.2 414.5h0M415.7 427.1h0M417.5 416.7h0M418.8 419.1h0M419.7 414.7h0M419.9 410.8h0M421.4 419.6h0M422.9 418.9h0M423.1 422.6h0M424.6 413.6h0M425.5 405.5h0M426.4 423.5h0M426.6 424.4h0M427.1 417.8h0M427.7 415.4h0M430.1 431.4h0M430.5 426.2h0M430.6 414.4h0M431.4 436.3h0M432.2 426.3h0M433.4 411.6h0M433.7 415.3h0M434.5 403.3h0M435.0 410.9h0M435.8 417.8h0M436.8 422.8h0M437.5 411.8h0M437.6 421.1h0M438.0 411.2h0M438.3 411.9h0M439.0 424.1h0M439.7 424.8h0M440.2 424.1h0M440.7 412.7h0M440.9 418.2h0M441.1 440.2h0M441.2 437.1h0M443.1 415.3h0M443.7 425.9h0M443.9 429.2h0M444.1 414.6h0M444.7 405.3h0M444.9 419.6h0M445.5 411.5h0M446.7 425.6h0M447.3 417.8h0M447.5 422.3h0M447.8 423.6h0M448.2 427.2h0M449.8 419.9h0M450.1 417.9h0M450.3 416.4h0M450.8 436.2h0M451.0 422.8h0M451.1 430.3h0M451.5 417.9h0M451.8 411.0h0M452.5 411.7h0M452.6 407.7h0M452.8 412.1h0M454.1 424.7h0M455.3 414.2h0" stroke="#ff0000" stroke-width="2.3" stroke-linecap="round"/>
</g>
<rect x="274" y="389.9" width="181.4" height="106.2" fill="none" stroke="#1a1a1a" stroke-width="1.05"/>
<line x1="487.6" y1="6.5" x2="491.5" y2="6.5" stroke="#000" stroke-width="1.1"/>
<line x1="491.5" y1="33.17" x2="672.9" y2="33.17" stroke="#b0b0b0" stroke-width="1.1"/>
<line x1="487.6" y1="33.17" x2="491.5" y2="33.17" stroke="#000" stroke-width="1.1"/>
<line x1="491.5" y1="59.85" x2="672.9" y2="59.85" stroke="#b0b0b0" stroke-width="1.1"/>
<line x1="487.6" y1="59.85" x2="491.5" y2="59.85" stroke="#000" stroke-width="1.1"/>
<line x1="491.5" y1="86.53" x2="672.9" y2="86.53" stroke="#b0b0b0" stroke-width="1.1"/>
<line x1="487.6" y1="86.53" x2="491.5" y2="86.53" stroke="#000" stroke-width="1.1"/>
<line x1="487.6" y1="113.2" x2="491.5" y2="113.2" stroke="#000" stroke-width="1.1"/>
<line x1="499.6" y1="113.2" x2="499.6" y2="116.8" stroke="#000" stroke-width="1.1"/>
<text x="499.6" y="128.9" text-anchor="middle" font-size="11.5" textLength="7" lengthAdjust="spacingAndGlyphs">0</text>
<line x1="565.48" y1="113.2" x2="565.48" y2="116.8" stroke="#000" stroke-width="1.1"/>
<text x="565.48" y="128.9" text-anchor="middle" font-size="11.5" textLength="14" lengthAdjust="spacingAndGlyphs">20</text>
<line x1="631.36" y1="113.2" x2="631.36" y2="116.8" stroke="#000" stroke-width="1.1"/>
<text x="631.36" y="128.9" text-anchor="middle" font-size="11.5" textLength="14" lengthAdjust="spacingAndGlyphs">40</text>
<g clip-path="url(#clip20)">
<path d="M499.6,59.9 499.9,59.9 500.3,59.9 500.6,59.9 501.0,59.9 501.3,59.9 501.7,59.9 502.0,59.9 502.4,59.9 502.7,59.9 503.0,59.9 503.4,59.9 503.7,59.9 504.1,59.9 504.4,59.9 504.8,59.9 505.1,59.9 505.5,59.9 505.8,59.9 506.1,59.9 506.5,59.9 506.8,59.9 507.2,59.9 507.5,59.9 507.9,59.9 508.2,59.9 508.6,59.9 508.9,59.9 509.3,59.9 509.6,59.9 509.9,59.9 510.3,59.9 510.6,59.9 511.0,59.9 511.3,59.9 511.7,59.9 512.0,59.9 512.4,59.9 512.7,59.9 513.0,59.9 513.4,59.9 513.7,59.9 514.1,59.9 514.4,59.9 514.8,59.9 515.1,59.9 515.5,59.9 515.8,59.9 516.1,59.8 516.5,59.8 516.8,59.8 517.2,59.8 517.5,59.8 517.9,59.8 518.2,59.8 518.6,59.8 518.9,59.8 519.2,59.8 519.6,59.8 519.9,59.8 520.3,59.8 520.6,59.8 521.0,59.8 521.3,59.8 521.7,59.8 522.0,59.7 522.3,59.7 522.7,59.6 523.0,59.5 523.4,59.4 523.7,59.3 524.1,59.1 524.4,59.0 524.8,58.8 525.1,58.6 525.4,58.4 525.8,58.2 526.1,58.0 526.5,57.8 526.8,57.6 527.2,57.3 527.5,57.1 527.9,56.9 528.2,56.7 528.6,56.6 528.9,56.4 529.2,56.2 529.6,56.1 529.9,55.9 530.3,55.8 530.6,55.7 531.0,55.5 531.3,55.4 531.7,55.3 532.0,55.1 532.3,55.0 532.7,54.9 533.0,54.7 533.4,54.6 533.7,54.5 534.1,54.3 534.4,54.2 534.8,54.1 535.1,53.9 535.4,53.8 535.8,53.7 536.1,53.6 536.5,53.4 536.8,53.3 537.2,53.2 537.5,53.1 537.9,53.0 538.2,52.9 538.5,52.8 538.9,52.7 539.2,52.6 539.6,52.6 539.9,52.5 540.3,52.4 540.6,52.4 541.0,52.3 541.3,52.3 541.6,52.2 542.0,52.2 542.3,52.2 542.7,52.2 543.0,52.2 543.4,52.2 543.7,52.3 544.1,52.3 544.4,52.4 544.8,52.4 545.1,52.5 545.4,52.6 545.8,52.7 546.1,52.8 546.5,52.9 546.8,53.0 547.2,53.2 547.5,53.3 547.9,53.5 548.2,53.6 548.5,53.8 548.9,54.0 549.2,54.1 549.6,54.3 549.9,54.5 550.3,54.7 550.6,54.9 551.0,55.3 551.3,55.7 551.6,56.0 552.0,56.3 552.3,56.7 552.7,57.4 553.0,58.3 553.4,58.8 553.7,58.7 554.1,58.6 554.4,59.2 554.7,60.3 555.1,61.0 555.4,60.9 555.8,60.4 556.1,60.6 556.5,61.7 556.8,62.9 557.2,63.1 557.5,62.4 557.8,61.6 558.2,61.7 558.5,62.7 558.9,64.0 559.2,65.0 559.6,65.4 559.9,65.2 560.3,65.1 560.6,65.1 561.0,65.4 561.3,65.4 561.6,65.3 562.0,65.5 562.3,66.6 562.7,68.4 563.0,69.6 563.4,69.6 563.7,68.7 564.1,68.2 564.4,68.7 564.7,69.6 565.1,70.1 565.4,70.0 565.8,70.0 566.1,70.7 566.5,71.6 566.8,72.1 567.2,72.1 567.5,72.4 567.8,73.2 568.2,74.0 568.5,73.8 568.9,72.8 569.2,72.0 569.6,72.2 569.9,73.5 570.3,75.0 570.6,75.9 570.9,76.1 571.3,75.9 571.6,75.6 572.0,75.5 572.3,75.6 572.7,75.8 573.0,75.8 573.4,75.8 573.7,76.3 574.0,77.6 574.4,79.6 574.7,81.3 575.1,82.2 575.4,82.5 575.8,82.8 576.1,83.4 576.5,84.0 576.8,84.1 577.1,83.9 577.5,83.6 577.8,83.3 578.2,82.6 578.5,81.5 578.9,80.2 579.2,79.3 579.6,78.3 579.9,76.7 580.3,74.2 580.6,71.5 580.9,69.5 581.3,68.3 581.6,67.3 582.0,65.8 582.3,63.8 582.7,62.0 583.0,60.9 583.4,59.9 583.7,58.2 584.0,55.6 584.4,52.8 584.7,50.3 585.1,48.4 585.4,46.6 585.8,44.6 586.1,42.4 586.5,40.4 586.8,38.7 587.1,37.1 587.5,35.0 587.8,32.5 588.2,30.4 588.5,29.1 588.9,28.7 589.2,28.8 589.6,28.9 589.9,28.9 590.2,29.1 590.6,29.6 590.9,30.3 591.3,30.9 591.6,31.4 592.0,32.1 592.3,33.3 592.7,34.7 593.0,36.1 593.3,37.4 593.7,38.6 594.0,40.1 594.4,41.6 594.7,43.1 595.1,44.4 595.4,45.6 595.8,47.1 596.1,48.7 596.5,50.1 596.8,51.3 597.1,52.2 597.5,53.3 597.8,54.6 598.2,56.0 598.5,57.1 598.9,57.6 599.2,57.8 599.6,58.0 599.9,58.4 600.2,58.8 600.6,58.8 600.9,58.5 601.3,57.9 601.6,57.3 602.0,56.5 602.3,55.6 602.7,54.5 603.0,53.3 603.3,52.1 603.7,50.8 604.0,49.3 604.4,47.6 604.7,46.0 605.1,44.6 605.4,43.4 605.8,42.1 606.1,40.5 606.4,39.0 606.8,37.6 607.1,36.5 607.5,35.5 607.8,34.4 608.2,33.4 608.5,32.7 608.9,32.2 609.2,32.0 609.5,31.8 609.9,32.0 610.2,32.6 610.6,33.6 610.9,34.8 611.3,36.1 611.6,38.0 612.0,40.3 612.3,42.7 612.7,44.8 613.0,46.6 613.3,48.7 613.7,51.2 614.0,53.6 614.4,55.3 614.7,56.2 615.1,56.9 615.4,57.9 615.8,58.9 616.1,59.2 616.4,58.8 616.8,58.0 617.1,57.5 617.5,57.4 617.8,57.1 618.2,56.0 618.5,54.5 618.9,53.4 619.2,52.7 619.5,52.2 619.9,51.2 620.2,49.8 620.6,48.5 620.9,47.5 621.3,46.5 621.6,45.3 622.0,43.8 622.3,42.4 622.6,41.4 623.0,40.9 623.3,40.5 623.7,39.8 624.0,38.9 624.4,38.0 624.7,37.3 625.1,36.9 625.4,36.6 625.7,36.5 626.1,36.7 626.4,37.6 626.8,38.9 627.1,40.4 627.5,42.0 627.8,43.7 628.2,45.6 628.5,47.8 628.8,49.9 629.2,51.7 629.5,53.5 629.9,55.2 630.2,56.9 630.6,58.5 630.9,59.4 631.3,59.7 631.6,59.2 632.0,58.4 632.3,57.3 632.6,55.9 633.0,54.2 633.3,52.4 633.7,50.5 634.0,48.5 634.4,46.4 634.7,44.4 635.1,42.9 635.4,42.1 635.7,41.9 636.1,41.8 636.4,41.7 636.8,41.6 637.1,42.0 637.5,42.9 637.8,44.0 638.2,44.9 638.5,45.7 638.8,46.6 639.2,47.6 639.5,48.6 639.9,49.5 640.2,50.2 640.6,50.6 640.9,50.8 641.3,51.0 641.6,51.2 641.9,51.3 642.3,51.2 642.6,50.7 643.0,49.8 643.3,48.7 643.7,47.7 644.0,46.8 644.4,45.9 644.7,44.9 645.0,44.0 645.4,43.4 645.7,43.3 646.1,43.3 646.4,43.3 646.8,43.2 647.1,43.2 647.5,43.6 647.8,44.2 648.2,44.7 648.5,45.1 648.8,45.4 649.2,46.1 649.5,46.9 649.9,47.6 650.2,47.8 650.6,47.7 650.9,47.7 651.3,47.9 651.6,48.2 651.9,48.2 652.3,47.9 652.6,47.5 653.0,47.4 653.3,47.5 653.7,47.4 654.0,46.8 654.4,46.2 654.7,45.8 655.0,45.7 655.4,45.8 655.7,45.6 656.1,45.1 656.4,44.6 656.8,44.2 657.1,44.0 657.5,43.9 657.8,43.8 658.1,43.8 658.5,43.8 658.8,43.9 659.2,43.9 659.5,43.8 659.9,43.5 660.2,43.4 660.6,43.4 660.9,43.6 661.2,44.1 661.6,44.4 661.9,44.5 662.3,44.2 662.6,44.0 663.0,44.0 663.3,44.3 663.7,44.6 664.0,44.7 664.4,44.9 664.7,45.2" fill="none" stroke="#000000" stroke-width="0.8" stroke-linejoin="round"/>
<path d="M499.6,59.7 499.9,59.7 500.3,59.7 500.6,59.7 501.0,59.7 501.3,59.7 501.7,59.7 502.0,59.7 502.4,59.7 502.7,59.7 503.0,59.7 503.4,59.7 503.7,59.7 504.1,59.7 504.4,59.7 504.8,59.7 505.1,59.7 505.5,59.7 505.8,59.7 506.1,59.7 506.5,59.7 506.8,59.7 507.2,59.7 507.5,59.7 507.9,59.7 508.2,59.7 508.6,59.7 508.9,59.7 509.3,59.7 509.6,59.7 509.9,59.7 510.3,59.7 510.6,59.7 511.0,59.7 511.3,59.7 511.7,59.7 512.0,59.7 512.4,59.7 512.7,59.7 513.0,59.7 513.4,59.7 513.7,59.7 514.1,59.7 514.4,59.7 514.8,59.7 515.1,59.7 515.5,59.7 515.8,59.7 516.1,59.7 516.5,59.7 516.8,59.7 517.2,59.7 517.5,59.7 517.9,59.7 518.2,59.7 518.6,59.7 518.9,59.6 519.2,59.6 519.6,59.6 519.9,59.6 520.3,59.6 520.6,59.6 521.0,59.6 521.3,59.6 521.7,59.6 522.0,59.6 522.3,59.5 522.7,59.4 523.0,59.3 523.4,59.2 523.7,59.1 524.1,58.9 524.4,58.8 524.8,58.6 525.1,58.4 525.4,58.2 525.8,58.0 526.1,57.8 526.5,57.6 526.8,57.4 527.2,57.2 527.5,57.0 527.9,56.8 528.2,56.6 528.6,56.4 528.9,56.2 529.2,56.0 529.6,55.9 529.9,55.8 530.3,55.6 530.6,55.5 531.0,55.4 531.3,55.2 531.7,55.1 532.0,55.0 532.3,54.8 532.7,54.7 533.0,54.6 533.4,54.4 533.7,54.3 534.1,54.1 534.4,54.0 534.8,53.9 535.1,53.8 535.4,53.6 535.8,53.5 536.1,53.4 536.5,53.3 536.8,53.1 537.2,53.0 537.5,52.9 537.9,52.8 538.2,52.7 538.5,52.6 538.9,52.5 539.2,52.5 539.6,52.4 539.9,52.3 540.3,52.2 540.6,52.2 541.0,52.1 541.3,52.1 541.6,52.1 542.0,52.0 542.3,52.0 542.7,52.0 543.0,52.0 543.4,52.0 543.7,52.1 544.1,52.1 544.4,52.2 544.8,52.2 545.1,52.3 545.4,52.4 545.8,52.5 546.1,52.6 546.5,52.7 546.8,52.9 547.2,53.0 547.5,53.1 547.9,53.3 548.2,53.4 548.5,53.6 548.9,53.8 549.2,53.9 549.6,54.1 549.9,54.3 550.3,54.5 550.6,54.8 551.0,55.1 551.3,55.5 551.6,55.9 552.0,56.1 552.3,56.5 552.7,57.2 553.0,58.1 553.4,58.6 553.7,58.5 554.1,58.5 554.4,59.0 554.7,60.1 555.1,60.8 555.4,60.7 555.8,60.2 556.1,60.5 556.5,61.5 556.8,62.7 557.2,62.9 557.5,62.2 557.8,61.5 558.2,61.5 558.5,62.5 558.9,63.8 559.2,64.8 559.6,65.2 559.9,65.1 560.3,64.9 560.6,65.0 561.0,65.2 561.3,65.2 561.6,65.1 562.0,65.3 562.3,66.4 562.7,68.2 563.0,69.5 563.4,69.5 563.7,68.6 564.1,68.0 564.4,68.5 564.7,69.4 565.1,69.9 565.4,69.8 565.8,69.9 566.1,70.5 566.5,71.4 566.8,71.9 567.2,71.9 567.5,72.2 567.8,73.0 568.2,73.8 568.5,73.6 568.9,72.6 569.2,71.8 569.6,72.0 569.9,73.3 570.3,74.8 570.6,75.7 570.9,76.0 571.3,75.7 571.6,75.4 572.0,75.3 572.3,75.4 572.7,75.6 573.0,75.6 573.4,75.6 573.7,76.1 574.0,77.5 574.4,79.4 574.7,81.2 575.1,82.0 575.4,82.3 575.8,82.6 576.1,83.2 576.5,83.8 576.8,83.9 577.1,83.7 577.5,83.4 577.8,83.1 578.2,82.4 578.5,81.3 578.9,80.0 579.2,79.1 579.6,78.1 579.9,76.5 580.3,74.0 580.6,71.3 580.9,69.3 581.3,68.1 581.6,67.1 582.0,65.6 582.3,63.6 582.7,61.9 583.0,60.7 583.4,59.7 583.7,58.0 584.0,55.4 584.4,52.6 584.7,50.2 585.1,48.3 585.4,46.5 585.8,44.4 586.1,42.2 586.5,40.2 586.8,38.6 587.1,36.9 587.5,34.8 587.8,32.4 588.2,30.2 588.5,28.9 588.9,28.5 589.2,28.6 589.6,28.7 589.9,28.7 590.2,28.9 590.6,29.4 590.9,30.1 591.3,30.7 591.6,31.2 592.0,32.0 592.3,33.1 592.7,34.5 593.0,35.9 593.3,37.2 593.7,38.5 594.0,39.9 594.4,41.4 594.7,42.9 595.1,44.2 595.4,45.5 595.8,46.9 596.1,48.5 596.5,50.0 596.8,51.1 597.1,52.1 597.5,53.1 597.8,54.5 598.2,55.9 598.5,56.9 598.9,57.4 599.2,57.6 599.6,57.8 599.9,58.2 600.2,58.6 600.6,58.7 600.9,58.3 601.3,57.7 601.6,57.1 602.0,56.3 602.3,55.4 602.7,54.3 603.0,53.1 603.3,51.9 603.7,50.6 604.0,49.1 604.4,47.5 604.7,45.8 605.1,44.4 605.4,43.2 605.8,41.9 606.1,40.4 606.4,38.8 606.8,37.5 607.1,36.3 607.5,35.3 607.8,34.2 608.2,33.2 608.5,32.5 608.9,32.0 609.2,31.8 609.5,31.6 609.9,31.8 610.2,32.5 610.6,33.4 610.9,34.6 611.3,36.0 611.6,37.8 612.0,40.2 612.3,42.6 612.7,44.6 613.0,46.4 613.3,48.5 613.7,51.0 614.0,53.4 614.4,55.1 614.7,56.0 615.1,56.7 615.4,57.7 615.8,58.7 616.1,59.1 616.4,58.6 616.8,57.8 617.1,57.4 617.5,57.2 617.8,56.9 618.2,55.8 618.5,54.4 618.9,53.2 619.2,52.5 619.5,52.0 619.9,51.0 620.2,49.7 620.6,48.3 620.9,47.3 621.3,46.4 621.6,45.2 622.0,43.6 622.3,42.2 622.6,41.2 623.0,40.7 623.3,40.3 623.7,39.6 624.0,38.7 624.4,37.8 624.7,37.1 625.1,36.7 625.4,36.4 625.7,36.3 626.1,36.6 626.4,37.4 626.8,38.7 627.1,40.2 627.5,41.8 627.8,43.5 628.2,45.5 628.5,47.6 628.8,49.7 629.2,51.6 629.5,53.3 629.9,55.0 630.2,56.7 630.6,58.3 630.9,59.3 631.3,59.5 631.6,59.1 632.0,58.2 632.3,57.1 632.6,55.7 633.0,54.0 633.3,52.2 633.7,50.3 634.0,48.3 634.4,46.2 634.7,44.2 635.1,42.7 635.4,42.0 635.7,41.7 636.1,41.7 636.4,41.5 636.8,41.4 637.1,41.9 637.5,42.8 637.8,43.8 638.2,44.8 638.5,45.6 638.8,46.4 639.2,47.4 639.5,48.4 639.9,49.3 640.2,50.0 640.6,50.4 640.9,50.7 641.3,50.9 641.6,51.0 641.9,51.2 642.3,51.1 642.6,50.5 643.0,49.6 643.3,48.5 643.7,47.5 644.0,46.6 644.4,45.7 644.7,44.7 645.0,43.8 645.4,43.3 645.7,43.1 646.1,43.2 646.4,43.2 646.8,43.0 647.1,43.0 647.5,43.4 647.8,44.0 648.2,44.5 648.5,44.9 648.8,45.3 649.2,45.9 649.5,46.8 649.9,47.4 650.2,47.6 650.6,47.5 650.9,47.5 651.3,47.7 651.6,48.0 651.9,48.0 652.3,47.7 652.6,47.3 653.0,47.3 653.3,47.3 653.7,47.2 654.0,46.7 654.4,46.0 654.7,45.6 655.0,45.5 655.4,45.6 655.7,45.4 656.1,44.9 656.4,44.4 656.8,44.0 657.1,43.9 657.5,43.8 657.8,43.7 658.1,43.6 658.5,43.6 658.8,43.7 659.2,43.7 659.5,43.6 659.9,43.4 660.2,43.2 660.6,43.2 660.9,43.4 661.2,43.9 661.6,44.3 661.9,44.3 662.3,44.0 662.6,43.8 663.0,43.8 663.3,44.1 663.7,44.4 664.0,44.6 664.4,44.7 664.7,45.0" fill="none" stroke="#000000" stroke-width="0.8" stroke-linejoin="round" stroke-dasharray="2.2,1.2"/>
<path d="M499.6,59.9 499.9,59.9 500.3,59.9 500.6,59.9 501.0,59.9 501.3,59.9 501.7,59.9 502.0,59.9 502.4,59.9 502.7,59.9 503.0,59.9 503.4,59.9 503.7,59.9 504.1,59.9 504.4,59.9 504.8,59.9 505.1,59.9 505.5,59.9 505.8,59.9 506.1,59.9 506.5,59.9 506.8,59.9 507.2,59.9 507.5,59.9 507.9,59.9 508.2,59.9 508.6,59.9 508.9,59.9 509.3,59.9 509.6,59.9 509.9,59.9 510.3,59.9 510.6,59.9 511.0,59.9 511.3,59.9 511.7,59.9 512.0,59.9 512.4,59.9 512.7,59.9 513.0,59.9 513.4,59.9 513.7,59.9 514.1,59.9 514.4,59.9 514.8,59.9 515.1,59.9 515.5,59.9 515.8,59.9 516.1,59.9 516.5,59.9 516.8,59.9 517.2,59.9 517.5,59.9 517.9,59.9 518.2,59.9 518.6,59.9 518.9,59.9 519.2,60.0 519.6,60.0 519.9,60.0 520.3,60.0 520.6,60.1 521.0,60.1 521.3,60.1 521.7,60.2 522.0,60.2 522.3,60.2 522.7,60.3 523.0,60.3 523.4,60.3 523.7,60.4 524.1,60.4 524.4,60.4 524.8,60.5 525.1,60.5 525.4,60.5 525.8,60.5 526.1,60.6 526.5,60.6 526.8,60.6 527.2,60.7 527.5,60.7 527.9,60.7 528.2,60.8 528.6,60.8 528.9,60.8 529.2,60.9 529.6,60.9 529.9,61.0 530.3,61.0 530.6,61.0 531.0,61.1 531.3,61.1 531.7,61.2 532.0,61.2 532.3,61.2 532.7,61.3 533.0,61.3 533.4,61.4 533.7,61.4 534.1,61.4 534.4,61.5 534.8,61.5 535.1,61.6 535.4,61.6 535.8,61.7 536.1,61.7 536.5,61.7 536.8,61.8 537.2,61.8 537.5,61.9 537.9,61.9 538.2,61.9 538.5,62.0 538.9,62.0 539.2,62.1 539.6,62.1 539.9,62.1 540.3,62.2 540.6,62.2 541.0,62.3 541.3,62.3 541.6,62.3 542.0,62.4 542.3,62.4 542.7,62.5 543.0,62.5 543.4,62.6 543.7,62.6 544.1,62.7 544.4,62.7 544.8,62.8 545.1,62.8 545.4,62.9 545.8,62.9 546.1,62.9 546.5,63.0 546.8,63.0 547.2,63.1 547.5,63.1 547.9,63.2 548.2,63.2 548.5,63.2 548.9,63.3 549.2,63.3 549.6,63.3 549.9,63.4 550.3,63.4 550.6,63.4 551.0,63.5 551.3,63.4 551.6,63.4 552.0,63.5 552.3,63.7 552.7,63.5 553.0,63.1 553.4,63.1 553.7,63.6 554.1,63.7 554.4,63.0 554.7,62.1 555.1,61.4 555.4,61.1 555.8,61.1 556.1,61.3 556.5,61.1 556.8,60.3 557.2,59.1 557.5,58.5 557.8,58.6 558.2,58.4 558.5,57.8 558.9,57.3 559.2,57.2 559.6,56.9 559.9,56.1 560.3,55.2 560.6,54.6 561.0,54.4 561.3,54.6 561.6,54.9 562.0,55.0 562.3,54.5 562.7,53.8 563.0,53.5 563.4,53.6 563.7,54.0 564.1,54.4 564.4,54.5 564.7,54.1 565.1,53.5 565.4,53.3 565.8,53.7 566.1,54.0 566.5,53.6 566.8,53.0 567.2,52.7 567.5,52.4 567.8,51.8 568.2,51.4 568.5,51.4 568.9,51.5 569.2,51.1 569.6,51.1 569.9,52.1 570.3,53.8 570.6,54.8 570.9,54.9 571.3,54.8 571.6,54.7 572.0,53.9 572.3,52.5 572.7,51.4 573.0,50.4 573.4,48.9 573.7,47.2 574.0,46.0 574.4,45.3 574.7,44.3 575.1,43.2 575.4,43.1 575.8,43.5 576.1,43.4 576.5,42.9 576.8,43.7 577.1,45.3 577.5,46.1 577.8,45.7 578.2,45.7 578.5,46.6 578.9,47.5 579.2,48.2 579.6,49.7 579.9,51.0 580.3,50.8 580.6,50.2 580.9,51.8 581.3,54.8 581.6,56.0 582.0,55.3 582.3,55.5 582.7,57.8 583.0,60.0 583.4,60.6 583.7,61.1 584.0,62.5 584.4,64.0 584.7,65.2 585.1,66.9 585.4,69.3 585.8,71.0 586.1,71.8 586.5,73.3 586.8,75.6 587.1,77.3 587.5,77.9 587.8,78.8 588.2,80.8 588.5,82.4 588.9,82.8 589.2,82.6 589.6,83.1 589.9,83.6 590.2,83.5 590.6,82.8 590.9,82.2 591.3,81.5 591.6,80.5 592.0,79.3 592.3,77.9 592.7,76.2 593.0,74.5 593.3,73.0 593.7,71.5 594.0,69.7 594.4,67.6 594.7,65.5 595.1,63.6 595.4,61.8 595.8,60.0 596.1,58.3 596.5,56.6 596.8,54.8 597.1,53.0 597.5,51.7 597.8,50.8 598.2,49.7 598.5,48.6 598.9,47.7 599.2,47.1 599.6,46.9 599.9,47.2 600.2,47.6 600.6,47.8 600.9,47.9 601.3,48.5 601.6,49.5 602.0,50.4 602.3,51.1 602.7,51.8 603.0,52.7 603.3,53.3 603.7,53.7 604.0,54.5 604.4,55.5 604.7,56.2 605.1,56.7 605.4,57.4 605.8,58.6 606.1,59.7 606.4,60.3 606.8,61.0 607.1,61.8 607.5,62.6 607.8,63.3 608.2,64.2 608.5,65.2 608.9,65.8 609.2,65.9 609.5,66.3 609.9,67.1 610.2,67.6 610.6,67.6 610.9,67.6 611.3,67.9 611.6,67.9 612.0,67.2 612.3,66.2 612.7,65.3 613.0,64.3 613.3,63.0 613.7,61.4 614.0,59.6 614.4,57.8 614.7,55.9 615.1,53.9 615.4,52.1 615.8,50.3 616.1,48.5 616.4,46.7 616.8,44.9 617.1,43.2 617.5,41.9 617.8,40.8 618.2,39.8 618.5,39.1 618.9,38.8 619.2,38.7 619.5,38.8 619.9,39.4 620.2,40.5 620.6,42.2 620.9,44.1 621.3,46.1 621.6,48.2 622.0,50.2 622.3,52.2 622.6,54.3 623.0,56.5 623.3,58.5 623.7,59.9 624.0,61.0 624.4,61.8 624.7,62.1 625.1,61.9 625.4,61.5 625.7,61.0 626.1,60.0 626.4,58.5 626.8,57.1 627.1,55.9 627.5,54.5 627.8,52.5 628.2,50.4 628.5,48.7 628.8,47.4 629.2,46.1 629.5,44.6 629.9,43.1 630.2,41.8 630.6,41.0 630.9,40.6 631.3,40.4 631.6,40.4 632.0,40.7 632.3,41.5 632.6,42.6 633.0,43.6 633.3,44.8 633.7,46.2 634.0,47.7 634.4,49.1 634.7,50.4 635.1,51.7 635.4,52.8 635.7,53.8 636.1,54.5 636.4,55.0 636.8,54.8 637.1,54.4 637.5,54.2 637.8,54.1 638.2,53.5 638.5,52.5 638.8,51.7 639.2,51.1 639.5,50.2 639.9,49.0 640.2,48.1 640.6,47.6 640.9,47.0 641.3,46.0 641.6,45.2 641.9,44.9 642.3,44.7 642.6,44.2 643.0,43.9 643.3,44.3 643.7,45.1 644.0,45.8 644.4,46.7 644.7,47.7 645.0,48.7 645.4,49.6 645.7,51.0 646.1,52.5 646.4,53.4 646.8,53.9 647.1,54.5 647.5,55.3 647.8,55.7 648.2,55.4 648.5,54.7 648.8,54.1 649.2,53.4 649.5,52.5 649.9,51.8 650.2,51.0 650.6,49.9 650.9,48.4 651.3,47.4 651.6,47.1 651.9,46.8 652.3,46.5 652.6,46.3 653.0,46.5 653.3,46.8 653.7,47.0 654.0,47.3 654.4,47.8 654.7,48.3 655.0,48.8 655.4,49.5 655.7,50.1 656.1,50.6 656.4,50.8 656.8,51.1 657.1,51.5 657.5,51.8 657.8,52.0 658.1,52.2 658.5,52.2 658.8,52.0 659.2,51.9 659.5,52.0 659.9,52.0 660.2,51.9 660.6,51.9 660.9,52.1 661.2,52.1 661.6,51.9 661.9,51.8 662.3,51.9 662.6,51.8 663.0,51.5 663.3,51.4 663.7,51.6 664.0,51.7 664.4,51.4 664.7,51.0" fill="none" stroke="#0000ff" stroke-width="0.8" stroke-linejoin="round"/>
<path d="M499.6,59.7 499.9,59.7 500.3,59.7 500.6,59.7 501.0,59.7 501.3,59.7 501.7,59.7 502.0,59.7 502.4,59.7 502.7,59.7 503.0,59.7 503.4,59.7 503.7,59.7 504.1,59.7 504.4,59.7 504.8,59.7 505.1,59.7 505.5,59.7 505.8,59.7 506.1,59.7 506.5,59.7 506.8,59.7 507.2,59.7 507.5,59.7 507.9,59.7 508.2,59.7 508.6,59.7 508.9,59.7 509.3,59.7 509.6,59.7 509.9,59.7 510.3,59.7 510.6,59.7 511.0,59.7 511.3,59.7 511.7,59.7 512.0,59.7 512.4,59.7 512.7,59.7 513.0,59.7 513.4,59.7 513.7,59.7 514.1,59.7 514.4,59.7 514.8,59.7 515.1,59.7 515.5,59.7 515.8,59.7 516.1,59.7 516.5,59.7 516.8,59.7 517.2,59.7 517.5,59.7 517.9,59.7 518.2,59.7 518.6,59.7 518.9,59.8 519.2,59.8 519.6,59.8 519.9,59.8 520.3,59.9 520.6,59.9 521.0,59.9 521.3,59.9 521.7,60.0 522.0,60.0 522.3,60.0 522.7,60.1 523.0,60.1 523.4,60.1 523.7,60.2 524.1,60.2 524.4,60.2 524.8,60.3 525.1,60.3 525.4,60.3 525.8,60.4 526.1,60.4 526.5,60.4 526.8,60.5 527.2,60.5 527.5,60.5 527.9,60.6 528.2,60.6 528.6,60.6 528.9,60.7 529.2,60.7 529.6,60.7 529.9,60.8 530.3,60.8 530.6,60.9 531.0,60.9 531.3,60.9 531.7,61.0 532.0,61.0 532.3,61.1 532.7,61.1 533.0,61.1 533.4,61.2 533.7,61.2 534.1,61.3 534.4,61.3 534.8,61.4 535.1,61.4 535.4,61.4 535.8,61.5 536.1,61.5 536.5,61.6 536.8,61.6 537.2,61.6 537.5,61.7 537.9,61.7 538.2,61.8 538.5,61.8 538.9,61.8 539.2,61.9 539.6,61.9 539.9,62.0 540.3,62.0 540.6,62.0 541.0,62.1 541.3,62.1 541.6,62.2 542.0,62.2 542.3,62.3 542.7,62.3 543.0,62.3 543.4,62.4 543.7,62.4 544.1,62.5 544.4,62.5 544.8,62.6 545.1,62.6 545.4,62.7 545.8,62.7 546.1,62.8 546.5,62.8 546.8,62.9 547.2,62.9 547.5,62.9 547.9,63.0 548.2,63.0 548.5,63.1 548.9,63.1 549.2,63.1 549.6,63.2 549.9,63.2 550.3,63.2 550.6,63.2 551.0,63.3 551.3,63.3 551.6,63.2 552.0,63.3 552.3,63.5 552.7,63.3 553.0,62.9 553.4,63.0 553.7,63.4 554.1,63.5 554.4,62.9 554.7,61.9 555.1,61.2 555.4,60.9 555.8,60.9 556.1,61.1 556.5,61.0 556.8,60.1 557.2,58.9 557.5,58.3 557.8,58.4 558.2,58.2 558.5,57.6 558.9,57.2 559.2,57.0 559.6,56.7 559.9,56.0 560.3,55.0 560.6,54.4 561.0,54.2 561.3,54.4 561.6,54.8 562.0,54.9 562.3,54.3 562.7,53.6 563.0,53.3 563.4,53.4 563.7,53.8 564.1,54.2 564.4,54.3 564.7,53.9 565.1,53.3 565.4,53.1 565.8,53.5 566.1,53.8 566.5,53.5 566.8,52.8 567.2,52.5 567.5,52.2 567.8,51.7 568.2,51.2 568.5,51.2 568.9,51.3 569.2,50.9 569.6,50.9 569.9,51.9 570.3,53.6 570.6,54.6 570.9,54.8 571.3,54.6 571.6,54.5 572.0,53.7 572.3,52.4 572.7,51.2 573.0,50.2 573.4,48.7 573.7,47.0 574.0,45.8 574.4,45.1 574.7,44.1 575.1,43.0 575.4,42.9 575.8,43.3 576.1,43.2 576.5,42.8 576.8,43.5 577.1,45.2 577.5,45.9 577.8,45.6 578.2,45.6 578.5,46.4 578.9,47.3 579.2,48.1 579.6,49.6 579.9,50.8 580.3,50.6 580.6,50.1 580.9,51.6 581.3,54.6 581.6,55.9 582.0,55.1 582.3,55.3 582.7,57.6 583.0,59.8 583.4,60.4 583.7,60.9 584.0,62.3 584.4,63.8 584.7,65.0 585.1,66.8 585.4,69.1 585.8,70.8 586.1,71.7 586.5,73.1 586.8,75.4 587.1,77.1 587.5,77.7 587.8,78.6 588.2,80.6 588.5,82.3 588.9,82.6 589.2,82.4 589.6,82.9 589.9,83.4 590.2,83.3 590.6,82.7 590.9,82.0 591.3,81.3 591.6,80.4 592.0,79.1 592.3,77.7 592.7,76.0 593.0,74.3 593.3,72.8 593.7,71.3 594.0,69.5 594.4,67.4 594.7,65.3 595.1,63.5 595.4,61.6 595.8,59.8 596.1,58.1 596.5,56.4 596.8,54.6 597.1,52.9 597.5,51.6 597.8,50.6 598.2,49.6 598.5,48.5 598.9,47.5 599.2,46.9 599.6,46.7 599.9,47.0 600.2,47.4 600.6,47.6 600.9,47.8 601.3,48.3 601.6,49.3 602.0,50.3 602.3,50.9 602.7,51.6 603.0,52.5 603.3,53.1 603.7,53.5 604.0,54.3 604.4,55.3 604.7,56.1 605.1,56.5 605.4,57.2 605.8,58.4 606.1,59.5 606.4,60.2 606.8,60.8 607.1,61.6 607.5,62.4 607.8,63.1 608.2,64.0 608.5,65.1 608.9,65.6 609.2,65.7 609.5,66.1 609.9,66.9 610.2,67.4 610.6,67.4 610.9,67.4 611.3,67.7 611.6,67.8 612.0,67.1 612.3,66.0 612.7,65.1 613.0,64.2 613.3,62.8 613.7,61.2 614.0,59.4 614.4,57.6 614.7,55.7 615.1,53.7 615.4,51.9 615.8,50.1 616.1,48.4 616.4,46.5 616.8,44.7 617.1,43.1 617.5,41.7 617.8,40.6 618.2,39.6 618.5,38.9 618.9,38.6 619.2,38.5 619.5,38.6 619.9,39.2 620.2,40.4 620.6,42.0 620.9,44.0 621.3,46.0 621.6,48.0 622.0,50.0 622.3,52.0 622.6,54.1 623.0,56.3 623.3,58.3 623.7,59.7 624.0,60.8 624.4,61.6 624.7,61.9 625.1,61.7 625.4,61.4 625.7,60.8 626.1,59.8 626.4,58.3 626.8,56.9 627.1,55.7 627.5,54.4 627.8,52.4 628.2,50.2 628.5,48.5 628.8,47.3 629.2,45.9 629.5,44.4 629.9,42.9 630.2,41.7 630.6,40.9 630.9,40.4 631.3,40.2 631.6,40.2 632.0,40.6 632.3,41.3 632.6,42.4 633.0,43.4 633.3,44.6 633.7,46.0 634.0,47.5 634.4,48.9 634.7,50.3 635.1,51.5 635.4,52.7 635.7,53.6 636.1,54.4 636.4,54.8 636.8,54.7 637.1,54.2 637.5,54.0 637.8,53.9 638.2,53.3 638.5,52.3 638.8,51.5 639.2,51.0 639.5,50.1 639.9,48.8 640.2,47.9 640.6,47.5 640.9,46.8 641.3,45.8 641.6,45.0 641.9,44.8 642.3,44.5 642.6,44.0 643.0,43.7 643.3,44.2 643.7,44.9 644.0,45.6 644.4,46.5 644.7,47.6 645.0,48.5 645.4,49.4 645.7,50.8 646.1,52.3 646.4,53.3 646.8,53.7 647.1,54.3 647.5,55.2 647.8,55.6 648.2,55.2 648.5,54.5 648.8,54.0 649.2,53.2 649.5,52.3 649.9,51.6 650.2,50.8 650.6,49.7 650.9,48.2 651.3,47.2 651.6,46.9 651.9,46.7 652.3,46.3 652.6,46.1 653.0,46.4 653.3,46.6 653.7,46.8 654.0,47.1 654.4,47.6 654.7,48.1 655.0,48.7 655.4,49.3 655.7,49.9 656.1,50.4 656.4,50.7 656.8,51.0 657.1,51.3 657.5,51.6 657.8,51.9 658.1,52.0 658.5,52.0 658.8,51.8 659.2,51.7 659.5,51.8 659.9,51.8 660.2,51.7 660.6,51.7 660.9,51.9 661.2,51.9 661.6,51.7 661.9,51.6 662.3,51.7 662.6,51.6 663.0,51.3 663.3,51.3 663.7,51.4 664.0,51.5 664.4,51.2 664.7,50.9" fill="none" stroke="#0000ff" stroke-width="0.8" stroke-linejoin="round" stroke-dasharray="2.2,1.2"/>
<path d="M499.6,59.9 499.9,59.8 500.3,59.8 500.6,59.8 501.0,59.8 501.3,59.8 501.7,59.8 502.0,59.8 502.4,59.8 502.7,59.7 503.0,59.7 503.4,59.7 503.7,59.7 504.1,59.7 504.4,59.7 504.8,59.7 505.1,59.7 505.5,59.7 505.8,59.7 506.1,59.7 506.5,59.6 506.8,59.6 507.2,59.6 507.5,59.6 507.9,59.6 508.2,59.6 508.6,59.6 508.9,59.6 509.3,59.6 509.6,59.6 509.9,59.6 510.3,59.6 510.6,59.6 511.0,59.5 511.3,59.5 511.7,59.5 512.0,59.5 512.4,59.5 512.7,59.5 513.0,59.5 513.4,59.5 513.7,59.5 514.1,59.5 514.4,59.5 514.8,59.5 515.1,59.5 515.5,59.5 515.8,59.5 516.1,59.5 516.5,59.5 516.8,59.4 517.2,59.4 517.5,59.4 517.9,59.4 518.2,59.4 518.6,59.4 518.9,59.4 519.2,59.4 519.6,59.4 519.9,59.4 520.3,59.4 520.6,59.4 521.0,59.4 521.3,59.4 521.7,59.4 522.0,59.4 522.3,59.4 522.7,59.4 523.0,59.4 523.4,59.4 523.7,59.4 524.1,59.4 524.4,59.4 524.8,59.4 525.1,59.4 525.4,59.4 525.8,59.4 526.1,59.4 526.5,59.4 526.8,59.4 527.2,59.4 527.5,59.3 527.9,59.3 528.2,59.3 528.6,59.3 528.9,59.3 529.2,59.3 529.6,59.3 529.9,59.3 530.3,59.3 530.6,59.3 531.0,59.3 531.3,59.3 531.7,59.3 532.0,59.3 532.3,59.3 532.7,59.3 533.0,59.3 533.4,59.3 533.7,59.3 534.1,59.3 534.4,59.3 534.8,59.3 535.1,59.3 535.4,59.3 535.8,59.3 536.1,59.3 536.5,59.3 536.8,59.3 537.2,59.3 537.5,59.3 537.9,59.3 538.2,59.3 538.5,59.3 538.9,59.3 539.2,59.3 539.6,59.3 539.9,59.3 540.3,59.3 540.6,59.3 541.0,59.3 541.3,59.3 541.6,59.3 542.0,59.3 542.3,59.3 542.7,59.3 543.0,59.3 543.4,59.3 543.7,59.3 544.1,59.3 544.4,59.3 544.8,59.3 545.1,59.3 545.4,59.3 545.8,59.3 546.1,59.3 546.5,59.3 546.8,59.3 547.2,59.3 547.5,59.3 547.9,59.3 548.2,59.4 548.5,59.4 548.9,59.4 549.2,59.4 549.6,59.4 549.9,59.4 550.3,59.4 550.6,59.4 551.0,59.4 551.3,59.4 551.6,59.4 552.0,59.5 552.3,59.6 552.7,59.6 553.0,59.3 553.4,59.4 553.7,59.9 554.1,59.9 554.4,59.4 554.7,59.3 555.1,59.9 555.4,59.9 555.8,59.4 556.1,59.5 556.5,60.0 556.8,59.8 557.2,59.7 557.5,60.3 557.8,60.3 558.2,59.3 558.5,59.2 558.9,60.0 559.2,60.5 559.6,60.5 559.9,60.4 560.3,59.8 560.6,59.6 561.0,60.2 561.3,60.3 561.6,60.0 562.0,60.5 562.3,60.8 562.7,60.1 563.0,59.8 563.4,60.6 563.7,60.8 564.1,60.1 564.4,60.1 564.7,60.5 565.1,60.6 565.4,60.3 565.8,60.3 566.1,60.4 566.5,60.4 566.8,60.1 567.2,60.1 567.5,60.3 567.8,60.1 568.2,59.6 568.5,59.8 568.9,60.0 569.2,59.4 569.6,59.4 569.9,59.9 570.3,59.5 570.6,58.8 570.9,59.3 571.3,59.5 571.6,58.8 572.0,59.0 572.3,59.8 572.7,59.3 573.0,58.7 573.4,59.3 573.7,59.7 574.0,59.5 574.4,60.0 574.7,60.5 575.1,60.0 575.4,59.8 575.8,60.7 576.1,61.2 576.5,61.0 576.8,61.4 577.1,61.7 577.5,61.0 577.8,60.8 578.2,61.9 578.5,62.3 578.9,61.2 579.2,61.2 579.6,62.1 579.9,61.7 580.3,60.5 580.6,60.5 580.9,60.9 581.3,60.5 581.6,60.1 582.0,60.3 582.3,59.9 582.7,59.3 583.0,59.6 583.4,59.9 583.7,59.5 584.0,59.1 584.4,59.3 584.7,59.5 585.1,59.6 585.4,59.9 585.8,59.9 586.1,59.4 586.5,59.2 586.8,59.6 587.1,59.9 587.5,59.7 587.8,59.6 588.2,60.0 588.5,60.1 588.9,59.9 589.2,59.9 589.6,59.9 589.9,59.7 590.2,59.9 590.6,60.4 590.9,60.3 591.3,60.1 591.6,60.1 592.0,60.2 592.3,60.0 592.7,60.3 593.0,60.7 593.3,60.5 593.7,60.1 594.0,60.3 594.4,60.7 594.7,60.6 595.1,60.5 595.4,60.7 595.8,60.8 596.1,60.6 596.5,60.6 596.8,60.8 597.1,61.0 597.5,61.1 597.8,60.9 598.2,60.7 598.5,60.9 598.9,61.0 599.2,61.0 599.6,61.0 599.9,61.2 600.2,61.1 600.6,60.8 600.9,60.7 601.3,60.9 601.6,60.9 602.0,60.5 602.3,60.2 602.7,60.4 603.0,60.4 603.3,59.8 603.7,59.3 604.0,59.5 604.4,59.5 604.7,59.0 605.1,58.7 605.4,58.7 605.8,58.6 606.1,58.3 606.4,58.1 606.8,57.9 607.1,57.9 607.5,57.8 607.8,57.7 608.2,57.8 608.5,58.0 608.9,57.9 609.2,57.5 609.5,57.6 609.9,58.0 610.2,58.1 610.6,57.9 610.9,58.1 611.3,58.5 611.6,58.4 612.0,58.2 612.3,58.6 612.7,58.9 613.0,58.6 613.3,58.5 613.7,58.9 614.0,59.1 614.4,59.0 614.7,59.1 615.1,59.0 615.4,58.7 615.8,58.6 616.1,58.7 616.4,58.5 616.8,58.3 617.1,58.1 617.5,57.8 617.8,57.3 618.2,57.1 618.5,57.0 618.9,56.7 619.2,56.4 619.5,56.2 619.9,55.9 620.2,55.6 620.6,55.6 620.9,55.6 621.3,55.4 621.6,55.2 622.0,55.6 622.3,56.2 622.6,56.6 623.0,57.0 623.3,57.7 623.7,58.3 624.0,58.2 624.4,58.1 624.7,58.3 625.1,58.1 625.4,57.6 625.7,57.7 626.1,58.1 626.4,57.6 626.8,57.0 627.1,56.9 627.5,56.8 627.8,56.4 628.2,56.2 628.5,56.1 628.8,56.0 629.2,55.7 629.5,55.3 629.9,54.9 630.2,54.9 630.6,55.2 630.9,55.2 631.3,54.8 631.6,54.7 632.0,55.0 632.3,55.3 632.6,55.4 633.0,55.8 633.3,56.3 633.7,56.6 634.0,56.8 634.4,57.3 634.7,57.9 635.1,58.0 635.4,57.8 635.7,58.1 636.1,58.5 636.4,58.3 636.8,57.9 637.1,57.8 637.5,57.9 637.8,57.7 638.2,57.2 638.5,56.9 638.8,56.7 639.2,56.4 639.5,56.3 639.9,56.2 640.2,55.9 640.6,55.7 640.9,55.5 641.3,55.2 641.6,55.3 641.9,55.7 642.3,55.8 642.6,55.6 643.0,55.7 643.3,56.4 643.7,56.8 644.0,56.7 644.4,57.0 644.7,57.3 645.0,57.4 645.4,57.5 645.7,57.9 646.1,57.9 646.4,57.7 646.8,57.6 647.1,57.6 647.5,57.6 647.8,57.6 648.2,57.5 648.5,57.4 648.8,57.4 649.2,57.5 649.5,57.3 649.9,57.1 650.2,57.1 650.6,57.1 650.9,57.1 651.3,56.9 651.6,56.8 651.9,56.9 652.3,57.0 652.6,56.9 653.0,56.7 653.3,56.7 653.7,56.6 654.0,56.5 654.4,56.6 654.7,56.8 655.0,56.7 655.4,56.6 655.7,56.6 656.1,56.6 656.4,56.6 656.8,56.7 657.1,56.7 657.5,56.7 657.8,56.8 658.1,56.7 658.5,56.5 658.8,56.5 659.2,56.8 659.5,56.9 659.9,56.8 660.2,56.8 660.6,56.7 660.9,56.6 661.2,56.8 661.6,56.9 661.9,56.9 662.3,57.0 662.6,57.0 663.0,56.8 663.3,56.7 663.7,57.0 664.0,57.3 664.4,57.2 664.7,57.0" fill="none" stroke="#ff0000" stroke-width="0.8" stroke-linejoin="round"/>
<path d="M499.6,59.7 499.9,59.7 500.3,59.6 500.6,59.6 501.0,59.6 501.3,59.6 501.7,59.6 502.0,59.6 502.4,59.6 502.7,59.6 503.0,59.6 503.4,59.6 503.7,59.5 504.1,59.5 504.4,59.5 504.8,59.5 505.1,59.5 505.5,59.5 505.8,59.5 506.1,59.5 506.5,59.5 506.8,59.5 507.2,59.4 507.5,59.4 507.9,59.4 508.2,59.4 508.6,59.4 508.9,59.4 509.3,59.4 509.6,59.4 509.9,59.4 510.3,59.4 510.6,59.4 511.0,59.4 511.3,59.4 511.7,59.4 512.0,59.3 512.4,59.3 512.7,59.3 513.0,59.3 513.4,59.3 513.7,59.3 514.1,59.3 514.4,59.3 514.8,59.3 515.1,59.3 515.5,59.3 515.8,59.3 516.1,59.3 516.5,59.3 516.8,59.3 517.2,59.3 517.5,59.3 517.9,59.3 518.2,59.3 518.6,59.2 518.9,59.2 519.2,59.2 519.6,59.2 519.9,59.2 520.3,59.2 520.6,59.2 521.0,59.2 521.3,59.2 521.7,59.2 522.0,59.2 522.3,59.2 522.7,59.2 523.0,59.2 523.4,59.2 523.7,59.2 524.1,59.2 524.4,59.2 524.8,59.2 525.1,59.2 525.4,59.2 525.8,59.2 526.1,59.2 526.5,59.2 526.8,59.2 527.2,59.2 527.5,59.2 527.9,59.2 528.2,59.2 528.6,59.2 528.9,59.2 529.2,59.2 529.6,59.2 529.9,59.2 530.3,59.2 530.6,59.2 531.0,59.2 531.3,59.2 531.7,59.2 532.0,59.2 532.3,59.2 532.7,59.2 533.0,59.1 533.4,59.1 533.7,59.1 534.1,59.1 534.4,59.1 534.8,59.1 535.1,59.1 535.4,59.1 535.8,59.1 536.1,59.1 536.5,59.1 536.8,59.1 537.2,59.1 537.5,59.1 537.9,59.1 538.2,59.1 538.5,59.1 538.9,59.1 539.2,59.1 539.6,59.1 539.9,59.1 540.3,59.1 540.6,59.1 541.0,59.1 541.3,59.1 541.6,59.1 542.0,59.1 542.3,59.1 542.7,59.1 543.0,59.1 543.4,59.1 543.7,59.1 544.1,59.1 544.4,59.1 544.8,59.1 545.1,59.1 545.4,59.1 545.8,59.1 546.1,59.1 546.5,59.1 546.8,59.1 547.2,59.2 547.5,59.2 547.9,59.2 548.2,59.2 548.5,59.2 548.9,59.2 549.2,59.2 549.6,59.2 549.9,59.2 550.3,59.2 550.6,59.3 551.0,59.3 551.3,59.3 551.6,59.3 552.0,59.3 552.3,59.4 552.7,59.4 553.0,59.1 553.4,59.2 553.7,59.7 554.1,59.7 554.4,59.2 554.7,59.2 555.1,59.7 555.4,59.7 555.8,59.2 556.1,59.4 556.5,59.8 556.8,59.7 557.2,59.6 557.5,60.1 557.8,60.1 558.2,59.1 558.5,59.0 558.9,59.9 559.2,60.3 559.6,60.4 559.9,60.2 560.3,59.6 560.6,59.5 561.0,60.1 561.3,60.1 561.6,59.8 562.0,60.3 562.3,60.7 562.7,59.9 563.0,59.6 563.4,60.4 563.7,60.6 564.1,60.0 564.4,59.9 564.7,60.3 565.1,60.4 565.4,60.1 565.8,60.1 566.1,60.2 566.5,60.2 566.8,60.0 567.2,59.9 567.5,60.2 567.8,59.9 568.2,59.4 568.5,59.6 568.9,59.8 569.2,59.3 569.6,59.2 569.9,59.7 570.3,59.3 570.6,58.6 570.9,59.1 571.3,59.3 571.6,58.6 572.0,58.8 572.3,59.6 572.7,59.2 573.0,58.5 573.4,59.1 573.7,59.6 574.0,59.3 574.4,59.8 574.7,60.3 575.1,59.8 575.4,59.6 575.8,60.5 576.1,61.0 576.5,60.8 576.8,61.2 577.1,61.5 577.5,60.8 577.8,60.6 578.2,61.7 578.5,62.1 578.9,61.0 579.2,61.0 579.6,61.9 579.9,61.6 580.3,60.4 580.6,60.3 580.9,60.7 581.3,60.3 581.6,60.0 582.0,60.1 582.3,59.8 582.7,59.2 583.0,59.4 583.4,59.8 583.7,59.4 584.0,58.9 584.4,59.1 584.7,59.3 585.1,59.5 585.4,59.7 585.8,59.7 586.1,59.2 586.5,59.0 586.8,59.5 587.1,59.8 587.5,59.5 587.8,59.4 588.2,59.8 588.5,59.9 588.9,59.7 589.2,59.7 589.6,59.8 589.9,59.6 590.2,59.7 590.6,60.2 590.9,60.2 591.3,59.9 591.6,60.0 592.0,60.0 592.3,59.8 592.7,60.1 593.0,60.5 593.3,60.3 593.7,59.9 594.0,60.2 594.4,60.5 594.7,60.4 595.1,60.3 595.4,60.5 595.8,60.6 596.1,60.5 596.5,60.4 596.8,60.6 597.1,60.8 597.5,60.9 597.8,60.7 598.2,60.5 598.5,60.7 598.9,60.9 599.2,60.8 599.6,60.8 599.9,61.0 600.2,60.9 600.6,60.6 600.9,60.6 601.3,60.7 601.6,60.7 602.0,60.3 602.3,60.0 602.7,60.2 603.0,60.2 603.3,59.6 603.7,59.1 604.0,59.3 604.4,59.3 604.7,58.8 605.1,58.5 605.4,58.5 605.8,58.4 606.1,58.1 606.4,57.9 606.8,57.8 607.1,57.7 607.5,57.6 607.8,57.5 608.2,57.6 608.5,57.8 608.9,57.7 609.2,57.3 609.5,57.4 609.9,57.8 610.2,57.9 610.6,57.8 610.9,58.0 611.3,58.3 611.6,58.2 612.0,58.0 612.3,58.4 612.7,58.7 613.0,58.4 613.3,58.3 613.7,58.7 614.0,58.9 614.4,58.8 614.7,58.9 615.1,58.9 615.4,58.5 615.8,58.4 616.1,58.5 616.4,58.4 616.8,58.1 617.1,58.0 617.5,57.7 617.8,57.1 618.2,56.9 618.5,56.8 618.9,56.5 619.2,56.2 619.5,56.0 619.9,55.8 620.2,55.5 620.6,55.4 620.9,55.4 621.3,55.2 621.6,55.1 622.0,55.4 622.3,56.1 622.6,56.4 623.0,56.8 623.3,57.5 623.7,58.1 624.0,58.0 624.4,57.9 624.7,58.1 625.1,58.0 625.4,57.4 625.7,57.6 626.1,57.9 626.4,57.4 626.8,56.8 627.1,56.7 627.5,56.6 627.8,56.3 628.2,56.0 628.5,56.0 628.8,55.8 629.2,55.5 629.5,55.1 629.9,54.7 630.2,54.7 630.6,55.1 630.9,55.0 631.3,54.6 631.6,54.5 632.0,54.9 632.3,55.1 632.6,55.3 633.0,55.6 633.3,56.1 633.7,56.4 634.0,56.6 634.4,57.1 634.7,57.8 635.1,57.8 635.4,57.6 635.7,57.9 636.1,58.3 636.4,58.2 636.8,57.7 637.1,57.6 637.5,57.8 637.8,57.5 638.2,57.1 638.5,56.8 638.8,56.5 639.2,56.2 639.5,56.1 639.9,56.0 640.2,55.8 640.6,55.5 640.9,55.3 641.3,55.0 641.6,55.1 641.9,55.5 642.3,55.6 642.6,55.4 643.0,55.6 643.3,56.2 643.7,56.6 644.0,56.6 644.4,56.8 644.7,57.2 645.0,57.2 645.4,57.3 645.7,57.7 646.1,57.7 646.4,57.5 646.8,57.4 647.1,57.4 647.5,57.4 647.8,57.5 648.2,57.3 648.5,57.2 648.8,57.2 649.2,57.3 649.5,57.2 649.9,57.0 650.2,56.9 650.6,57.0 650.9,56.9 651.3,56.8 651.6,56.6 651.9,56.7 652.3,56.8 652.6,56.7 653.0,56.5 653.3,56.5 653.7,56.5 654.0,56.4 654.4,56.5 654.7,56.6 655.0,56.6 655.4,56.5 655.7,56.4 656.1,56.4 656.4,56.4 656.8,56.5 657.1,56.5 657.5,56.5 657.8,56.6 658.1,56.6 658.5,56.4 658.8,56.4 659.2,56.6 659.5,56.7 659.9,56.7 660.2,56.6 660.6,56.5 660.9,56.4 661.2,56.6 661.6,56.7 661.9,56.7 662.3,56.8 662.6,56.9 663.0,56.7 663.3,56.5 663.7,56.8 664.0,57.2 664.4,57.1 664.7,56.8" fill="none" stroke="#ff0000" stroke-width="0.8" stroke-linejoin="round" stroke-dasharray="2.2,1.2"/>
</g>
<rect x="491.5" y="6.5" width="181.4" height="106.7" fill="none" stroke="#1a1a1a" stroke-width="1.05"/>
<line x1="487.6" y1="134.2" x2="491.5" y2="134.2" stroke="#000" stroke-width="1.1"/>
<line x1="491.5" y1="160.88" x2="672.9" y2="160.88" stroke="#b0b0b0" stroke-width="1.1"/>
<line x1="487.6" y1="160.88" x2="491.5" y2="160.88" stroke="#000" stroke-width="1.1"/>
<line x1="491.5" y1="187.55" x2="672.9" y2="187.55" stroke="#b0b0b0" stroke-width="1.1"/>
<line x1="487.6" y1="187.55" x2="491.5" y2="187.55" stroke="#000" stroke-width="1.1"/>
<line x1="491.5" y1="214.22" x2="672.9" y2="214.22" stroke="#b0b0b0" stroke-width="1.1"/>
<line x1="487.6" y1="214.22" x2="491.5" y2="214.22" stroke="#000" stroke-width="1.1"/>
<line x1="487.6" y1="240.9" x2="491.5" y2="240.9" stroke="#000" stroke-width="1.1"/>
<line x1="499.6" y1="240.9" x2="499.6" y2="244.5" stroke="#000" stroke-width="1.1"/>
<text x="499.6" y="256.6" text-anchor="middle" font-size="11.5" textLength="7" lengthAdjust="spacingAndGlyphs">0</text>
<line x1="565.48" y1="240.9" x2="565.48" y2="244.5" stroke="#000" stroke-width="1.1"/>
<text x="565.48" y="256.6" text-anchor="middle" font-size="11.5" textLength="14" lengthAdjust="spacingAndGlyphs">20</text>
<line x1="631.36" y1="240.9" x2="631.36" y2="244.5" stroke="#000" stroke-width="1.1"/>
<text x="631.36" y="256.6" text-anchor="middle" font-size="11.5" textLength="14" lengthAdjust="spacingAndGlyphs">40</text>
<g clip-path="url(#clip21)">
<path d="M499.6,187.6 500.1,187.6 500.6,187.6 501.1,187.6 501.6,187.6 502.1,187.6 502.6,187.6 503.1,187.6 503.6,187.6 504.0,187.6 504.5,187.6 505.0,187.6 505.5,187.6 506.0,187.6 506.5,187.6 507.0,187.6 507.5,187.6 508.0,187.6 508.5,187.6 509.0,187.6 509.5,187.6 509.6,187.6 509.7,187.6 509.8,187.6 509.9,187.6 510.0,187.6 510.1,187.6 510.2,187.6 510.3,187.6 510.4,187.6 510.5,187.6 510.6,187.6 510.7,187.6 510.8,187.6 510.9,187.6 511.0,187.6 511.1,187.6 511.2,187.6 511.3,187.5 511.4,187.5 511.5,187.5 511.6,187.5 511.7,187.6 511.8,187.6 511.9,187.6 512.0,187.5 512.1,187.5 512.2,187.5 512.2,187.6 512.3,187.6 512.4,187.6 512.5,187.6 512.6,187.5 512.7,187.5 512.8,187.5 512.9,187.6 513.0,187.6 513.1,187.6 513.2,187.5 513.3,187.4 513.4,187.4 513.5,187.6 513.6,187.8 513.7,187.9 513.8,187.8 513.9,187.5 514.0,187.2 514.1,187.0 514.2,187.1 514.3,187.4 514.4,187.7 514.5,187.9 514.6,187.9 514.7,187.8 514.8,187.7 514.9,187.6 515.0,187.6 515.1,187.4 515.2,187.2 515.3,187.0 515.4,187.0 515.5,187.3 515.6,187.9 515.7,188.3 515.8,188.5 515.9,188.2 516.0,187.6 516.1,187.0 516.2,186.8 516.3,186.9 516.4,187.3 516.5,187.7 516.6,187.8 516.7,187.8 516.8,187.7 516.9,187.6 517.0,187.7 517.1,187.8 517.2,187.8 517.3,187.7 517.4,187.4 517.5,187.1 517.6,186.9 517.7,187.1 517.8,187.5 517.9,187.9 518.0,188.1 518.1,188.1 518.2,187.9 518.3,187.6 518.4,187.3 518.5,187.1 518.6,187.2 518.7,187.4 518.8,187.6 518.9,187.7 519.0,187.7 519.1,187.5 519.2,187.3 519.3,187.4 519.4,187.6 519.5,188.0 519.6,188.1 519.7,187.9 519.8,187.5 519.9,187.0 520.0,186.8 520.1,187.0 520.2,187.5 520.3,188.1 520.4,188.3 520.5,188.1 520.5,187.6 520.6,187.1 520.7,186.8 520.8,187.1 520.9,187.6 521.0,188.1 521.1,188.3 521.2,188.0 521.3,187.3 521.4,186.7 521.5,186.6 521.6,187.1 521.7,187.9 521.8,188.4 521.9,188.4 522.0,187.9 522.1,187.2 522.2,186.9 522.3,187.1 522.4,187.7 522.5,188.1 522.6,187.9 522.7,187.2 522.8,186.6 522.9,186.7 523.0,187.4 523.1,188.5 523.2,189.0 523.3,188.7 523.4,187.6 523.5,186.5 523.6,186.0 523.7,186.5 523.8,187.4 523.9,188.3 524.0,188.6 524.1,188.4 524.2,187.9 524.3,187.5 524.4,187.2 524.5,187.0 524.6,186.8 524.7,186.9 524.8,187.3 524.9,188.0 525.0,188.6 525.1,188.8 525.2,188.2 525.3,187.3 525.4,186.4 525.5,186.2 525.6,186.6 525.7,187.4 525.8,188.2 525.9,188.6 526.0,188.6 526.1,188.3 526.2,187.9 526.3,187.4 526.4,186.8 526.5,186.3 526.6,186.2 526.7,186.6 526.8,187.6 526.9,188.7 527.0,189.4 527.1,189.3 527.2,188.4 527.3,187.0 527.4,185.9 527.5,185.7 527.6,186.4 527.7,187.6 527.8,188.6 527.9,188.9 528.0,188.3 528.1,187.3 528.2,186.7 528.3,186.8 528.4,187.7 528.5,188.7 528.6,188.9 528.7,188.1 528.8,186.7 528.9,185.6 528.9,185.6 529.0,186.7 529.1,188.3 529.2,189.4 529.3,189.4 529.4,188.5 529.5,187.4 529.6,186.7 529.7,186.8 529.8,187.2 529.9,187.4 530.0,187.3 530.1,187.0 530.2,186.9 530.3,187.2 530.4,187.9 530.5,188.7 530.6,189.1 530.7,189.1 530.8,188.3 530.9,187.0 531.0,185.7 531.1,185.1 531.2,185.5 531.3,187.1 531.4,189.0 531.5,190.1 531.6,189.8 531.7,188.2 531.8,186.4 531.9,185.7 532.0,186.4 532.1,187.9 532.2,188.8 532.3,188.5 532.4,187.1 532.5,185.9 532.6,186.0 532.7,187.3 532.8,189.0 532.9,189.8 533.0,188.9 533.1,187.2 533.2,185.9 533.3,185.9 533.4,187.1 533.5,188.4 533.6,188.8 533.7,188.2 533.8,187.1 533.9,186.4 534.0,186.6 534.1,187.4 534.2,188.3 534.3,188.5 534.4,188.3 534.5,187.8 534.6,187.5 534.7,187.3 534.8,187.2 534.9,187.1 535.0,186.8 535.1,186.8 535.2,187.1 535.3,187.8 535.4,188.4 535.5,188.8 535.6,188.6 535.7,188.0 535.8,187.1 535.9,186.4 536.0,186.3 536.1,186.9 536.2,187.9 536.3,188.7 536.4,188.7 536.5,187.7 536.6,186.4 536.7,185.8 536.8,186.5 536.9,188.1 537.0,189.7 537.1,190.0 537.2,188.8 537.3,186.8 537.3,185.3 537.4,185.1 537.5,186.2 537.6,187.6 537.7,188.4 537.8,188.5 537.9,188.4 538.0,188.4 538.1,188.7 538.2,188.7 538.3,187.8 538.4,186.3 538.5,185.1 538.6,185.1 538.7,186.5 538.8,188.5 538.9,189.8 539.0,189.7 539.1,188.4 539.2,187.0 539.3,186.4 539.4,186.8 539.5,187.6 539.6,188.0 539.7,187.7 539.8,187.2 539.9,186.9 540.0,187.1 540.1,187.7 540.2,188.1 540.3,188.0 540.4,187.6 540.5,187.4 540.6,187.5 540.7,187.9 540.8,188.2 540.9,188.1 541.0,187.5 541.1,186.8 541.2,186.4 541.3,186.6 541.4,187.2 541.5,187.9 541.6,188.4 541.7,188.4 541.8,188.0 541.9,187.5 542.0,187.3 542.1,187.6 542.2,188.0 542.3,188.1 542.4,187.5 542.5,186.5 542.6,185.8 542.7,186.0 542.8,187.2 542.9,188.8 543.0,189.7 543.1,189.4 543.2,188.2 543.3,187.0 543.4,186.7 543.5,187.2 543.6,187.8 543.7,187.5 543.8,186.3 543.9,185.3 544.0,185.5 544.1,187.4 544.2,190.0 544.3,191.5 544.4,190.9 544.5,188.4 544.6,185.7 544.7,184.3 544.8,184.8 544.9,186.5 545.0,187.9 545.1,188.3 545.2,187.9 545.3,187.6 545.4,188.2 545.5,189.1 545.6,189.6 545.7,188.9 545.7,187.2 545.8,185.6 545.9,184.9 546.0,185.5 546.1,186.9 546.2,188.1 546.3,188.7 546.4,188.7 546.5,188.6 546.6,188.5 546.7,188.3 546.8,187.8 546.9,187.0 547.0,186.2 547.1,185.9 547.2,186.4 547.3,187.4 547.4,188.4 547.5,188.7 547.6,188.4 547.7,187.6 547.8,187.0 547.9,186.8 548.0,187.3 548.1,188.1 548.2,188.6 548.3,188.5 548.4,187.6 548.5,186.2 548.6,185.2 548.7,185.3 548.8,186.9 548.9,189.1 549.0,190.7 549.1,190.8 549.2,189.2 549.3,187.0 549.4,185.5 549.5,185.4 549.6,186.4 549.7,187.5 549.8,187.8 549.9,187.3 550.0,186.7 550.1,186.9 550.2,188.0 550.3,189.3 550.4,189.6 550.5,188.6 550.6,186.9 550.7,185.7 550.8,185.7 550.9,186.9 551.0,188.5 551.1,189.4 551.2,189.1 551.3,188.1 551.4,187.3 551.5,187.2 551.6,187.9 551.7,188.8 551.8,189.2 551.9,189.1 552.0,188.5 552.1,188.1 552.2,188.4 552.3,189.3 552.4,190.7 552.5,192.0 552.6,192.6 552.7,192.6 552.8,192.2 552.9,191.8 553.0,191.8 553.1,192.2 553.2,192.5 553.3,192.6 553.4,192.4 553.5,192.3 553.6,192.7 553.7,193.7 553.8,194.6 553.9,194.8 554.0,194.0 554.0,192.6 554.1,191.4 554.2,191.2 554.3,191.8 554.4,192.6 554.5,192.5 554.6,191.3 554.7,189.5 554.8,188.1 554.9,187.7 555.0,188.4 555.1,189.6 555.2,190.5 555.3,190.9 555.4,190.9 555.5,190.9 555.6,190.7 555.7,190.3 555.8,189.2 555.9,187.9 556.0,186.8 556.1,186.4 556.2,186.7 556.3,187.2 556.4,187.2 556.5,186.4 556.6,184.8 556.7,183.2 556.8,182.2 556.9,182.0 557.0,182.5 557.1,183.5 557.2,185.0 557.3,186.8 557.4,188.8 557.5,190.7 557.6,191.9 557.7,192.2 557.8,191.6 557.9,190.3 558.0,188.8 558.1,187.4 558.2,186.5 558.3,186.1 558.4,186.2 558.5,186.7 558.6,187.6 558.7,188.5 558.8,189.4 558.9,190.2 559.0,191.1 559.1,192.2 559.2,193.6 559.3,194.9 559.4,196.1 559.5,196.7 559.6,196.8 559.7,196.4 559.8,195.7 559.9,194.8 560.0,193.8 560.1,193.0 560.2,192.7 560.3,192.9 560.4,193.8 560.5,194.9 560.6,196.1 560.7,197.2 560.8,198.1 560.9,198.9 561.0,199.5 561.1,199.6 561.2,198.9 561.3,197.4 561.4,195.4 561.5,193.8 561.6,193.0 561.7,193.1 561.8,193.6 561.9,193.9 562.0,193.6 562.1,192.7 562.2,191.8 562.3,191.1 562.4,190.7 562.4,190.5 562.5,190.2 562.6,189.9 562.7,189.8 562.8,190.2 562.9,191.2 563.0,192.2 563.1,192.7 563.2,192.2 563.3,190.4 563.4,187.9 563.5,185.3 563.6,183.4 563.7,182.7 563.8,183.1 563.9,184.2 564.0,185.6 564.1,187.0 564.2,188.1 564.3,189.1 564.4,189.8 564.5,190.4 564.6,190.5 564.7,190.3 564.8,189.8 564.9,189.2 565.0,188.7 565.1,188.6 565.2,188.9 565.3,189.8 565.4,191.0 565.5,191.9 565.7,194.6 565.9,195.6 566.1,194.9 566.3,194.5 566.5,195.1 566.7,195.6 566.9,195.8 567.1,196.8 567.3,197.8 567.5,197.2 567.7,195.8 567.9,195.0 568.0,195.1 568.2,195.6 568.4,195.6 568.6,193.7 568.8,189.7 569.0,186.5 569.2,187.1 569.4,190.2 569.6,192.0 569.8,191.2 570.0,188.7 570.2,185.5 570.4,184.8 570.6,189.4 570.8,194.8 571.0,194.9 571.2,192.0 571.4,191.1 571.6,192.0 571.8,194.5 572.0,199.1 572.2,202.0 572.4,199.7 572.6,196.5 572.8,196.5 573.0,196.8 573.2,196.4 573.4,196.9 573.6,196.1 573.8,193.0 574.0,192.0 574.2,193.9 574.4,195.0 574.6,194.5 574.8,193.6 575.0,192.2 575.2,192.0 575.4,193.7 575.6,194.9 575.8,194.7 576.0,194.8 576.2,194.9 576.4,194.6 576.5,195.4 576.7,197.1 576.9,196.5 577.1,193.4 577.3,191.0 577.5,190.8 577.7,190.8 577.9,190.0 578.1,188.9 578.3,187.3 578.5,184.8 578.7,182.4 578.9,180.6 579.1,179.6 579.3,179.8 579.5,179.3 579.7,176.3 579.9,173.6 580.1,172.1 580.3,170.0 580.5,169.0 580.7,170.6 580.9,170.8 581.1,168.2 581.3,166.9 581.5,166.7 581.7,165.7 581.9,166.0 582.1,168.6 582.3,168.8 582.5,166.4 582.7,166.4 582.9,168.8 583.1,169.6 583.3,168.9 583.5,168.9 583.7,168.0 583.9,165.6 584.1,165.8 584.3,169.5 584.5,172.4 584.7,173.8 584.8,174.7 585.0,172.7 585.2,168.7 585.4,167.7 585.6,170.0 585.8,172.7 586.0,175.4 586.2,176.7 586.4,175.7 586.6,174.7 586.8,174.3 587.0,174.3 587.2,176.3 587.4,178.9 587.6,178.8 587.8,178.0 588.0,178.5 588.2,178.3 588.4,177.7 588.6,179.4 588.8,182.5 589.0,183.6 589.2,182.6 589.4,181.8 589.6,182.5 589.8,182.8 590.0,182.6 590.2,184.4 590.4,186.9 590.6,187.1 590.8,187.3 591.0,189.3 591.2,189.6 591.4,188.0 591.6,188.6 591.8,191.1 592.0,193.1 592.2,194.6 592.4,196.0 592.6,196.7 592.8,196.4 593.0,196.1 593.1,196.9 593.3,198.5 593.5,199.4 593.7,200.3 593.9,201.9 594.1,202.7 594.3,202.0 594.5,201.8 594.7,202.6 594.9,203.9 595.1,204.7 595.3,204.3 595.5,203.3 595.7,202.9 595.9,202.8 596.1,203.2 596.3,203.8 596.5,203.3 596.7,203.2 596.9,204.1 597.1,203.4 597.3,201.5 597.5,201.7 597.7,202.3 597.9,201.4 598.1,201.3 598.3,201.8 598.5,200.6 598.7,199.3 598.9,198.7 599.1,198.2 599.3,198.3 599.5,198.6 599.7,196.3 599.9,192.7 600.1,190.2 600.3,188.4 600.5,186.9 600.7,185.9 600.9,185.2 601.1,184.6 601.3,183.3 601.5,180.5 601.6,177.3 601.8,174.5 602.0,172.7 602.2,173.1 602.4,173.8 602.6,172.1 602.8,169.9 603.0,170.0 603.2,170.8 603.4,170.5 603.6,170.3 603.8,170.3 604.0,170.1 604.2,170.4 604.4,172.0 604.6,174.7 604.8,176.2 605.0,175.5 605.2,175.2 605.4,176.1 605.6,176.1 605.8,176.2 606.0,178.8 606.2,180.6 606.4,178.9 606.6,176.5 606.8,175.7 607.0,175.6 607.2,175.9 607.4,175.9 607.6,175.7 607.8,176.0 608.0,176.6 608.2,176.4 608.4,175.3 608.6,174.6 608.8,175.1 609.0,175.8 609.2,176.8 609.4,179.5 609.6,183.2 609.8,185.6 609.9,186.7 610.1,187.3 610.3,187.5 610.5,189.5 610.7,194.2 610.9,197.1 611.1,198.2 611.3,201.7 611.5,205.6 611.7,206.3 611.9,207.0 612.1,209.5 612.3,210.5 612.5,210.7 612.7,212.3 612.9,213.0 613.1,212.5 613.3,213.8 613.5,216.2 613.7,216.3 613.9,214.4 614.1,212.5 614.3,211.1 614.5,210.0 614.7,209.4 614.9,209.3 615.1,209.2 615.3,207.8 615.5,204.9 615.7,202.9 615.9,203.2 616.1,203.2 616.3,201.2 616.5,199.0 616.7,197.0 616.9,193.8 617.1,191.8 617.3,193.1 617.5,193.0 617.7,188.5 617.9,184.8 618.1,185.2 618.2,185.3 618.4,183.8 618.6,183.2 618.8,182.1 619.0,178.7 619.2,175.8 619.4,175.2 619.6,174.7 619.8,174.4 620.0,175.3 620.2,175.2 620.4,173.1 620.6,171.7 620.8,172.2 621.0,172.5 621.2,172.0 621.4,172.0 621.6,171.9 621.8,170.6 622.0,169.8 622.2,170.5 622.4,171.8 622.6,173.3 622.8,174.3 623.0,173.4 623.2,171.6 623.4,171.8 623.6,173.7 623.8,175.3 624.0,176.8 624.2,178.7 624.4,180.9 624.6,183.7 624.8,186.3 625.0,186.6 625.2,186.1 625.4,187.5 625.6,189.6 625.8,190.7 626.0,193.3 626.2,198.1 626.4,201.3 626.6,201.7 626.7,201.4 626.9,201.3 627.1,201.8 627.3,204.3 627.5,207.3 627.7,208.0 627.9,207.0 628.1,206.7 628.3,207.3 628.5,208.3 628.7,209.4 628.9,209.4 629.1,207.7 629.3,204.9 629.5,202.9 629.7,202.1 629.9,201.7 630.1,200.9 630.3,199.9 630.5,197.8 630.7,195.2 630.9,194.4 631.1,193.8 631.3,191.0 631.5,187.5 631.7,185.4 631.9,183.4 632.1,180.8 632.3,179.2 632.5,178.5 632.7,178.3 632.9,177.9 633.1,175.9 633.3,172.9 633.5,170.4 633.7,168.8 633.9,168.5 634.1,168.8 634.3,167.4 634.5,165.4 634.7,166.5 634.9,169.7 635.0,170.8 635.2,169.9 635.4,170.2 635.6,171.3 635.8,171.3 636.0,171.8 636.2,175.0 636.4,178.9 636.6,181.4 636.8,183.2 637.0,184.0 637.2,183.7 637.4,185.8 637.6,190.2 637.8,192.0 638.0,191.7 638.2,193.5 638.4,195.2 638.6,194.4 638.8,194.2 639.0,195.0 639.2,194.8 639.4,194.3 639.6,194.6 639.8,195.1 640.0,195.1 640.2,194.1 640.4,192.0 640.6,189.6 640.8,187.2 641.0,186.8 641.2,189.0 641.4,190.0 641.6,187.5 641.8,185.0 642.0,183.7 642.2,182.0 642.4,180.8 642.6,180.5 642.8,179.4 643.0,178.4 643.2,178.9 643.4,179.3 643.5,178.5 643.7,177.8 643.9,177.0 644.1,175.9 644.3,175.2 644.5,175.1 644.7,176.1 644.9,177.9 645.1,179.3 645.3,179.7 645.5,179.1 645.7,178.9 645.9,180.6 646.1,182.5 646.3,182.5 646.5,182.7 646.7,184.4 646.9,185.2 647.1,184.9 647.3,185.4 647.5,186.8 647.7,189.7 647.9,192.6 648.1,192.3 648.3,190.3 648.5,190.4 648.7,191.3 648.9,191.2 649.1,191.7 649.3,193.0 649.5,193.4 649.7,193.3 649.9,193.7 650.1,194.0 650.3,193.5 650.5,192.3 650.7,190.9 650.9,189.7 651.1,189.1 651.3,190.2 651.5,191.8 651.7,191.1 651.8,189.1 652.0,188.0 652.2,187.1 652.4,186.8 652.6,187.6 652.8,186.8 653.0,185.0 653.2,184.8 653.4,184.4 653.6,183.0 653.8,184.5 654.0,186.4 654.2,184.5 654.4,182.2 654.6,182.3 654.8,181.9 655.0,182.5 655.2,185.5 655.4,186.3 655.6,183.7 655.8,182.5 656.0,183.2 656.2,183.4 656.4,184.4 656.6,186.7 656.8,187.7 657.0,186.9 657.2,186.7 657.4,186.9 657.6,185.8 657.8,185.8 658.0,188.5 658.2,190.0 658.4,188.6 658.6,188.3 658.8,189.5 659.0,189.3 659.2,188.9 659.4,189.5 659.6,189.1 659.8,188.5 660.0,189.5 660.1,190.1 660.3,189.9 660.5,190.4 660.7,190.0 660.9,187.7 661.1,186.9 661.3,188.5 661.5,190.0 661.7,190.5 661.9,190.4 662.1,189.6 662.3,188.4 662.5,188.1 662.7,189.0 662.9,189.2 663.1,188.0 663.3,187.8 663.5,188.8 663.7,188.4 663.9,187.5 664.1,188.5 664.3,189.3 664.5,187.9 664.7,186.5" fill="none" stroke="#000000" stroke-width="0.8" stroke-linejoin="round"/>
<path d="M499.6,187.6 500.1,187.6 500.6,187.6 501.1,187.6 501.6,187.6 502.1,187.6 502.6,187.6 503.1,187.6 503.6,187.6 504.0,187.6 504.5,187.6 505.0,187.6 505.5,187.6 506.0,187.6 506.5,187.6 507.0,187.6 507.5,187.6 508.0,187.6 508.5,187.6 509.0,187.6 509.5,187.6 509.6,187.6 509.7,187.6 509.8,187.6 509.9,187.6 510.0,187.6 510.1,187.6 510.2,187.6 510.3,187.6 510.4,187.6 510.5,187.6 510.6,187.6 510.7,187.6 510.8,187.6 510.9,187.6 511.0,187.6 511.1,187.6 511.2,187.6 511.3,187.5 511.4,187.5 511.5,187.5 511.6,187.5 511.7,187.6 511.8,187.6 511.9,187.6 512.0,187.6 512.1,187.5 512.2,187.5 512.2,187.5 512.3,187.5 512.4,187.5 512.5,187.5 512.6,187.5 512.7,187.5 512.8,187.6 512.9,187.7 513.0,187.8 513.1,187.7 513.2,187.5 513.3,187.3 513.4,187.3 513.5,187.3 513.6,187.5 513.7,187.7 513.8,187.7 513.9,187.7 514.0,187.7 514.1,187.6 514.2,187.6 514.3,187.6 514.4,187.5 514.5,187.4 514.6,187.2 514.7,187.2 514.8,187.4 514.9,187.7 515.0,187.9 515.1,188.0 515.2,187.9 515.3,187.7 515.4,187.4 515.5,187.2 515.6,187.2 515.7,187.3 515.8,187.4 515.9,187.6 516.0,187.7 516.1,187.8 516.2,187.8 516.3,187.7 516.4,187.6 516.5,187.5 516.6,187.5 516.7,187.4 516.8,187.4 516.9,187.4 517.0,187.4 517.1,187.5 517.2,187.6 517.3,187.7 517.4,187.7 517.5,187.7 517.6,187.6 517.7,187.5 517.8,187.5 517.9,187.6 518.0,187.7 518.1,187.6 518.2,187.4 518.3,187.1 518.4,187.0 518.5,187.2 518.6,187.6 518.7,188.0 518.8,188.2 518.9,188.1 519.0,187.7 519.1,187.4 519.2,187.2 519.3,187.1 519.4,187.2 519.5,187.3 519.6,187.4 519.7,187.6 519.8,187.7 519.9,187.9 520.0,187.9 520.1,187.8 520.2,187.6 520.3,187.4 520.4,187.4 520.5,187.4 520.5,187.5 520.6,187.5 520.7,187.3 520.8,187.1 520.9,187.2 521.0,187.5 521.1,188.0 521.2,188.4 521.3,188.3 521.4,187.9 521.5,187.3 521.6,186.8 521.7,186.7 521.8,187.1 521.9,187.5 522.0,187.9 522.1,188.0 522.2,187.8 522.3,187.5 522.4,187.4 522.5,187.5 522.6,187.7 522.7,188.0 522.8,188.1 522.9,187.9 523.0,187.4 523.1,186.8 523.2,186.3 523.3,186.3 523.4,186.9 523.5,188.0 523.6,189.0 523.7,189.5 523.8,189.0 523.9,187.9 524.0,186.5 524.1,185.7 524.2,185.8 524.3,186.7 524.4,187.8 524.5,188.5 524.6,188.6 524.7,188.3 524.8,187.8 524.9,187.7 525.0,187.7 525.1,187.7 525.2,187.4 525.3,186.8 525.4,186.5 525.5,186.6 525.6,187.3 525.7,188.1 525.8,188.7 525.9,188.6 526.0,188.0 526.1,187.4 526.2,187.2 526.3,187.2 526.4,187.4 526.5,187.4 526.6,187.1 526.7,186.8 526.8,187.0 526.9,187.7 527.0,188.6 527.1,189.1 527.2,188.8 527.3,187.8 527.4,186.6 527.5,185.9 527.6,186.1 527.7,187.1 527.8,188.2 527.9,188.9 528.0,188.8 528.1,188.0 528.2,187.0 528.3,186.5 528.4,186.7 528.5,187.5 528.6,188.2 528.7,188.5 528.8,188.1 528.9,187.2 528.9,186.4 529.0,186.3 529.1,187.0 529.2,188.1 529.3,189.0 529.4,189.0 529.5,188.2 529.6,187.1 529.7,186.3 529.8,186.4 529.9,187.0 530.0,187.8 530.1,188.0 530.2,187.7 530.3,187.4 530.4,187.4 530.5,188.1 530.6,188.7 530.7,188.7 530.8,187.8 530.9,186.4 531.0,185.5 531.1,185.8 531.2,187.2 531.3,188.7 531.4,189.5 531.5,188.9 531.6,187.7 531.7,186.8 531.8,186.7 531.9,187.4 532.0,188.0 532.1,187.9 532.2,187.1 532.3,186.3 532.4,186.3 532.5,187.5 532.6,188.9 532.7,189.6 532.8,189.0 532.9,187.5 533.0,186.1 533.1,185.7 533.2,186.5 533.3,187.8 533.4,188.7 533.5,188.6 533.6,187.9 533.7,187.1 533.8,186.9 533.9,187.2 534.0,187.7 534.1,187.8 534.2,187.7 534.3,187.5 534.4,187.5 534.5,187.8 534.6,187.9 534.7,187.7 534.8,187.2 534.9,186.8 535.0,186.9 535.1,187.4 535.2,188.0 535.3,188.2 535.4,187.9 535.5,187.5 535.6,187.4 535.7,187.7 535.8,188.0 535.9,188.0 536.0,187.4 536.1,186.5 536.2,186.0 536.3,186.5 536.4,187.7 536.5,189.0 536.6,189.5 536.7,189.1 536.8,187.8 536.9,186.6 537.0,185.9 537.1,186.1 537.2,186.8 537.3,187.6 537.3,188.2 537.4,188.6 537.5,188.6 537.6,188.3 537.7,187.7 537.8,187.0 537.9,186.6 538.0,186.6 538.1,187.3 538.2,188.0 538.3,188.5 538.4,188.2 538.5,187.4 538.6,186.7 538.7,186.6 538.8,187.4 538.9,188.3 539.0,188.8 539.1,188.4 539.2,187.4 539.3,186.6 539.4,186.4 539.5,187.0 539.6,187.9 539.7,188.3 539.8,188.0 539.9,187.3 540.0,186.9 540.1,187.2 540.2,188.0 540.3,188.7 540.4,188.7 540.5,187.8 540.6,186.6 540.7,185.9 540.8,186.1 540.9,187.2 541.0,188.3 541.1,188.9 541.2,188.7 541.3,188.1 541.4,187.6 541.5,187.4 541.6,187.4 541.7,187.3 541.8,186.8 541.9,186.3 542.0,186.2 542.1,186.8 542.2,188.1 542.3,189.4 542.4,189.9 542.5,189.4 542.6,188.0 542.7,186.4 542.8,185.3 542.9,185.1 543.0,185.8 543.1,187.1 543.2,188.6 543.3,189.6 543.4,189.8 543.5,189.3 543.6,188.2 543.7,186.9 543.8,185.9 543.9,185.7 544.0,186.1 544.1,187.0 544.2,187.8 544.3,188.2 544.4,188.4 544.5,188.5 544.6,188.7 544.7,188.7 544.8,188.1 544.9,187.0 545.0,185.8 545.1,185.2 545.2,185.8 545.3,187.5 545.4,189.3 545.5,190.1 545.6,189.3 545.7,187.5 545.7,185.9 545.8,185.7 545.9,186.9 546.0,188.5 546.1,189.2 546.2,188.4 546.3,186.7 546.4,185.6 546.5,186.0 546.6,187.7 546.7,189.4 546.8,189.8 546.9,188.5 547.0,186.5 547.1,185.4 547.2,185.9 547.3,187.7 547.4,189.4 547.5,189.7 547.6,188.4 547.7,186.4 547.8,185.2 547.9,185.6 548.0,187.2 548.1,188.8 548.2,189.3 548.3,188.7 548.4,187.6 548.5,187.0 548.6,187.1 548.7,187.6 548.8,187.9 548.9,187.7 549.0,187.1 549.1,186.7 549.2,187.0 549.3,187.7 549.4,188.4 549.5,188.6 549.6,188.1 549.7,187.2 549.8,186.4 549.9,186.2 550.0,186.6 550.1,187.4 550.2,188.3 550.3,188.8 550.4,188.7 550.5,188.0 550.6,187.0 550.7,186.4 550.8,186.5 550.9,187.6 551.0,189.2 551.1,190.2 551.2,190.0 551.3,188.4 551.4,186.2 551.5,184.6 551.6,184.4 551.7,185.5 551.8,187.0 551.9,187.9 552.0,187.7 552.1,186.9 552.2,186.3 552.3,186.8 552.4,188.2 552.5,189.6 552.6,190.1 552.7,189.3 552.8,187.5 552.9,185.6 553.0,184.5 553.1,184.2 553.2,184.5 553.3,184.8 553.4,184.6 553.5,184.0 553.6,183.4 553.7,183.0 553.8,183.2 553.9,183.8 554.0,184.6 554.0,185.2 554.1,185.3 554.2,185.0 554.3,184.3 554.4,183.6 554.5,183.2 554.6,183.2 554.7,183.9 554.8,184.8 554.9,185.7 555.0,186.5 555.1,186.9 555.2,187.0 555.3,186.6 555.4,185.9 555.5,185.0 555.6,184.3 555.7,184.3 555.8,185.1 555.9,186.7 556.0,188.3 556.1,189.4 556.2,189.7 556.3,189.3 556.4,188.5 556.5,187.9 556.6,187.4 556.7,186.9 556.8,186.1 556.9,184.7 557.0,183.1 557.1,181.6 557.2,180.6 557.3,180.1 557.4,180.0 557.5,180.1 557.6,180.1 557.7,180.3 557.8,180.8 557.9,181.6 558.0,182.7 558.1,183.8 558.2,184.5 558.3,184.6 558.4,184.0 558.5,182.8 558.6,181.6 558.7,180.8 558.8,181.1 558.9,182.4 559.0,184.5 559.1,186.9 559.2,188.9 559.3,190.3 559.4,191.3 559.5,192.0 559.6,192.2 559.7,191.7 559.8,190.3 559.9,188.1 560.0,185.5 560.1,183.3 560.2,181.9 560.3,181.5 560.4,181.7 560.5,182.0 560.6,182.0 560.7,181.9 560.8,181.9 560.9,182.2 561.0,182.5 561.1,182.6 561.2,182.3 561.3,182.0 561.4,181.9 561.5,182.4 561.6,183.3 561.7,184.3 561.8,185.1 561.9,185.6 562.0,186.0 562.1,186.5 562.2,187.3 562.3,188.1 562.4,188.7 562.4,189.0 562.5,189.1 562.6,189.4 562.7,190.0 562.8,190.7 562.9,191.0 563.0,190.7 563.1,189.9 563.2,188.9 563.3,188.1 563.4,187.8 563.5,187.8 563.6,187.8 563.7,187.9 563.8,187.9 563.9,188.1 564.0,188.4 564.1,188.6 564.2,188.3 564.3,187.4 564.4,186.1 564.5,184.6 564.6,183.4 564.7,182.5 564.8,181.7 564.9,180.7 565.0,179.7 565.1,178.7 565.2,178.4 565.3,178.9 565.4,180.3 565.5,181.3 565.7,183.1 565.9,181.5 566.1,178.7 566.3,176.9 566.5,175.7 566.7,175.7 566.9,177.9 567.1,180.5 567.3,182.0 567.5,183.4 567.7,186.0 567.9,188.8 568.0,190.3 568.2,190.3 568.4,190.0 568.6,191.5 568.8,195.3 569.0,198.9 569.2,199.9 569.4,199.1 569.6,197.5 569.8,195.8 570.0,195.1 570.2,194.8 570.4,192.8 570.6,188.8 570.8,184.7 571.0,181.8 571.2,181.6 571.4,182.7 571.6,181.5 571.8,177.5 572.0,173.6 572.2,171.6 572.4,171.8 572.6,173.6 572.8,174.5 573.0,173.9 573.2,174.1 573.4,175.6 573.6,177.1 573.8,178.6 574.0,179.1 574.2,178.1 574.4,178.0 574.6,179.8 574.8,181.9 575.0,183.7 575.2,184.7 575.4,184.7 575.6,185.5 575.8,187.8 576.0,188.5 576.2,188.3 576.4,190.2 576.5,191.6 576.7,190.5 576.9,190.1 577.1,190.8 577.3,190.4 577.5,190.5 577.7,191.5 577.9,190.1 578.1,187.2 578.3,185.6 578.5,183.9 578.7,182.4 578.9,183.3 579.1,184.5 579.3,183.3 579.5,181.9 579.7,182.6 579.9,184.3 580.1,186.9 580.3,190.2 580.5,192.4 580.7,192.6 580.9,192.0 581.1,192.8 581.3,195.7 581.5,198.7 581.7,200.8 581.9,202.7 582.1,204.2 582.3,205.4 582.5,207.4 582.7,208.8 582.9,208.2 583.1,208.3 583.3,210.4 583.5,212.0 583.7,212.0 583.9,211.7 584.1,210.3 584.3,208.3 584.5,208.5 584.7,210.1 584.8,210.2 585.0,208.7 585.2,206.8 585.4,205.0 585.6,204.1 585.8,204.3 586.0,204.6 586.2,204.1 586.4,202.4 586.6,199.9 586.8,198.5 587.0,199.0 587.2,199.6 587.4,198.9 587.6,197.8 587.8,196.8 588.0,195.5 588.2,194.1 588.4,194.0 588.6,194.2 588.8,192.6 589.0,190.4 589.2,190.3 589.4,190.7 589.6,189.3 589.8,188.0 590.0,187.6 590.2,186.2 590.4,184.3 590.6,183.3 590.8,181.7 591.0,179.9 591.2,179.5 591.4,178.4 591.6,175.7 591.8,174.3 592.0,174.5 592.2,173.9 592.4,171.9 592.6,169.5 592.8,167.0 593.0,164.9 593.1,164.8 593.3,166.5 593.5,167.5 593.7,165.0 593.9,160.7 594.1,159.4 594.3,161.2 594.5,162.7 594.7,163.3 594.9,162.9 595.1,160.8 595.3,160.4 595.5,163.7 595.7,167.3 595.9,169.3 596.1,171.5 596.3,172.5 596.5,171.9 596.7,172.3 596.9,172.8 597.1,171.8 597.3,171.1 597.5,171.6 597.7,172.0 597.9,173.0 598.1,173.8 598.3,172.4 598.5,171.5 598.7,172.7 598.9,173.0 599.1,172.8 599.3,175.0 599.5,177.3 599.7,178.5 599.9,181.1 600.1,184.3 600.3,185.2 600.5,185.1 600.7,185.7 600.9,185.9 601.1,186.0 601.3,187.9 601.5,190.6 601.6,192.7 601.8,193.9 602.0,194.8 602.2,194.5 602.4,191.8 602.6,188.5 602.8,188.0 603.0,189.8 603.2,191.3 603.4,192.4 603.6,193.0 603.8,191.6 604.0,189.5 604.2,189.1 604.4,189.6 604.6,189.6 604.8,189.1 605.0,188.0 605.2,187.6 605.4,188.8 605.6,190.2 605.8,190.4 606.0,190.4 606.2,191.1 606.4,192.2 606.6,193.2 606.8,193.6 607.0,193.8 607.2,194.9 607.4,196.4 607.6,197.6 607.8,199.3 608.0,200.1 608.2,199.5 608.4,199.7 608.6,201.3 608.8,201.9 609.0,200.9 609.2,198.7 609.4,195.9 609.6,194.5 609.8,194.4 609.9,194.0 610.1,193.3 610.3,192.1 610.5,187.8 610.7,182.6 610.9,180.2 611.1,178.7 611.3,176.4 611.5,175.6 611.7,175.0 611.9,171.8 612.1,168.6 612.3,167.8 612.5,166.5 612.7,164.4 612.9,163.5 613.1,163.5 613.3,163.9 613.5,164.8 613.7,164.8 613.9,163.8 614.1,164.0 614.3,165.9 614.5,168.0 614.7,169.5 614.9,169.9 615.1,169.5 615.3,170.0 615.5,171.5 615.7,173.7 615.9,176.2 616.1,177.9 616.3,178.4 616.5,179.7 616.7,182.0 616.9,183.2 617.1,182.8 617.3,182.8 617.5,185.1 617.7,188.7 617.9,190.5 618.1,190.0 618.2,189.9 618.4,190.6 618.6,191.4 618.8,194.1 619.0,197.9 619.2,198.9 619.4,197.1 619.6,196.4 619.8,198.3 620.0,201.7 620.2,204.7 620.4,205.6 620.6,205.1 620.8,205.0 621.0,205.3 621.2,206.3 621.4,208.2 621.6,209.2 621.8,209.1 622.0,208.9 622.2,208.3 622.4,207.9 622.6,208.6 622.8,208.0 623.0,205.7 623.2,205.3 623.4,205.6 623.6,202.8 623.8,199.9 624.0,199.5 624.2,197.7 624.4,194.8 624.6,194.0 624.8,192.8 625.0,189.4 625.2,186.9 625.4,185.7 625.6,184.2 625.8,182.8 626.0,181.4 626.2,178.9 626.4,176.2 626.6,174.5 626.7,173.6 626.9,173.6 627.1,173.3 627.3,172.0 627.5,171.7 627.7,172.3 627.9,171.8 628.1,171.2 628.3,171.9 628.5,172.3 628.7,173.1 628.9,175.2 629.1,176.4 629.3,176.5 629.5,177.8 629.7,179.8 629.9,181.3 630.1,183.2 630.3,184.7 630.5,185.1 630.7,185.9 630.9,187.9 631.1,189.9 631.3,192.1 631.5,194.1 631.7,195.4 631.9,196.3 632.1,197.1 632.3,197.7 632.5,199.0 632.7,201.0 632.9,202.3 633.1,202.4 633.3,201.4 633.5,200.7 633.7,202.3 633.9,204.5 634.1,204.1 634.3,202.6 634.5,201.7 634.7,200.0 634.9,198.6 635.0,199.1 635.2,199.0 635.4,197.2 635.6,196.2 635.8,195.6 636.0,193.6 636.2,191.9 636.4,191.1 636.6,189.8 636.8,188.6 637.0,187.3 637.2,184.9 637.4,183.0 637.6,182.5 637.8,182.5 638.0,182.1 638.2,180.5 638.4,178.0 638.6,176.4 638.8,176.5 639.0,176.0 639.2,174.9 639.4,174.4 639.6,174.1 639.8,174.2 640.0,175.6 640.2,175.8 640.4,174.4 640.6,174.4 640.8,176.2 641.0,177.3 641.2,178.1 641.4,180.0 641.6,181.7 641.8,182.4 642.0,183.4 642.2,185.9 642.4,188.9 642.6,190.3 642.8,190.7 643.0,191.9 643.2,192.8 643.4,192.9 643.5,195.2 643.7,199.2 643.9,201.0 644.1,201.1 644.3,200.9 644.5,199.9 644.7,199.5 644.9,200.6 645.1,200.9 645.3,200.3 645.5,201.2 645.7,201.7 645.9,200.0 646.1,197.8 646.3,196.4 646.5,195.8 646.7,195.7 646.9,195.3 647.1,194.5 647.3,193.7 647.5,191.4 647.7,188.4 647.9,187.8 648.1,188.2 648.3,187.2 648.5,186.7 648.7,186.2 648.9,183.2 649.1,180.9 649.3,181.5 649.5,181.7 649.7,181.5 649.9,182.6 650.1,180.9 650.3,176.8 650.5,176.7 650.7,179.6 650.9,180.7 651.1,181.5 651.3,182.9 651.5,182.0 651.7,180.2 651.8,180.7 652.0,182.5 652.2,184.5 652.4,186.3 652.6,186.6 652.8,185.9 653.0,185.9 653.2,186.9 653.4,189.3 653.6,192.0 653.8,192.2 654.0,190.5 654.2,189.7 654.4,189.6 654.6,190.0 654.8,191.8 655.0,193.1 655.2,192.4 655.4,191.7 655.6,191.4 655.8,190.5 656.0,189.7 656.2,189.3 656.4,188.6 656.6,188.2 656.8,188.5 657.0,188.7 657.2,188.6 657.4,187.9 657.6,186.7 657.8,185.8 658.0,185.5 658.2,185.4 658.4,186.0 658.6,186.7 658.8,185.6 659.0,184.6 659.2,185.4 659.4,186.2 659.6,185.7 659.8,185.4 660.0,185.7 660.1,185.8 660.3,185.8 660.5,185.6 660.7,185.5 660.9,185.4 661.1,185.4 661.3,185.8 661.5,186.5 661.7,185.7 661.9,184.9 662.1,186.4 662.3,187.6 662.5,186.2 662.7,185.4 662.9,185.8 663.1,185.3 663.3,185.8 663.5,188.2 663.7,188.4 663.9,186.6 664.1,186.3 664.3,187.1 664.5,187.3 664.7,187.6" fill="none" stroke="#0000ff" stroke-width="0.8" stroke-linejoin="round"/>
<path d="M499.6,187.2 500.1,187.5 500.6,187.7 501.1,187.9 501.6,188.0 502.1,188.0 502.6,187.9 503.1,187.7 503.6,187.5 504.0,187.4 504.5,187.4 505.0,187.3 505.5,187.3 506.0,187.3 506.5,187.3 507.0,187.4 507.5,187.5 508.0,187.6 508.5,187.8 509.0,187.9 509.5,187.9 509.6,187.9 509.7,187.9 509.8,187.9 509.9,187.9 510.0,187.9 510.1,187.8 510.2,187.8 510.3,187.8 510.4,187.7 510.5,187.7 510.6,187.7 510.7,187.6 510.8,187.6 510.9,187.5 511.0,187.5 511.1,187.4 511.2,187.4 511.3,187.3 511.4,187.3 511.5,187.3 511.6,187.2 511.7,187.2 511.8,187.1 511.9,187.1 512.0,187.1 512.1,187.1 512.2,187.1 512.2,187.1 512.3,187.1 512.4,187.1 512.5,187.2 512.6,187.2 512.7,187.2 512.8,187.2 512.9,187.2 513.0,187.3 513.1,187.4 513.2,187.5 513.3,187.5 513.4,187.5 513.5,187.5 513.6,187.6 513.7,187.6 513.8,187.7 513.9,187.8 514.0,187.9 514.1,187.9 514.2,187.9 514.3,188.0 514.4,188.0 514.5,188.1 514.6,188.1 514.7,188.1 514.8,188.1 514.9,188.1 515.0,188.1 515.1,188.1 515.2,188.1 515.3,188.0 515.4,187.9 515.5,187.9 515.6,187.9 515.7,187.9 515.8,187.8 515.9,187.8 516.0,187.6 516.1,187.5 516.2,187.5 516.3,187.4 516.4,187.5 516.5,187.5 516.6,187.4 516.7,187.3 516.8,187.2 516.9,187.1 517.0,187.0 517.1,186.9 517.2,186.9 517.3,187.0 517.4,187.1 517.5,187.2 517.6,187.2 517.7,187.0 517.8,186.8 517.9,186.7 518.0,186.8 518.1,187.0 518.2,187.2 518.3,187.4 518.4,187.4 518.5,187.3 518.6,187.2 518.7,187.2 518.8,187.3 518.9,187.4 519.0,187.6 519.1,187.6 519.2,187.6 519.3,187.6 519.4,187.7 519.5,187.9 519.6,188.0 519.7,188.0 519.8,187.9 519.9,187.7 520.0,187.7 520.1,187.8 520.2,188.1 520.3,188.3 520.4,188.4 520.5,188.3 520.5,188.1 520.6,187.9 520.7,187.9 520.8,187.9 520.9,188.0 521.0,187.9 521.1,187.9 521.2,187.8 521.3,187.9 521.4,188.1 521.5,188.2 521.6,188.1 521.7,187.9 521.8,187.6 521.9,187.3 522.0,187.3 522.1,187.3 522.2,187.5 522.3,187.6 522.4,187.6 522.5,187.6 522.6,187.5 522.7,187.5 522.8,187.4 522.9,187.3 523.0,187.1 523.1,186.9 523.2,186.9 523.3,187.0 523.4,187.2 523.5,187.3 523.6,187.3 523.7,187.2 523.8,187.1 523.9,187.1 524.0,187.1 524.1,187.1 524.2,187.1 524.3,187.0 524.4,187.0 524.5,187.1 524.6,187.2 524.7,187.4 524.8,187.5 524.9,187.5 525.0,187.4 525.1,187.4 525.2,187.3 525.3,187.4 525.4,187.4 525.5,187.5 525.6,187.6 525.7,187.7 525.8,187.7 525.9,187.8 526.0,187.8 526.1,187.8 526.2,187.8 526.3,187.9 526.4,187.9 526.5,187.8 526.6,187.7 526.7,187.7 526.8,187.8 526.9,188.1 527.0,188.4 527.1,188.5 527.2,188.2 527.3,187.8 527.4,187.5 527.5,187.5 527.6,187.8 527.7,188.2 527.8,188.2 527.9,188.0 528.0,187.6 528.1,187.4 528.2,187.6 528.3,188.0 528.4,188.3 528.5,188.2 528.6,187.6 528.7,187.0 528.8,186.7 528.9,187.0 528.9,187.4 529.0,187.8 529.1,187.8 529.2,187.5 529.3,187.2 529.4,187.1 529.5,187.2 529.6,187.2 529.7,187.2 529.8,187.1 529.9,187.0 530.0,187.0 530.1,187.2 530.2,187.3 530.3,187.3 530.4,187.1 530.5,187.1 530.6,187.2 530.7,187.4 530.8,187.5 530.9,187.5 531.0,187.3 531.1,187.1 531.2,187.2 531.3,187.5 531.4,187.7 531.5,187.8 531.6,187.5 531.7,187.3 531.8,187.2 531.9,187.5 532.0,187.9 532.1,188.2 532.2,188.1 532.3,187.8 532.4,187.5 532.5,187.5 532.6,187.8 532.7,187.9 532.8,187.8 532.9,187.5 533.0,187.3 533.1,187.5 533.2,187.9 533.3,188.3 533.4,188.4 533.5,188.1 533.6,187.6 533.7,187.3 533.8,187.3 533.9,187.6 534.0,187.7 534.1,187.7 534.2,187.4 534.3,187.3 534.4,187.5 534.5,187.8 534.6,188.2 534.7,188.1 534.8,187.8 534.9,187.3 535.0,187.0 535.1,187.1 535.2,187.5 535.3,187.8 535.4,187.8 535.5,187.6 535.6,187.3 535.7,187.2 535.8,187.4 535.9,187.7 536.0,188.0 536.1,188.1 536.2,187.9 536.3,187.5 536.4,187.1 536.5,187.0 536.6,187.0 536.7,187.3 536.8,187.6 536.9,187.8 537.0,187.8 537.1,187.7 537.2,187.6 537.3,187.6 537.3,187.6 537.4,187.6 537.5,187.4 537.6,187.1 537.7,186.8 537.8,186.8 537.9,187.1 538.0,187.5 538.1,187.8 538.2,187.8 538.3,187.5 538.4,187.3 538.5,187.2 538.6,187.3 538.7,187.4 538.8,187.3 538.9,187.1 539.0,186.9 539.1,187.0 539.2,187.4 539.3,187.8 539.4,188.0 539.5,187.9 539.6,187.5 539.7,187.2 539.8,187.3 539.9,187.6 540.0,188.0 540.1,188.1 540.2,187.9 540.3,187.6 540.4,187.5 540.5,187.6 540.6,187.8 540.7,188.0 540.8,188.0 540.9,188.0 541.0,188.0 541.1,188.2 541.2,188.3 541.3,188.2 541.4,187.9 541.5,187.6 541.6,187.4 541.7,187.5 541.8,187.9 541.9,188.2 542.0,188.2 542.1,187.9 542.2,187.5 542.3,187.4 542.4,187.5 542.5,187.7 542.6,187.8 542.7,187.7 542.8,187.4 542.9,187.1 543.0,187.0 543.1,187.0 543.2,187.1 543.3,187.2 543.4,187.3 543.5,187.4 543.6,187.5 543.7,187.4 543.8,187.2 543.9,186.9 544.0,186.7 544.1,186.8 544.2,187.2 544.3,187.5 544.4,187.5 544.5,187.2 544.6,186.9 544.7,186.8 544.8,187.2 544.9,187.7 545.0,188.0 545.1,187.8 545.2,187.4 545.3,187.0 545.4,187.1 545.5,187.7 545.6,188.3 545.7,188.4 545.7,188.0 545.8,187.2 545.9,186.8 546.0,187.0 546.1,187.9 546.2,188.8 546.3,189.2 546.4,188.8 546.5,187.9 546.6,187.2 546.7,187.1 546.8,187.5 546.9,188.1 547.0,188.4 547.1,188.3 547.2,187.9 547.3,187.6 547.4,187.6 547.5,187.8 547.6,188.0 547.7,188.1 547.8,187.8 547.9,187.5 548.0,187.3 548.1,187.2 548.2,187.2 548.3,187.2 548.4,187.3 548.5,187.3 548.6,187.3 548.7,187.3 548.8,187.3 548.9,187.3 549.0,187.2 549.1,187.2 549.2,187.1 549.3,187.1 549.4,187.0 549.5,187.0 549.6,187.0 549.7,187.2 549.8,187.4 549.9,187.5 550.0,187.5 550.1,187.3 550.2,187.2 550.3,187.2 550.4,187.5 550.5,187.9 550.6,188.2 550.7,188.0 550.8,187.5 550.9,187.0 551.0,186.8 551.1,187.1 551.2,187.7 551.3,188.3 551.4,188.4 551.5,188.1 551.6,187.7 551.7,187.5 551.8,187.6 551.9,187.8 552.0,187.9 552.1,187.6 552.2,187.1 552.3,186.8 552.4,187.0 552.5,187.5 552.6,188.1 552.7,188.3 552.8,188.1 552.9,187.6 553.0,187.2 553.1,187.1 553.2,187.3 553.3,187.5 553.4,187.5 553.5,187.3 553.6,187.1 553.7,187.3 553.8,187.7 553.9,188.2 554.0,188.4 554.0,188.2 554.1,187.7 554.2,187.3 554.3,187.3 554.4,187.6 554.5,187.9 554.6,188.1 554.7,188.1 554.8,187.9 554.9,187.8 555.0,187.9 555.1,188.1 555.2,188.2 555.3,188.1 555.4,188.0 555.5,187.8 555.6,187.8 555.7,187.9 555.8,187.9 555.9,187.8 556.0,187.5 556.1,187.2 556.2,187.0 556.3,187.2 556.4,187.4 556.5,187.6 556.6,187.6 556.7,187.4 556.8,187.0 556.9,186.6 557.0,186.5 557.1,186.5 557.2,186.5 557.3,186.6 557.4,186.7 557.5,186.6 557.6,186.6 557.7,186.6 557.8,186.7 557.9,186.8 558.0,186.9 558.1,186.9 558.2,186.7 558.3,186.5 558.4,186.5 558.5,186.7 558.6,187.1 558.7,187.5 558.8,187.8 558.9,187.9 559.0,187.7 559.1,187.6 559.2,187.5 559.3,187.7 559.4,188.0 559.5,188.3 559.6,188.5 559.7,188.6 559.8,188.6 559.9,188.7 560.0,188.7 560.1,188.7 560.2,188.6 560.3,188.5 560.4,188.6 560.5,188.8 560.6,189.1 560.7,189.3 560.8,189.2 560.9,188.8 561.0,188.4 561.1,188.1 561.2,188.1 561.3,188.3 561.4,188.5 561.5,188.5 561.6,188.3 561.7,187.9 561.8,187.6 561.9,187.5 562.0,187.6 562.1,187.8 562.2,187.7 562.3,187.5 562.4,187.1 562.4,186.7 562.5,186.6 562.6,186.7 562.7,186.9 562.8,187.1 562.9,187.1 563.0,187.0 563.1,186.7 563.2,186.5 563.3,186.4 563.4,186.4 563.5,186.6 563.6,186.8 563.7,186.9 563.8,186.9 563.9,186.8 564.0,186.7 564.1,186.8 564.2,187.0 564.3,187.1 564.4,187.2 564.5,187.2 564.6,187.1 564.7,187.1 564.8,187.2 564.9,187.4 565.0,187.6 565.1,187.6 565.2,187.6 565.3,187.4 565.4,187.3 565.5,187.4 565.7,187.7 565.9,187.7 566.1,187.3 566.3,187.5 566.5,187.7 566.7,187.3 566.9,187.1 567.1,187.4 567.3,187.3 567.5,186.9 567.7,187.1 567.9,187.3 568.0,187.0 568.2,187.2 568.4,187.8 568.6,187.9 568.8,187.9 569.0,188.3 569.2,188.5 569.4,188.7 569.6,189.4 569.8,189.5 570.0,189.1 570.2,189.4 570.4,190.0 570.6,189.9 570.8,189.4 571.0,188.7 571.2,188.0 571.4,187.8 571.6,188.1 571.8,187.7 572.0,186.9 572.2,186.2 572.4,185.3 572.6,184.2 572.8,183.8 573.0,184.0 573.2,184.0 573.4,184.0 573.6,184.2 573.8,184.6 574.0,185.0 574.2,185.4 574.4,186.1 574.6,186.9 574.8,187.3 575.0,187.7 575.2,188.8 575.4,190.2 575.6,191.4 575.8,192.1 576.0,192.1 576.2,191.3 576.4,190.7 576.5,190.9 576.7,191.4 576.9,191.3 577.1,190.5 577.3,189.3 577.5,188.3 577.7,187.6 577.9,187.2 578.1,186.8 578.3,185.9 578.5,185.0 578.7,184.3 578.9,183.9 579.1,184.2 579.3,185.1 579.5,185.1 579.7,184.2 579.9,184.4 580.1,185.5 580.3,186.2 580.5,186.8 580.7,187.5 580.9,187.6 581.1,187.4 581.3,188.0 581.5,188.9 581.7,189.4 581.9,189.4 582.1,188.8 582.3,188.6 582.5,189.3 582.7,189.8 582.9,189.5 583.1,188.8 583.3,188.0 583.5,187.8 583.7,188.4 583.9,188.7 584.1,188.1 584.3,187.5 584.5,186.9 584.7,186.4 584.8,187.2 585.0,188.0 585.2,187.4 585.4,186.5 585.6,186.2 585.8,185.9 586.0,186.0 586.2,187.0 586.4,187.1 586.6,186.5 586.8,186.9 587.0,187.5 587.2,187.6 587.4,187.9 587.6,187.9 587.8,187.1 588.0,187.2 588.2,188.3 588.4,189.1 588.6,189.5 588.8,189.3 589.0,188.5 589.2,188.0 589.4,188.0 589.6,187.7 589.8,187.2 590.0,187.3 590.2,187.5 590.4,187.3 590.6,187.2 590.8,186.8 591.0,186.2 591.2,185.6 591.4,185.6 591.6,186.3 591.8,187.5 592.0,187.9 592.2,187.5 592.4,187.7 592.6,188.5 592.8,188.6 593.0,188.4 593.1,188.4 593.3,188.4 593.5,188.8 593.7,189.6 593.9,189.6 594.1,188.6 594.3,187.3 594.5,186.1 594.7,185.5 594.9,185.9 595.1,186.3 595.3,185.8 595.5,184.9 595.7,184.7 595.9,185.3 596.1,185.9 596.3,186.3 596.5,186.7 596.7,187.2 596.9,187.6 597.1,188.5 597.3,190.1 597.5,191.3 597.7,191.5 597.9,191.7 598.1,192.3 598.3,192.3 598.5,191.3 598.7,190.4 598.9,189.6 599.1,188.5 599.3,188.0 599.5,188.1 599.7,187.3 599.9,185.4 600.1,183.5 600.3,181.9 600.5,180.9 600.7,181.4 600.9,182.7 601.1,183.3 601.3,183.2 601.5,183.4 601.6,184.2 601.8,185.7 602.0,187.2 602.2,188.2 602.4,188.9 602.6,190.1 602.8,191.6 603.0,192.9 603.2,193.5 603.4,193.0 603.6,191.6 603.8,190.5 604.0,190.5 604.2,190.8 604.4,190.5 604.6,189.3 604.8,187.5 605.0,185.9 605.2,185.2 605.4,185.0 605.6,184.6 605.8,184.1 606.0,184.0 606.2,184.2 606.4,185.0 606.6,186.5 606.8,187.7 607.0,187.9 607.2,187.6 607.4,187.6 607.6,188.1 607.8,189.4 608.0,190.8 608.2,191.1 608.4,190.6 608.6,189.8 608.8,189.1 609.0,188.4 609.2,187.8 609.4,186.7 609.6,185.6 609.8,185.3 609.9,185.2 610.1,184.8 610.3,184.7 610.5,184.6 610.7,183.9 610.9,183.6 611.1,184.6 611.3,185.9 611.5,186.6 611.7,186.8 611.9,186.9 612.1,187.8 612.3,189.5 612.5,190.6 612.7,190.7 612.9,190.3 613.1,189.7 613.3,189.5 613.5,190.4 613.7,191.4 613.9,191.3 614.1,189.7 614.3,188.0 614.5,187.5 614.7,188.5 614.9,189.5 615.1,189.3 615.3,188.0 615.5,186.5 615.7,185.8 615.9,186.7 616.1,188.3 616.3,188.6 616.5,187.6 616.7,186.5 616.9,185.9 617.1,185.8 617.3,186.3 617.5,186.6 617.7,186.4 617.9,185.9 618.1,185.2 618.2,184.6 618.4,184.1 618.6,183.8 618.8,183.7 619.0,184.2 619.2,185.1 619.4,186.0 619.6,186.5 619.8,186.6 620.0,186.3 620.2,186.5 620.4,187.9 620.6,189.5 620.8,190.5 621.0,190.8 621.2,191.4 621.4,192.2 621.6,192.9 621.8,193.1 622.0,192.5 622.2,191.2 622.4,190.3 622.6,190.4 622.8,191.0 623.0,191.2 623.2,190.1 623.4,187.9 623.6,186.2 623.8,185.8 624.0,186.0 624.2,185.8 624.4,184.9 624.6,183.7 624.8,183.2 625.0,183.7 625.2,184.3 625.4,184.3 625.6,184.4 625.8,184.1 626.0,183.6 626.2,184.4 626.4,185.9 626.6,186.5 626.7,186.6 626.9,186.8 627.1,186.9 627.3,187.3 627.5,188.1 627.7,188.7 627.9,189.0 628.1,189.1 628.3,189.0 628.5,189.5 628.7,190.4 628.9,190.5 629.1,190.0 629.3,189.9 629.5,189.6 629.7,189.2 629.9,189.4 630.1,189.8 630.3,189.6 630.5,189.6 630.7,189.6 630.9,188.8 631.1,187.8 631.3,187.0 631.5,186.2 631.7,186.4 631.9,187.2 632.1,187.3 632.3,187.0 632.5,187.0 632.7,186.3 632.9,185.5 633.1,185.4 633.3,185.2 633.5,184.6 633.7,185.2 633.9,186.4 634.1,187.0 634.3,186.9 634.5,186.6 634.7,186.0 634.9,185.8 635.0,186.1 635.2,186.4 635.4,187.0 635.6,187.9 635.8,188.5 636.0,188.7 636.2,189.0 636.4,189.2 636.6,189.0 636.8,188.9 637.0,189.1 637.2,189.7 637.4,190.4 637.6,190.3 637.8,189.6 638.0,189.0 638.2,188.7 638.4,188.3 638.6,187.4 638.8,186.7 639.0,186.4 639.2,186.1 639.4,185.7 639.6,185.5 639.8,185.1 640.0,184.5 640.2,184.0 640.4,184.1 640.6,184.5 640.8,185.8 641.0,187.6 641.2,188.7 641.4,189.0 641.6,189.3 641.8,189.6 642.0,189.9 642.2,190.8 642.4,191.8 642.6,192.2 642.8,192.4 643.0,192.2 643.2,191.3 643.4,190.4 643.5,189.7 643.7,188.3 643.9,186.2 644.1,184.9 644.3,184.2 644.5,183.5 644.7,183.2 644.9,183.2 645.1,182.7 645.3,182.0 645.5,181.7 645.7,181.9 645.9,182.6 646.1,183.6 646.3,184.7 646.5,186.2 646.7,187.8 646.9,189.3 647.1,190.6 647.3,191.7 647.5,191.8 647.7,191.4 647.9,191.6 648.1,192.4 648.3,192.8 648.5,192.6 648.7,192.0 648.9,191.3 649.1,190.5 649.3,189.7 649.5,188.5 649.7,187.0 649.9,186.0 650.1,185.7 650.3,185.9 650.5,186.3 650.7,186.0 650.9,185.1 651.1,184.2 651.3,184.1 651.5,184.8 651.7,186.0 651.8,186.7 652.0,186.9 652.2,186.9 652.4,186.8 652.6,186.8 652.8,186.9 653.0,187.0 653.2,186.9 653.4,187.0 653.6,187.6 653.8,188.0 654.0,188.0 654.2,187.7 654.4,187.0 654.6,186.4 654.8,186.6 655.0,187.5 655.2,188.4 655.4,188.8 655.6,188.5 655.8,188.2 656.0,188.8 656.2,189.3 656.4,189.1 656.6,188.8 656.8,188.7 657.0,188.7 657.2,188.9 657.4,189.1 657.6,188.6 657.8,188.0 658.0,187.6 658.2,187.2 658.4,187.0 658.6,187.0 658.8,186.6 659.0,186.1 659.2,186.0 659.4,186.3 659.6,186.5 659.8,186.7 660.0,186.8 660.1,186.8 660.3,187.1 660.5,187.4 660.7,187.5 660.9,187.8 661.1,188.0 661.3,188.1 661.5,188.2 661.7,188.4 661.9,188.2 662.1,187.9 662.3,187.8 662.5,187.8 662.7,187.6 662.9,187.5 663.1,187.3 663.3,187.0 663.5,186.9 663.7,186.8 663.9,186.9 664.1,187.1 664.3,187.1 664.5,187.1 664.7,187.1" fill="none" stroke="#ff0000" stroke-width="0.8" stroke-linejoin="round"/>
</g>
<rect x="491.5" y="134.2" width="181.4" height="106.7" fill="none" stroke="#1a1a1a" stroke-width="1.05"/>
<line x1="487.6" y1="262" x2="491.5" y2="262" stroke="#000" stroke-width="1.1"/>
<line x1="491.5" y1="288.6" x2="672.9" y2="288.6" stroke="#b0b0b0" stroke-width="1.1"/>
<line x1="487.6" y1="288.6" x2="491.5" y2="288.6" stroke="#000" stroke-width="1.1"/>
<line x1="491.5" y1="315.2" x2="672.9" y2="315.2" stroke="#b0b0b0" stroke-width="1.1"/>
<line x1="487.6" y1="315.2" x2="491.5" y2="315.2" stroke="#000" stroke-width="1.1"/>
<line x1="491.5" y1="341.8" x2="672.9" y2="341.8" stroke="#b0b0b0" stroke-width="1.1"/>
<line x1="487.6" y1="341.8" x2="491.5" y2="341.8" stroke="#000" stroke-width="1.1"/>
<line x1="487.6" y1="368.4" x2="491.5" y2="368.4" stroke="#000" stroke-width="1.1"/>
<line x1="491.5" y1="368.4" x2="491.5" y2="372" stroke="#000" stroke-width="1.1"/>
<text x="491.8" y="384.4" text-anchor="middle" font-size="11.5" textLength="25.1" lengthAdjust="spacingAndGlyphs">10<tspan font-size="8.28" dy="-4">−2</tspan></text>
<line x1="509.7" y1="368.4" x2="509.7" y2="370.5" stroke="#000" stroke-width="0.8"/>
<line x1="520.35" y1="368.4" x2="520.35" y2="370.5" stroke="#000" stroke-width="0.8"/>
<line x1="527.9" y1="368.4" x2="527.9" y2="370.5" stroke="#000" stroke-width="0.8"/>
<line x1="533.76" y1="368.4" x2="533.76" y2="370.5" stroke="#000" stroke-width="0.8"/>
<line x1="538.55" y1="368.4" x2="538.55" y2="370.5" stroke="#000" stroke-width="0.8"/>
<line x1="542.6" y1="368.4" x2="542.6" y2="370.5" stroke="#000" stroke-width="0.8"/>
<line x1="546.11" y1="368.4" x2="546.11" y2="370.5" stroke="#000" stroke-width="0.8"/>
<line x1="549.2" y1="368.4" x2="549.2" y2="370.5" stroke="#000" stroke-width="0.8"/>
<line x1="551.97" y1="368.4" x2="551.97" y2="372" stroke="#000" stroke-width="1.1"/>
<text x="552.27" y="384.4" text-anchor="middle" font-size="11.5" textLength="25.1" lengthAdjust="spacingAndGlyphs">10<tspan font-size="8.28" dy="-4">−1</tspan></text>
<line x1="570.17" y1="368.4" x2="570.17" y2="370.5" stroke="#000" stroke-width="0.8"/>
<line x1="580.82" y1="368.4" x2="580.82" y2="370.5" stroke="#000" stroke-width="0.8"/>
<line x1="588.37" y1="368.4" x2="588.37" y2="370.5" stroke="#000" stroke-width="0.8"/>
<line x1="594.23" y1="368.4" x2="594.23" y2="370.5" stroke="#000" stroke-width="0.8"/>
<line x1="599.02" y1="368.4" x2="599.02" y2="370.5" stroke="#000" stroke-width="0.8"/>
<line x1="603.07" y1="368.4" x2="603.07" y2="370.5" stroke="#000" stroke-width="0.8"/>
<line x1="606.57" y1="368.4" x2="606.57" y2="370.5" stroke="#000" stroke-width="0.8"/>
<line x1="609.67" y1="368.4" x2="609.67" y2="370.5" stroke="#000" stroke-width="0.8"/>
<line x1="612.43" y1="368.4" x2="612.43" y2="372" stroke="#000" stroke-width="1.1"/>
<text x="612.73" y="384.4" text-anchor="middle" font-size="11.5" textLength="19.2" lengthAdjust="spacingAndGlyphs">10<tspan font-size="8.28" dy="-4">0</tspan></text>
<line x1="630.64" y1="368.4" x2="630.64" y2="370.5" stroke="#000" stroke-width="0.8"/>
<line x1="641.28" y1="368.4" x2="641.28" y2="370.5" stroke="#000" stroke-width="0.8"/>
<line x1="648.84" y1="368.4" x2="648.84" y2="370.5" stroke="#000" stroke-width="0.8"/>
<line x1="654.7" y1="368.4" x2="654.7" y2="370.5" stroke="#000" stroke-width="0.8"/>
<line x1="659.49" y1="368.4" x2="659.49" y2="370.5" stroke="#000" stroke-width="0.8"/>
<line x1="663.53" y1="368.4" x2="663.53" y2="370.5" stroke="#000" stroke-width="0.8"/>
<line x1="667.04" y1="368.4" x2="667.04" y2="370.5" stroke="#000" stroke-width="0.8"/>
<line x1="670.13" y1="368.4" x2="670.13" y2="370.5" stroke="#000" stroke-width="0.8"/>
<line x1="672.9" y1="368.4" x2="672.9" y2="372" stroke="#000" stroke-width="1.1"/>
<text x="673.2" y="384.4" text-anchor="middle" font-size="11.5" textLength="19.2" lengthAdjust="spacingAndGlyphs">10<tspan font-size="8.28" dy="-4">1</tspan></text>
<g clip-path="url(#clip22)">
<path d="M461.5,309.3 514.9,309.3 533.1,311.0 543.8,313.4 551.3,313.4 557.2,312.8 562.0,321.5 566.0,318.0 569.5,314.5 572.6,315.2 575.4,320.4 577.9,324.1 580.2,320.5 582.3,323.2 584.2,320.5 586.1,325.3 587.7,343.6 589.3,332.2 590.8,336.6 592.3,336.3 593.6,332.5 594.9,324.8 596.1,339.4 597.3,336.8 598.4,344.3 599.5,326.1 600.5,334.4 601.5,338.7 602.4,338.1 603.4,328.6 604.3,345.8 605.1,330.4 606.0,332.8 606.8,335.9 607.5,339.1 608.3,329.0 609.0,340.1 609.8,338.6 610.5,341.6 611.1,349.1 611.8,331.0 612.5,336.2 613.1,334.0 613.7,334.9 614.3,332.1 614.9,343.8 615.5,332.4 616.0,342.3 616.6,336.2 617.1,337.3 617.7,340.7 618.2,351.0 618.7,341.3 619.2,331.7 619.7,342.1 620.2,335.8 620.6,344.0 621.1,348.0 621.6,333.7 622.0,340.5 622.5,354.5 622.9,341.4 623.3,354.8 623.7,342.2 624.2,342.2 624.6,351.1 625.0,340.3 625.4,339.6 625.7,339.5 626.1,338.8 626.5,334.3 626.9,355.8 627.2,345.5 627.6,338.1 628.0,353.3 628.3,347.7 628.7,340.3 629.0,339.8 629.3,341.5 629.7,340.8 630.0,339.9 630.3,339.8 630.7,342.4 631.0,345.7 631.3,339.9 631.6,337.9 631.9,356.1 632.2,348.3 632.5,347.4 632.8,345.9 633.1,337.7 633.4,342.3 633.7,338.8 634.0,350.7 634.2,348.2 634.5,342.8 634.8,343.0 635.1,339.6 635.3,344.8 635.6,343.3 635.9,352.7 636.1,339.7 636.4,344.1 636.6,337.0 636.9,353.7 637.2,350.6 637.4,344.0 637.6,339.2 637.9,353.3 638.1,347.0 638.4,343.6 638.6,344.6 638.8,345.0 639.1,348.3 639.3,345.7 639.5,348.1 639.8,352.1 640.0,349.3 640.2,348.1 640.4,340.9 640.7,341.7 640.9,349.5 641.1,340.3 641.3,355.7 641.5,343.9 641.7,350.6 641.9,351.7 642.1,344.6 642.4,343.8 642.6,343.0 642.8,349.6 643.0,346.6 643.2,341.7 643.4,343.6 643.6,345.5 643.8,346.8 643.9,344.0 644.1,348.2 644.3,344.0 644.5,350.3 644.7,342.9 644.9,347.1 645.1,348.1 645.3,353.7 645.4,346.9 645.6,354.8 645.8,349.1 646.0,339.1 646.2,345.9 646.3,347.5 646.5,352.9 646.7,340.3 646.9,349.5 647.0,355.5 647.2,345.6 647.4,361.5 647.6,346.3 647.7,346.5 647.9,355.7 648.1,356.8 648.2,343.7 648.4,346.2 648.5,342.9 648.7,346.3 648.9,360.8 649.0,351.2 649.2,349.9 649.3,343.1 649.5,344.5 649.7,344.7 649.8,343.2 650.0,349.7 650.1,352.4 650.3,349.7 650.4,341.1 650.6,353.1 650.7,355.7 650.9,341.8 651.0,343.3 651.2,350.3 651.3,359.6 651.5,356.5 651.6,343.2 651.7,344.2 651.9,347.3 652.0,346.0 652.2,350.2 652.3,354.9 652.5,352.0 652.6,360.4 652.7,354.3 652.9,355.8 653.0,350.8 653.1,355.8 653.3,350.2 653.4,346.4 653.5,357.5 653.7,349.9 653.8,363.0 653.9,345.9 654.1,349.0 654.2,347.9 654.3,351.2 654.5,363.1 654.6,358.7 654.7,352.9 654.9,353.9 655.0,348.7 655.1,352.1 655.2,354.0 655.4,343.7 655.5,353.0 655.6,350.8 655.7,350.5 655.9,348.4 656.0,342.9 656.1,352.2 656.2,346.7 656.3,347.9 656.5,352.9 656.6,346.1 656.7,355.3 656.8,356.9 656.9,354.9 657.1,347.1 657.2,349.2 657.3,347.5 657.4,350.7 657.5,351.1 657.6,349.8 657.7,353.6 657.9,358.7 658.0,353.7 658.1,359.2 658.2,350.5 658.3,344.9 658.4,353.2 658.5,358.8 658.6,363.1 658.8,348.9 658.9,346.8 659.0,360.3 659.1,350.4 659.2,354.9 659.3,347.8 659.4,350.1 659.5,353.2 659.6,346.2 659.7,347.2 659.8,350.2 659.9,349.9 660.0,351.2 660.1,359.6 660.2,347.0 660.4,352.6 660.5,349.9 660.6,350.6 660.7,353.7 660.8,357.0 660.9,344.0 661.0,354.2 661.1,351.6 661.2,354.3 661.3,351.6 661.4,349.9 661.5,348.0 661.6,361.3 661.7,351.2 661.8,363.4 661.9,347.9 662.0,351.0 662.1,344.8 662.1,361.6 662.2,350.1 662.3,353.4 662.4,351.5 662.5,364.9 662.6,355.4 662.7,352.7 662.8,346.5 662.9,347.9 663.0,343.2 663.1,361.4 663.2,358.9 663.3,352.8 663.4,360.1 663.5,347.9 663.6,354.2 663.7,344.0 663.7,345.4 663.8,361.6 663.9,349.7 664.0,353.9 664.1,353.5 664.2,359.9 664.3,352.1 664.4,365.3 664.5,361.7 664.5,356.0 664.6,352.8 664.7,345.5 664.8,346.1 664.9,349.7 665.0,364.6 665.1,354.4 665.2,353.5 665.2,349.9 665.3,358.9 665.4,345.4 665.5,352.6 665.6,353.3 665.7,351.1 665.8,358.2 665.8,360.9 665.9,353.1 666.0,361.1 666.1,347.3 666.2,360.4 666.3,358.4 666.3,358.0 666.4,350.6 666.5,350.7 666.6,355.1 666.7,352.0 666.7,365.8 666.8,346.5 666.9,356.4 667.0,351.5 667.1,358.5 667.1,356.2 667.2,346.4 667.3,365.3 667.4,354.7 667.5,347.9 667.5,351.3 667.6,352.0 667.7,352.3 667.8,365.3 667.9,355.3 667.9,356.0 668.0,362.5 668.1,352.4 668.2,356.0 668.2,350.8 668.3,347.5 668.4,362.3 668.5,366.2 668.5,351.4 668.6,366.2 668.7,355.4 668.8,363.8 668.8,350.3 668.9,366.3 669.0,362.5 669.1,347.6 669.1,358.5 669.2,346.8 669.3,352.4 669.4,352.6 669.4,350.9 669.5,355.4 669.6,358.4 669.7,352.6 669.7,348.4 669.8,360.5 669.9,357.8 669.9,348.0 670.0,352.2 670.1,354.9 670.2,353.6 670.2,357.8 670.3,357.5 670.4,362.9 670.4,351.4 670.5,348.1 670.6,351.0 670.7,348.2 670.7,360.8 670.8,359.6 670.9,354.0 670.9,357.6 671.0,354.9 671.1,351.9 671.1,347.6 671.2,358.7 671.3,347.8 671.3,361.2 671.4,354.6 671.5,347.9 671.5,346.2 671.6,353.1 671.7,350.5 671.7,355.8 671.8,362.7 671.9,346.0 671.9,354.4 672.0,352.9 672.1,365.1 672.1,348.0 672.2,356.3 672.3,353.1 672.3,355.4 672.4,350.9 672.5,354.6 672.5,357.7 672.6,365.6 672.7,358.1 672.7,347.3 672.8,348.1 672.9,355.0 672.9,357.3" fill="none" stroke="#000000" stroke-width="0.7" stroke-linejoin="round"/>
<path d="M461.5,301.3 514.9,301.3 533.1,309.3 543.8,312.8 551.3,310.4 557.2,312.8 562.0,315.7 566.0,319.2 569.5,323.3 572.6,320.4 575.4,322.8 577.9,326.2 580.2,325.0 582.3,325.0 584.2,324.5 586.1,327.3 587.7,338.0 589.3,341.0 590.8,335.2 592.3,330.4 593.6,334.6 594.9,329.4 596.1,338.2 597.3,328.1 598.4,330.4 599.5,333.9 600.5,336.5 601.5,336.4 602.4,345.5 603.4,341.6 604.3,335.3 605.1,338.4 606.0,332.9 606.8,336.0 607.5,341.7 608.3,338.7 609.0,337.3 609.8,340.6 610.5,341.2 611.1,336.4 611.8,342.0 612.5,334.8 613.1,334.8 613.7,336.3 614.3,349.8 614.9,336.5 615.5,335.8 616.0,336.9 616.6,344.0 617.1,343.5 617.7,346.9 618.2,343.3 618.7,353.2 619.2,347.4 619.7,337.4 620.2,332.0 620.6,341.9 621.1,345.4 621.6,343.9 622.0,344.5 622.5,349.8 622.9,339.4 623.3,338.4 623.7,338.0 624.2,331.9 624.6,336.6 625.0,337.9 625.4,340.3 625.7,343.2 626.1,355.6 626.5,341.1 626.9,343.3 627.2,339.0 627.6,337.6 628.0,346.7 628.3,356.2 628.7,341.8 629.0,336.9 629.3,342.6 629.7,338.0 630.0,343.2 630.3,340.6 630.7,348.2 631.0,352.0 631.3,351.8 631.6,352.9 631.9,356.7 632.2,339.8 632.5,346.5 632.8,347.3 633.1,343.0 633.4,351.1 633.7,339.6 634.0,341.7 634.2,348.5 634.5,351.0 634.8,346.3 635.1,349.1 635.3,356.1 635.6,346.8 635.9,339.4 636.1,343.5 636.4,338.0 636.6,340.1 636.9,343.2 637.2,340.8 637.4,345.5 637.6,343.6 637.9,348.8 638.1,351.6 638.4,340.4 638.6,353.9 638.8,352.6 639.1,350.1 639.3,344.6 639.5,348.9 639.8,346.4 640.0,340.8 640.2,342.5 640.4,344.0 640.7,353.5 640.9,344.0 641.1,348.8 641.3,355.3 641.5,349.6 641.7,358.2 641.9,345.6 642.1,345.4 642.4,351.3 642.6,360.1 642.8,340.4 643.0,346.5 643.2,343.5 643.4,350.7 643.6,343.0 643.8,343.2 643.9,357.5 644.1,337.4 644.3,347.8 644.5,344.2 644.7,352.9 644.9,346.1 645.1,352.2 645.3,343.7 645.4,349.9 645.6,347.4 645.8,349.4 646.0,347.7 646.2,350.0 646.3,348.8 646.5,361.3 646.7,344.2 646.9,342.0 647.0,349.3 647.2,340.6 647.4,355.5 647.6,341.6 647.7,351.8 647.9,348.8 648.1,342.4 648.2,357.1 648.4,355.1 648.5,345.5 648.7,347.1 648.9,353.2 649.0,351.1 649.2,348.6 649.3,344.0 649.5,352.3 649.7,348.6 649.8,352.4 650.0,353.2 650.1,343.6 650.3,350.3 650.4,346.0 650.6,353.4 650.7,355.8 650.9,346.9 651.0,345.8 651.2,347.8 651.3,346.8 651.5,347.6 651.6,347.2 651.7,343.7 651.9,342.6 652.0,349.8 652.2,359.7 652.3,346.2 652.5,348.7 652.6,343.5 652.7,347.7 652.9,357.7 653.0,347.7 653.1,350.8 653.3,358.7 653.4,354.5 653.5,341.9 653.7,352.6 653.8,354.9 653.9,352.2 654.1,344.6 654.2,347.8 654.3,356.3 654.5,363.1 654.6,352.4 654.7,357.7 654.9,344.8 655.0,359.5 655.1,350.3 655.2,348.4 655.4,343.3 655.5,354.7 655.6,345.8 655.7,349.9 655.9,345.9 656.0,353.7 656.1,354.1 656.2,355.5 656.3,348.5 656.5,350.9 656.6,349.5 656.7,347.6 656.8,348.1 656.9,348.6 657.1,347.2 657.2,363.7 657.3,346.9 657.4,347.7 657.5,353.1 657.6,356.1 657.7,350.7 657.9,345.6 658.0,354.6 658.1,347.3 658.2,343.7 658.3,353.7 658.4,342.0 658.5,363.1 658.6,364.0 658.8,346.2 658.9,351.4 659.0,351.8 659.1,346.0 659.2,344.9 659.3,350.3 659.4,345.7 659.5,349.4 659.6,352.9 659.7,356.5 659.8,347.9 659.9,345.7 660.0,344.7 660.1,355.5 660.2,349.5 660.4,352.9 660.5,347.0 660.6,357.1 660.7,363.7 660.8,354.7 660.9,362.8 661.0,353.5 661.1,353.3 661.2,360.6 661.3,344.2 661.4,355.8 661.5,349.0 661.6,357.8 661.7,353.2 661.8,361.8 661.9,360.5 662.0,364.8 662.1,347.6 662.1,355.1 662.2,351.8 662.3,350.7 662.4,358.6 662.5,344.8 662.6,353.1 662.7,362.9 662.8,361.2 662.9,353.6 663.0,360.4 663.1,355.8 663.2,351.7 663.3,365.1 663.4,355.3 663.5,348.1 663.6,363.2 663.7,350.5 663.7,365.1 663.8,345.5 663.9,357.2 664.0,357.4 664.1,350.0 664.2,346.4 664.3,344.7 664.4,348.9 664.5,347.8 664.5,350.1 664.6,358.7 664.7,349.8 664.8,359.4 664.9,350.7 665.0,351.9 665.1,355.7 665.2,352.4 665.2,351.2 665.3,357.9 665.4,355.0 665.5,355.0 665.6,361.6 665.7,356.9 665.8,350.7 665.8,349.9 665.9,353.6 666.0,353.4 666.1,355.4 666.2,350.1 666.3,355.4 666.3,351.1 666.4,353.1 666.5,353.5 666.6,345.7 666.7,347.2 666.7,351.2 666.8,350.2 666.9,360.5 667.0,354.9 667.1,349.8 667.1,351.0 667.2,358.2 667.3,345.5 667.4,366.0 667.5,350.6 667.5,362.8 667.6,346.8 667.7,363.3 667.8,349.1 667.9,359.7 667.9,343.8 668.0,354.0 668.1,350.5 668.2,351.4 668.2,353.3 668.3,349.5 668.4,352.9 668.5,346.4 668.5,365.2 668.6,343.1 668.7,352.4 668.8,357.5 668.8,354.1 668.9,350.4 669.0,351.5 669.1,347.9 669.1,347.5 669.2,351.8 669.3,349.3 669.4,353.6 669.4,362.3 669.5,354.6 669.6,357.7 669.7,348.3 669.7,359.0 669.8,350.5 669.9,347.6 669.9,361.7 670.0,352.0 670.1,347.0 670.2,355.0 670.2,355.3 670.3,353.8 670.4,359.6 670.4,360.3 670.5,346.2 670.6,347.5 670.7,354.5 670.7,357.5 670.8,350.4 670.9,344.6 670.9,348.1 671.0,355.5 671.1,354.0 671.1,351.5 671.2,353.4 671.3,357.6 671.3,357.6 671.4,351.6 671.5,345.9 671.5,360.2 671.6,351.2 671.7,347.3 671.7,366.9 671.8,355.1 671.9,350.7 671.9,348.1 672.0,347.0 672.1,357.6 672.1,365.3 672.2,357.5 672.3,353.3 672.3,358.8 672.4,356.4 672.5,350.5 672.5,367.1 672.6,349.5 672.7,367.1 672.7,352.5 672.8,366.3 672.9,358.0 672.9,355.0" fill="none" stroke="#0000ff" stroke-width="0.7" stroke-linejoin="round"/>
<path d="M461.5,310.1 514.9,310.1 533.1,319.8 543.8,316.3 551.3,321.0 557.2,325.0 562.0,325.6 566.0,323.9 569.5,329.1 572.6,323.9 575.4,321.8 577.9,325.0 580.2,323.9 582.3,333.2 584.2,327.6 586.1,328.0 587.7,343.6 589.3,336.6 590.8,334.3 592.3,330.2 593.6,332.1 594.9,324.7 596.1,331.2 597.3,328.8 598.4,339.2 599.5,328.2 600.5,347.0 601.5,335.4 602.4,338.4 603.4,331.0 604.3,338.6 605.1,336.4 606.0,337.3 606.8,342.7 607.5,330.9 608.3,333.2 609.0,349.9 609.8,336.7 610.5,338.4 611.1,340.8 611.8,338.4 612.5,350.5 613.1,337.0 613.7,351.5 614.3,337.4 614.9,332.9 615.5,347.0 616.0,348.4 616.6,341.8 617.1,336.5 617.7,336.7 618.2,347.0 618.7,353.2 619.2,331.9 619.7,337.1 620.2,339.3 620.6,340.3 621.1,337.9 621.6,339.7 622.0,337.1 622.5,341.1 622.9,354.6 623.3,351.7 623.7,337.4 624.2,340.4 624.6,338.3 625.0,345.7 625.4,338.0 625.7,349.2 626.1,337.2 626.5,344.6 626.9,335.8 627.2,345.7 627.6,341.5 628.0,334.7 628.3,342.5 628.7,334.2 629.0,343.3 629.3,341.4 629.7,339.1 630.0,338.5 630.3,341.4 630.7,341.3 631.0,346.5 631.3,339.5 631.6,344.9 631.9,340.0 632.2,350.1 632.5,342.2 632.8,341.9 633.1,344.1 633.4,348.4 633.7,346.8 634.0,347.9 634.2,348.4 634.5,339.4 634.8,338.1 635.1,341.4 635.3,343.2 635.6,350.6 635.9,345.6 636.1,335.6 636.4,342.1 636.6,346.8 636.9,342.7 637.2,343.6 637.4,341.6 637.6,340.6 637.9,340.3 638.1,337.4 638.4,352.5 638.6,347.3 638.8,349.9 639.1,344.1 639.3,348.2 639.5,346.0 639.8,347.4 640.0,337.9 640.2,347.9 640.4,349.8 640.7,340.4 640.9,349.6 641.1,338.7 641.3,342.0 641.5,340.4 641.7,341.7 641.9,345.0 642.1,353.7 642.4,350.6 642.6,344.9 642.8,360.2 643.0,354.5 643.2,345.1 643.4,358.1 643.6,349.2 643.8,339.7 643.9,355.9 644.1,350.1 644.3,344.3 644.5,344.0 644.7,342.9 644.9,347.5 645.1,347.8 645.3,350.0 645.4,341.4 645.6,348.9 645.8,350.7 646.0,359.2 646.2,347.0 646.3,349.9 646.5,354.2 646.7,346.7 646.9,341.6 647.0,348.3 647.2,343.9 647.4,342.4 647.6,343.1 647.7,343.6 647.9,355.4 648.1,349.2 648.2,352.0 648.4,342.2 648.5,352.1 648.7,350.3 648.9,342.0 649.0,347.4 649.2,354.7 649.3,348.9 649.5,347.7 649.7,358.6 649.8,353.1 650.0,356.9 650.1,347.8 650.3,345.2 650.4,349.0 650.6,345.3 650.7,342.8 650.9,345.2 651.0,362.4 651.2,348.7 651.3,347.6 651.5,354.0 651.6,353.8 651.7,350.2 651.9,359.7 652.0,342.6 652.2,340.6 652.3,344.5 652.5,347.8 652.6,354.0 652.7,362.2 652.9,344.2 653.0,347.5 653.1,344.2 653.3,343.2 653.4,362.9 653.5,345.5 653.7,344.9 653.8,353.1 653.9,355.0 654.1,348.1 654.2,346.7 654.3,347.8 654.5,363.1 654.6,342.4 654.7,342.9 654.9,355.1 655.0,355.7 655.1,349.8 655.2,350.1 655.4,361.9 655.5,350.4 655.6,352.9 655.7,347.8 655.9,346.8 656.0,354.2 656.1,355.8 656.2,350.8 656.3,346.3 656.5,347.1 656.6,349.6 656.7,363.0 656.8,351.6 656.9,349.4 657.1,354.1 657.2,346.1 657.3,350.9 657.4,351.7 657.5,363.8 657.6,347.1 657.7,359.6 657.9,359.2 658.0,347.0 658.1,345.6 658.2,349.8 658.3,345.1 658.4,347.1 658.5,352.6 658.6,364.0 658.8,357.3 658.9,359.7 659.0,350.4 659.1,350.2 659.2,348.0 659.3,349.9 659.4,348.7 659.5,352.0 659.6,353.7 659.7,353.0 659.8,352.4 659.9,351.3 660.0,355.0 660.1,346.4 660.2,349.4 660.4,358.8 660.5,352.4 660.6,346.5 660.7,350.4 660.8,359.3 660.9,353.4 661.0,355.6 661.1,350.4 661.2,349.4 661.3,350.5 661.4,353.0 661.5,350.4 661.6,360.2 661.7,344.8 661.8,353.6 661.9,349.8 662.0,355.6 662.1,356.0 662.1,351.2 662.2,343.7 662.3,348.8 662.4,348.6 662.5,347.4 662.6,349.6 662.7,351.9 662.8,360.5 662.9,359.1 663.0,349.2 663.1,356.9 663.2,360.8 663.3,364.3 663.4,360.6 663.5,362.1 663.6,346.6 663.7,360.4 663.7,355.1 663.8,352.3 663.9,354.7 664.0,355.8 664.1,360.6 664.2,344.8 664.3,346.7 664.4,348.9 664.5,354.5 664.5,344.7 664.6,346.2 664.7,356.5 664.8,350.6 664.9,365.4 665.0,344.8 665.1,348.0 665.2,361.1 665.2,350.4 665.3,353.7 665.4,364.4 665.5,351.5 665.6,356.4 665.7,354.3 665.8,353.8 665.8,350.4 665.9,349.7 666.0,343.6 666.1,357.0 666.2,349.4 666.3,354.8 666.3,351.1 666.4,351.6 666.5,347.8 666.6,346.8 666.7,349.0 666.7,354.8 666.8,350.0 666.9,352.7 667.0,355.4 667.1,365.1 667.1,348.7 667.2,348.2 667.3,350.0 667.4,348.8 667.5,361.4 667.5,366.0 667.6,363.9 667.7,356.7 667.8,346.8 667.9,356.9 667.9,354.9 668.0,362.8 668.1,359.7 668.2,357.2 668.2,348.4 668.3,353.8 668.4,343.9 668.5,348.3 668.5,363.7 668.6,355.4 668.7,344.2 668.8,363.1 668.8,351.1 668.9,346.1 669.0,356.2 669.1,360.1 669.1,348.3 669.2,353.4 669.3,349.9 669.4,351.7 669.4,352.7 669.5,354.6 669.6,351.6 669.7,348.5 669.7,349.8 669.8,353.3 669.9,365.3 669.9,363.2 670.0,356.4 670.1,351.7 670.2,358.1 670.2,349.9 670.3,351.7 670.4,363.6 670.4,353.3 670.5,357.2 670.6,342.9 670.7,356.3 670.7,350.6 670.8,352.4 670.9,345.3 670.9,366.8 671.0,356.7 671.1,352.2 671.1,348.9 671.2,366.8 671.3,351.4 671.3,348.4 671.4,353.5 671.5,356.2 671.5,366.9 671.6,352.7 671.7,352.3 671.7,350.4 671.8,346.6 671.9,345.7 671.9,350.6 672.0,367.0 672.1,357.0 672.1,355.4 672.2,359.8 672.3,353.1 672.3,356.1 672.4,351.1 672.5,353.3 672.5,367.1 672.6,359.5 672.7,367.1 672.7,360.0 672.8,360.3 672.9,348.5 672.9,354.4" fill="none" stroke="#ff0000" stroke-width="0.7" stroke-linejoin="round"/>
</g>
<rect x="491.5" y="262" width="181.4" height="106.4" fill="none" stroke="#1a1a1a" stroke-width="1.05"/>
<line x1="491.5" y1="404.6" x2="672.9" y2="404.6" stroke="#b0b0b0" stroke-width="1.1"/>
<line x1="487.6" y1="404.6" x2="491.5" y2="404.6" stroke="#000" stroke-width="1.1"/>
<line x1="491.5" y1="435.1" x2="672.9" y2="435.1" stroke="#b0b0b0" stroke-width="1.1"/>
<line x1="487.6" y1="435.1" x2="491.5" y2="435.1" stroke="#000" stroke-width="1.1"/>
<line x1="491.5" y1="465.6" x2="672.9" y2="465.6" stroke="#b0b0b0" stroke-width="1.1"/>
<line x1="487.6" y1="465.6" x2="491.5" y2="465.6" stroke="#000" stroke-width="1.1"/>
<line x1="487.6" y1="496.1" x2="491.5" y2="496.1" stroke="#000" stroke-width="1.1"/>
<line x1="491.5" y1="496.1" x2="491.5" y2="499.7" stroke="#000" stroke-width="1.1"/>
<text x="491.8" y="512.1" text-anchor="middle" font-size="11.5" textLength="25.1" lengthAdjust="spacingAndGlyphs">10<tspan font-size="8.28" dy="-4">−2</tspan></text>
<line x1="509.7" y1="496.1" x2="509.7" y2="498.2" stroke="#000" stroke-width="0.8"/>
<line x1="520.35" y1="496.1" x2="520.35" y2="498.2" stroke="#000" stroke-width="0.8"/>
<line x1="527.9" y1="496.1" x2="527.9" y2="498.2" stroke="#000" stroke-width="0.8"/>
<line x1="533.76" y1="496.1" x2="533.76" y2="498.2" stroke="#000" stroke-width="0.8"/>
<line x1="538.55" y1="496.1" x2="538.55" y2="498.2" stroke="#000" stroke-width="0.8"/>
<line x1="542.6" y1="496.1" x2="542.6" y2="498.2" stroke="#000" stroke-width="0.8"/>
<line x1="546.11" y1="496.1" x2="546.11" y2="498.2" stroke="#000" stroke-width="0.8"/>
<line x1="549.2" y1="496.1" x2="549.2" y2="498.2" stroke="#000" stroke-width="0.8"/>
<line x1="551.97" y1="496.1" x2="551.97" y2="499.7" stroke="#000" stroke-width="1.1"/>
<text x="552.27" y="512.1" text-anchor="middle" font-size="11.5" textLength="25.1" lengthAdjust="spacingAndGlyphs">10<tspan font-size="8.28" dy="-4">−1</tspan></text>
<line x1="570.17" y1="496.1" x2="570.17" y2="498.2" stroke="#000" stroke-width="0.8"/>
<line x1="580.82" y1="496.1" x2="580.82" y2="498.2" stroke="#000" stroke-width="0.8"/>
<line x1="588.37" y1="496.1" x2="588.37" y2="498.2" stroke="#000" stroke-width="0.8"/>
<line x1="594.23" y1="496.1" x2="594.23" y2="498.2" stroke="#000" stroke-width="0.8"/>
<line x1="599.02" y1="496.1" x2="599.02" y2="498.2" stroke="#000" stroke-width="0.8"/>
<line x1="603.07" y1="496.1" x2="603.07" y2="498.2" stroke="#000" stroke-width="0.8"/>
<line x1="606.57" y1="496.1" x2="606.57" y2="498.2" stroke="#000" stroke-width="0.8"/>
<line x1="609.67" y1="496.1" x2="609.67" y2="498.2" stroke="#000" stroke-width="0.8"/>
<line x1="612.43" y1="496.1" x2="612.43" y2="499.7" stroke="#000" stroke-width="1.1"/>
<text x="612.73" y="512.1" text-anchor="middle" font-size="11.5" textLength="19.2" lengthAdjust="spacingAndGlyphs">10<tspan font-size="8.28" dy="-4">0</tspan></text>
<line x1="630.64" y1="496.1" x2="630.64" y2="498.2" stroke="#000" stroke-width="0.8"/>
<line x1="641.28" y1="496.1" x2="641.28" y2="498.2" stroke="#000" stroke-width="0.8"/>
<line x1="648.84" y1="496.1" x2="648.84" y2="498.2" stroke="#000" stroke-width="0.8"/>
<line x1="654.7" y1="496.1" x2="654.7" y2="498.2" stroke="#000" stroke-width="0.8"/>
<line x1="659.49" y1="496.1" x2="659.49" y2="498.2" stroke="#000" stroke-width="0.8"/>
<line x1="663.53" y1="496.1" x2="663.53" y2="498.2" stroke="#000" stroke-width="0.8"/>
<line x1="667.04" y1="496.1" x2="667.04" y2="498.2" stroke="#000" stroke-width="0.8"/>
<line x1="670.13" y1="496.1" x2="670.13" y2="498.2" stroke="#000" stroke-width="0.8"/>
<line x1="672.9" y1="496.1" x2="672.9" y2="499.7" stroke="#000" stroke-width="1.1"/>
<text x="673.2" y="512.1" text-anchor="middle" font-size="11.5" textLength="19.2" lengthAdjust="spacingAndGlyphs">10<tspan font-size="8.28" dy="-4">1</tspan></text>
<g clip-path="url(#clip23)">
<path d="M527.7 421.6h0M538.4 434.8h0M551.8 429.5h0M560.6 424.3h0M570.0 432.8h0M576.9 434.9h0M585.4 441.9h0M586.9 433.5h0M589.5 424.7h0M590.7 425.6h0M597.0 429.2h0M600.5 430.6h0M602.9 426.2h0M610.1 423.3h0M616.2 441.2h0M616.6 426.6h0M618.3 430.2h0M618.7 430.9h0M626.5 414.1h0M627.1 423.5h0M627.7 431.5h0M628.8 414.5h0M629.1 416.4h0M629.9 418.6h0M630.5 420.8h0M632.5 426.6h0M633.0 412.7h0M634.8 416.6h0M636.1 412.9h0M636.5 406.6h0M638.0 419.9h0M638.7 436.2h0M639.1 426.7h0M640.4 430.9h0M641.5 416.5h0M641.8 419.6h0M642.0 414.2h0M643.5 415.0h0M644.6 422.9h0M645.6 411.4h0M646.2 415.2h0M646.8 428.4h0M647.3 411.3h0M648.0 424.2h0M649.3 420.4h0M650.4 419.7h0M652.2 412.8h0M652.5 419.1h0M652.6 413.6h0M652.7 420.9h0M654.4 403.9h0M654.6 408.1h0M654.8 406.0h0M655.5 419.1h0M655.6 419.0h0M656.0 412.8h0M656.1 407.4h0M656.4 407.8h0M657.6 424.2h0M659.0 410.3h0M659.4 413.3h0M661.1 414.7h0M661.2 409.4h0M661.9 411.0h0M662.2 401.9h0M662.8 406.4h0M663.0 417.0h0M663.1 412.6h0M663.5 414.3h0M663.6 419.0h0M663.8 427.0h0M664.1 408.1h0M664.9 410.9h0M665.2 412.5h0M665.7 406.5h0M665.7 402.6h0M665.8 411.4h0M665.9 410.8h0M666.1 400.1h0M666.9 407.2h0M667.3 413.4h0M667.9 418.4h0M668.4 398.5h0M668.6 414.9h0M668.8 409.0h0M669.0 409.1h0M669.2 414.2h0M669.3 410.2h0M670.4 397.9h0M670.7 408.5h0M670.7 412.7h0M671.0 410.0h0M671.5 430.8h0M671.7 412.1h0M672.7 401.3h0M672.7 410.4h0" stroke="#000000" stroke-width="2.3" stroke-linecap="round"/>
<path d="M527.7 436.2h0M560.6 444.2h0M572.5 429.3h0M583.9 438.0h0M585.4 430.5h0M589.5 423.7h0M590.7 428.6h0M593.0 435.8h0M597.0 426.6h0M598.0 426.0h0M598.8 426.4h0M601.4 424.2h0M603.6 421.3h0M606.4 422.8h0M609.5 431.0h0M610.6 430.3h0M617.5 426.6h0M618.3 426.6h0M619.6 422.3h0M620.3 412.4h0M621.1 422.9h0M623.3 434.9h0M625.3 421.8h0M627.1 418.2h0M628.0 419.3h0M628.8 414.1h0M629.1 418.1h0M629.4 415.6h0M629.7 405.5h0M630.2 417.2h0M631.0 406.6h0M632.0 421.7h0M633.4 422.4h0M634.1 422.9h0M636.7 414.1h0M637.2 412.0h0M638.0 415.6h0M638.1 413.1h0M639.7 403.6h0M640.2 408.3h0M640.4 417.4h0M642.3 413.1h0M643.0 418.4h0M643.6 410.9h0M643.8 410.9h0M644.4 416.1h0M645.6 411.0h0M646.6 407.4h0M648.0 423.1h0M648.3 413.6h0M649.9 412.2h0M651.8 421.6h0M652.6 393.9h0M653.2 422.1h0M653.7 408.2h0M653.8 418.6h0M654.6 417.7h0M655.3 426.4h0M655.4 423.1h0M655.6 420.6h0M655.8 419.0h0M656.0 416.2h0M656.7 405.3h0M656.8 408.8h0M657.0 418.2h0M659.3 416.2h0M659.4 416.8h0M660.6 411.1h0M660.7 412.1h0M661.1 410.6h0M661.3 400.7h0M661.6 407.0h0M661.9 411.3h0M662.4 413.5h0M662.5 415.1h0M662.7 412.4h0M662.8 406.8h0M663.2 408.9h0M663.3 418.8h0M663.6 400.1h0M664.1 421.8h0M664.2 416.7h0M664.6 420.9h0M665.0 414.0h0M665.7 411.5h0M665.9 417.7h0M666.0 420.2h0M666.1 406.2h0M666.3 418.5h0M666.5 418.5h0M666.6 410.3h0M667.0 417.7h0M667.4 412.1h0M667.6 421.4h0M667.6 418.1h0M667.8 411.6h0M668.0 408.3h0M668.2 412.0h0M668.5 403.3h0M668.9 406.8h0M669.0 423.0h0M669.1 412.2h0M669.2 413.9h0M669.5 413.1h0M669.7 409.3h0M669.8 406.7h0M670.3 416.8h0M670.5 414.5h0M671.1 412.6h0M671.4 399.5h0M671.8 418.1h0M671.9 417.1h0M672.1 407.8h0M672.4 395.3h0M672.4 408.9h0M672.6 401.8h0M672.8 409.5h0M672.9 403.5h0" stroke="#0000ff" stroke-width="2.3" stroke-linecap="round"/>
<path d="M538.4 402.7h0M556.6 428.3h0M564.1 430.9h0M570.0 432.9h0M574.8 435.6h0M578.8 425.6h0M586.9 431.8h0M589.5 424.3h0M593.0 423.6h0M606.4 419.1h0M607.7 415.2h0M609.5 414.1h0M610.1 409.7h0M611.7 415.2h0M612.3 421.6h0M614.8 416.9h0M615.2 414.2h0M616.2 419.5h0M617.0 420.3h0M620.3 418.6h0M620.7 422.8h0M622.2 408.0h0M622.6 407.4h0M622.9 400.3h0M624.9 423.2h0M626.8 410.7h0M627.4 404.1h0M628.0 409.2h0M628.3 396.3h0M628.6 404.6h0M629.1 406.3h0M629.7 409.9h0M629.9 412.4h0M631.0 401.1h0M631.5 406.2h0M633.2 399.8h0M634.1 400.1h0M634.4 402.8h0M634.6 404.7h0M635.5 417.3h0M635.9 398.2h0M636.5 404.2h0M636.9 396.8h0M637.4 389.4h0M638.0 407.3h0M638.1 406.3h0M638.9 411.6h0M639.3 411.0h0M639.5 417.8h0M640.2 416.3h0M640.9 412.8h0M641.1 403.4h0M641.5 411.9h0M642.0 409.6h0M642.5 413.2h0M643.3 400.4h0M643.5 395.2h0M643.6 396.2h0M644.1 402.2h0M644.2 410.3h0M644.6 414.6h0M644.7 409.9h0M645.8 401.3h0M645.9 406.2h0M646.0 395.8h0M646.9 406.4h0M647.2 410.1h0M647.5 392.5h0M648.0 398.2h0M648.4 396.1h0M649.3 394.7h0M649.4 398.7h0M649.8 403.9h0M650.4 397.4h0M650.9 391.9h0M651.0 391.6h0M651.2 393.1h0M651.6 389.7h0M652.2 408.3h0M652.7 401.8h0M653.6 406.4h0M653.8 397.6h0M653.9 397.7h0M654.2 395.0h0M654.8 393.4h0M656.5 417.3h0M656.6 399.3h0M658.2 390.5h0M659.3 403.6h0M659.4 408.2h0M659.6 396.9h0M660.6 398.9h0M661.1 398.5h0M661.3 399.9h0M661.4 402.8h0M662.0 400.9h0M662.1 395.1h0M662.4 398.4h0M662.4 407.0h0M662.6 401.0h0M662.7 397.8h0M662.8 393.0h0M662.8 410.3h0M663.0 401.3h0M663.1 394.7h0M663.1 399.5h0M663.2 405.4h0M663.8 399.0h0M664.0 403.5h0M664.5 394.6h0M665.0 398.2h0M665.6 397.0h0M665.9 391.5h0M666.1 402.6h0M666.2 406.2h0M666.7 401.2h0M666.9 390.4h0M667.3 394.6h0M667.5 399.4h0M667.6 404.6h0M667.7 407.9h0M667.8 400.8h0M667.9 397.3h0M668.0 408.0h0M668.0 402.4h0M668.1 403.1h0M668.5 398.8h0M668.8 393.9h0M669.0 391.0h0M669.2 397.2h0M669.5 399.3h0M669.6 398.8h0M669.7 394.1h0M669.7 390.5h0M670.3 397.9h0M670.5 395.4h0M671.3 397.1h0M671.6 397.8h0M671.7 393.4h0M671.9 389.5h0M672.3 392.7h0M672.3 400.1h0M672.5 400.7h0" stroke="#ff0000" stroke-width="2.3" stroke-linecap="round"/>
<path d="M509.5 411.1h0M556.6 426.6h0M564.1 440.2h0M582.3 429.8h0M583.9 433.8h0M603.6 432.0h0M604.4 415.5h0M606.4 414.9h0M608.9 432.1h0M610.6 423.9h0M611.2 427.5h0M612.3 426.2h0M622.2 420.1h0M623.9 422.0h0M627.4 416.6h0M628.3 413.5h0M631.0 427.3h0M631.5 426.6h0M632.2 432.5h0M633.4 412.9h0M633.7 406.8h0M635.0 415.6h0M635.3 416.7h0M635.7 398.1h0M636.9 411.0h0M637.4 417.1h0M637.6 423.6h0M638.9 426.0h0M639.7 426.7h0M639.9 413.9h0M640.0 427.4h0M641.6 414.5h0M644.1 415.2h0M644.7 428.9h0M645.5 413.7h0M646.0 417.7h0M647.0 418.7h0M648.3 415.9h0M648.4 426.5h0M648.8 421.0h0M649.7 408.2h0M650.3 418.1h0M651.0 403.7h0M652.0 413.2h0M652.9 413.3h0M653.2 414.0h0M654.1 417.7h0M654.2 407.2h0M654.7 413.8h0M655.0 408.6h0M655.1 425.5h0M655.3 408.8h0M655.4 414.7h0M655.7 406.0h0M655.8 417.4h0M656.6 414.1h0M656.7 409.0h0M657.0 419.3h0M657.4 421.0h0M657.8 418.1h0M658.2 415.1h0M658.4 409.5h0M658.6 414.4h0M658.9 416.1h0M659.7 415.9h0M659.8 415.3h0M660.0 423.7h0M660.2 424.8h0M660.3 419.5h0M660.3 418.0h0M660.8 411.7h0M660.9 428.6h0M661.3 417.5h0M661.5 410.5h0M661.6 403.0h0M661.7 418.1h0M661.8 408.2h0M662.0 400.1h0M662.4 414.9h0M662.5 415.2h0M662.7 418.0h0M662.8 419.7h0M664.0 415.4h0M664.2 410.8h0M664.3 417.5h0M664.6 404.6h0M665.0 414.4h0M665.0 406.2h0M665.2 406.0h0M665.4 409.9h0M665.5 408.3h0M666.0 404.3h0M666.4 417.5h0M666.6 412.1h0M666.7 408.5h0M667.0 406.7h0M667.2 397.1h0M667.8 428.2h0M667.8 422.9h0M668.0 407.9h0M668.1 416.8h0M668.3 405.2h0M668.3 410.4h0M668.5 416.8h0M668.8 409.5h0M669.1 418.1h0M669.4 404.1h0M669.7 405.0h0M669.8 410.4h0M669.9 400.1h0M670.1 415.1h0M670.1 402.9h0M670.3 412.1h0M670.3 400.6h0M670.5 407.9h0M670.6 417.1h0M670.8 412.3h0M671.1 408.7h0M671.2 409.8h0M671.3 408.2h0M671.6 402.4h0M671.9 403.3h0M672.3 416.5h0M672.8 410.2h0" stroke="#000000" stroke-width="2.3" stroke-linecap="round"/>
<path d="M538.4 430.3h0M545.9 443.7h0M551.8 440.6h0M574.8 438.1h0M582.3 436.8h0M588.2 440.7h0M591.9 431.9h0M596.1 428.4h0M599.7 425.7h0M600.5 428.4h0M607.1 433.0h0M608.9 416.1h0M611.2 426.7h0M612.8 435.8h0M617.9 425.2h0M621.5 421.6h0M622.6 422.4h0M622.9 438.2h0M623.6 426.8h0M624.3 416.3h0M624.9 424.4h0M629.9 412.2h0M630.5 412.4h0M630.7 412.2h0M631.5 423.3h0M634.8 416.0h0M635.0 414.0h0M636.5 416.2h0M636.9 409.9h0M637.4 415.0h0M637.6 410.5h0M638.7 414.3h0M639.1 412.7h0M639.5 408.3h0M641.1 411.2h0M641.6 418.2h0M642.1 414.0h0M643.9 409.6h0M644.1 411.9h0M644.7 408.3h0M644.9 405.9h0M645.0 415.4h0M645.2 397.3h0M645.9 410.6h0M646.3 404.6h0M646.8 406.3h0M648.5 407.3h0M649.4 404.6h0M649.6 416.5h0M650.4 408.0h0M650.8 408.4h0M651.5 412.0h0M651.9 407.9h0M652.0 417.5h0M652.5 404.0h0M653.0 403.9h0M653.6 405.8h0M654.7 422.2h0M654.8 431.6h0M655.5 423.8h0M656.2 422.8h0M657.3 411.2h0M658.0 415.7h0M658.1 419.2h0M658.8 423.5h0M659.0 401.9h0M659.7 411.5h0M659.7 402.6h0M659.8 396.8h0M660.1 401.3h0M660.3 417.9h0M660.4 408.1h0M660.5 408.8h0M661.7 399.8h0M662.1 422.4h0M663.0 412.6h0M663.1 413.6h0M663.8 411.6h0M663.9 420.5h0M664.8 409.5h0M665.0 412.5h0M665.2 423.3h0M666.5 411.5h0M666.7 414.8h0M666.9 422.9h0M667.2 427.2h0M667.3 404.8h0M667.5 408.1h0M667.7 413.0h0M668.6 404.5h0M668.6 403.6h0M668.7 396.9h0M669.6 408.1h0M669.8 411.2h0M670.1 406.2h0M670.7 406.2h0M670.9 405.5h0M671.2 420.9h0M671.2 410.2h0M671.3 398.4h0M671.5 396.3h0M671.7 409.6h0M672.0 424.2h0M672.0 421.3h0M672.1 412.5h0M672.5 414.3h0M672.5 413.7h0" stroke="#0000ff" stroke-width="2.3" stroke-linecap="round"/>
<path d="M527.7 399.3h0M567.2 425.0h0M595.1 429.1h0M598.8 422.1h0M600.5 415.6h0M601.4 421.1h0M605.1 422.4h0M605.7 415.6h0M608.3 403.8h0M611.2 416.5h0M612.8 419.9h0M613.3 422.8h0M613.8 420.0h0M615.7 413.5h0M618.3 418.4h0M618.7 416.3h0M619.6 414.0h0M619.9 416.9h0M621.5 406.3h0M623.3 408.9h0M623.9 409.0h0M625.6 406.6h0M626.5 404.6h0M627.1 417.0h0M627.7 404.9h0M631.2 418.3h0M631.7 404.5h0M632.0 404.5h0M633.4 401.4h0M633.7 400.1h0M634.8 406.1h0M635.0 394.6h0M635.3 403.2h0M636.1 401.8h0M639.9 411.9h0M640.6 411.9h0M640.8 408.0h0M641.8 400.7h0M642.1 413.2h0M642.3 413.6h0M642.8 401.1h0M643.9 396.0h0M644.4 400.1h0M645.0 404.7h0M645.2 409.6h0M646.2 397.3h0M646.6 400.8h0M647.0 400.4h0M647.6 407.8h0M648.1 404.2h0M648.3 405.1h0M648.5 402.0h0M648.7 402.5h0M648.8 401.5h0M648.9 394.4h0M649.2 393.6h0M649.7 398.7h0M650.1 397.4h0M650.3 398.2h0M650.6 402.2h0M650.7 401.8h0M652.8 414.8h0M652.9 397.9h0M653.1 405.0h0M653.2 397.6h0M653.3 393.2h0M653.7 400.1h0M654.0 401.0h0M654.4 400.8h0M654.6 392.6h0M654.7 394.7h0M654.9 398.2h0M655.6 391.5h0M655.7 395.3h0M656.0 392.9h0M656.1 402.6h0M657.0 396.4h0M657.6 393.6h0M657.9 407.8h0M658.0 398.5h0M658.1 397.8h0M658.5 392.7h0M658.9 390.0h0M659.0 393.6h0M659.2 393.2h0M659.9 399.6h0M660.1 399.5h0M660.2 400.0h0M660.4 391.2h0M661.3 400.4h0M661.6 403.1h0M661.7 401.8h0M662.3 402.3h0M662.9 394.7h0M663.3 395.0h0M663.7 411.1h0M664.3 392.9h0M664.7 393.1h0M665.1 402.8h0M665.2 398.0h0M665.4 395.0h0M665.5 405.7h0M665.7 404.2h0M665.7 393.5h0M666.0 394.5h0M666.1 406.3h0M666.3 401.7h0M666.3 395.1h0M666.4 405.3h0M666.5 407.9h0M666.8 397.5h0M667.1 391.8h0M667.2 395.7h0M667.4 394.1h0M667.5 399.3h0M667.8 400.7h0M668.6 401.8h0M668.9 393.2h0M669.1 394.7h0M669.3 398.4h0M669.3 396.0h0M669.4 393.5h0M669.4 401.2h0M669.9 397.5h0M670.0 393.9h0M670.4 397.6h0M670.5 395.9h0M671.2 398.9h0M671.8 397.7h0M671.9 396.9h0M672.2 400.5h0M672.4 394.5h0M672.7 388.9h0" stroke="#ff0000" stroke-width="2.3" stroke-linecap="round"/>
<path d="M545.9 430.5h0M578.8 438.1h0M593.0 428.0h0M596.1 428.8h0M599.7 445.9h0M607.1 433.8h0M609.5 426.3h0M614.3 432.2h0M615.2 433.8h0M619.6 425.3h0M619.9 429.7h0M620.3 426.0h0M621.1 432.3h0M621.5 428.6h0M621.8 423.8h0M624.9 414.6h0M625.3 410.3h0M625.9 418.6h0M626.2 405.7h0M630.2 423.7h0M635.9 412.3h0M636.7 411.1h0M637.2 422.1h0M638.1 430.7h0M640.2 426.9h0M640.6 427.2h0M640.9 417.8h0M642.1 411.7h0M642.3 417.3h0M643.0 421.7h0M644.2 413.3h0M644.4 421.3h0M645.0 412.6h0M645.3 422.1h0M645.8 404.5h0M646.3 415.9h0M647.5 412.7h0M647.7 420.6h0M648.1 417.2h0M649.8 407.8h0M649.9 419.3h0M650.2 414.3h0M650.7 419.1h0M650.9 410.2h0M651.2 410.2h0M651.3 410.6h0M651.5 410.1h0M651.6 410.7h0M653.1 422.2h0M653.8 417.8h0M654.5 409.7h0M656.2 414.7h0M656.5 409.3h0M657.3 420.4h0M657.5 418.7h0M658.0 412.6h0M658.7 410.8h0M659.1 420.5h0M659.3 401.0h0M659.7 412.3h0M659.9 416.2h0M661.4 417.1h0M662.3 416.0h0M662.6 422.1h0M663.3 412.3h0M663.9 417.6h0M664.0 417.6h0M664.4 409.7h0M664.8 403.0h0M665.1 412.9h0M666.1 411.5h0M666.2 405.0h0M666.3 404.9h0M666.3 415.6h0M666.5 417.2h0M667.3 399.7h0M667.6 415.4h0M667.6 414.1h0M667.7 420.6h0M668.6 421.9h0M668.9 404.0h0M669.1 412.8h0M669.5 408.5h0M669.8 406.0h0M670.0 404.0h0M670.4 409.3h0M670.8 412.9h0M670.9 409.8h0M671.2 412.6h0M671.3 411.7h0M671.4 413.9h0M672.4 411.0h0M672.5 412.7h0M672.6 402.8h0" stroke="#000000" stroke-width="2.3" stroke-linecap="round"/>
<path d="M509.5 426.2h0M564.1 426.6h0M567.2 427.7h0M570.0 433.6h0M578.8 434.4h0M594.1 431.9h0M595.1 433.6h0M602.1 422.5h0M604.4 429.2h0M605.1 442.9h0M607.7 422.2h0M612.3 421.9h0M613.8 426.9h0M615.7 422.1h0M616.6 425.3h0M618.7 425.3h0M619.9 421.3h0M622.2 427.9h0M625.9 420.9h0M627.4 411.0h0M628.3 423.2h0M628.6 415.7h0M632.5 416.1h0M633.7 419.7h0M635.3 425.7h0M635.7 432.9h0M638.3 402.5h0M638.5 413.4h0M638.9 418.4h0M639.3 408.9h0M639.9 419.4h0M641.3 422.7h0M645.3 400.0h0M646.0 407.6h0M647.0 413.1h0M647.6 411.3h0M647.9 426.9h0M648.4 416.7h0M649.3 409.7h0M650.1 422.0h0M650.2 416.1h0M651.4 411.4h0M652.1 403.3h0M652.2 408.9h0M652.3 411.3h0M652.7 397.3h0M652.9 400.9h0M653.1 405.0h0M653.5 411.5h0M653.9 407.3h0M654.1 404.0h0M654.3 427.2h0M654.9 419.5h0M655.7 409.4h0M656.1 410.7h0M656.3 411.4h0M657.4 407.3h0M657.7 407.9h0M658.2 409.8h0M658.5 406.6h0M659.1 410.7h0M659.1 418.1h0M659.6 407.4h0M659.9 409.7h0M660.0 400.6h0M660.2 413.0h0M660.3 410.8h0M660.8 398.4h0M660.9 397.1h0M661.4 405.8h0M662.6 420.2h0M663.4 406.4h0M664.5 412.6h0M664.7 418.7h0M664.8 407.3h0M664.9 411.3h0M665.7 410.6h0M666.1 414.0h0M666.2 403.5h0M666.3 418.9h0M666.9 417.1h0M667.3 418.9h0M668.3 408.1h0M669.0 408.7h0M670.6 403.6h0M670.7 407.0h0M670.8 417.0h0M671.0 410.0h0M671.0 415.4h0M671.9 416.1h0" stroke="#0000ff" stroke-width="2.3" stroke-linecap="round"/>
<path d="M545.9 406.4h0M551.8 415.5h0M560.6 423.9h0M572.5 429.0h0M576.9 432.4h0M583.9 419.4h0M585.4 425.4h0M588.2 421.1h0M590.7 425.8h0M596.1 429.5h0M597.0 426.7h0M598.0 418.9h0M603.6 428.8h0M607.1 416.8h0M608.9 407.8h0M610.6 418.1h0M616.6 420.7h0M621.1 405.3h0M621.8 402.3h0M623.6 409.7h0M624.3 421.5h0M625.3 413.5h0M625.9 408.7h0M626.2 416.3h0M628.8 404.6h0M629.4 416.9h0M630.2 419.3h0M630.5 415.6h0M630.7 409.1h0M632.2 403.5h0M632.5 407.4h0M632.7 404.0h0M633.0 400.6h0M633.9 410.9h0M637.2 397.5h0M637.6 397.9h0M638.3 403.4h0M638.5 396.8h0M639.7 414.2h0M640.4 414.9h0M641.3 406.1h0M643.0 403.0h0M645.5 409.0h0M645.6 410.3h0M646.3 401.1h0M646.5 403.3h0M647.3 402.6h0M647.7 411.7h0M647.9 411.0h0M649.9 403.9h0M650.2 402.4h0M650.8 393.5h0M651.8 398.7h0M652.5 400.9h0M652.6 402.7h0M653.0 396.3h0M654.3 402.8h0M654.5 399.0h0M655.3 395.7h0M655.4 401.4h0M656.3 392.5h0M656.8 397.4h0M656.9 398.2h0M657.2 394.8h0M657.4 403.0h0M657.7 400.5h0M657.8 405.5h0M658.2 390.7h0M658.7 392.1h0M659.1 401.5h0M659.7 393.0h0M659.8 403.4h0M660.0 397.3h0M660.3 391.1h0M660.5 396.5h0M660.7 403.3h0M660.8 391.0h0M660.9 393.5h0M661.0 395.0h0M661.2 408.9h0M661.8 409.0h0M661.9 398.2h0M662.2 415.6h0M663.5 396.1h0M663.6 398.9h0M663.7 405.9h0M663.9 399.6h0M664.0 390.9h0M664.2 395.0h0M664.2 393.0h0M664.5 396.8h0M664.6 389.9h0M664.8 402.4h0M664.8 398.1h0M664.9 393.0h0M665.2 398.4h0M665.3 400.3h0M665.5 404.5h0M665.8 398.7h0M666.5 407.1h0M666.6 390.2h0M666.7 397.4h0M666.9 396.8h0M667.6 399.7h0M668.2 401.9h0M668.2 394.3h0M668.3 397.6h0M668.3 403.3h0M668.4 403.7h0M668.5 400.1h0M668.8 405.7h0M669.1 403.9h0M669.8 392.9h0M669.8 394.2h0M670.0 397.8h0M670.1 391.9h0M670.2 393.5h0M670.3 396.8h0M670.4 393.7h0M671.0 394.3h0M671.1 395.2h0M671.7 391.4h0M672.0 405.5h0M672.0 396.0h0M672.1 397.1h0M672.5 400.1h0M672.6 398.3h0" stroke="#ff0000" stroke-width="2.3" stroke-linecap="round"/>
</g>
<rect x="491.5" y="389.9" width="181.4" height="106.2" fill="none" stroke="#1a1a1a" stroke-width="1.05"/>
<text x="74.35" y="20" text-anchor="middle" font-size="11.5" textLength="15.3" lengthAdjust="spacingAndGlyphs">(a)</text>
<text x="147.35" y="98.9" text-anchor="middle" font-size="11.5" textLength="22.92" lengthAdjust="spacingAndGlyphs">ACC</text>
<text x="149.1" y="111.2" text-anchor="middle" font-size="11.5" textLength="75.24" lengthAdjust="spacingAndGlyphs">Displacement</text>
<text x="74.35" y="147.7" text-anchor="middle" font-size="11.5" textLength="15.3" lengthAdjust="spacingAndGlyphs">(b)</text>
<text x="147.35" y="226.6" text-anchor="middle" font-size="11.5" textLength="22.92" lengthAdjust="spacingAndGlyphs">ACC</text>
<text x="149.1" y="238.9" text-anchor="middle" font-size="11.5" textLength="42.93" lengthAdjust="spacingAndGlyphs">Velocity</text>
<text x="74.35" y="275.5" text-anchor="middle" font-size="11.5" textLength="15.3" lengthAdjust="spacingAndGlyphs">(c)</text>
<text x="147.35" y="354.1" text-anchor="middle" font-size="11.5" textLength="22.92" lengthAdjust="spacingAndGlyphs">ACC</text>
<text x="147.35" y="366.4" text-anchor="middle" font-size="11.5" textLength="98.23" lengthAdjust="spacingAndGlyphs">Position Error PSD</text>
<text x="74.35" y="403.4" text-anchor="middle" font-size="11.5" textLength="15.3" lengthAdjust="spacingAndGlyphs">(d)</text>
<text x="147.35" y="481.8" text-anchor="middle" font-size="11.5" textLength="22.92" lengthAdjust="spacingAndGlyphs">ACC</text>
<text x="147.35" y="494.1" text-anchor="middle" font-size="11.5" textLength="102.6" lengthAdjust="spacingAndGlyphs">Response Function</text>
<text x="291.9" y="20" text-anchor="middle" font-size="11.5" textLength="15.3" lengthAdjust="spacingAndGlyphs">(e)</text>
<text x="364.9" y="98.9" text-anchor="middle" font-size="11.5" textLength="63.54" lengthAdjust="spacingAndGlyphs">ACC+GYRO</text>
<text x="366.65" y="111.2" text-anchor="middle" font-size="11.5" textLength="75.24" lengthAdjust="spacingAndGlyphs">Displacement</text>
<text x="291.9" y="147.7" text-anchor="middle" font-size="11.5" textLength="12.6" lengthAdjust="spacingAndGlyphs">(f)</text>
<text x="364.9" y="226.6" text-anchor="middle" font-size="11.5" textLength="63.54" lengthAdjust="spacingAndGlyphs">ACC+GYRO</text>
<text x="366.65" y="238.9" text-anchor="middle" font-size="11.5" textLength="42.93" lengthAdjust="spacingAndGlyphs">Velocity</text>
<text x="291.9" y="275.5" text-anchor="middle" font-size="11.5" textLength="15.3" lengthAdjust="spacingAndGlyphs">(g)</text>
<text x="364.9" y="354.1" text-anchor="middle" font-size="11.5" textLength="63.54" lengthAdjust="spacingAndGlyphs">ACC+GYRO</text>
<text x="364.9" y="366.4" text-anchor="middle" font-size="11.5" textLength="98.23" lengthAdjust="spacingAndGlyphs">Position Error PSD</text>
<text x="291.9" y="403.4" text-anchor="middle" font-size="11.5" textLength="15.3" lengthAdjust="spacingAndGlyphs">(h)</text>
<text x="364.9" y="481.8" text-anchor="middle" font-size="11.5" textLength="63.54" lengthAdjust="spacingAndGlyphs">ACC+GYRO</text>
<text x="364.9" y="494.1" text-anchor="middle" font-size="11.5" textLength="102.6" lengthAdjust="spacingAndGlyphs">Response Function</text>
<text x="509.4" y="20" text-anchor="middle" font-size="11.5" textLength="11.8" lengthAdjust="spacingAndGlyphs">(i)</text>
<text x="582.4" y="98.9" text-anchor="middle" font-size="11.5" textLength="34" lengthAdjust="spacingAndGlyphs">INTEG</text>
<text x="584.15" y="111.2" text-anchor="middle" font-size="11.5" textLength="75.24" lengthAdjust="spacingAndGlyphs">Displacement</text>
<text x="509.4" y="147.7" text-anchor="middle" font-size="11.5" textLength="11.8" lengthAdjust="spacingAndGlyphs">(j)</text>
<text x="582.4" y="226.6" text-anchor="middle" font-size="11.5" textLength="34" lengthAdjust="spacingAndGlyphs">INTEG</text>
<text x="584.15" y="238.9" text-anchor="middle" font-size="11.5" textLength="42.93" lengthAdjust="spacingAndGlyphs">Velocity</text>
<text x="509.4" y="275.5" text-anchor="middle" font-size="11.5" textLength="15.3" lengthAdjust="spacingAndGlyphs">(k)</text>
<text x="582.4" y="354.1" text-anchor="middle" font-size="11.5" textLength="34" lengthAdjust="spacingAndGlyphs">INTEG</text>
<text x="582.4" y="366.4" text-anchor="middle" font-size="11.5" textLength="98.23" lengthAdjust="spacingAndGlyphs">Position Error PSD</text>
<text x="509.4" y="403.4" text-anchor="middle" font-size="11.5" textLength="11.8" lengthAdjust="spacingAndGlyphs">(l)</text>
<text x="582.4" y="481.8" text-anchor="middle" font-size="11.5" textLength="34" lengthAdjust="spacingAndGlyphs">INTEG</text>
<text x="582.4" y="494.1" text-anchor="middle" font-size="11.5" textLength="102.6" lengthAdjust="spacingAndGlyphs">Response Function</text>
<text x="133.88" y="20.1" text-anchor="start" font-size="11.5" textLength="23.6" lengthAdjust="spacingAndGlyphs">RMS</text>
<text x="157.18" y="21.55" font-size="8.2" font-style="italic" textLength="6.3" lengthAdjust="spacingAndGlyphs">N</text>
<path d="M166.78 15.5h7.5M166.78 18.3h7.5" stroke="#000" stroke-width="1.05"/>
<text x="177.28" y="20.1" text-anchor="start" font-size="11.5" textLength="30.6" lengthAdjust="spacingAndGlyphs">41.74</text>
<text x="211.48" y="20.1" text-anchor="start" font-size="11.5" textLength="22.3" lengthAdjust="spacingAndGlyphs">mm</text>
<text x="133.88" y="30.5" text-anchor="start" font-size="11.5" textLength="23.6" lengthAdjust="spacingAndGlyphs">RMS</text>
<text x="157.18" y="31.95" font-size="8.2" font-style="italic" textLength="6.3" lengthAdjust="spacingAndGlyphs">E</text>
<path d="M166.78 25.9h7.5M166.78 28.7h7.5" stroke="#000" stroke-width="1.05"/>
<text x="177.28" y="30.5" text-anchor="start" font-size="11.5" textLength="30.6" lengthAdjust="spacingAndGlyphs">23.39</text>
<text x="211.48" y="30.5" text-anchor="start" font-size="11.5" textLength="22.3" lengthAdjust="spacingAndGlyphs">mm</text>
<text x="137.38" y="40.9" text-anchor="start" font-size="11.5" textLength="23.6" lengthAdjust="spacingAndGlyphs">RMS</text>
<text x="160.68" y="42.35" font-size="8.2" font-style="italic" textLength="6.3" lengthAdjust="spacingAndGlyphs">D</text>
<path d="M170.28 36.3h7.5M170.28 39.1h7.5" stroke="#000" stroke-width="1.05"/>
<text x="180.78" y="40.9" text-anchor="start" font-size="11.5" textLength="23.6" lengthAdjust="spacingAndGlyphs">8.24</text>
<text x="207.98" y="40.9" text-anchor="start" font-size="11.5" textLength="22.3" lengthAdjust="spacingAndGlyphs">mm</text>
<text x="351.43" y="20.1" text-anchor="start" font-size="11.5" textLength="23.6" lengthAdjust="spacingAndGlyphs">RMS</text>
<text x="374.73" y="21.55" font-size="8.2" font-style="italic" textLength="6.3" lengthAdjust="spacingAndGlyphs">N</text>
<path d="M384.33 15.5h7.5M384.33 18.3h7.5" stroke="#000" stroke-width="1.05"/>
<text x="394.83" y="20.1" text-anchor="start" font-size="11.5" textLength="30.6" lengthAdjust="spacingAndGlyphs">41.00</text>
<text x="429.03" y="20.1" text-anchor="start" font-size="11.5" textLength="22.3" lengthAdjust="spacingAndGlyphs">mm</text>
<text x="351.43" y="30.5" text-anchor="start" font-size="11.5" textLength="23.6" lengthAdjust="spacingAndGlyphs">RMS</text>
<text x="374.73" y="31.95" font-size="8.2" font-style="italic" textLength="6.3" lengthAdjust="spacingAndGlyphs">E</text>
<path d="M384.33 25.9h7.5M384.33 28.7h7.5" stroke="#000" stroke-width="1.05"/>
<text x="394.83" y="30.5" text-anchor="start" font-size="11.5" textLength="30.6" lengthAdjust="spacingAndGlyphs">22.34</text>
<text x="429.03" y="30.5" text-anchor="start" font-size="11.5" textLength="22.3" lengthAdjust="spacingAndGlyphs">mm</text>
<text x="354.93" y="40.9" text-anchor="start" font-size="11.5" textLength="23.6" lengthAdjust="spacingAndGlyphs">RMS</text>
<text x="378.23" y="42.35" font-size="8.2" font-style="italic" textLength="6.3" lengthAdjust="spacingAndGlyphs">D</text>
<path d="M387.83 36.3h7.5M387.83 39.1h7.5" stroke="#000" stroke-width="1.05"/>
<text x="398.33" y="40.9" text-anchor="start" font-size="11.5" textLength="23.6" lengthAdjust="spacingAndGlyphs">8.30</text>
<text x="425.53" y="40.9" text-anchor="start" font-size="11.5" textLength="22.3" lengthAdjust="spacingAndGlyphs">mm</text>
<text x="572.43" y="20.1" text-anchor="start" font-size="11.5" textLength="23.6" lengthAdjust="spacingAndGlyphs">RMS</text>
<text x="595.73" y="21.55" font-size="8.2" font-style="italic" textLength="6.3" lengthAdjust="spacingAndGlyphs">N</text>
<path d="M605.33 15.5h7.5M605.33 18.3h7.5" stroke="#000" stroke-width="1.05"/>
<text x="615.83" y="20.1" text-anchor="start" font-size="11.5" textLength="23.6" lengthAdjust="spacingAndGlyphs">0.64</text>
<text x="643.03" y="20.1" text-anchor="start" font-size="11.5" textLength="22.3" lengthAdjust="spacingAndGlyphs">mm</text>
<text x="572.43" y="30.5" text-anchor="start" font-size="11.5" textLength="23.6" lengthAdjust="spacingAndGlyphs">RMS</text>
<text x="595.73" y="31.95" font-size="8.2" font-style="italic" textLength="6.3" lengthAdjust="spacingAndGlyphs">E</text>
<path d="M605.33 25.9h7.5M605.33 28.7h7.5" stroke="#000" stroke-width="1.05"/>
<text x="615.83" y="30.5" text-anchor="start" font-size="11.5" textLength="23.6" lengthAdjust="spacingAndGlyphs">0.70</text>
<text x="643.03" y="30.5" text-anchor="start" font-size="11.5" textLength="22.3" lengthAdjust="spacingAndGlyphs">mm</text>
<text x="572.43" y="40.9" text-anchor="start" font-size="11.5" textLength="23.6" lengthAdjust="spacingAndGlyphs">RMS</text>
<text x="595.73" y="42.35" font-size="8.2" font-style="italic" textLength="6.3" lengthAdjust="spacingAndGlyphs">D</text>
<path d="M605.33 36.3h7.5M605.33 39.1h7.5" stroke="#000" stroke-width="1.05"/>
<text x="615.83" y="40.9" text-anchor="start" font-size="11.5" textLength="23.6" lengthAdjust="spacingAndGlyphs">0.56</text>
<text x="643.03" y="40.9" text-anchor="start" font-size="11.5" textLength="22.3" lengthAdjust="spacingAndGlyphs">mm</text>
<text x="132.38" y="147.8" text-anchor="start" font-size="11.5" textLength="23.6" lengthAdjust="spacingAndGlyphs">RMS</text>
<text x="155.68" y="149.25" font-size="8.2" font-style="italic" textLength="6.3" lengthAdjust="spacingAndGlyphs">N</text>
<path d="M165.28 143.2h7.5M165.28 146h7.5" stroke="#000" stroke-width="1.05"/>
<text x="175.78" y="147.8" text-anchor="start" font-size="11.5" textLength="23.6" lengthAdjust="spacingAndGlyphs">1.68</text>
<text x="202.98" y="147.8" text-anchor="start" font-size="11.5" textLength="32.3" lengthAdjust="spacingAndGlyphs">mm/s</text>
<text x="132.38" y="158.2" text-anchor="start" font-size="11.5" textLength="23.6" lengthAdjust="spacingAndGlyphs">RMS</text>
<text x="155.68" y="159.65" font-size="8.2" font-style="italic" textLength="6.3" lengthAdjust="spacingAndGlyphs">E</text>
<path d="M165.28 153.6h7.5M165.28 156.4h7.5" stroke="#000" stroke-width="1.05"/>
<text x="175.78" y="158.2" text-anchor="start" font-size="11.5" textLength="23.6" lengthAdjust="spacingAndGlyphs">1.18</text>
<text x="202.98" y="158.2" text-anchor="start" font-size="11.5" textLength="32.3" lengthAdjust="spacingAndGlyphs">mm/s</text>
<text x="132.38" y="168.6" text-anchor="start" font-size="11.5" textLength="23.6" lengthAdjust="spacingAndGlyphs">RMS</text>
<text x="155.68" y="170.05" font-size="8.2" font-style="italic" textLength="6.3" lengthAdjust="spacingAndGlyphs">D</text>
<path d="M165.28 164h7.5M165.28 166.8h7.5" stroke="#000" stroke-width="1.05"/>
<text x="175.78" y="168.6" text-anchor="start" font-size="11.5" textLength="23.6" lengthAdjust="spacingAndGlyphs">0.49</text>
<text x="202.98" y="168.6" text-anchor="start" font-size="11.5" textLength="32.3" lengthAdjust="spacingAndGlyphs">mm/s</text>
<text x="349.93" y="147.8" text-anchor="start" font-size="11.5" textLength="23.6" lengthAdjust="spacingAndGlyphs">RMS</text>
<text x="373.23" y="149.25" font-size="8.2" font-style="italic" textLength="6.3" lengthAdjust="spacingAndGlyphs">N</text>
<path d="M382.83 143.2h7.5M382.83 146h7.5" stroke="#000" stroke-width="1.05"/>
<text x="393.33" y="147.8" text-anchor="start" font-size="11.5" textLength="23.6" lengthAdjust="spacingAndGlyphs">1.67</text>
<text x="420.53" y="147.8" text-anchor="start" font-size="11.5" textLength="32.3" lengthAdjust="spacingAndGlyphs">mm/s</text>
<text x="349.93" y="158.2" text-anchor="start" font-size="11.5" textLength="23.6" lengthAdjust="spacingAndGlyphs">RMS</text>
<text x="373.23" y="159.65" font-size="8.2" font-style="italic" textLength="6.3" lengthAdjust="spacingAndGlyphs">E</text>
<path d="M382.83 153.6h7.5M382.83 156.4h7.5" stroke="#000" stroke-width="1.05"/>
<text x="393.33" y="158.2" text-anchor="start" font-size="11.5" textLength="23.6" lengthAdjust="spacingAndGlyphs">1.13</text>
<text x="420.53" y="158.2" text-anchor="start" font-size="11.5" textLength="32.3" lengthAdjust="spacingAndGlyphs">mm/s</text>
<text x="349.93" y="168.6" text-anchor="start" font-size="11.5" textLength="23.6" lengthAdjust="spacingAndGlyphs">RMS</text>
<text x="373.23" y="170.05" font-size="8.2" font-style="italic" textLength="6.3" lengthAdjust="spacingAndGlyphs">D</text>
<path d="M382.83 164h7.5M382.83 166.8h7.5" stroke="#000" stroke-width="1.05"/>
<text x="393.33" y="168.6" text-anchor="start" font-size="11.5" textLength="23.6" lengthAdjust="spacingAndGlyphs">0.47</text>
<text x="420.53" y="168.6" text-anchor="start" font-size="11.5" textLength="32.3" lengthAdjust="spacingAndGlyphs">mm/s</text>
<text x="567.43" y="147.8" text-anchor="start" font-size="11.5" textLength="23.6" lengthAdjust="spacingAndGlyphs">RMS</text>
<text x="590.73" y="149.25" font-size="8.2" font-style="italic" textLength="6.3" lengthAdjust="spacingAndGlyphs">N</text>
<path d="M600.33 143.2h7.5M600.33 146h7.5" stroke="#000" stroke-width="1.05"/>
<text x="610.83" y="147.8" text-anchor="start" font-size="11.5" textLength="23.6" lengthAdjust="spacingAndGlyphs">0.14</text>
<text x="638.03" y="147.8" text-anchor="start" font-size="11.5" textLength="32.3" lengthAdjust="spacingAndGlyphs">mm/s</text>
<text x="567.43" y="158.2" text-anchor="start" font-size="11.5" textLength="23.6" lengthAdjust="spacingAndGlyphs">RMS</text>
<text x="590.73" y="159.65" font-size="8.2" font-style="italic" textLength="6.3" lengthAdjust="spacingAndGlyphs">E</text>
<path d="M600.33 153.6h7.5M600.33 156.4h7.5" stroke="#000" stroke-width="1.05"/>
<text x="610.83" y="158.2" text-anchor="start" font-size="11.5" textLength="23.6" lengthAdjust="spacingAndGlyphs">0.16</text>
<text x="638.03" y="158.2" text-anchor="start" font-size="11.5" textLength="32.3" lengthAdjust="spacingAndGlyphs">mm/s</text>
<text x="567.43" y="168.6" text-anchor="start" font-size="11.5" textLength="23.6" lengthAdjust="spacingAndGlyphs">RMS</text>
<text x="590.73" y="170.05" font-size="8.2" font-style="italic" textLength="6.3" lengthAdjust="spacingAndGlyphs">D</text>
<path d="M600.33 164h7.5M600.33 166.8h7.5" stroke="#000" stroke-width="1.05"/>
<text x="610.83" y="168.6" text-anchor="start" font-size="11.5" textLength="23.6" lengthAdjust="spacingAndGlyphs">0.14</text>
<text x="638.03" y="168.6" text-anchor="start" font-size="11.5" textLength="32.3" lengthAdjust="spacingAndGlyphs">mm/s</text>
<text transform="translate(18.7,59.85) rotate(-90)" x="0" y="0" text-anchor="middle" font-size="11.5" textLength="106.04" lengthAdjust="spacingAndGlyphs">Displacement (cm)</text>
<text transform="translate(18.7,187.55) rotate(-90)" x="0" y="0" text-anchor="middle" font-size="11.5" textLength="82.65" lengthAdjust="spacingAndGlyphs">Velocity (cm/s)</text>
<text transform="translate(11.6,315.2) rotate(-90)" x="0" y="0" text-anchor="middle" font-size="11.5" textLength="74.19" lengthAdjust="spacingAndGlyphs">PSD (cm²/Hz)</text>
<text transform="translate(16.6,443) rotate(-90)" x="0" y="0" text-anchor="middle" font-size="11.5" textLength="84.22" lengthAdjust="spacingAndGlyphs">Amplitude (dB)</text>
<text x="147.35" y="527.7" text-anchor="middle" font-size="11.5" textLength="148" lengthAdjust="spacingAndGlyphs">Time (s) or Frequency (Hz)</text>
<text x="364.9" y="527.7" text-anchor="middle" font-size="11.5" textLength="148" lengthAdjust="spacingAndGlyphs">Time (s) or Frequency (Hz)</text>
<text x="582.4" y="527.7" text-anchor="middle" font-size="11.5" textLength="148" lengthAdjust="spacingAndGlyphs">Time (s) or Frequency (Hz)</text>
</svg></body></html>
